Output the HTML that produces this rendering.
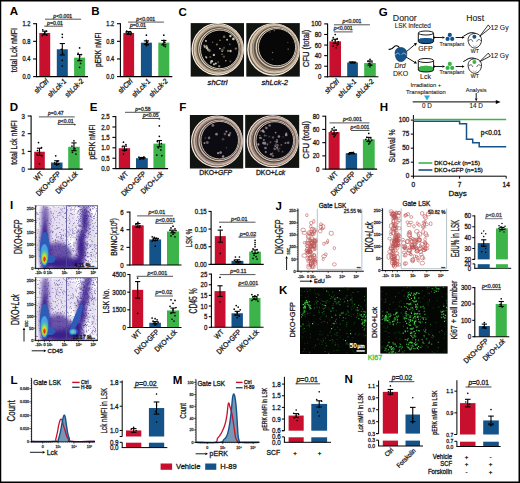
<!DOCTYPE html>
<html><head><meta charset="utf-8"><style>
html,body{margin:0;padding:0;background:#fff;}
svg{display:block;font-family:"Liberation Sans",sans-serif;}
</style></head><body>
<svg width="520" height="483" viewBox="0 0 520 483">
<rect x="0" y="0" width="520" height="483" fill="#fff"/>
<text font-size="10.5" font-weight="bold" fill="#000" transform="translate(9.70 15.30) scale(1.1 1)">A</text>
<rect x="39.30" y="32.96" width="10.90" height="43.64" fill="#c8102e"/>
<rect x="56.80" y="49.27" width="11.00" height="27.33" fill="#145389"/>
<rect x="74.10" y="57.64" width="11.00" height="18.96" fill="#3cb44a"/>
<circle cx="42.75" cy="29.87" r="0.85" fill="#000"/>
<circle cx="46.25" cy="31.19" r="0.85" fill="#000"/>
<circle cx="43.75" cy="34.28" r="0.85" fill="#000"/>
<circle cx="46.75" cy="35.16" r="0.85" fill="#000"/>
<circle cx="44.75" cy="32.52" r="0.85" fill="#000"/>
<circle cx="42.25" cy="35.60" r="0.85" fill="#000"/>
<line x1="44.75" y1="31.19" x2="44.75" y2="34.72" stroke="#000" stroke-width="1.1"/>
<line x1="42.15" y1="31.19" x2="47.35" y2="31.19" stroke="#000" stroke-width="1.1"/>
<line x1="42.15" y1="34.72" x2="47.35" y2="34.72" stroke="#000" stroke-width="1.1"/>
<circle cx="62.30" cy="34.28" r="0.85" fill="#000"/>
<circle cx="62.30" cy="37.37" r="0.85" fill="#000"/>
<circle cx="62.80" cy="53.24" r="0.85" fill="#000"/>
<circle cx="62.30" cy="60.29" r="0.85" fill="#000"/>
<circle cx="62.30" cy="66.02" r="0.85" fill="#000"/>
<circle cx="61.30" cy="49.27" r="0.85" fill="#000"/>
<line x1="62.30" y1="43.54" x2="62.30" y2="55.00" stroke="#000" stroke-width="1.1"/>
<line x1="59.70" y1="43.54" x2="64.90" y2="43.54" stroke="#000" stroke-width="1.1"/>
<line x1="59.70" y1="55.00" x2="64.90" y2="55.00" stroke="#000" stroke-width="1.1"/>
<circle cx="79.60" cy="47.95" r="0.85" fill="#000"/>
<circle cx="78.10" cy="53.24" r="0.85" fill="#000"/>
<circle cx="81.10" cy="54.56" r="0.85" fill="#000"/>
<circle cx="79.60" cy="56.32" r="0.85" fill="#000"/>
<circle cx="78.60" cy="60.29" r="0.85" fill="#000"/>
<circle cx="80.60" cy="63.38" r="0.85" fill="#000"/>
<circle cx="79.60" cy="67.34" r="0.85" fill="#000"/>
<line x1="79.60" y1="54.56" x2="79.60" y2="60.73" stroke="#000" stroke-width="1.1"/>
<line x1="77.00" y1="54.56" x2="82.20" y2="54.56" stroke="#000" stroke-width="1.1"/>
<line x1="77.00" y1="60.73" x2="82.20" y2="60.73" stroke="#000" stroke-width="1.1"/>
<line x1="36.50" y1="23.20" x2="36.50" y2="77.10" stroke="#000" stroke-width="1.1"/>
<line x1="36.00" y1="76.60" x2="88.00" y2="76.60" stroke="#000" stroke-width="1.1"/>
<line x1="33.10" y1="76.60" x2="36.50" y2="76.60" stroke="#000" stroke-width="1.1"/>
<text font-size="6.5" text-anchor="end" fill="#1a1a1a" stroke="#1a1a1a" stroke-width="0.3" transform="translate(30.30 78.94) scale(0.87 1)">0.0</text>
<line x1="33.10" y1="58.97" x2="36.50" y2="58.97" stroke="#000" stroke-width="1.1"/>
<text font-size="6.5" text-anchor="end" fill="#1a1a1a" stroke="#1a1a1a" stroke-width="0.3" transform="translate(30.30 61.31) scale(0.87 1)">0.4</text>
<line x1="33.10" y1="41.33" x2="36.50" y2="41.33" stroke="#000" stroke-width="1.1"/>
<text font-size="6.5" text-anchor="end" fill="#1a1a1a" stroke="#1a1a1a" stroke-width="0.3" transform="translate(30.30 43.67) scale(0.87 1)">0.8</text>
<line x1="33.10" y1="23.70" x2="36.50" y2="23.70" stroke="#000" stroke-width="1.1"/>
<text font-size="6.5" text-anchor="end" fill="#1a1a1a" stroke="#1a1a1a" stroke-width="0.3" transform="translate(30.30 26.04) scale(0.87 1)">1.2</text>
<line x1="45.00" y1="19.20" x2="81.10" y2="19.20" stroke="#555" stroke-width="1.0"/>
<text font-size="5.2" text-anchor="middle" fill="#333" stroke="#333" stroke-width="0.3" transform="translate(62.80 17.60)"><tspan font-style="italic">p</tspan>&lt;0.001</text>
<line x1="44.20" y1="26.20" x2="62.80" y2="26.20" stroke="#555" stroke-width="1.0"/>
<text font-size="5.2" text-anchor="middle" fill="#333" stroke="#333" stroke-width="0.3" transform="translate(55.00 24.60)"><tspan font-style="italic">p</tspan>=0.01</text>
<text font-size="9.29" text-anchor="middle" fill="#1a1a1a" stroke="#1a1a1a" stroke-width="0.3" transform="translate(16.80 50.10) rotate(-90) scale(0.761 1)">total Lck nMFI</text>
<text font-size="7.5" text-anchor="end" fill="#1a1a1a" stroke="#1a1a1a" stroke-width="0.3" transform="translate(49.10 81.70) rotate(-45) scale(0.87 1)"><tspan font-style="italic">shCtrl</tspan></text>
<text font-size="7.5" text-anchor="end" fill="#1a1a1a" stroke="#1a1a1a" stroke-width="0.3" transform="translate(66.70 81.70) rotate(-45) scale(0.87 1)"><tspan font-style="italic">shLck-1</tspan></text>
<text font-size="7.5" text-anchor="end" fill="#1a1a1a" stroke="#1a1a1a" stroke-width="0.3" transform="translate(84.00 81.70) rotate(-45) scale(0.87 1)"><tspan font-style="italic">shLck-2</tspan></text>
<text font-size="10.5" font-weight="bold" fill="#000" transform="translate(91.30 15.30) scale(1.1 1)">B</text>
<rect x="123.30" y="32.96" width="10.80" height="43.64" fill="#c8102e"/>
<rect x="140.90" y="42.66" width="11.00" height="33.94" fill="#145389"/>
<rect x="158.30" y="42.66" width="11.00" height="33.94" fill="#3cb44a"/>
<circle cx="126.70" cy="31.19" r="0.85" fill="#000"/>
<circle cx="130.20" cy="31.63" r="0.85" fill="#000"/>
<circle cx="127.70" cy="33.40" r="0.85" fill="#000"/>
<circle cx="130.70" cy="34.28" r="0.85" fill="#000"/>
<circle cx="128.70" cy="32.52" r="0.85" fill="#000"/>
<circle cx="126.20" cy="32.08" r="0.85" fill="#000"/>
<circle cx="131.20" cy="32.96" r="0.85" fill="#000"/>
<line x1="128.70" y1="31.63" x2="128.70" y2="34.28" stroke="#000" stroke-width="1.1"/>
<line x1="126.10" y1="31.63" x2="131.30" y2="31.63" stroke="#000" stroke-width="1.1"/>
<line x1="126.10" y1="34.28" x2="131.30" y2="34.28" stroke="#000" stroke-width="1.1"/>
<circle cx="146.40" cy="35.16" r="0.85" fill="#000"/>
<circle cx="146.40" cy="40.45" r="0.85" fill="#000"/>
<circle cx="147.40" cy="42.21" r="0.85" fill="#000"/>
<circle cx="145.40" cy="43.98" r="0.85" fill="#000"/>
<circle cx="146.40" cy="45.74" r="0.85" fill="#000"/>
<circle cx="147.90" cy="44.86" r="0.85" fill="#000"/>
<line x1="146.40" y1="40.89" x2="146.40" y2="44.42" stroke="#000" stroke-width="1.1"/>
<line x1="143.80" y1="40.89" x2="149.00" y2="40.89" stroke="#000" stroke-width="1.1"/>
<line x1="143.80" y1="44.42" x2="149.00" y2="44.42" stroke="#000" stroke-width="1.1"/>
<circle cx="163.80" cy="35.16" r="0.85" fill="#000"/>
<circle cx="163.80" cy="40.45" r="0.85" fill="#000"/>
<circle cx="164.80" cy="42.21" r="0.85" fill="#000"/>
<circle cx="162.80" cy="43.98" r="0.85" fill="#000"/>
<circle cx="163.80" cy="45.74" r="0.85" fill="#000"/>
<circle cx="165.30" cy="46.62" r="0.85" fill="#000"/>
<line x1="163.80" y1="40.45" x2="163.80" y2="44.86" stroke="#000" stroke-width="1.1"/>
<line x1="161.20" y1="40.45" x2="166.40" y2="40.45" stroke="#000" stroke-width="1.1"/>
<line x1="161.20" y1="44.86" x2="166.40" y2="44.86" stroke="#000" stroke-width="1.1"/>
<line x1="120.40" y1="23.20" x2="120.40" y2="77.10" stroke="#000" stroke-width="1.1"/>
<line x1="119.90" y1="76.60" x2="172.30" y2="76.60" stroke="#000" stroke-width="1.1"/>
<line x1="117.00" y1="76.60" x2="120.40" y2="76.60" stroke="#000" stroke-width="1.1"/>
<text font-size="6.5" text-anchor="end" fill="#1a1a1a" stroke="#1a1a1a" stroke-width="0.3" transform="translate(114.20 78.94) scale(0.87 1)">0.0</text>
<line x1="117.00" y1="58.97" x2="120.40" y2="58.97" stroke="#000" stroke-width="1.1"/>
<text font-size="6.5" text-anchor="end" fill="#1a1a1a" stroke="#1a1a1a" stroke-width="0.3" transform="translate(114.20 61.31) scale(0.87 1)">0.4</text>
<line x1="117.00" y1="41.33" x2="120.40" y2="41.33" stroke="#000" stroke-width="1.1"/>
<text font-size="6.5" text-anchor="end" fill="#1a1a1a" stroke="#1a1a1a" stroke-width="0.3" transform="translate(114.20 43.67) scale(0.87 1)">0.8</text>
<line x1="117.00" y1="23.70" x2="120.40" y2="23.70" stroke="#000" stroke-width="1.1"/>
<text font-size="6.5" text-anchor="end" fill="#1a1a1a" stroke="#1a1a1a" stroke-width="0.3" transform="translate(114.20 26.04) scale(0.87 1)">1.2</text>
<line x1="128.10" y1="22.10" x2="163.90" y2="22.10" stroke="#555" stroke-width="1.0"/>
<text font-size="5.2" text-anchor="middle" fill="#333" stroke="#333" stroke-width="0.3" transform="translate(145.70 20.50)"><tspan font-style="italic">p</tspan>&lt;0.001</text>
<line x1="129.20" y1="28.50" x2="146.30" y2="28.50" stroke="#555" stroke-width="1.0"/>
<text font-size="5.2" text-anchor="middle" fill="#333" stroke="#333" stroke-width="0.3" transform="translate(137.90 26.90)"><tspan font-style="italic">p</tspan>=0.01</text>
<text font-size="9.29" text-anchor="middle" fill="#1a1a1a" stroke="#1a1a1a" stroke-width="0.3" transform="translate(100.80 49.90) rotate(-90) scale(0.717 1)">pERK nMFI</text>
<text font-size="7.5" text-anchor="end" fill="#1a1a1a" stroke="#1a1a1a" stroke-width="0.3" transform="translate(133.10 81.70) rotate(-45) scale(0.87 1)"><tspan font-style="italic">shCtrl</tspan></text>
<text font-size="7.5" text-anchor="end" fill="#1a1a1a" stroke="#1a1a1a" stroke-width="0.3" transform="translate(150.80 81.70) rotate(-45) scale(0.87 1)"><tspan font-style="italic">shLck-1</tspan></text>
<text font-size="7.5" text-anchor="end" fill="#1a1a1a" stroke="#1a1a1a" stroke-width="0.3" transform="translate(168.20 81.70) rotate(-45) scale(0.87 1)"><tspan font-style="italic">shLck-2</tspan></text>
<filter id="bl03" x="-50%" y="-50%" width="200%" height="200%"><feGaussianBlur stdDeviation="0.35"/></filter>
<text font-size="10.5" font-weight="bold" fill="#000" transform="translate(178.50 15.80) scale(1.1 1)">C</text>
<rect x="190.70" y="23.10" width="53.30" height="53.50" fill="#121412"/>
<g filter="url(#bl03)">
<circle cx="217.70" cy="49.20" r="25.70" fill="#74685a"/>
<circle cx="217.76" cy="49.21" r="25.51" fill="none" stroke="#f4ece0" stroke-width="1.4" opacity="1"/>
<circle cx="218.01" cy="49.23" r="24.74" fill="none" stroke="#6a5e50" stroke-width="0.8" opacity="1"/>
<circle cx="218.33" cy="49.26" r="23.78" fill="none" stroke="#dcc8ae" stroke-width="2.2" opacity="0.95"/>
<circle cx="218.75" cy="49.30" r="22.50" fill="none" stroke="#a89680" stroke-width="1.4" opacity="1"/>
<circle cx="219.06" cy="49.33" r="21.54" fill="none" stroke="#54493e" stroke-width="0.9" opacity="1"/>
<circle cx="219.38" cy="49.36" r="20.58" fill="none" stroke="#e6d8c2" stroke-width="1.1" opacity="0.95"/>
<circle cx="219.65" cy="49.39" r="19.75" fill="none" stroke="#3e362e" stroke-width="0.8" opacity="1"/>
</g>
<circle cx="219.8" cy="49.4" r="19.3" fill="#070707" stroke="#d8d0c2" stroke-width="0.9"/>
<g filter="url(#bl03)">
<circle cx="230.4" cy="61.4" r="0.87" fill="rgb(96,90,74)"/>
<circle cx="208.2" cy="49.7" r="1.21" fill="rgb(177,171,155)"/>
<circle cx="222.2" cy="51.0" r="0.98" fill="rgb(179,173,157)"/>
<circle cx="219.9" cy="48.6" r="0.87" fill="rgb(194,188,172)"/>
<circle cx="224.1" cy="36.7" r="1.29" fill="rgb(106,100,84)"/>
<circle cx="222.5" cy="49.9" r="1.31" fill="rgb(82,76,60)"/>
<circle cx="213.9" cy="54.9" r="1.17" fill="rgb(188,182,166)"/>
<circle cx="204.8" cy="46.8" r="1.06" fill="rgb(206,200,184)"/>
<circle cx="211.7" cy="61.2" r="1.32" fill="rgb(197,191,175)"/>
<circle cx="229.8" cy="44.4" r="0.82" fill="rgb(105,99,83)"/>
<circle cx="235.9" cy="48.6" r="1.18" fill="rgb(110,104,88)"/>
<circle cx="233.4" cy="38.9" r="1.31" fill="rgb(208,202,186)"/>
<circle cx="205.8" cy="56.8" r="0.90" fill="rgb(128,122,106)"/>
<circle cx="205.9" cy="40.9" r="0.96" fill="rgb(209,203,187)"/>
<circle cx="227.1" cy="39.8" r="0.97" fill="rgb(183,177,161)"/>
<circle cx="225.8" cy="60.8" r="0.76" fill="rgb(175,169,153)"/>
<circle cx="216.9" cy="44.5" r="1.04" fill="rgb(121,115,99)"/>
<circle cx="210.3" cy="57.0" r="1.01" fill="rgb(87,81,65)"/>
<circle cx="214.0" cy="64.3" r="1.12" fill="rgb(180,174,158)"/>
<circle cx="223.9" cy="56.6" r="1.20" fill="rgb(83,77,61)"/>
<circle cx="204.2" cy="45.4" r="0.96" fill="rgb(139,133,117)"/>
<circle cx="210.9" cy="62.7" r="1.00" fill="rgb(170,164,148)"/>
<circle cx="218.2" cy="62.2" r="0.95" fill="rgb(81,75,59)"/>
<circle cx="230.4" cy="36.1" r="1.23" fill="rgb(211,205,189)"/>
<circle cx="206.9" cy="47.9" r="1.32" fill="rgb(189,183,167)"/>
<circle cx="209.4" cy="50.6" r="1.31" fill="rgb(131,125,109)"/>
<circle cx="206.4" cy="57.5" r="0.92" fill="rgb(186,180,164)"/>
<circle cx="206.5" cy="46.1" r="1.00" fill="rgb(164,158,142)"/>
<circle cx="228.0" cy="50.9" r="1.06" fill="rgb(125,119,103)"/>
<circle cx="222.0" cy="54.2" r="0.72" fill="rgb(145,139,123)"/>
<circle cx="224.1" cy="47.8" r="0.99" fill="rgb(84,78,62)"/>
<circle cx="220.0" cy="40.2" r="0.77" fill="rgb(148,142,126)"/>
<circle cx="212.6" cy="42.2" r="0.81" fill="rgb(97,91,75)"/>
<circle cx="219.2" cy="66.3" r="1.12" fill="rgb(149,143,127)"/>
<circle cx="215.8" cy="63.4" r="1.01" fill="rgb(207,201,185)"/>
<circle cx="230.5" cy="51.0" r="1.22" fill="rgb(187,181,165)"/>
</g>
<rect x="246.30" y="23.10" width="53.50" height="53.50" fill="#121412"/>
<g filter="url(#bl03)">
<circle cx="273.40" cy="49.50" r="25.80" fill="#74685a"/>
<circle cx="273.51" cy="49.43" r="25.58" fill="none" stroke="#f4ece0" stroke-width="1.4" opacity="1"/>
<circle cx="273.94" cy="49.16" r="24.72" fill="none" stroke="#6a5e50" stroke-width="0.8" opacity="1"/>
<circle cx="274.48" cy="48.81" r="23.64" fill="none" stroke="#dcc8ae" stroke-width="2.2" opacity="0.95"/>
<circle cx="275.20" cy="48.35" r="22.20" fill="none" stroke="#a89680" stroke-width="1.4" opacity="1"/>
<circle cx="275.74" cy="48.01" r="21.12" fill="none" stroke="#54493e" stroke-width="0.9" opacity="1"/>
<circle cx="276.28" cy="47.66" r="20.04" fill="none" stroke="#e6d8c2" stroke-width="1.1" opacity="0.95"/>
<circle cx="276.75" cy="47.36" r="19.10" fill="none" stroke="#3e362e" stroke-width="0.8" opacity="1"/>
</g>
<circle cx="277.0" cy="47.2" r="18.6" fill="#070707" stroke="#d8d0c2" stroke-width="0.9"/>
<g filter="url(#bl03)">
<circle cx="292.7" cy="42.8" r="0.54" fill="rgb(63,57,41)"/>
<circle cx="272.6" cy="52.5" r="0.77" fill="rgb(111,105,89)"/>
<circle cx="272.3" cy="59.4" r="0.51" fill="rgb(98,92,76)"/>
<circle cx="270.0" cy="32.0" r="0.66" fill="rgb(100,94,78)"/>
<circle cx="274.2" cy="30.7" r="0.65" fill="rgb(120,114,98)"/>
<circle cx="287.9" cy="42.5" r="0.51" fill="rgb(117,111,95)"/>
<circle cx="288.2" cy="49.2" r="0.86" fill="rgb(80,74,58)"/>
</g>
<text font-size="7.6" text-anchor="middle" font-style="italic" fill="#1a1a1a" stroke="#1a1a1a" stroke-width="0.3" transform="translate(217.50 84.80)">shCtrl</text>
<text font-size="7.6" text-anchor="middle" font-style="italic" fill="#1a1a1a" stroke="#1a1a1a" stroke-width="0.3" transform="translate(274.80 84.80)">shLck-2</text>
<rect x="329.40" y="41.36" width="11.60" height="35.44" fill="#c8102e"/>
<rect x="347.20" y="62.52" width="10.70" height="14.28" fill="#145389"/>
<rect x="364.20" y="63.05" width="11.60" height="13.75" fill="#3cb44a"/>
<circle cx="335.20" cy="34.48" r="0.85" fill="#000"/>
<circle cx="333.20" cy="37.65" r="0.85" fill="#000"/>
<circle cx="337.20" cy="38.71" r="0.85" fill="#000"/>
<circle cx="332.20" cy="40.30" r="0.85" fill="#000"/>
<circle cx="338.20" cy="41.89" r="0.85" fill="#000"/>
<circle cx="334.20" cy="43.47" r="0.85" fill="#000"/>
<circle cx="337.20" cy="45.06" r="0.85" fill="#000"/>
<circle cx="333.20" cy="46.12" r="0.85" fill="#000"/>
<circle cx="336.20" cy="47.70" r="0.85" fill="#000"/>
<circle cx="335.20" cy="39.77" r="0.85" fill="#000"/>
<circle cx="338.20" cy="44.00" r="0.85" fill="#000"/>
<line x1="335.20" y1="39.24" x2="335.20" y2="43.47" stroke="#000" stroke-width="1.1"/>
<line x1="332.60" y1="39.24" x2="337.80" y2="39.24" stroke="#000" stroke-width="1.1"/>
<line x1="332.60" y1="43.47" x2="337.80" y2="43.47" stroke="#000" stroke-width="1.1"/>
<circle cx="349.55" cy="61.99" r="0.85" fill="#000"/>
<circle cx="351.05" cy="62.25" r="0.85" fill="#000"/>
<circle cx="352.55" cy="61.99" r="0.85" fill="#000"/>
<circle cx="354.05" cy="62.52" r="0.85" fill="#000"/>
<circle cx="355.55" cy="62.25" r="0.85" fill="#000"/>
<line x1="352.55" y1="61.99" x2="352.55" y2="63.05" stroke="#000" stroke-width="1.1"/>
<line x1="349.95" y1="61.99" x2="355.15" y2="61.99" stroke="#000" stroke-width="1.1"/>
<line x1="349.95" y1="63.05" x2="355.15" y2="63.05" stroke="#000" stroke-width="1.1"/>
<circle cx="370.00" cy="59.34" r="0.85" fill="#000"/>
<circle cx="368.00" cy="61.46" r="0.85" fill="#000"/>
<circle cx="372.00" cy="61.99" r="0.85" fill="#000"/>
<circle cx="369.00" cy="63.57" r="0.85" fill="#000"/>
<circle cx="371.00" cy="65.16" r="0.85" fill="#000"/>
<circle cx="370.00" cy="66.75" r="0.85" fill="#000"/>
<line x1="370.00" y1="60.93" x2="370.00" y2="65.16" stroke="#000" stroke-width="1.1"/>
<line x1="367.40" y1="60.93" x2="372.60" y2="60.93" stroke="#000" stroke-width="1.1"/>
<line x1="367.40" y1="65.16" x2="372.60" y2="65.16" stroke="#000" stroke-width="1.1"/>
<line x1="327.60" y1="23.40" x2="327.60" y2="77.30" stroke="#000" stroke-width="1.1"/>
<line x1="327.10" y1="76.80" x2="378.40" y2="76.80" stroke="#000" stroke-width="1.1"/>
<line x1="324.20" y1="76.80" x2="327.60" y2="76.80" stroke="#000" stroke-width="1.1"/>
<text font-size="7.0" text-anchor="end" fill="#1a1a1a" stroke="#1a1a1a" stroke-width="0.3" transform="translate(321.40 79.32) scale(0.87 1)">0</text>
<line x1="324.20" y1="66.22" x2="327.60" y2="66.22" stroke="#000" stroke-width="1.1"/>
<text font-size="7.0" text-anchor="end" fill="#1a1a1a" stroke="#1a1a1a" stroke-width="0.3" transform="translate(321.40 68.74) scale(0.87 1)">20</text>
<line x1="324.20" y1="55.64" x2="327.60" y2="55.64" stroke="#000" stroke-width="1.1"/>
<text font-size="7.0" text-anchor="end" fill="#1a1a1a" stroke="#1a1a1a" stroke-width="0.3" transform="translate(321.40 58.16) scale(0.87 1)">40</text>
<line x1="324.20" y1="45.06" x2="327.60" y2="45.06" stroke="#000" stroke-width="1.1"/>
<text font-size="7.0" text-anchor="end" fill="#1a1a1a" stroke="#1a1a1a" stroke-width="0.3" transform="translate(321.40 47.58) scale(0.87 1)">60</text>
<line x1="324.20" y1="34.48" x2="327.60" y2="34.48" stroke="#000" stroke-width="1.1"/>
<text font-size="7.0" text-anchor="end" fill="#1a1a1a" stroke="#1a1a1a" stroke-width="0.3" transform="translate(321.40 37.00) scale(0.87 1)">80</text>
<line x1="324.20" y1="23.90" x2="327.60" y2="23.90" stroke="#000" stroke-width="1.1"/>
<text font-size="7.0" text-anchor="end" fill="#1a1a1a" stroke="#1a1a1a" stroke-width="0.3" transform="translate(321.40 26.42) scale(0.87 1)">100</text>
<line x1="333.90" y1="24.80" x2="369.90" y2="24.80" stroke="#555" stroke-width="1.0"/>
<text font-size="5.2" text-anchor="middle" fill="#333" stroke="#333" stroke-width="0.3" transform="translate(352.00 23.20)"><tspan font-style="italic">p</tspan>&lt;0.001</text>
<line x1="333.90" y1="31.90" x2="352.60" y2="31.90" stroke="#555" stroke-width="1.0"/>
<text font-size="5.2" text-anchor="middle" fill="#333" stroke="#333" stroke-width="0.3" transform="translate(343.20 30.30)"><tspan font-style="italic">p</tspan>&lt;0.001</text>
<text font-size="9.29" text-anchor="middle" fill="#1a1a1a" stroke="#1a1a1a" stroke-width="0.3" transform="translate(309.30 48.55) rotate(-90) scale(0.83 1)">CFU (total)</text>
<text font-size="7.5" text-anchor="end" fill="#1a1a1a" stroke="#1a1a1a" stroke-width="0.3" transform="translate(339.60 82.00) rotate(-45) scale(0.87 1)"><tspan font-style="italic">shCtrl</tspan></text>
<text font-size="7.5" text-anchor="end" fill="#1a1a1a" stroke="#1a1a1a" stroke-width="0.3" transform="translate(356.90 82.00) rotate(-45) scale(0.87 1)"><tspan font-style="italic">shLck-1</tspan></text>
<text font-size="7.5" text-anchor="end" fill="#1a1a1a" stroke="#1a1a1a" stroke-width="0.3" transform="translate(374.40 82.00) rotate(-45) scale(0.87 1)"><tspan font-style="italic">shLck-2</tspan></text>
<text font-size="10.5" font-weight="bold" fill="#000" transform="translate(378.80 16.00) scale(1.1 1)">G</text>
<text font-size="8.8" text-anchor="middle" fill="#1a1a1a" stroke="#1a1a1a" stroke-width="0.1" transform="translate(404.80 21.00)">Donor</text>
<text font-size="6.4" text-anchor="middle" fill="#1a1a1a" stroke="#1a1a1a" stroke-width="0.1" transform="translate(412.80 28.40)">LSK infected</text>
<text font-size="8.6" text-anchor="middle" fill="#1a1a1a" stroke="#1a1a1a" stroke-width="0.1" transform="translate(475.20 21.20)">Host</text>
<path d="M418.3,40.0 L418.3,41.6 A7.650000000000006,2.0 0 0 0 433.6,41.6 L433.6,40.0 A7.650000000000006,2.0 0 0 0 418.3,40.0Z" fill="#145389"/>
<ellipse cx="425.95000000000005" cy="40.0" rx="7.650000000000006" ry="2.0" fill="#145389" opacity="0.85"/>
<path d="M418.3,33.0 L418.3,41.6 A7.650000000000006,2.0 0 0 0 433.6,41.6 L433.6,33.0" fill="none" stroke="#000" stroke-width="0.9"/>
<ellipse cx="425.95000000000005" cy="33.0" rx="7.650000000000006" ry="2.0" fill="#fff" stroke="#000" stroke-width="0.9"/>
<path d="M418.3,67.8 L418.3,70.0 A7.650000000000006,2.0 0 0 0 433.6,70.0 L433.6,67.8 A7.650000000000006,2.0 0 0 0 418.3,67.8Z" fill="#3cb44a"/>
<ellipse cx="425.95000000000005" cy="67.8" rx="7.650000000000006" ry="2.0" fill="#3cb44a" opacity="0.85"/>
<path d="M418.3,60.5 L418.3,70.0 A7.650000000000006,2.0 0 0 0 433.6,70.0 L433.6,60.5" fill="none" stroke="#000" stroke-width="0.9"/>
<ellipse cx="425.95000000000005" cy="60.5" rx="7.650000000000006" ry="2.0" fill="#fff" stroke="#000" stroke-width="0.9"/>
<text font-size="7.0" text-anchor="middle" fill="#1a1a1a" stroke="#1a1a1a" stroke-width="0.1" transform="translate(425.50 51.00)">GFP</text>
<text font-size="7.0" text-anchor="middle" fill="#1a1a1a" stroke="#1a1a1a" stroke-width="0.1" transform="translate(425.50 79.00)">Lck</text>
<path d="M388.6,49.2 C391,49.8 392.5,48.6 394,46.8 C395.5,45.2 397.5,45.4 399.5,47.6" fill="none" stroke="#000" stroke-width="1.1"/>
<path d="M395.2,54 C394.6,49.5 397.5,47.6 400.8,47.6 C404.4,47.6 407.2,50 406.8,54.5 C406.6,58 404.6,61.4 400.8,61.6 C397,61.4 395.4,58 395.2,54Z" fill="#145389" stroke="#0d2f52" stroke-width="0.6"/>
<path d="M395.6,55 C396.6,52.6 398.8,52.6 399.8,54.6" fill="none" stroke="#b8c4d0" stroke-width="0.9"/>
<path d="M401.8,54.6 C402.8,52.6 405.2,52.6 406.2,55" fill="none" stroke="#b8c4d0" stroke-width="0.9"/>
<line x1="406.50" y1="51.50" x2="414.69" y2="44.71" stroke="#000" stroke-width="0.9"/>
<path d="M417.00,42.80 L415.69,45.92 L413.69,43.51Z" fill="#000"/>
<line x1="406.00" y1="57.00" x2="414.43" y2="62.06" stroke="#000" stroke-width="0.9"/>
<path d="M417.00,63.60 L413.62,63.39 L415.23,60.72Z" fill="#000"/>
<text font-size="7.0" text-anchor="middle" font-style="italic" fill="#1a1a1a" stroke="#1a1a1a" stroke-width="0.1" transform="translate(400.10 68.20)">Drd</text>
<text font-size="7.0" text-anchor="middle" fill="#1a1a1a" stroke="#1a1a1a" stroke-width="0.1" transform="translate(400.50 76.30)">DKO</text>
<text font-size="5.8" text-anchor="middle" fill="#1a1a1a" stroke="#1a1a1a" stroke-width="0.1" transform="translate(425.80 86.60)">Irradiation +</text>
<text font-size="5.8" text-anchor="middle" fill="#1a1a1a" stroke="#1a1a1a" stroke-width="0.1" transform="translate(425.80 93.60)">Transplantation</text>
<circle cx="434.4" cy="37.5" r="0.9" fill="#000"/>
<line x1="434.40" y1="37.50" x2="442.40" y2="37.50" stroke="#000" stroke-width="0.9"/>
<path d="M445.00,37.50 L442.40,38.85 L442.40,36.15Z" fill="#000"/>
<circle cx="449.80" cy="34.90" r="2.1" fill="#145389"/>
<circle cx="447.60" cy="38.90" r="2.1" fill="#145389"/>
<circle cx="452.20" cy="38.90" r="2.1" fill="#145389"/>
<line x1="455.60" y1="37.50" x2="462.00" y2="37.50" stroke="#000" stroke-width="0.9"/>
<path d="M464.60,37.50 L462.00,38.85 L462.00,36.15Z" fill="#000"/>
<text font-size="5.3" text-anchor="middle" fill="#1a1a1a" stroke="#1a1a1a" stroke-width="0.1" transform="translate(451.80 45.80)">Transplant</text>
<path d="M463.3,36.3 C465.8,35.3 467.8,32.8 471.3,32.699999999999996 C473.8,32.699999999999996 475.8,33.3 476.3,33.9" fill="none" stroke="#000" stroke-width="1"/>
<path d="M474.8,33.5 C479.8,33.5 482.0,37.3 481.40000000000003,41.3 C480.8,45.3 477.8,47.9 474.8,48.099999999999994 C471.8,47.9 468.8,45.3 468.2,41.3 C467.6,37.3 469.8,33.5 474.8,33.5Z" fill="#fff" stroke="#000" stroke-width="0.8"/>
<path d="M468.6,40.9 C470.0,38.699999999999996 472.40000000000003,39.3 472.8,41.699999999999996" fill="none" stroke="#000" stroke-width="0.6"/>
<path d="M476.8,41.699999999999996 C477.2,39.3 479.6,38.699999999999996 481.0,40.9" fill="none" stroke="#000" stroke-width="0.6"/>
<path d="M472.8,45.3 L474.8,46.9 L476.8,45.3" fill="none" stroke="#777" stroke-width="0.5"/>
<circle cx="474.40000000000003" cy="36.699999999999996" r="2.0" fill="#145389"/>
<path d="M479.8,36.3 L488.3,24.9 L490.40000000000003,27.9Z" fill="#fff" stroke="#000" stroke-width="0.8" stroke-linejoin="round"/>
<text font-size="6.8" fill="#1a1a1a" stroke="#1a1a1a" stroke-width="0.1" transform="translate(490.40 29.60)">12 Gy</text>
<text font-size="5.2" text-anchor="middle" fill="#1a1a1a" stroke="#1a1a1a" stroke-width="0.1" transform="translate(474.80 52.80)">WT</text>
<circle cx="434.4" cy="66.5" r="0.9" fill="#000"/>
<line x1="434.40" y1="66.50" x2="442.40" y2="66.50" stroke="#000" stroke-width="0.9"/>
<path d="M445.00,66.50 L442.40,67.85 L442.40,65.15Z" fill="#000"/>
<circle cx="449.80" cy="63.90" r="2.1" fill="#3cb44a"/>
<circle cx="447.60" cy="67.90" r="2.1" fill="#3cb44a"/>
<circle cx="452.20" cy="67.90" r="2.1" fill="#3cb44a"/>
<line x1="455.60" y1="66.50" x2="462.00" y2="66.50" stroke="#000" stroke-width="0.9"/>
<path d="M464.60,66.50 L462.00,67.85 L462.00,65.15Z" fill="#000"/>
<text font-size="5.3" text-anchor="middle" fill="#1a1a1a" stroke="#1a1a1a" stroke-width="0.1" transform="translate(451.80 74.40)">Transplant</text>
<path d="M463.3,61.599999999999994 C465.8,60.599999999999994 467.8,58.099999999999994 471.3,57.99999999999999 C473.8,57.99999999999999 475.8,58.599999999999994 476.3,59.199999999999996" fill="none" stroke="#000" stroke-width="1"/>
<path d="M474.8,58.8 C479.8,58.8 482.0,62.599999999999994 481.40000000000003,66.6 C480.8,70.6 477.8,73.19999999999999 474.8,73.39999999999999 C471.8,73.19999999999999 468.8,70.6 468.2,66.6 C467.6,62.599999999999994 469.8,58.8 474.8,58.8Z" fill="#fff" stroke="#000" stroke-width="0.8"/>
<path d="M468.6,66.19999999999999 C470.0,63.99999999999999 472.40000000000003,64.6 472.8,67.0" fill="none" stroke="#000" stroke-width="0.6"/>
<path d="M476.8,67.0 C477.2,64.6 479.6,63.99999999999999 481.0,66.19999999999999" fill="none" stroke="#000" stroke-width="0.6"/>
<path d="M472.8,70.6 L474.8,72.19999999999999 L476.8,70.6" fill="none" stroke="#777" stroke-width="0.5"/>
<circle cx="474.40000000000003" cy="61.99999999999999" r="2.0" fill="#3cb44a"/>
<path d="M479.8,61.599999999999994 L488.3,53.1 L490.40000000000003,56.1Z" fill="#fff" stroke="#000" stroke-width="0.8" stroke-linejoin="round"/>
<text font-size="6.8" fill="#1a1a1a" stroke="#1a1a1a" stroke-width="0.1" transform="translate(490.40 57.80)">12 Gy</text>
<text font-size="5.2" text-anchor="middle" fill="#1a1a1a" stroke="#1a1a1a" stroke-width="0.1" transform="translate(474.80 78.00)">WT</text>
<text font-size="5.6" text-anchor="middle" fill="#1a1a1a" stroke="#1a1a1a" stroke-width="0.1" transform="translate(476.20 91.80)">Analysis</text>
<line x1="476.20" y1="93.00" x2="476.20" y2="98.60" stroke="#000" stroke-width="0.9"/>
<path d="M476.20,101.20 L474.85,98.60 L477.55,98.60Z" fill="#000"/>
<path d="M424,95.6 L430,95.6 L427,100.4Z" fill="#2aa8e0"/>
<line x1="412.70" y1="101.90" x2="497.50" y2="101.90" stroke="#000" stroke-width="1"/>
<path d="M500.6,101.9 L495.8,99.9 L495.8,103.9Z" fill="#000"/>
<text font-size="6.3" text-anchor="middle" fill="#1a1a1a" stroke="#1a1a1a" stroke-width="0.1" transform="translate(427.00 108.40)">0 D</text>
<text font-size="6.3" text-anchor="middle" fill="#1a1a1a" stroke="#1a1a1a" stroke-width="0.1" transform="translate(476.20 108.40)">14 D</text>
<text font-size="10.5" font-weight="bold" fill="#000" transform="translate(379.80 110.60) scale(1.1 1)">H</text>
<line x1="413.40" y1="115.00" x2="413.40" y2="176.70" stroke="#000" stroke-width="1"/>
<line x1="412.90" y1="176.20" x2="506.20" y2="176.20" stroke="#000" stroke-width="1"/>
<line x1="410.80" y1="176.20" x2="413.40" y2="176.20" stroke="#000" stroke-width="1"/>
<text font-size="6.3" text-anchor="end" fill="#1a1a1a" stroke="#1a1a1a" stroke-width="0.3" transform="translate(409.20 178.45)">0</text>
<line x1="410.80" y1="162.17" x2="413.40" y2="162.17" stroke="#000" stroke-width="1"/>
<text font-size="6.3" text-anchor="end" fill="#1a1a1a" stroke="#1a1a1a" stroke-width="0.3" transform="translate(409.20 164.42)">25</text>
<line x1="410.80" y1="148.15" x2="413.40" y2="148.15" stroke="#000" stroke-width="1"/>
<text font-size="6.3" text-anchor="end" fill="#1a1a1a" stroke="#1a1a1a" stroke-width="0.3" transform="translate(409.20 150.40)">50</text>
<line x1="410.80" y1="134.12" x2="413.40" y2="134.12" stroke="#000" stroke-width="1"/>
<text font-size="6.3" text-anchor="end" fill="#1a1a1a" stroke="#1a1a1a" stroke-width="0.3" transform="translate(409.20 136.38)">75</text>
<line x1="410.80" y1="120.10" x2="413.40" y2="120.10" stroke="#000" stroke-width="1"/>
<text font-size="6.3" text-anchor="end" fill="#1a1a1a" stroke="#1a1a1a" stroke-width="0.3" transform="translate(409.20 122.35)">100</text>
<line x1="413.40" y1="176.20" x2="413.40" y2="178.60" stroke="#000" stroke-width="1"/>
<text font-size="6.6" text-anchor="middle" fill="#1a1a1a" stroke="#1a1a1a" stroke-width="0.3" transform="translate(413.40 187.40)">0</text>
<line x1="459.60" y1="176.20" x2="459.60" y2="178.60" stroke="#000" stroke-width="1"/>
<text font-size="6.6" text-anchor="middle" fill="#1a1a1a" stroke="#1a1a1a" stroke-width="0.3" transform="translate(459.60 187.40)">7</text>
<line x1="506.20" y1="176.20" x2="506.20" y2="178.60" stroke="#000" stroke-width="1"/>
<text font-size="6.6" text-anchor="middle" fill="#1a1a1a" stroke="#1a1a1a" stroke-width="0.3" transform="translate(506.20 187.40)">14</text>
<text font-size="8" text-anchor="middle" fill="#1a1a1a" stroke="#1a1a1a" stroke-width="0.3" transform="translate(457.70 196.00)">Days</text>
<text font-size="9.5" text-anchor="middle" fill="#1a1a1a" stroke="#1a1a1a" stroke-width="0.3" transform="translate(395.20 145.85) rotate(-90) scale(0.742 1)">Survival %</text>
<polyline points="413.4,121.2 459.6,121.2 459.6,123.8 466.5,123.8 466.5,139.3 472.7,139.3 472.7,142.7 479.2,142.7 479.2,146.7 506.2,146.7" fill="none" stroke="#145389" stroke-width="1.5"/>
<line x1="413.40" y1="119.60" x2="506.20" y2="119.60" stroke="#3cb44a" stroke-width="1.5"/>
<text font-size="6.6" fill="#1a1a1a" stroke="#1a1a1a" stroke-width="0.3" transform="translate(480.80 134.60)">p&lt;0.01</text>
<line x1="418.50" y1="163.00" x2="432.30" y2="163.00" stroke="#3cb44a" stroke-width="1.6"/>
<line x1="418.50" y1="170.00" x2="432.30" y2="170.00" stroke="#145389" stroke-width="1.6"/>
<text font-size="6.1" fill="#1a1a1a" stroke="#1a1a1a" stroke-width="0.3" transform="translate(434.20 165.20)">DKO+<tspan font-style="italic">Lck</tspan> (n=15)</text>
<text font-size="6.1" fill="#1a1a1a" stroke="#1a1a1a" stroke-width="0.3" transform="translate(434.20 172.20)">DKO+GFP (n=15)</text>
<text font-size="10.5" font-weight="bold" fill="#000" transform="translate(9.70 110.60) scale(1.1 1)">D</text>
<rect x="34.20" y="151.75" width="10.60" height="17.35" fill="#c8102e"/>
<rect x="51.00" y="162.55" width="11.50" height="6.55" fill="#145389"/>
<rect x="68.20" y="146.80" width="11.50" height="22.30" fill="#3cb44a"/>
<circle cx="38.50" cy="142.55" r="0.85" fill="#000"/>
<circle cx="41.50" cy="147.51" r="0.85" fill="#000"/>
<circle cx="37.50" cy="150.51" r="0.85" fill="#000"/>
<circle cx="39.50" cy="152.28" r="0.85" fill="#000"/>
<circle cx="42.00" cy="155.82" r="0.85" fill="#000"/>
<circle cx="37.00" cy="154.06" r="0.85" fill="#000"/>
<circle cx="39.50" cy="163.79" r="0.85" fill="#000"/>
<line x1="39.50" y1="148.21" x2="39.50" y2="155.29" stroke="#000" stroke-width="1.1"/>
<line x1="36.90" y1="148.21" x2="42.10" y2="148.21" stroke="#000" stroke-width="1.1"/>
<line x1="36.90" y1="155.29" x2="42.10" y2="155.29" stroke="#000" stroke-width="1.1"/>
<circle cx="55.75" cy="155.82" r="0.85" fill="#000"/>
<circle cx="57.75" cy="161.13" r="0.85" fill="#000"/>
<circle cx="54.75" cy="162.91" r="0.85" fill="#000"/>
<circle cx="58.75" cy="163.79" r="0.85" fill="#000"/>
<circle cx="56.75" cy="165.21" r="0.85" fill="#000"/>
<line x1="56.75" y1="160.78" x2="56.75" y2="164.32" stroke="#000" stroke-width="1.1"/>
<line x1="54.15" y1="160.78" x2="59.35" y2="160.78" stroke="#000" stroke-width="1.1"/>
<line x1="54.15" y1="164.32" x2="59.35" y2="164.32" stroke="#000" stroke-width="1.1"/>
<circle cx="74.75" cy="124.50" r="0.85" fill="#000"/>
<circle cx="71.95" cy="146.09" r="0.85" fill="#000"/>
<circle cx="74.95" cy="148.75" r="0.85" fill="#000"/>
<circle cx="72.45" cy="152.28" r="0.85" fill="#000"/>
<circle cx="75.95" cy="154.06" r="0.85" fill="#000"/>
<circle cx="73.95" cy="140.78" r="0.85" fill="#000"/>
<line x1="73.95" y1="142.90" x2="73.95" y2="150.69" stroke="#000" stroke-width="1.1"/>
<line x1="71.35" y1="142.90" x2="76.55" y2="142.90" stroke="#000" stroke-width="1.1"/>
<line x1="71.35" y1="150.69" x2="76.55" y2="150.69" stroke="#000" stroke-width="1.1"/>
<line x1="31.10" y1="115.50" x2="31.10" y2="169.60" stroke="#000" stroke-width="1.1"/>
<line x1="30.60" y1="169.10" x2="82.70" y2="169.10" stroke="#000" stroke-width="1.1"/>
<line x1="27.70" y1="169.10" x2="31.10" y2="169.10" stroke="#000" stroke-width="1.1"/>
<text font-size="7.0" text-anchor="end" fill="#1a1a1a" stroke="#1a1a1a" stroke-width="0.3" transform="translate(24.90 171.62) scale(0.87 1)">0</text>
<line x1="27.70" y1="151.40" x2="31.10" y2="151.40" stroke="#000" stroke-width="1.1"/>
<text font-size="7.0" text-anchor="end" fill="#1a1a1a" stroke="#1a1a1a" stroke-width="0.3" transform="translate(24.90 153.92) scale(0.87 1)">1</text>
<line x1="27.70" y1="133.70" x2="31.10" y2="133.70" stroke="#000" stroke-width="1.1"/>
<text font-size="7.0" text-anchor="end" fill="#1a1a1a" stroke="#1a1a1a" stroke-width="0.3" transform="translate(24.90 136.22) scale(0.87 1)">2</text>
<line x1="27.70" y1="116.00" x2="31.10" y2="116.00" stroke="#000" stroke-width="1.1"/>
<text font-size="7.0" text-anchor="end" fill="#1a1a1a" stroke="#1a1a1a" stroke-width="0.3" transform="translate(24.90 118.52) scale(0.87 1)">3</text>
<line x1="38.90" y1="116.90" x2="74.70" y2="116.90" stroke="#555" stroke-width="1.0"/>
<text font-size="5.0" text-anchor="middle" fill="#333" stroke="#333" stroke-width="0.3" transform="translate(55.80 115.30)"><tspan font-style="italic">p</tspan>=0.47</text>
<line x1="57.80" y1="124.40" x2="74.70" y2="124.40" stroke="#555" stroke-width="1.0"/>
<text font-size="5.0" text-anchor="middle" fill="#333" stroke="#333" stroke-width="0.3" transform="translate(65.80 122.80)"><tspan font-style="italic">p</tspan>&lt;0.01</text>
<text font-size="9.72" text-anchor="middle" fill="#1a1a1a" stroke="#1a1a1a" stroke-width="0.3" transform="translate(17.00 142.60) rotate(-90) scale(0.731 1)">total Lck nMFI</text>
<text font-size="7.5" text-anchor="end" fill="#1a1a1a" stroke="#1a1a1a" stroke-width="0.3" transform="translate(43.90 174.40) rotate(-45) scale(0.87 1)">WT</text>
<text font-size="7.5" text-anchor="end" fill="#1a1a1a" stroke="#1a1a1a" stroke-width="0.3" transform="translate(61.10 174.40) rotate(-45) scale(0.87 1)">DKO+<tspan font-style="italic">GFP</tspan></text>
<text font-size="7.5" text-anchor="end" fill="#1a1a1a" stroke="#1a1a1a" stroke-width="0.3" transform="translate(78.30 174.40) rotate(-45) scale(0.87 1)">DKO+<tspan font-style="italic">Lck</tspan></text>
<text font-size="10.5" font-weight="bold" fill="#000" transform="translate(89.80 110.60) scale(1.1 1)">E</text>
<rect x="118.80" y="148.22" width="11.30" height="20.38" fill="#c8102e"/>
<rect x="136.00" y="158.20" width="11.80" height="10.40" fill="#145389"/>
<rect x="153.40" y="143.64" width="11.90" height="24.96" fill="#3cb44a"/>
<circle cx="123.45" cy="142.18" r="0.85" fill="#000"/>
<circle cx="125.95" cy="144.68" r="0.85" fill="#000"/>
<circle cx="122.45" cy="146.76" r="0.85" fill="#000"/>
<circle cx="126.45" cy="149.46" r="0.85" fill="#000"/>
<circle cx="124.45" cy="150.92" r="0.85" fill="#000"/>
<circle cx="123.45" cy="154.04" r="0.85" fill="#000"/>
<line x1="124.45" y1="146.14" x2="124.45" y2="150.30" stroke="#000" stroke-width="1.1"/>
<line x1="121.85" y1="146.14" x2="127.05" y2="146.14" stroke="#000" stroke-width="1.1"/>
<line x1="121.85" y1="150.30" x2="127.05" y2="150.30" stroke="#000" stroke-width="1.1"/>
<circle cx="138.90" cy="157.16" r="0.85" fill="#000"/>
<circle cx="140.40" cy="158.20" r="0.85" fill="#000"/>
<circle cx="141.90" cy="157.58" r="0.85" fill="#000"/>
<circle cx="143.40" cy="158.62" r="0.85" fill="#000"/>
<circle cx="144.90" cy="157.78" r="0.85" fill="#000"/>
<circle cx="139.90" cy="159.24" r="0.85" fill="#000"/>
<circle cx="143.90" cy="156.95" r="0.85" fill="#000"/>
<line x1="141.90" y1="157.58" x2="141.90" y2="158.82" stroke="#000" stroke-width="1.1"/>
<line x1="139.30" y1="157.58" x2="144.50" y2="157.58" stroke="#000" stroke-width="1.1"/>
<line x1="139.30" y1="158.82" x2="144.50" y2="158.82" stroke="#000" stroke-width="1.1"/>
<circle cx="159.35" cy="118.68" r="0.85" fill="#000"/>
<circle cx="159.35" cy="125.96" r="0.85" fill="#000"/>
<circle cx="159.35" cy="136.36" r="0.85" fill="#000"/>
<circle cx="157.35" cy="141.56" r="0.85" fill="#000"/>
<circle cx="161.35" cy="143.64" r="0.85" fill="#000"/>
<circle cx="158.35" cy="147.80" r="0.85" fill="#000"/>
<circle cx="160.85" cy="149.88" r="0.85" fill="#000"/>
<circle cx="156.85" cy="155.08" r="0.85" fill="#000"/>
<circle cx="161.85" cy="155.70" r="0.85" fill="#000"/>
<line x1="159.35" y1="140.52" x2="159.35" y2="146.76" stroke="#000" stroke-width="1.1"/>
<line x1="156.75" y1="140.52" x2="161.95" y2="140.52" stroke="#000" stroke-width="1.1"/>
<line x1="156.75" y1="146.76" x2="161.95" y2="146.76" stroke="#000" stroke-width="1.1"/>
<line x1="115.80" y1="116.10" x2="115.80" y2="169.10" stroke="#000" stroke-width="1.1"/>
<line x1="115.30" y1="168.60" x2="168.10" y2="168.60" stroke="#000" stroke-width="1.1"/>
<line x1="112.40" y1="168.60" x2="115.80" y2="168.60" stroke="#000" stroke-width="1.1"/>
<text font-size="7.0" text-anchor="end" fill="#1a1a1a" stroke="#1a1a1a" stroke-width="0.3" transform="translate(109.60 171.12) scale(0.87 1)">0.0</text>
<line x1="112.40" y1="158.20" x2="115.80" y2="158.20" stroke="#000" stroke-width="1.1"/>
<text font-size="7.0" text-anchor="end" fill="#1a1a1a" stroke="#1a1a1a" stroke-width="0.3" transform="translate(109.60 160.72) scale(0.87 1)">0.5</text>
<line x1="112.40" y1="147.80" x2="115.80" y2="147.80" stroke="#000" stroke-width="1.1"/>
<text font-size="7.0" text-anchor="end" fill="#1a1a1a" stroke="#1a1a1a" stroke-width="0.3" transform="translate(109.60 150.32) scale(0.87 1)">1.0</text>
<line x1="112.40" y1="137.40" x2="115.80" y2="137.40" stroke="#000" stroke-width="1.1"/>
<text font-size="7.0" text-anchor="end" fill="#1a1a1a" stroke="#1a1a1a" stroke-width="0.3" transform="translate(109.60 139.92) scale(0.87 1)">1.5</text>
<line x1="112.40" y1="127.00" x2="115.80" y2="127.00" stroke="#000" stroke-width="1.1"/>
<text font-size="7.0" text-anchor="end" fill="#1a1a1a" stroke="#1a1a1a" stroke-width="0.3" transform="translate(109.60 129.52) scale(0.87 1)">2.0</text>
<line x1="112.40" y1="116.60" x2="115.80" y2="116.60" stroke="#000" stroke-width="1.1"/>
<text font-size="7.0" text-anchor="end" fill="#1a1a1a" stroke="#1a1a1a" stroke-width="0.3" transform="translate(109.60 119.12) scale(0.87 1)">2.5</text>
<line x1="125.00" y1="112.30" x2="159.80" y2="112.30" stroke="#555" stroke-width="1.0"/>
<text font-size="5.0" text-anchor="middle" fill="#333" stroke="#333" stroke-width="0.3" transform="translate(142.90 110.70)"><tspan font-style="italic">p</tspan>=0.58</text>
<line x1="141.90" y1="118.50" x2="159.80" y2="118.50" stroke="#555" stroke-width="1.0"/>
<text font-size="5.0" text-anchor="middle" fill="#333" stroke="#333" stroke-width="0.3" transform="translate(150.80 116.90)"><tspan font-style="italic">p</tspan>&lt;0.05</text>
<text font-size="8.86" text-anchor="middle" fill="#1a1a1a" stroke="#1a1a1a" stroke-width="0.3" transform="translate(95.30 142.00) rotate(-90) scale(0.764 1)">pERK nMFI</text>
<text font-size="7.5" text-anchor="end" fill="#1a1a1a" stroke="#1a1a1a" stroke-width="0.3" transform="translate(128.80 174.40) rotate(-45) scale(0.87 1)">WT</text>
<text font-size="7.5" text-anchor="end" fill="#1a1a1a" stroke="#1a1a1a" stroke-width="0.3" transform="translate(146.30 174.40) rotate(-45) scale(0.87 1)">DKO+<tspan font-style="italic">GFP</tspan></text>
<text font-size="7.5" text-anchor="end" fill="#1a1a1a" stroke="#1a1a1a" stroke-width="0.3" transform="translate(163.70 174.40) rotate(-45) scale(0.87 1)">DKO+<tspan font-style="italic">Lck</tspan></text>
<text font-size="10.5" font-weight="bold" fill="#000" transform="translate(179.20 110.60) scale(1.1 1)">F</text>
<rect x="189.90" y="115.00" width="53.30" height="53.50" fill="#121412"/>
<g filter="url(#bl03)">
<circle cx="216.90" cy="141.50" r="25.50" fill="#6a5a54"/>
<circle cx="216.98" cy="141.46" r="25.30" fill="none" stroke="#eee2da" stroke-width="1.4" opacity="1"/>
<circle cx="217.32" cy="141.31" r="24.50" fill="none" stroke="#4e423e" stroke-width="0.8" opacity="1"/>
<circle cx="217.74" cy="141.11" r="23.49" fill="none" stroke="#d4bcac" stroke-width="2.0" opacity="0.95"/>
<circle cx="218.30" cy="140.85" r="22.15" fill="none" stroke="#9a867c" stroke-width="1.4" opacity="1"/>
<circle cx="218.72" cy="140.66" r="21.14" fill="none" stroke="#463a36" stroke-width="0.9" opacity="1"/>
<circle cx="219.14" cy="140.46" r="20.14" fill="none" stroke="#dccabe" stroke-width="1.1" opacity="0.95"/>
<circle cx="219.50" cy="140.29" r="19.27" fill="none" stroke="#3e3430" stroke-width="0.8" opacity="1"/>
</g>
<circle cx="219.7" cy="140.2" r="18.8" fill="#0d0b12" stroke="#d0c4b8" stroke-width="0.9"/>
<g filter="url(#bl03)">
<circle cx="220.6" cy="152.6" r="1.30" fill="rgb(139,128,135)"/>
<circle cx="207.0" cy="142.3" r="1.29" fill="rgb(66,61,64)"/>
<circle cx="207.4" cy="142.6" r="1.35" fill="rgb(103,95,100)"/>
<circle cx="204.5" cy="143.1" r="0.96" fill="rgb(160,148,156)"/>
<circle cx="224.9" cy="134.0" r="1.26" fill="rgb(94,87,92)"/>
<circle cx="205.3" cy="138.1" r="0.80" fill="rgb(76,71,74)"/>
<circle cx="223.1" cy="139.3" r="1.24" fill="rgb(69,64,67)"/>
<circle cx="218.1" cy="153.2" r="1.16" fill="rgb(143,132,139)"/>
<circle cx="229.1" cy="135.1" r="1.33" fill="rgb(154,142,150)"/>
<circle cx="226.5" cy="147.8" r="0.79" fill="rgb(71,65,69)"/>
<circle cx="223.1" cy="156.5" r="1.21" fill="rgb(152,141,148)"/>
<circle cx="226.4" cy="131.5" r="1.07" fill="rgb(142,131,138)"/>
<circle cx="209.1" cy="137.9" r="1.29" fill="rgb(111,102,108)"/>
<circle cx="212.9" cy="125.4" r="1.34" fill="rgb(120,111,117)"/>
<circle cx="216.5" cy="134.2" r="1.33" fill="rgb(130,120,127)"/>
<circle cx="230.2" cy="133.0" r="1.11" fill="rgb(107,99,104)"/>
</g>
<rect x="245.20" y="114.90" width="54.00" height="53.00" fill="#121412"/>
<g filter="url(#bl03)">
<circle cx="272.60" cy="141.20" r="25.50" fill="#6a5a54"/>
<circle cx="272.67" cy="141.18" r="25.30" fill="none" stroke="#eee2da" stroke-width="1.4" opacity="1"/>
<circle cx="272.93" cy="141.09" r="24.50" fill="none" stroke="#4e423e" stroke-width="0.8" opacity="1"/>
<circle cx="273.26" cy="140.99" r="23.49" fill="none" stroke="#d4bcac" stroke-width="2.0" opacity="0.95"/>
<circle cx="273.70" cy="140.85" r="22.15" fill="none" stroke="#9a867c" stroke-width="1.4" opacity="1"/>
<circle cx="274.03" cy="140.75" r="21.14" fill="none" stroke="#463a36" stroke-width="0.9" opacity="1"/>
<circle cx="274.36" cy="140.64" r="20.14" fill="none" stroke="#dccabe" stroke-width="1.1" opacity="0.95"/>
<circle cx="274.65" cy="140.55" r="19.27" fill="none" stroke="#3e3430" stroke-width="0.8" opacity="1"/>
</g>
<circle cx="274.8" cy="140.5" r="18.8" fill="#0d0b12" stroke="#d0c4b8" stroke-width="0.9"/>
<g filter="url(#bl03)">
<circle cx="275.3" cy="145.9" r="1.01" fill="rgb(144,133,141)"/>
<circle cx="276.8" cy="141.8" r="1.22" fill="rgb(123,113,120)"/>
<circle cx="275.6" cy="132.6" r="0.88" fill="rgb(137,127,134)"/>
<circle cx="277.4" cy="145.4" r="1.31" fill="rgb(107,99,104)"/>
<circle cx="288.2" cy="142.7" r="1.22" fill="rgb(116,108,113)"/>
<circle cx="278.1" cy="149.3" r="0.76" fill="rgb(140,129,136)"/>
<circle cx="263.9" cy="131.9" r="0.86" fill="rgb(167,154,163)"/>
<circle cx="275.0" cy="149.5" r="0.70" fill="rgb(124,115,121)"/>
<circle cx="271.1" cy="154.2" r="1.25" fill="rgb(127,117,124)"/>
<circle cx="263.9" cy="139.9" r="0.98" fill="rgb(122,113,119)"/>
<circle cx="279.7" cy="148.4" r="0.75" fill="rgb(72,67,70)"/>
<circle cx="258.4" cy="144.4" r="1.05" fill="rgb(169,156,165)"/>
<circle cx="265.1" cy="142.3" r="0.74" fill="rgb(104,96,101)"/>
<circle cx="286.3" cy="133.5" r="0.88" fill="rgb(153,142,149)"/>
<circle cx="265.8" cy="152.0" r="1.11" fill="rgb(129,119,126)"/>
<circle cx="277.8" cy="149.6" r="1.16" fill="rgb(76,70,74)"/>
<circle cx="272.6" cy="153.2" r="0.78" fill="rgb(112,103,109)"/>
<circle cx="283.2" cy="136.9" r="0.73" fill="rgb(68,63,67)"/>
<circle cx="269.6" cy="125.4" r="1.18" fill="rgb(122,113,119)"/>
<circle cx="277.0" cy="139.9" r="0.91" fill="rgb(122,113,119)"/>
<circle cx="282.6" cy="151.7" r="0.89" fill="rgb(79,73,77)"/>
<circle cx="278.9" cy="151.0" r="0.86" fill="rgb(91,84,88)"/>
<circle cx="269.3" cy="136.6" r="0.94" fill="rgb(65,60,63)"/>
<circle cx="265.0" cy="143.4" r="1.35" fill="rgb(137,127,134)"/>
<circle cx="264.7" cy="135.6" r="0.98" fill="rgb(106,98,103)"/>
<circle cx="275.9" cy="144.5" r="1.18" fill="rgb(75,69,73)"/>
<circle cx="261.0" cy="131.1" r="1.06" fill="rgb(72,66,70)"/>
<circle cx="266.5" cy="135.7" r="0.78" fill="rgb(71,65,69)"/>
<circle cx="260.2" cy="137.8" r="1.12" fill="rgb(147,136,143)"/>
<circle cx="277.1" cy="147.7" r="0.97" fill="rgb(153,142,149)"/>
<circle cx="285.5" cy="143.0" r="1.12" fill="rgb(114,105,111)"/>
<circle cx="267.7" cy="143.9" r="0.72" fill="rgb(102,94,99)"/>
<circle cx="274.6" cy="148.8" r="1.20" fill="rgb(106,98,103)"/>
<circle cx="267.3" cy="144.8" r="0.73" fill="rgb(130,120,127)"/>
<circle cx="286.2" cy="134.9" r="1.33" fill="rgb(146,135,142)"/>
<circle cx="265.8" cy="127.6" r="1.02" fill="rgb(72,66,70)"/>
<circle cx="281.3" cy="144.8" r="0.92" fill="rgb(97,90,95)"/>
<circle cx="266.4" cy="127.9" r="1.23" fill="rgb(128,118,124)"/>
<circle cx="261.3" cy="138.1" r="0.92" fill="rgb(118,109,115)"/>
<circle cx="265.5" cy="148.0" r="1.33" fill="rgb(120,111,117)"/>
<circle cx="273.0" cy="137.4" r="1.20" fill="rgb(89,82,87)"/>
<circle cx="272.9" cy="156.0" r="1.15" fill="rgb(97,90,95)"/>
<circle cx="263.5" cy="143.1" r="1.30" fill="rgb(146,135,142)"/>
<circle cx="275.0" cy="141.4" r="0.71" fill="rgb(96,88,93)"/>
<circle cx="278.9" cy="136.5" r="1.27" fill="rgb(141,130,138)"/>
<circle cx="259.7" cy="135.5" r="0.81" fill="rgb(104,96,102)"/>
<circle cx="262.9" cy="130.9" r="1.29" fill="rgb(160,148,156)"/>
<circle cx="270.4" cy="142.3" r="1.02" fill="rgb(86,79,84)"/>
</g>
<text font-size="6.8" text-anchor="middle" fill="#1a1a1a" stroke="#1a1a1a" stroke-width="0.3" transform="translate(215.60 174.80)">DKO+<tspan font-style="italic">GFP</tspan></text>
<text font-size="6.8" text-anchor="middle" fill="#1a1a1a" stroke="#1a1a1a" stroke-width="0.3" transform="translate(270.60 174.80)">DKO+<tspan font-style="italic">Lck</tspan></text>
<rect x="328.60" y="132.07" width="11.00" height="37.03" fill="#c8102e"/>
<rect x="345.70" y="153.23" width="11.40" height="15.87" fill="#145389"/>
<rect x="362.90" y="139.34" width="11.80" height="29.76" fill="#3cb44a"/>
<circle cx="334.10" cy="127.44" r="0.85" fill="#000"/>
<circle cx="332.10" cy="128.76" r="0.85" fill="#000"/>
<circle cx="336.10" cy="130.09" r="0.85" fill="#000"/>
<circle cx="331.10" cy="131.41" r="0.85" fill="#000"/>
<circle cx="337.10" cy="132.73" r="0.85" fill="#000"/>
<circle cx="333.10" cy="134.05" r="0.85" fill="#000"/>
<circle cx="335.10" cy="135.38" r="0.85" fill="#000"/>
<circle cx="334.10" cy="136.70" r="0.85" fill="#000"/>
<line x1="334.10" y1="130.09" x2="334.10" y2="134.05" stroke="#000" stroke-width="1.1"/>
<line x1="331.50" y1="130.09" x2="336.70" y2="130.09" stroke="#000" stroke-width="1.1"/>
<line x1="331.50" y1="134.05" x2="336.70" y2="134.05" stroke="#000" stroke-width="1.1"/>
<circle cx="348.40" cy="153.89" r="0.85" fill="#000"/>
<circle cx="349.90" cy="153.23" r="0.85" fill="#000"/>
<circle cx="351.40" cy="152.57" r="0.85" fill="#000"/>
<circle cx="352.90" cy="152.90" r="0.85" fill="#000"/>
<circle cx="354.40" cy="153.56" r="0.85" fill="#000"/>
<circle cx="349.40" cy="154.22" r="0.85" fill="#000"/>
<circle cx="353.40" cy="152.24" r="0.85" fill="#000"/>
<line x1="351.40" y1="152.57" x2="351.40" y2="153.89" stroke="#000" stroke-width="1.1"/>
<line x1="348.80" y1="152.57" x2="354.00" y2="152.57" stroke="#000" stroke-width="1.1"/>
<line x1="348.80" y1="153.89" x2="354.00" y2="153.89" stroke="#000" stroke-width="1.1"/>
<circle cx="368.80" cy="133.39" r="0.85" fill="#000"/>
<circle cx="366.80" cy="137.36" r="0.85" fill="#000"/>
<circle cx="370.80" cy="138.02" r="0.85" fill="#000"/>
<circle cx="365.80" cy="139.34" r="0.85" fill="#000"/>
<circle cx="371.80" cy="140.00" r="0.85" fill="#000"/>
<circle cx="367.80" cy="141.33" r="0.85" fill="#000"/>
<circle cx="369.80" cy="142.65" r="0.85" fill="#000"/>
<circle cx="368.80" cy="143.97" r="0.85" fill="#000"/>
<line x1="368.80" y1="137.36" x2="368.80" y2="141.33" stroke="#000" stroke-width="1.1"/>
<line x1="366.20" y1="137.36" x2="371.40" y2="137.36" stroke="#000" stroke-width="1.1"/>
<line x1="366.20" y1="141.33" x2="371.40" y2="141.33" stroke="#000" stroke-width="1.1"/>
<line x1="325.70" y1="115.70" x2="325.70" y2="169.60" stroke="#000" stroke-width="1.1"/>
<line x1="325.20" y1="169.10" x2="377.10" y2="169.10" stroke="#000" stroke-width="1.1"/>
<line x1="322.30" y1="169.10" x2="325.70" y2="169.10" stroke="#000" stroke-width="1.1"/>
<text font-size="7.0" text-anchor="end" fill="#1a1a1a" stroke="#1a1a1a" stroke-width="0.3" transform="translate(319.50 171.62) scale(0.87 1)">0</text>
<line x1="322.30" y1="155.88" x2="325.70" y2="155.88" stroke="#000" stroke-width="1.1"/>
<text font-size="7.0" text-anchor="end" fill="#1a1a1a" stroke="#1a1a1a" stroke-width="0.3" transform="translate(319.50 158.40) scale(0.87 1)">20</text>
<line x1="322.30" y1="142.65" x2="325.70" y2="142.65" stroke="#000" stroke-width="1.1"/>
<text font-size="7.0" text-anchor="end" fill="#1a1a1a" stroke="#1a1a1a" stroke-width="0.3" transform="translate(319.50 145.17) scale(0.87 1)">40</text>
<line x1="322.30" y1="129.43" x2="325.70" y2="129.43" stroke="#000" stroke-width="1.1"/>
<text font-size="7.0" text-anchor="end" fill="#1a1a1a" stroke="#1a1a1a" stroke-width="0.3" transform="translate(319.50 131.95) scale(0.87 1)">60</text>
<line x1="322.30" y1="116.20" x2="325.70" y2="116.20" stroke="#000" stroke-width="1.1"/>
<text font-size="7.0" text-anchor="end" fill="#1a1a1a" stroke="#1a1a1a" stroke-width="0.3" transform="translate(319.50 118.72) scale(0.87 1)">80</text>
<line x1="329.50" y1="122.90" x2="369.50" y2="122.90" stroke="#555" stroke-width="1.0"/>
<text font-size="5.2" text-anchor="middle" fill="#333" stroke="#333" stroke-width="0.3" transform="translate(352.40 121.30)"><tspan font-style="italic">p</tspan>&lt;0.001</text>
<line x1="351.00" y1="130.50" x2="369.50" y2="130.50" stroke="#555" stroke-width="1.0"/>
<text font-size="5.2" text-anchor="middle" fill="#333" stroke="#333" stroke-width="0.3" transform="translate(360.00 128.90)"><tspan font-style="italic">p</tspan>&lt;0.001</text>
<text font-size="9.29" text-anchor="middle" fill="#1a1a1a" stroke="#1a1a1a" stroke-width="0.3" transform="translate(308.50 139.85) rotate(-90) scale(0.83 1)">CFU (total)</text>
<text font-size="7.5" text-anchor="end" fill="#1a1a1a" stroke="#1a1a1a" stroke-width="0.3" transform="translate(338.50 174.40) rotate(-45) scale(0.87 1)">WT</text>
<text font-size="7.5" text-anchor="end" fill="#1a1a1a" stroke="#1a1a1a" stroke-width="0.3" transform="translate(355.80 174.40) rotate(-45) scale(0.87 1)">DKO+GFP</text>
<text font-size="7.5" text-anchor="end" fill="#1a1a1a" stroke="#1a1a1a" stroke-width="0.3" transform="translate(373.20 174.40) rotate(-45) scale(0.87 1)">DKO+Lck</text>
<text font-size="10.5" font-weight="bold" fill="#000" transform="translate(10.00 208.80) scale(1.1 1)">I</text>
<filter id="bl1" x="-50%" y="-50%" width="200%" height="200%"><feGaussianBlur stdDeviation="1.0"/></filter>
<filter id="bl2" x="-50%" y="-50%" width="200%" height="200%"><feGaussianBlur stdDeviation="2.2"/></filter>
<filter id="bl05" x="-50%" y="-50%" width="200%" height="200%"><feGaussianBlur stdDeviation="0.6"/></filter>
<clipPath id="fc11"><rect x="35.7" y="205.5" width="62.3" height="62.89999999999998"/></clipPath>
<g clip-path="url(#fc11)">
<g filter="url(#bl2)">
<ellipse cx="44.7" cy="247.6" rx="5.0" ry="26.4" fill="#3a1e8a" opacity="1.0"/>
<ellipse cx="45.0" cy="218.1" rx="4.0" ry="13.8" fill="#3a1e8a" opacity="0.7"/>
<ellipse cx="63.7" cy="264.0" rx="19.9" ry="6.3" fill="#3a1e8a" opacity="0.95"/>
<ellipse cx="58.1" cy="254.6" rx="13.7" ry="12.6" fill="#3a1e8a" opacity="0.75"/>
<ellipse cx="60.6" cy="223.1" rx="17.4" ry="18.9" fill="#3a1e8a" opacity="0.12"/>
<ellipse cx="81.2" cy="247.6" rx="4.4" ry="16.4" fill="#3a1e8a" opacity="1.0"/>
<ellipse cx="84.9" cy="220.6" rx="3.7" ry="15.1" fill="#3a1e8a" opacity="0.95"/>
<ellipse cx="76.8" cy="262.1" rx="6.2" ry="5.0" fill="#3a1e8a" opacity="0.9"/>
<ellipse cx="93.0" cy="240.1" rx="3.1" ry="25.2" fill="#3a1e8a" opacity="0.2"/>
</g>
<path d="M70.6 210.3h0.65v0.65h-0.65zM67.3 231.5h0.65v0.65h-0.65zM71.5 235.5h0.65v0.65h-0.65zM80.4 262.5h0.65v0.65h-0.65zM85.8 224.8h0.65v0.65h-0.65zM95.8 208.6h0.65v0.65h-0.65zM84.0 229.7h0.65v0.65h-0.65zM39.4 256.4h0.65v0.65h-0.65zM46.6 246.9h0.65v0.65h-0.65zM88.2 235.7h0.65v0.65h-0.65zM83.7 237.0h0.65v0.65h-0.65zM80.2 239.6h0.65v0.65h-0.65zM82.6 248.6h0.65v0.65h-0.65zM84.7 250.9h0.65v0.65h-0.65zM86.1 244.1h0.65v0.65h-0.65zM87.8 215.1h0.65v0.65h-0.65zM82.9 238.8h0.65v0.65h-0.65zM88.0 243.4h0.65v0.65h-0.65zM84.6 251.4h0.65v0.65h-0.65zM62.2 208.6h0.65v0.65h-0.65zM81.2 261.0h0.65v0.65h-0.65zM86.3 262.8h0.65v0.65h-0.65zM63.6 256.4h0.65v0.65h-0.65zM83.2 260.2h0.65v0.65h-0.65zM78.5 261.1h0.65v0.65h-0.65zM95.3 222.1h0.65v0.65h-0.65zM90.8 255.1h0.65v0.65h-0.65zM88.9 228.0h0.65v0.65h-0.65zM96.2 261.2h0.65v0.65h-0.65zM85.0 255.1h0.65v0.65h-0.65zM48.8 266.2h0.65v0.65h-0.65zM50.8 230.6h0.65v0.65h-0.65zM63.9 208.1h0.65v0.65h-0.65zM71.5 213.9h0.65v0.65h-0.65zM53.0 213.4h0.65v0.65h-0.65zM83.2 252.7h0.65v0.65h-0.65zM83.3 210.7h0.65v0.65h-0.65zM94.2 215.6h0.65v0.65h-0.65zM83.6 241.9h0.65v0.65h-0.65zM82.5 253.4h0.65v0.65h-0.65zM84.5 252.2h0.65v0.65h-0.65zM54.1 228.7h0.65v0.65h-0.65zM56.9 240.5h0.65v0.65h-0.65zM78.4 229.8h0.65v0.65h-0.65zM92.5 261.6h0.65v0.65h-0.65zM59.0 248.1h0.65v0.65h-0.65zM54.2 252.8h0.65v0.65h-0.65zM43.9 245.6h0.65v0.65h-0.65zM81.8 206.7h0.65v0.65h-0.65zM44.4 266.2h0.65v0.65h-0.65zM92.1 230.2h0.65v0.65h-0.65zM75.1 267.1h0.65v0.65h-0.65zM82.5 238.1h0.65v0.65h-0.65zM77.1 263.7h0.65v0.65h-0.65zM81.6 211.8h0.65v0.65h-0.65zM86.7 224.1h0.65v0.65h-0.65zM78.4 211.7h0.65v0.65h-0.65zM73.3 242.2h0.65v0.65h-0.65zM79.4 214.1h0.65v0.65h-0.65zM72.0 230.1h0.65v0.65h-0.65zM78.1 206.1h0.65v0.65h-0.65zM81.5 222.6h0.65v0.65h-0.65zM81.5 231.9h0.65v0.65h-0.65zM87.9 263.1h0.65v0.65h-0.65zM76.7 266.5h0.65v0.65h-0.65zM81.2 244.7h0.65v0.65h-0.65zM82.2 210.5h0.65v0.65h-0.65zM45.6 256.7h0.65v0.65h-0.65zM86.2 255.7h0.65v0.65h-0.65zM91.1 240.6h0.65v0.65h-0.65zM80.7 247.8h0.65v0.65h-0.65zM85.9 210.9h0.65v0.65h-0.65zM80.0 244.2h0.65v0.65h-0.65zM55.4 259.8h0.65v0.65h-0.65zM87.9 215.0h0.65v0.65h-0.65zM84.8 208.6h0.65v0.65h-0.65zM52.8 254.9h0.65v0.65h-0.65zM74.7 237.3h0.65v0.65h-0.65zM88.0 206.6h0.65v0.65h-0.65zM40.4 266.4h0.65v0.65h-0.65zM83.4 265.8h0.65v0.65h-0.65zM80.6 232.5h0.65v0.65h-0.65zM52.1 247.5h0.65v0.65h-0.65zM87.9 260.0h0.65v0.65h-0.65zM47.5 235.5h0.65v0.65h-0.65zM74.9 227.2h0.65v0.65h-0.65zM92.5 208.1h0.65v0.65h-0.65zM78.8 255.9h0.65v0.65h-0.65zM69.5 229.1h0.65v0.65h-0.65zM59.1 254.2h0.65v0.65h-0.65zM83.6 235.7h0.65v0.65h-0.65zM78.3 220.8h0.65v0.65h-0.65zM85.8 262.9h0.65v0.65h-0.65zM87.4 223.0h0.65v0.65h-0.65zM88.6 211.2h0.65v0.65h-0.65zM71.1 213.1h0.65v0.65h-0.65zM79.1 209.0h0.65v0.65h-0.65zM82.4 220.9h0.65v0.65h-0.65zM85.6 223.3h0.65v0.65h-0.65zM91.6 207.2h0.65v0.65h-0.65zM84.2 234.6h0.65v0.65h-0.65zM81.1 214.6h0.65v0.65h-0.65zM40.9 240.7h0.65v0.65h-0.65zM83.6 237.7h0.65v0.65h-0.65zM86.9 267.1h0.65v0.65h-0.65zM77.5 257.5h0.65v0.65h-0.65zM52.7 243.5h0.65v0.65h-0.65zM91.4 215.6h0.65v0.65h-0.65zM74.6 208.9h0.65v0.65h-0.65zM56.5 242.8h0.65v0.65h-0.65zM82.7 234.8h0.65v0.65h-0.65zM88.3 233.2h0.65v0.65h-0.65zM59.4 215.2h0.65v0.65h-0.65zM82.1 255.3h0.65v0.65h-0.65zM79.8 207.5h0.65v0.65h-0.65zM72.8 244.4h0.65v0.65h-0.65zM79.8 266.7h0.65v0.65h-0.65zM76.8 235.9h0.65v0.65h-0.65zM66.3 224.9h0.65v0.65h-0.65zM72.9 250.1h0.65v0.65h-0.65zM89.7 210.3h0.65v0.65h-0.65zM69.5 264.9h0.65v0.65h-0.65zM86.5 211.8h0.65v0.65h-0.65zM55.5 256.4h0.65v0.65h-0.65zM90.4 210.2h0.65v0.65h-0.65zM55.1 260.5h0.65v0.65h-0.65zM87.7 248.1h0.65v0.65h-0.65zM74.3 261.8h0.65v0.65h-0.65zM77.9 260.7h0.65v0.65h-0.65zM72.5 248.7h0.65v0.65h-0.65zM61.5 235.1h0.65v0.65h-0.65zM55.6 235.4h0.65v0.65h-0.65zM83.0 235.1h0.65v0.65h-0.65zM85.6 229.9h0.65v0.65h-0.65zM82.1 217.4h0.65v0.65h-0.65zM78.2 248.5h0.65v0.65h-0.65zM96.7 215.2h0.65v0.65h-0.65zM57.4 228.2h0.65v0.65h-0.65zM50.1 219.8h0.65v0.65h-0.65zM84.9 260.5h0.65v0.65h-0.65zM78.4 267.3h0.65v0.65h-0.65zM80.3 213.2h0.65v0.65h-0.65zM90.2 261.1h0.65v0.65h-0.65zM82.9 236.8h0.65v0.65h-0.65zM83.4 256.5h0.65v0.65h-0.65zM73.6 243.6h0.65v0.65h-0.65zM44.8 256.8h0.65v0.65h-0.65zM88.5 206.4h0.65v0.65h-0.65zM81.9 262.4h0.65v0.65h-0.65zM94.2 247.1h0.65v0.65h-0.65zM77.0 247.8h0.65v0.65h-0.65zM73.1 267.6h0.65v0.65h-0.65zM85.8 215.3h0.65v0.65h-0.65zM68.5 227.2h0.65v0.65h-0.65zM47.9 258.0h0.65v0.65h-0.65zM36.7 212.2h0.65v0.65h-0.65zM88.0 224.1h0.65v0.65h-0.65zM73.1 236.7h0.65v0.65h-0.65zM79.9 217.8h0.65v0.65h-0.65zM92.2 226.8h0.65v0.65h-0.65zM76.9 217.2h0.65v0.65h-0.65zM89.2 224.7h0.65v0.65h-0.65zM78.6 220.3h0.65v0.65h-0.65zM62.7 246.6h0.65v0.65h-0.65zM63.4 234.8h0.65v0.65h-0.65zM85.6 253.8h0.65v0.65h-0.65zM80.5 226.5h0.65v0.65h-0.65zM68.9 243.9h0.65v0.65h-0.65zM89.2 228.0h0.65v0.65h-0.65zM85.3 220.5h0.65v0.65h-0.65zM84.1 221.9h0.65v0.65h-0.65zM65.8 267.4h0.65v0.65h-0.65zM64.5 266.0h0.65v0.65h-0.65zM91.9 241.2h0.65v0.65h-0.65zM96.0 232.7h0.65v0.65h-0.65zM84.4 228.3h0.65v0.65h-0.65zM83.0 265.6h0.65v0.65h-0.65zM79.7 258.3h0.65v0.65h-0.65zM46.2 237.2h0.65v0.65h-0.65zM85.1 264.7h0.65v0.65h-0.65zM72.9 245.4h0.65v0.65h-0.65zM78.9 240.4h0.65v0.65h-0.65zM82.1 257.0h0.65v0.65h-0.65zM57.7 267.6h0.65v0.65h-0.65zM84.1 251.6h0.65v0.65h-0.65zM82.7 221.3h0.65v0.65h-0.65zM96.2 210.3h0.65v0.65h-0.65zM91.9 249.1h0.65v0.65h-0.65zM96.3 253.1h0.65v0.65h-0.65zM94.1 222.9h0.65v0.65h-0.65zM96.7 217.0h0.65v0.65h-0.65zM77.7 261.2h0.65v0.65h-0.65zM47.7 242.7h0.65v0.65h-0.65zM67.9 232.7h0.65v0.65h-0.65zM52.0 231.8h0.65v0.65h-0.65zM84.2 235.0h0.65v0.65h-0.65zM81.9 208.5h0.65v0.65h-0.65zM88.7 253.4h0.65v0.65h-0.65zM89.7 229.1h0.65v0.65h-0.65zM52.6 225.3h0.65v0.65h-0.65zM72.6 228.6h0.65v0.65h-0.65zM81.6 256.5h0.65v0.65h-0.65zM97.1 213.1h0.65v0.65h-0.65zM48.2 258.3h0.65v0.65h-0.65zM74.5 262.0h0.65v0.65h-0.65zM40.2 263.0h0.65v0.65h-0.65zM80.4 233.8h0.65v0.65h-0.65zM48.8 246.8h0.65v0.65h-0.65zM81.6 215.7h0.65v0.65h-0.65zM51.2 221.6h0.65v0.65h-0.65zM85.4 220.0h0.65v0.65h-0.65zM86.9 252.8h0.65v0.65h-0.65zM89.9 206.2h0.65v0.65h-0.65zM69.9 221.5h0.65v0.65h-0.65zM81.3 241.5h0.65v0.65h-0.65zM82.4 263.5h0.65v0.65h-0.65zM74.2 245.6h0.65v0.65h-0.65zM82.3 249.6h0.65v0.65h-0.65zM79.3 266.5h0.65v0.65h-0.65zM80.9 224.7h0.65v0.65h-0.65zM52.4 253.5h0.65v0.65h-0.65zM80.7 245.4h0.65v0.65h-0.65zM81.7 239.8h0.65v0.65h-0.65zM89.2 209.3h0.65v0.65h-0.65zM79.7 249.2h0.65v0.65h-0.65zM60.6 209.6h0.65v0.65h-0.65zM79.1 252.8h0.65v0.65h-0.65zM60.3 244.0h0.65v0.65h-0.65zM74.2 222.6h0.65v0.65h-0.65zM87.8 233.0h0.65v0.65h-0.65zM84.3 215.7h0.65v0.65h-0.65zM46.2 243.5h0.65v0.65h-0.65zM71.1 207.6h0.65v0.65h-0.65zM87.7 217.8h0.65v0.65h-0.65zM73.3 223.3h0.65v0.65h-0.65zM49.3 227.4h0.65v0.65h-0.65zM79.4 263.1h0.65v0.65h-0.65zM82.0 227.6h0.65v0.65h-0.65zM56.4 225.1h0.65v0.65h-0.65zM83.3 243.6h0.65v0.65h-0.65zM96.0 226.1h0.65v0.65h-0.65zM69.2 223.1h0.65v0.65h-0.65zM78.2 210.8h0.65v0.65h-0.65zM89.2 214.7h0.65v0.65h-0.65zM93.1 216.0h0.65v0.65h-0.65zM76.1 235.4h0.65v0.65h-0.65zM80.5 217.9h0.65v0.65h-0.65zM83.4 206.3h0.65v0.65h-0.65zM46.1 255.5h0.65v0.65h-0.65zM53.9 207.4h0.65v0.65h-0.65zM61.0 265.4h0.65v0.65h-0.65zM86.6 219.6h0.65v0.65h-0.65zM48.3 247.3h0.65v0.65h-0.65zM92.3 266.1h0.65v0.65h-0.65zM54.6 261.0h0.65v0.65h-0.65zM82.1 238.0h0.65v0.65h-0.65zM54.6 257.8h0.65v0.65h-0.65zM84.2 256.1h0.65v0.65h-0.65zM86.6 238.2h0.65v0.65h-0.65zM90.9 212.9h0.65v0.65h-0.65zM69.8 208.2h0.65v0.65h-0.65zM49.5 265.3h0.65v0.65h-0.65zM80.5 218.0h0.65v0.65h-0.65zM52.8 206.1h0.65v0.65h-0.65zM85.3 253.5h0.65v0.65h-0.65zM69.5 252.7h0.65v0.65h-0.65zM82.1 223.5h0.65v0.65h-0.65zM61.7 258.9h0.65v0.65h-0.65zM81.6 235.9h0.65v0.65h-0.65zM84.9 205.9h0.65v0.65h-0.65zM84.9 268.4h0.65v0.65h-0.65zM90.1 215.2h0.65v0.65h-0.65zM80.1 263.2h0.65v0.65h-0.65zM69.9 246.6h0.65v0.65h-0.65zM90.4 231.5h0.65v0.65h-0.65zM83.2 249.3h0.65v0.65h-0.65zM76.6 262.7h0.65v0.65h-0.65zM76.5 255.3h0.65v0.65h-0.65zM88.1 256.1h0.65v0.65h-0.65zM40.4 249.2h0.65v0.65h-0.65zM80.3 245.8h0.65v0.65h-0.65zM79.6 261.7h0.65v0.65h-0.65zM64.5 207.6h0.65v0.65h-0.65zM88.0 227.3h0.65v0.65h-0.65zM82.1 253.5h0.65v0.65h-0.65zM64.2 267.7h0.65v0.65h-0.65zM86.2 218.1h0.65v0.65h-0.65zM64.5 241.9h0.65v0.65h-0.65zM62.5 251.4h0.65v0.65h-0.65zM87.6 252.3h0.65v0.65h-0.65zM82.9 255.1h0.65v0.65h-0.65zM82.7 233.0h0.65v0.65h-0.65zM77.2 262.6h0.65v0.65h-0.65zM49.9 231.9h0.65v0.65h-0.65zM74.7 257.1h0.65v0.65h-0.65zM41.3 254.1h0.65v0.65h-0.65zM51.5 250.5h0.65v0.65h-0.65zM92.6 249.3h0.65v0.65h-0.65zM76.0 220.2h0.65v0.65h-0.65zM87.3 244.1h0.65v0.65h-0.65zM61.4 267.4h0.65v0.65h-0.65zM79.3 206.6h0.65v0.65h-0.65zM83.2 226.9h0.65v0.65h-0.65zM57.0 227.5h0.65v0.65h-0.65zM64.6 243.9h0.65v0.65h-0.65zM84.1 216.5h0.65v0.65h-0.65zM82.3 258.4h0.65v0.65h-0.65zM57.7 236.9h0.65v0.65h-0.65zM81.9 206.7h0.65v0.65h-0.65zM80.3 215.8h0.65v0.65h-0.65zM93.9 235.7h0.65v0.65h-0.65zM49.3 259.6h0.65v0.65h-0.65zM79.1 247.7h0.65v0.65h-0.65zM73.0 245.7h0.65v0.65h-0.65zM43.4 207.2h0.65v0.65h-0.65zM91.8 241.6h0.65v0.65h-0.65zM70.6 251.8h0.65v0.65h-0.65zM87.9 206.0h0.65v0.65h-0.65zM87.7 257.4h0.65v0.65h-0.65zM76.4 253.2h0.65v0.65h-0.65zM87.5 256.7h0.65v0.65h-0.65zM40.5 266.4h0.65v0.65h-0.65zM96.1 210.8h0.65v0.65h-0.65zM78.7 249.0h0.65v0.65h-0.65zM72.6 217.8h0.65v0.65h-0.65zM55.4 246.7h0.65v0.65h-0.65zM65.0 239.8h0.65v0.65h-0.65zM71.9 258.7h0.65v0.65h-0.65zM56.4 228.0h0.65v0.65h-0.65zM79.7 264.2h0.65v0.65h-0.65zM77.3 230.7h0.65v0.65h-0.65zM61.3 229.2h0.65v0.65h-0.65zM84.4 220.7h0.65v0.65h-0.65zM79.7 215.7h0.65v0.65h-0.65zM77.4 242.7h0.65v0.65h-0.65zM85.4 235.3h0.65v0.65h-0.65zM62.6 211.5h0.65v0.65h-0.65zM39.1 222.8h0.65v0.65h-0.65zM78.2 222.4h0.65v0.65h-0.65zM72.7 264.0h0.65v0.65h-0.65zM68.2 244.4h0.65v0.65h-0.65zM38.9 224.7h0.65v0.65h-0.65zM50.6 249.1h0.65v0.65h-0.65zM50.4 264.1h0.65v0.65h-0.65zM81.2 207.6h0.65v0.65h-0.65zM77.9 213.9h0.65v0.65h-0.65zM83.7 240.0h0.65v0.65h-0.65zM84.8 262.2h0.65v0.65h-0.65zM70.8 260.6h0.65v0.65h-0.65zM57.7 256.8h0.65v0.65h-0.65zM39.6 212.1h0.65v0.65h-0.65zM80.0 243.4h0.65v0.65h-0.65zM72.2 265.5h0.65v0.65h-0.65zM91.5 256.3h0.65v0.65h-0.65zM93.9 206.9h0.65v0.65h-0.65zM48.6 249.8h0.65v0.65h-0.65zM87.8 212.0h0.65v0.65h-0.65zM65.1 257.6h0.65v0.65h-0.65zM93.4 205.8h0.65v0.65h-0.65zM77.7 262.2h0.65v0.65h-0.65zM86.3 265.3h0.65v0.65h-0.65zM91.8 213.7h0.65v0.65h-0.65zM85.6 259.9h0.65v0.65h-0.65zM83.6 209.4h0.65v0.65h-0.65zM60.9 229.4h0.65v0.65h-0.65zM54.4 260.1h0.65v0.65h-0.65zM85.1 218.7h0.65v0.65h-0.65zM76.9 212.8h0.65v0.65h-0.65zM50.0 249.5h0.65v0.65h-0.65zM82.8 226.4h0.65v0.65h-0.65zM95.9 248.4h0.65v0.65h-0.65zM68.8 265.5h0.65v0.65h-0.65zM53.4 252.6h0.65v0.65h-0.65zM87.1 262.9h0.65v0.65h-0.65zM84.1 259.6h0.65v0.65h-0.65zM73.4 262.4h0.65v0.65h-0.65zM90.2 206.3h0.65v0.65h-0.65zM83.5 244.2h0.65v0.65h-0.65zM85.4 237.0h0.65v0.65h-0.65zM87.4 245.8h0.65v0.65h-0.65zM79.3 219.1h0.65v0.65h-0.65zM83.4 225.4h0.65v0.65h-0.65zM95.0 257.5h0.65v0.65h-0.65zM78.9 258.0h0.65v0.65h-0.65zM83.9 218.9h0.65v0.65h-0.65zM79.7 253.6h0.65v0.65h-0.65zM49.5 231.9h0.65v0.65h-0.65zM37.9 230.9h0.65v0.65h-0.65zM85.3 232.4h0.65v0.65h-0.65zM46.0 244.8h0.65v0.65h-0.65zM63.2 251.9h0.65v0.65h-0.65zM78.9 263.8h0.65v0.65h-0.65zM76.0 232.6h0.65v0.65h-0.65zM52.6 256.1h0.65v0.65h-0.65zM61.3 236.1h0.65v0.65h-0.65zM52.2 231.4h0.65v0.65h-0.65zM87.5 263.1h0.65v0.65h-0.65zM53.3 230.9h0.65v0.65h-0.65zM82.4 218.9h0.65v0.65h-0.65zM66.3 253.1h0.65v0.65h-0.65zM95.2 267.7h0.65v0.65h-0.65zM83.1 206.4h0.65v0.65h-0.65zM68.6 226.7h0.65v0.65h-0.65zM57.5 215.0h0.65v0.65h-0.65zM65.4 256.8h0.65v0.65h-0.65zM40.5 266.2h0.65v0.65h-0.65zM84.0 220.4h0.65v0.65h-0.65zM73.6 259.8h0.65v0.65h-0.65zM93.8 245.5h0.65v0.65h-0.65zM96.8 230.0h0.65v0.65h-0.65zM65.9 234.0h0.65v0.65h-0.65zM62.8 230.6h0.65v0.65h-0.65zM80.4 231.2h0.65v0.65h-0.65zM76.3 239.3h0.65v0.65h-0.65zM84.4 254.9h0.65v0.65h-0.65zM47.1 233.8h0.65v0.65h-0.65zM55.6 261.1h0.65v0.65h-0.65zM54.9 240.3h0.65v0.65h-0.65zM89.2 225.7h0.65v0.65h-0.65zM80.3 255.5h0.65v0.65h-0.65zM83.5 245.6h0.65v0.65h-0.65zM46.0 262.6h0.65v0.65h-0.65zM65.4 212.1h0.65v0.65h-0.65zM80.3 251.5h0.65v0.65h-0.65zM84.3 245.8h0.65v0.65h-0.65zM84.9 222.9h0.65v0.65h-0.65zM59.6 263.2h0.65v0.65h-0.65zM81.7 247.9h0.65v0.65h-0.65zM87.3 235.7h0.65v0.65h-0.65zM47.2 263.9h0.65v0.65h-0.65zM37.7 248.8h0.65v0.65h-0.65zM69.6 259.8h0.65v0.65h-0.65zM83.3 252.0h0.65v0.65h-0.65zM85.7 226.5h0.65v0.65h-0.65zM81.9 250.6h0.65v0.65h-0.65zM89.7 254.2h0.65v0.65h-0.65zM62.9 261.1h0.65v0.65h-0.65zM46.3 235.4h0.65v0.65h-0.65zM86.1 207.0h0.65v0.65h-0.65zM79.7 212.5h0.65v0.65h-0.65zM80.7 232.8h0.65v0.65h-0.65zM87.2 213.8h0.65v0.65h-0.65zM77.8 266.2h0.65v0.65h-0.65zM60.1 264.6h0.65v0.65h-0.65zM56.1 237.1h0.65v0.65h-0.65zM53.2 250.8h0.65v0.65h-0.65zM46.1 226.6h0.65v0.65h-0.65zM49.9 254.4h0.65v0.65h-0.65zM45.1 231.8h0.65v0.65h-0.65zM83.0 233.6h0.65v0.65h-0.65zM58.4 264.4h0.65v0.65h-0.65zM39.1 237.2h0.65v0.65h-0.65zM64.9 247.9h0.65v0.65h-0.65zM46.3 254.1h0.65v0.65h-0.65zM82.5 232.8h0.65v0.65h-0.65zM79.6 262.4h0.65v0.65h-0.65zM74.0 208.4h0.65v0.65h-0.65zM71.6 209.1h0.65v0.65h-0.65zM80.4 228.9h0.65v0.65h-0.65zM52.9 216.2h0.65v0.65h-0.65zM79.4 244.4h0.65v0.65h-0.65zM84.2 266.0h0.65v0.65h-0.65zM58.2 206.9h0.65v0.65h-0.65zM55.0 260.4h0.65v0.65h-0.65zM85.6 253.6h0.65v0.65h-0.65zM73.2 251.3h0.65v0.65h-0.65zM70.6 234.0h0.65v0.65h-0.65zM74.6 233.1h0.65v0.65h-0.65zM83.4 207.5h0.65v0.65h-0.65zM85.6 248.7h0.65v0.65h-0.65zM79.7 224.7h0.65v0.65h-0.65zM71.0 258.4h0.65v0.65h-0.65zM79.1 237.5h0.65v0.65h-0.65zM83.8 242.3h0.65v0.65h-0.65zM57.9 255.4h0.65v0.65h-0.65zM71.6 264.9h0.65v0.65h-0.65zM48.6 265.8h0.65v0.65h-0.65zM79.5 261.3h0.65v0.65h-0.65zM83.8 238.2h0.65v0.65h-0.65zM89.8 216.7h0.65v0.65h-0.65zM58.2 244.1h0.65v0.65h-0.65zM81.8 243.7h0.65v0.65h-0.65zM78.9 247.8h0.65v0.65h-0.65zM83.0 215.4h0.65v0.65h-0.65zM77.4 232.7h0.65v0.65h-0.65zM88.0 216.1h0.65v0.65h-0.65zM76.5 260.5h0.65v0.65h-0.65zM54.6 268.2h0.65v0.65h-0.65zM94.3 207.4h0.65v0.65h-0.65zM80.6 249.8h0.65v0.65h-0.65zM87.1 243.4h0.65v0.65h-0.65zM92.1 206.2h0.65v0.65h-0.65zM47.2 257.5h0.65v0.65h-0.65zM87.6 205.9h0.65v0.65h-0.65zM62.1 268.0h0.65v0.65h-0.65zM65.8 244.9h0.65v0.65h-0.65zM85.6 215.6h0.65v0.65h-0.65zM65.3 236.4h0.65v0.65h-0.65zM80.3 206.7h0.65v0.65h-0.65zM85.6 259.2h0.65v0.65h-0.65zM50.6 211.3h0.65v0.65h-0.65zM70.3 265.2h0.65v0.65h-0.65zM36.9 232.8h0.65v0.65h-0.65zM77.4 258.1h0.65v0.65h-0.65zM70.0 253.0h0.65v0.65h-0.65zM47.7 267.0h0.65v0.65h-0.65zM86.4 248.9h0.65v0.65h-0.65zM54.5 245.7h0.65v0.65h-0.65zM84.9 255.7h0.65v0.65h-0.65zM86.0 243.5h0.65v0.65h-0.65zM73.5 233.5h0.65v0.65h-0.65zM78.2 251.0h0.65v0.65h-0.65zM89.6 214.0h0.65v0.65h-0.65zM84.0 222.8h0.65v0.65h-0.65zM46.4 263.2h0.65v0.65h-0.65zM48.9 253.4h0.65v0.65h-0.65zM81.5 248.9h0.65v0.65h-0.65zM94.6 268.3h0.65v0.65h-0.65zM86.2 218.6h0.65v0.65h-0.65zM82.5 243.3h0.65v0.65h-0.65zM86.1 216.3h0.65v0.65h-0.65zM94.2 250.8h0.65v0.65h-0.65zM69.1 252.6h0.65v0.65h-0.65zM77.9 266.9h0.65v0.65h-0.65zM58.7 227.1h0.65v0.65h-0.65zM80.9 245.5h0.65v0.65h-0.65zM80.6 246.1h0.65v0.65h-0.65zM41.6 247.3h0.65v0.65h-0.65zM90.9 255.1h0.65v0.65h-0.65zM82.1 234.0h0.65v0.65h-0.65zM52.4 253.9h0.65v0.65h-0.65zM36.3 236.8h0.65v0.65h-0.65zM55.7 234.6h0.65v0.65h-0.65zM79.1 255.5h0.65v0.65h-0.65zM82.2 248.2h0.65v0.65h-0.65zM80.6 241.3h0.65v0.65h-0.65zM75.9 254.6h0.65v0.65h-0.65zM59.2 232.0h0.65v0.65h-0.65zM85.9 248.1h0.65v0.65h-0.65zM63.5 206.4h0.65v0.65h-0.65zM77.9 252.3h0.65v0.65h-0.65zM74.8 255.0h0.65v0.65h-0.65zM77.6 228.9h0.65v0.65h-0.65zM71.1 261.2h0.65v0.65h-0.65zM77.8 225.0h0.65v0.65h-0.65zM59.7 253.9h0.65v0.65h-0.65zM85.3 232.4h0.65v0.65h-0.65zM37.7 228.9h0.65v0.65h-0.65zM72.7 231.0h0.65v0.65h-0.65zM67.9 258.8h0.65v0.65h-0.65zM84.8 248.7h0.65v0.65h-0.65zM78.3 206.2h0.65v0.65h-0.65zM96.2 245.2h0.65v0.65h-0.65zM88.5 234.0h0.65v0.65h-0.65zM89.7 216.2h0.65v0.65h-0.65zM84.7 236.2h0.65v0.65h-0.65zM84.0 223.6h0.65v0.65h-0.65zM86.8 247.6h0.65v0.65h-0.65zM89.6 256.1h0.65v0.65h-0.65zM78.3 266.8h0.65v0.65h-0.65zM84.7 237.5h0.65v0.65h-0.65zM86.4 217.9h0.65v0.65h-0.65zM89.8 233.9h0.65v0.65h-0.65zM64.0 265.9h0.65v0.65h-0.65zM62.9 217.1h0.65v0.65h-0.65zM76.8 261.0h0.65v0.65h-0.65zM65.1 218.4h0.65v0.65h-0.65zM96.7 211.7h0.65v0.65h-0.65zM77.6 216.1h0.65v0.65h-0.65zM87.2 256.0h0.65v0.65h-0.65zM86.7 241.3h0.65v0.65h-0.65zM74.9 250.9h0.65v0.65h-0.65zM84.4 224.7h0.65v0.65h-0.65zM51.7 230.7h0.65v0.65h-0.65zM43.7 261.1h0.65v0.65h-0.65zM81.8 230.0h0.65v0.65h-0.65zM86.3 224.9h0.65v0.65h-0.65zM80.7 245.7h0.65v0.65h-0.65zM77.7 249.4h0.65v0.65h-0.65zM86.7 242.7h0.65v0.65h-0.65zM67.3 209.2h0.65v0.65h-0.65zM79.5 253.6h0.65v0.65h-0.65zM53.4 213.5h0.65v0.65h-0.65zM89.2 232.0h0.65v0.65h-0.65zM93.9 244.0h0.65v0.65h-0.65zM82.0 230.6h0.65v0.65h-0.65zM53.2 240.7h0.65v0.65h-0.65zM82.5 250.0h0.65v0.65h-0.65zM84.1 226.1h0.65v0.65h-0.65zM91.3 259.3h0.65v0.65h-0.65zM57.0 216.8h0.65v0.65h-0.65zM88.0 231.2h0.65v0.65h-0.65zM41.9 212.0h0.65v0.65h-0.65zM63.8 252.5h0.65v0.65h-0.65zM78.7 226.3h0.65v0.65h-0.65zM88.4 266.9h0.65v0.65h-0.65zM79.7 238.9h0.65v0.65h-0.65zM77.5 230.3h0.65v0.65h-0.65zM89.1 207.0h0.65v0.65h-0.65zM85.5 243.5h0.65v0.65h-0.65zM80.0 205.6h0.65v0.65h-0.65zM68.9 250.9h0.65v0.65h-0.65zM84.6 254.7h0.65v0.65h-0.65zM44.6 243.6h0.65v0.65h-0.65zM80.8 263.1h0.65v0.65h-0.65zM78.6 236.0h0.65v0.65h-0.65zM84.5 252.5h0.65v0.65h-0.65zM74.6 260.9h0.65v0.65h-0.65zM36.7 214.3h0.65v0.65h-0.65zM89.0 212.1h0.65v0.65h-0.65zM68.9 261.4h0.65v0.65h-0.65zM82.7 249.4h0.65v0.65h-0.65zM43.5 232.7h0.65v0.65h-0.65zM49.6 243.7h0.65v0.65h-0.65zM85.2 259.5h0.65v0.65h-0.65zM39.1 254.7h0.65v0.65h-0.65zM70.5 239.5h0.65v0.65h-0.65zM82.6 261.8h0.65v0.65h-0.65zM81.1 235.4h0.65v0.65h-0.65zM73.8 214.1h0.65v0.65h-0.65zM85.1 242.4h0.65v0.65h-0.65zM84.4 222.2h0.65v0.65h-0.65zM80.3 258.6h0.65v0.65h-0.65zM60.6 208.5h0.65v0.65h-0.65zM84.6 215.1h0.65v0.65h-0.65zM66.6 266.6h0.65v0.65h-0.65zM50.8 212.5h0.65v0.65h-0.65zM66.2 227.3h0.65v0.65h-0.65zM80.6 208.9h0.65v0.65h-0.65zM80.4 243.6h0.65v0.65h-0.65zM83.3 258.9h0.65v0.65h-0.65zM62.4 238.4h0.65v0.65h-0.65zM62.5 240.0h0.65v0.65h-0.65zM88.3 267.1h0.65v0.65h-0.65zM69.8 243.3h0.65v0.65h-0.65zM50.2 252.6h0.65v0.65h-0.65zM65.9 253.9h0.65v0.65h-0.65zM87.4 237.7h0.65v0.65h-0.65zM80.8 268.0h0.65v0.65h-0.65zM95.6 245.4h0.65v0.65h-0.65zM58.7 249.5h0.65v0.65h-0.65zM81.5 231.3h0.65v0.65h-0.65zM82.7 265.1h0.65v0.65h-0.65zM58.1 258.3h0.65v0.65h-0.65zM87.4 241.6h0.65v0.65h-0.65zM81.1 243.1h0.65v0.65h-0.65zM95.9 219.8h0.65v0.65h-0.65zM55.5 216.9h0.65v0.65h-0.65zM90.2 228.0h0.65v0.65h-0.65zM84.5 267.5h0.65v0.65h-0.65zM88.9 233.7h0.65v0.65h-0.65zM93.4 226.1h0.65v0.65h-0.65zM36.0 222.0h0.65v0.65h-0.65zM78.0 206.5h0.65v0.65h-0.65zM78.2 263.7h0.65v0.65h-0.65zM82.8 240.7h0.65v0.65h-0.65zM62.9 261.0h0.65v0.65h-0.65zM81.5 263.9h0.65v0.65h-0.65zM88.2 232.8h0.65v0.65h-0.65zM42.8 261.0h0.65v0.65h-0.65zM95.1 233.2h0.65v0.65h-0.65zM77.4 255.1h0.65v0.65h-0.65zM69.1 215.6h0.65v0.65h-0.65zM90.2 246.4h0.65v0.65h-0.65zM67.4 252.3h0.65v0.65h-0.65zM78.5 210.0h0.65v0.65h-0.65zM84.2 261.8h0.65v0.65h-0.65zM81.7 257.9h0.65v0.65h-0.65zM48.3 246.6h0.65v0.65h-0.65zM63.1 238.2h0.65v0.65h-0.65zM59.9 232.3h0.65v0.65h-0.65zM78.0 245.9h0.65v0.65h-0.65zM79.7 247.8h0.65v0.65h-0.65zM81.2 253.7h0.65v0.65h-0.65zM51.7 264.4h0.65v0.65h-0.65zM89.5 244.7h0.65v0.65h-0.65zM78.6 241.2h0.65v0.65h-0.65zM81.3 211.2h0.65v0.65h-0.65zM66.0 253.8h0.65v0.65h-0.65zM78.1 262.0h0.65v0.65h-0.65zM81.2 239.9h0.65v0.65h-0.65zM56.4 258.9h0.65v0.65h-0.65zM92.3 220.3h0.65v0.65h-0.65zM81.7 262.3h0.65v0.65h-0.65zM72.7 236.9h0.65v0.65h-0.65zM84.6 238.9h0.65v0.65h-0.65zM82.2 210.3h0.65v0.65h-0.65zM89.0 245.5h0.65v0.65h-0.65zM89.4 228.2h0.65v0.65h-0.65zM57.9 268.1h0.65v0.65h-0.65zM51.5 250.0h0.65v0.65h-0.65zM51.8 245.6h0.65v0.65h-0.65zM59.8 257.9h0.65v0.65h-0.65zM90.1 258.3h0.65v0.65h-0.65zM82.7 214.6h0.65v0.65h-0.65zM82.7 234.2h0.65v0.65h-0.65zM79.8 210.6h0.65v0.65h-0.65zM91.5 252.1h0.65v0.65h-0.65zM84.7 253.7h0.65v0.65h-0.65zM58.8 222.5h0.65v0.65h-0.65zM86.5 236.6h0.65v0.65h-0.65zM57.4 253.8h0.65v0.65h-0.65zM87.0 261.5h0.65v0.65h-0.65zM91.7 265.8h0.65v0.65h-0.65zM43.2 206.2h0.65v0.65h-0.65zM90.0 264.5h0.65v0.65h-0.65zM78.6 264.1h0.65v0.65h-0.65zM74.6 207.0h0.65v0.65h-0.65zM86.0 214.6h0.65v0.65h-0.65zM72.3 262.5h0.65v0.65h-0.65zM57.8 237.0h0.65v0.65h-0.65zM81.5 249.9h0.65v0.65h-0.65zM40.6 237.8h0.65v0.65h-0.65zM96.3 233.1h0.65v0.65h-0.65zM60.6 254.8h0.65v0.65h-0.65zM80.1 209.3h0.65v0.65h-0.65zM93.0 208.6h0.65v0.65h-0.65zM76.8 267.1h0.65v0.65h-0.65zM72.5 225.3h0.65v0.65h-0.65zM85.3 229.8h0.65v0.65h-0.65zM95.5 266.4h0.65v0.65h-0.65zM90.0 209.2h0.65v0.65h-0.65zM46.7 220.0h0.65v0.65h-0.65zM82.4 235.7h0.65v0.65h-0.65zM82.9 217.6h0.65v0.65h-0.65zM48.6 222.8h0.65v0.65h-0.65zM81.4 216.0h0.65v0.65h-0.65zM36.6 220.0h0.65v0.65h-0.65zM75.3 242.8h0.65v0.65h-0.65zM77.7 239.8h0.65v0.65h-0.65zM90.6 262.9h0.65v0.65h-0.65zM58.1 246.0h0.65v0.65h-0.65zM84.4 247.5h0.65v0.65h-0.65zM78.9 258.8h0.65v0.65h-0.65zM51.6 213.2h0.65v0.65h-0.65zM57.1 256.7h0.65v0.65h-0.65zM81.0 226.0h0.65v0.65h-0.65zM89.8 234.4h0.65v0.65h-0.65zM56.3 250.1h0.65v0.65h-0.65zM85.9 245.1h0.65v0.65h-0.65zM92.5 206.1h0.65v0.65h-0.65zM44.1 218.7h0.65v0.65h-0.65zM83.3 247.1h0.65v0.65h-0.65zM75.7 227.0h0.65v0.65h-0.65zM86.7 267.5h0.65v0.65h-0.65zM59.4 264.3h0.65v0.65h-0.65zM77.1 259.4h0.65v0.65h-0.65zM90.5 209.0h0.65v0.65h-0.65zM84.4 246.9h0.65v0.65h-0.65zM84.3 208.9h0.65v0.65h-0.65zM52.1 231.9h0.65v0.65h-0.65zM88.7 222.7h0.65v0.65h-0.65zM43.2 251.2h0.65v0.65h-0.65zM79.4 263.9h0.65v0.65h-0.65zM63.0 267.5h0.65v0.65h-0.65zM47.1 260.7h0.65v0.65h-0.65zM69.4 232.7h0.65v0.65h-0.65zM84.9 235.3h0.65v0.65h-0.65zM49.0 256.2h0.65v0.65h-0.65zM84.6 210.3h0.65v0.65h-0.65zM45.7 247.6h0.65v0.65h-0.65zM54.0 218.5h0.65v0.65h-0.65zM76.1 239.5h0.65v0.65h-0.65zM47.6 209.0h0.65v0.65h-0.65zM75.6 266.9h0.65v0.65h-0.65zM85.0 243.2h0.65v0.65h-0.65zM83.1 261.2h0.65v0.65h-0.65zM56.4 222.4h0.65v0.65h-0.65zM76.4 239.1h0.65v0.65h-0.65zM45.8 256.5h0.65v0.65h-0.65zM58.5 236.3h0.65v0.65h-0.65zM65.2 229.2h0.65v0.65h-0.65zM57.9 212.8h0.65v0.65h-0.65zM61.7 234.4h0.65v0.65h-0.65zM56.4 210.9h0.65v0.65h-0.65zM93.4 218.1h0.65v0.65h-0.65zM82.2 258.2h0.65v0.65h-0.65zM97.0 250.2h0.65v0.65h-0.65zM82.5 260.1h0.65v0.65h-0.65zM45.5 208.8h0.65v0.65h-0.65zM50.1 231.2h0.65v0.65h-0.65zM70.5 237.1h0.65v0.65h-0.65zM82.9 236.1h0.65v0.65h-0.65zM52.5 232.3h0.65v0.65h-0.65zM83.0 239.3h0.65v0.65h-0.65zM70.8 245.8h0.65v0.65h-0.65zM84.5 207.4h0.65v0.65h-0.65zM86.4 260.1h0.65v0.65h-0.65zM89.2 218.2h0.65v0.65h-0.65zM91.7 244.3h0.65v0.65h-0.65zM70.3 208.9h0.65v0.65h-0.65zM65.7 250.1h0.65v0.65h-0.65zM81.5 236.8h0.65v0.65h-0.65zM88.2 222.1h0.65v0.65h-0.65zM87.5 210.7h0.65v0.65h-0.65zM82.6 218.2h0.65v0.65h-0.65zM73.7 257.3h0.65v0.65h-0.65zM82.4 249.3h0.65v0.65h-0.65zM71.5 254.3h0.65v0.65h-0.65zM93.4 230.0h0.65v0.65h-0.65zM84.2 209.7h0.65v0.65h-0.65zM79.8 261.5h0.65v0.65h-0.65zM83.9 213.6h0.65v0.65h-0.65zM86.9 220.7h0.65v0.65h-0.65zM88.6 229.2h0.65v0.65h-0.65zM89.9 224.9h0.65v0.65h-0.65zM89.9 213.5h0.65v0.65h-0.65zM94.5 228.2h0.65v0.65h-0.65zM59.7 246.2h0.65v0.65h-0.65zM53.4 222.7h0.65v0.65h-0.65zM78.8 224.4h0.65v0.65h-0.65zM81.7 236.0h0.65v0.65h-0.65zM78.5 231.3h0.65v0.65h-0.65zM85.4 247.6h0.65v0.65h-0.65zM82.4 211.1h0.65v0.65h-0.65zM95.8 207.9h0.65v0.65h-0.65zM81.2 247.4h0.65v0.65h-0.65zM37.9 214.1h0.65v0.65h-0.65zM65.2 221.6h0.65v0.65h-0.65zM55.3 239.0h0.65v0.65h-0.65zM62.0 266.9h0.65v0.65h-0.65zM63.4 242.8h0.65v0.65h-0.65zM89.0 228.2h0.65v0.65h-0.65zM61.0 253.6h0.65v0.65h-0.65zM95.4 260.7h0.65v0.65h-0.65zM78.4 220.4h0.65v0.65h-0.65zM75.6 209.4h0.65v0.65h-0.65zM67.3 252.6h0.65v0.65h-0.65zM47.5 220.2h0.65v0.65h-0.65zM52.8 241.1h0.65v0.65h-0.65zM82.3 228.2h0.65v0.65h-0.65zM83.5 227.7h0.65v0.65h-0.65zM79.0 239.7h0.65v0.65h-0.65zM42.3 238.5h0.65v0.65h-0.65zM86.6 212.5h0.65v0.65h-0.65zM81.0 248.6h0.65v0.65h-0.65zM67.1 239.5h0.65v0.65h-0.65zM83.1 243.0h0.65v0.65h-0.65zM82.9 225.5h0.65v0.65h-0.65zM80.3 260.3h0.65v0.65h-0.65zM69.5 268.2h0.65v0.65h-0.65zM65.3 246.6h0.65v0.65h-0.65zM94.4 218.1h0.65v0.65h-0.65zM72.3 248.5h0.65v0.65h-0.65zM80.1 260.9h0.65v0.65h-0.65zM86.0 236.4h0.65v0.65h-0.65zM60.5 212.6h0.65v0.65h-0.65zM86.0 229.6h0.65v0.65h-0.65zM58.5 240.9h0.65v0.65h-0.65zM55.4 229.2h0.65v0.65h-0.65zM54.6 219.8h0.65v0.65h-0.65zM65.2 213.1h0.65v0.65h-0.65zM59.1 211.9h0.65v0.65h-0.65zM79.2 219.0h0.65v0.65h-0.65zM85.8 249.8h0.65v0.65h-0.65zM81.7 208.7h0.65v0.65h-0.65zM76.4 254.2h0.65v0.65h-0.65zM77.9 234.5h0.65v0.65h-0.65zM82.1 246.9h0.65v0.65h-0.65zM83.4 252.1h0.65v0.65h-0.65zM80.9 254.5h0.65v0.65h-0.65zM97.6 256.0h0.65v0.65h-0.65zM73.8 264.6h0.65v0.65h-0.65zM78.5 243.8h0.65v0.65h-0.65zM80.1 220.5h0.65v0.65h-0.65zM83.4 232.0h0.65v0.65h-0.65zM69.6 206.3h0.65v0.65h-0.65zM85.4 255.4h0.65v0.65h-0.65zM92.1 208.6h0.65v0.65h-0.65zM74.4 242.7h0.65v0.65h-0.65zM46.1 229.1h0.65v0.65h-0.65zM81.9 226.7h0.65v0.65h-0.65zM44.7 230.3h0.65v0.65h-0.65zM68.7 206.1h0.65v0.65h-0.65zM95.1 246.2h0.65v0.65h-0.65zM88.6 263.7h0.65v0.65h-0.65zM78.8 225.0h0.65v0.65h-0.65zM81.8 244.5h0.65v0.65h-0.65zM37.2 244.8h0.65v0.65h-0.65zM85.4 259.1h0.65v0.65h-0.65zM90.1 209.7h0.65v0.65h-0.65zM54.2 265.3h0.65v0.65h-0.65zM86.1 227.2h0.65v0.65h-0.65zM70.3 230.6h0.65v0.65h-0.65zM87.4 217.5h0.65v0.65h-0.65zM81.4 230.3h0.65v0.65h-0.65zM90.4 254.7h0.65v0.65h-0.65zM55.2 240.6h0.65v0.65h-0.65zM73.5 232.5h0.65v0.65h-0.65zM56.6 236.2h0.65v0.65h-0.65zM94.9 254.4h0.65v0.65h-0.65zM62.6 216.3h0.65v0.65h-0.65zM75.8 225.8h0.65v0.65h-0.65zM63.4 229.7h0.65v0.65h-0.65zM90.7 216.5h0.65v0.65h-0.65zM63.9 260.4h0.65v0.65h-0.65zM80.3 265.4h0.65v0.65h-0.65zM81.8 234.2h0.65v0.65h-0.65zM41.6 265.6h0.65v0.65h-0.65zM97.0 230.7h0.65v0.65h-0.65zM81.6 264.5h0.65v0.65h-0.65zM82.0 257.3h0.65v0.65h-0.65zM79.5 230.6h0.65v0.65h-0.65zM64.8 250.2h0.65v0.65h-0.65zM57.9 245.8h0.65v0.65h-0.65zM60.2 258.8h0.65v0.65h-0.65zM61.1 238.2h0.65v0.65h-0.65zM50.9 218.6h0.65v0.65h-0.65zM67.6 248.8h0.65v0.65h-0.65zM79.7 221.0h0.65v0.65h-0.65zM78.6 236.9h0.65v0.65h-0.65zM60.0 236.7h0.65v0.65h-0.65zM68.7 234.9h0.65v0.65h-0.65zM85.2 212.3h0.65v0.65h-0.65zM37.7 218.3h0.65v0.65h-0.65zM82.9 250.4h0.65v0.65h-0.65zM90.0 219.4h0.65v0.65h-0.65zM83.8 224.9h0.65v0.65h-0.65zM70.1 213.0h0.65v0.65h-0.65zM80.3 210.7h0.65v0.65h-0.65zM81.2 263.7h0.65v0.65h-0.65zM67.8 248.9h0.65v0.65h-0.65zM94.7 235.9h0.65v0.65h-0.65zM81.6 263.6h0.65v0.65h-0.65zM65.2 234.8h0.65v0.65h-0.65zM74.1 210.8h0.65v0.65h-0.65zM83.2 231.2h0.65v0.65h-0.65zM46.5 239.2h0.65v0.65h-0.65zM83.9 226.0h0.65v0.65h-0.65zM68.2 241.6h0.65v0.65h-0.65zM71.7 228.7h0.65v0.65h-0.65zM56.4 233.5h0.65v0.65h-0.65zM48.8 225.4h0.65v0.65h-0.65zM95.4 233.3h0.65v0.65h-0.65zM78.0 258.7h0.65v0.65h-0.65zM84.2 222.9h0.65v0.65h-0.65zM86.3 264.4h0.65v0.65h-0.65zM46.6 263.4h0.65v0.65h-0.65zM95.4 248.2h0.65v0.65h-0.65zM87.9 262.5h0.65v0.65h-0.65zM82.1 229.7h0.65v0.65h-0.65zM76.8 265.6h0.65v0.65h-0.65zM80.2 252.5h0.65v0.65h-0.65zM70.0 256.7h0.65v0.65h-0.65zM59.5 212.6h0.65v0.65h-0.65zM81.2 264.3h0.65v0.65h-0.65zM57.3 257.3h0.65v0.65h-0.65zM90.5 224.3h0.65v0.65h-0.65zM81.6 244.3h0.65v0.65h-0.65zM87.7 237.4h0.65v0.65h-0.65zM68.8 265.3h0.65v0.65h-0.65zM95.9 252.7h0.65v0.65h-0.65zM44.9 231.1h0.65v0.65h-0.65zM83.3 257.1h0.65v0.65h-0.65zM66.8 220.2h0.65v0.65h-0.65zM50.6 256.5h0.65v0.65h-0.65zM81.7 263.5h0.65v0.65h-0.65zM69.2 218.8h0.65v0.65h-0.65zM83.4 221.5h0.65v0.65h-0.65zM91.9 223.0h0.65v0.65h-0.65zM53.4 267.8h0.65v0.65h-0.65zM90.4 252.1h0.65v0.65h-0.65zM47.5 218.6h0.65v0.65h-0.65zM87.7 210.8h0.65v0.65h-0.65zM50.9 257.5h0.65v0.65h-0.65zM50.8 261.8h0.65v0.65h-0.65zM84.0 257.8h0.65v0.65h-0.65zM45.0 232.7h0.65v0.65h-0.65zM59.9 238.6h0.65v0.65h-0.65zM76.8 262.1h0.65v0.65h-0.65zM36.3 212.6h0.65v0.65h-0.65zM60.1 234.3h0.65v0.65h-0.65zM85.9 260.1h0.65v0.65h-0.65zM79.8 245.0h0.65v0.65h-0.65zM88.5 211.3h0.65v0.65h-0.65zM83.8 223.6h0.65v0.65h-0.65zM86.1 210.2h0.65v0.65h-0.65zM65.4 218.1h0.65v0.65h-0.65zM88.2 261.3h0.65v0.65h-0.65zM81.5 245.6h0.65v0.65h-0.65zM89.9 208.1h0.65v0.65h-0.65zM82.1 205.6h0.65v0.65h-0.65zM86.2 227.1h0.65v0.65h-0.65zM70.8 260.1h0.65v0.65h-0.65zM80.3 264.5h0.65v0.65h-0.65zM79.3 250.8h0.65v0.65h-0.65zM68.2 217.7h0.65v0.65h-0.65zM87.2 251.9h0.65v0.65h-0.65zM78.9 256.5h0.65v0.65h-0.65zM77.8 255.9h0.65v0.65h-0.65zM45.1 268.4h0.65v0.65h-0.65zM52.8 206.0h0.65v0.65h-0.65zM79.5 264.3h0.65v0.65h-0.65zM74.8 253.8h0.65v0.65h-0.65zM86.0 209.6h0.65v0.65h-0.65zM55.5 243.4h0.65v0.65h-0.65zM81.9 239.3h0.65v0.65h-0.65zM83.6 258.8h0.65v0.65h-0.65zM76.9 263.5h0.65v0.65h-0.65zM66.5 262.6h0.65v0.65h-0.65zM72.3 232.4h0.65v0.65h-0.65zM87.2 207.5h0.65v0.65h-0.65zM68.8 220.4h0.65v0.65h-0.65zM84.0 233.9h0.65v0.65h-0.65zM87.1 245.0h0.65v0.65h-0.65zM56.9 267.9h0.65v0.65h-0.65zM48.3 242.4h0.65v0.65h-0.65zM76.2 220.4h0.65v0.65h-0.65zM43.2 226.2h0.65v0.65h-0.65zM89.0 212.8h0.65v0.65h-0.65zM72.0 214.1h0.65v0.65h-0.65zM83.7 207.1h0.65v0.65h-0.65zM90.2 238.9h0.65v0.65h-0.65zM69.7 258.7h0.65v0.65h-0.65zM81.6 236.4h0.65v0.65h-0.65zM76.4 231.6h0.65v0.65h-0.65zM84.4 218.5h0.65v0.65h-0.65zM68.6 244.2h0.65v0.65h-0.65zM86.9 243.6h0.65v0.65h-0.65zM65.6 245.9h0.65v0.65h-0.65zM78.4 265.5h0.65v0.65h-0.65zM40.6 225.8h0.65v0.65h-0.65zM52.8 249.5h0.65v0.65h-0.65zM80.9 220.4h0.65v0.65h-0.65zM91.0 255.0h0.65v0.65h-0.65zM90.8 245.7h0.65v0.65h-0.65zM52.1 214.9h0.65v0.65h-0.65zM82.1 264.3h0.65v0.65h-0.65zM76.0 254.9h0.65v0.65h-0.65zM93.4 254.8h0.65v0.65h-0.65zM85.4 265.6h0.65v0.65h-0.65zM78.8 246.5h0.65v0.65h-0.65zM86.5 218.7h0.65v0.65h-0.65zM47.4 237.4h0.65v0.65h-0.65zM54.5 210.7h0.65v0.65h-0.65zM78.3 266.8h0.65v0.65h-0.65zM82.5 208.7h0.65v0.65h-0.65zM82.5 211.6h0.65v0.65h-0.65zM78.4 265.8h0.65v0.65h-0.65zM94.9 214.0h0.65v0.65h-0.65zM73.6 255.8h0.65v0.65h-0.65zM83.5 225.6h0.65v0.65h-0.65zM61.9 224.6h0.65v0.65h-0.65zM82.8 239.2h0.65v0.65h-0.65zM50.0 263.2h0.65v0.65h-0.65zM80.5 237.2h0.65v0.65h-0.65zM46.7 207.1h0.65v0.65h-0.65zM77.9 260.3h0.65v0.65h-0.65zM77.9 230.8h0.65v0.65h-0.65zM80.0 213.3h0.65v0.65h-0.65zM80.1 242.8h0.65v0.65h-0.65zM58.5 227.7h0.65v0.65h-0.65zM57.6 215.1h0.65v0.65h-0.65zM80.5 225.9h0.65v0.65h-0.65zM80.4 244.1h0.65v0.65h-0.65zM42.0 218.2h0.65v0.65h-0.65zM79.5 249.4h0.65v0.65h-0.65zM43.0 259.5h0.65v0.65h-0.65zM87.9 212.3h0.65v0.65h-0.65zM83.4 254.2h0.65v0.65h-0.65zM79.4 246.2h0.65v0.65h-0.65zM67.0 257.9h0.65v0.65h-0.65zM81.2 266.5h0.65v0.65h-0.65zM83.2 217.9h0.65v0.65h-0.65zM49.0 223.0h0.65v0.65h-0.65zM83.2 267.4h0.65v0.65h-0.65zM73.0 248.3h0.65v0.65h-0.65zM66.8 253.7h0.65v0.65h-0.65zM90.1 245.8h0.65v0.65h-0.65zM43.5 217.6h0.65v0.65h-0.65zM73.9 266.0h0.65v0.65h-0.65zM66.3 263.7h0.65v0.65h-0.65zM79.3 232.0h0.65v0.65h-0.65zM85.6 208.2h0.65v0.65h-0.65zM84.2 226.3h0.65v0.65h-0.65zM72.5 250.1h0.65v0.65h-0.65zM80.1 225.1h0.65v0.65h-0.65zM84.8 216.5h0.65v0.65h-0.65zM52.5 267.5h0.65v0.65h-0.65zM94.6 256.2h0.65v0.65h-0.65zM64.7 232.9h0.65v0.65h-0.65zM85.3 255.0h0.65v0.65h-0.65zM78.3 217.9h0.65v0.65h-0.65zM73.4 266.1h0.65v0.65h-0.65zM80.1 264.0h0.65v0.65h-0.65zM77.3 242.4h0.65v0.65h-0.65zM48.4 239.3h0.65v0.65h-0.65zM80.0 265.7h0.65v0.65h-0.65zM55.3 242.3h0.65v0.65h-0.65zM35.9 206.3h0.65v0.65h-0.65zM89.9 244.5h0.65v0.65h-0.65zM87.8 207.5h0.65v0.65h-0.65zM84.1 220.9h0.65v0.65h-0.65zM83.5 255.3h0.65v0.65h-0.65zM91.6 213.3h0.65v0.65h-0.65zM43.6 246.2h0.65v0.65h-0.65zM78.6 228.7h0.65v0.65h-0.65zM84.5 240.9h0.65v0.65h-0.65zM64.8 245.1h0.65v0.65h-0.65zM78.4 223.7h0.65v0.65h-0.65zM71.0 259.3h0.65v0.65h-0.65zM65.1 253.4h0.65v0.65h-0.65zM49.2 249.4h0.65v0.65h-0.65zM88.5 215.7h0.65v0.65h-0.65zM55.1 259.8h0.65v0.65h-0.65zM88.0 244.4h0.65v0.65h-0.65zM50.5 268.2h0.65v0.65h-0.65zM82.4 253.9h0.65v0.65h-0.65zM86.9 218.7h0.65v0.65h-0.65zM83.6 222.1h0.65v0.65h-0.65zM63.9 246.1h0.65v0.65h-0.65zM85.1 251.9h0.65v0.65h-0.65zM86.6 210.5h0.65v0.65h-0.65zM87.8 208.1h0.65v0.65h-0.65zM80.5 255.8h0.65v0.65h-0.65zM79.6 260.8h0.65v0.65h-0.65zM88.4 225.6h0.65v0.65h-0.65zM91.5 217.0h0.65v0.65h-0.65zM38.9 250.4h0.65v0.65h-0.65zM66.7 210.5h0.65v0.65h-0.65zM86.8 263.9h0.65v0.65h-0.65zM82.9 254.5h0.65v0.65h-0.65zM48.3 267.4h0.65v0.65h-0.65zM69.7 243.2h0.65v0.65h-0.65zM53.8 267.3h0.65v0.65h-0.65zM78.0 247.3h0.65v0.65h-0.65zM47.7 256.9h0.65v0.65h-0.65zM51.0 267.9h0.65v0.65h-0.65zM36.9 213.1h0.65v0.65h-0.65zM63.3 235.3h0.65v0.65h-0.65zM50.3 223.6h0.65v0.65h-0.65zM66.4 246.8h0.65v0.65h-0.65zM83.3 236.8h0.65v0.65h-0.65zM90.2 215.8h0.65v0.65h-0.65zM78.5 239.4h0.65v0.65h-0.65zM71.8 235.4h0.65v0.65h-0.65zM91.7 214.4h0.65v0.65h-0.65zM85.9 230.8h0.65v0.65h-0.65zM76.6 265.3h0.65v0.65h-0.65zM82.0 258.0h0.65v0.65h-0.65zM44.7 221.0h0.65v0.65h-0.65zM81.5 249.1h0.65v0.65h-0.65zM81.7 268.0h0.65v0.65h-0.65zM91.4 219.5h0.65v0.65h-0.65zM49.2 229.5h0.65v0.65h-0.65zM85.8 264.6h0.65v0.65h-0.65zM69.8 254.6h0.65v0.65h-0.65zM90.8 211.2h0.65v0.65h-0.65zM68.1 258.2h0.65v0.65h-0.65zM79.0 261.5h0.65v0.65h-0.65zM61.3 238.7h0.65v0.65h-0.65zM72.8 209.3h0.65v0.65h-0.65zM86.6 211.3h0.65v0.65h-0.65zM68.8 234.5h0.65v0.65h-0.65zM79.5 246.4h0.65v0.65h-0.65zM84.0 248.8h0.65v0.65h-0.65zM82.8 219.1h0.65v0.65h-0.65zM57.3 259.8h0.65v0.65h-0.65zM85.3 211.9h0.65v0.65h-0.65zM50.3 208.4h0.65v0.65h-0.65zM77.0 223.3h0.65v0.65h-0.65zM84.3 236.4h0.65v0.65h-0.65zM72.2 233.1h0.65v0.65h-0.65zM75.5 259.2h0.65v0.65h-0.65zM83.3 255.1h0.65v0.65h-0.65zM96.1 210.2h0.65v0.65h-0.65zM87.2 215.0h0.65v0.65h-0.65zM82.9 219.5h0.65v0.65h-0.65zM75.7 265.7h0.65v0.65h-0.65zM82.8 245.4h0.65v0.65h-0.65zM79.3 206.1h0.65v0.65h-0.65zM86.2 224.8h0.65v0.65h-0.65zM75.5 264.1h0.65v0.65h-0.65zM85.7 222.9h0.65v0.65h-0.65zM68.4 231.7h0.65v0.65h-0.65zM42.5 268.2h0.65v0.65h-0.65zM51.0 254.1h0.65v0.65h-0.65zM66.5 230.6h0.65v0.65h-0.65zM79.3 225.8h0.65v0.65h-0.65zM89.9 237.0h0.65v0.65h-0.65zM81.2 229.8h0.65v0.65h-0.65zM79.4 267.3h0.65v0.65h-0.65zM88.2 211.1h0.65v0.65h-0.65zM87.5 230.3h0.65v0.65h-0.65zM75.2 206.1h0.65v0.65h-0.65zM36.6 229.8h0.65v0.65h-0.65zM81.7 214.1h0.65v0.65h-0.65zM88.0 235.8h0.65v0.65h-0.65zM80.8 231.1h0.65v0.65h-0.65zM89.3 219.8h0.65v0.65h-0.65zM82.3 243.4h0.65v0.65h-0.65zM61.9 253.9h0.65v0.65h-0.65zM81.5 243.6h0.65v0.65h-0.65zM60.8 251.3h0.65v0.65h-0.65zM76.0 249.5h0.65v0.65h-0.65zM88.8 247.0h0.65v0.65h-0.65zM78.5 256.1h0.65v0.65h-0.65zM60.6 214.5h0.65v0.65h-0.65zM70.3 242.9h0.65v0.65h-0.65zM72.7 267.0h0.65v0.65h-0.65zM53.4 217.1h0.65v0.65h-0.65zM83.4 224.3h0.65v0.65h-0.65zM89.7 221.8h0.65v0.65h-0.65zM51.8 226.5h0.65v0.65h-0.65zM85.9 206.2h0.65v0.65h-0.65zM74.6 230.4h0.65v0.65h-0.65zM95.1 243.9h0.65v0.65h-0.65zM95.8 251.9h0.65v0.65h-0.65zM79.6 258.9h0.65v0.65h-0.65zM60.7 237.1h0.65v0.65h-0.65zM77.1 211.5h0.65v0.65h-0.65zM82.5 212.5h0.65v0.65h-0.65zM82.7 252.5h0.65v0.65h-0.65zM40.4 262.2h0.65v0.65h-0.65zM79.5 260.4h0.65v0.65h-0.65zM90.9 235.2h0.65v0.65h-0.65zM90.9 220.9h0.65v0.65h-0.65zM63.5 266.6h0.65v0.65h-0.65zM80.8 265.9h0.65v0.65h-0.65zM93.4 225.7h0.65v0.65h-0.65zM82.3 230.1h0.65v0.65h-0.65zM83.8 232.0h0.65v0.65h-0.65zM68.5 251.1h0.65v0.65h-0.65zM91.0 254.0h0.65v0.65h-0.65zM82.5 245.3h0.65v0.65h-0.65zM84.5 221.1h0.65v0.65h-0.65zM85.9 231.4h0.65v0.65h-0.65zM76.7 236.0h0.65v0.65h-0.65zM83.0 249.8h0.65v0.65h-0.65zM56.5 264.1h0.65v0.65h-0.65zM70.6 249.7h0.65v0.65h-0.65zM95.0 248.7h0.65v0.65h-0.65zM84.1 234.9h0.65v0.65h-0.65zM85.6 213.4h0.65v0.65h-0.65zM81.3 260.2h0.65v0.65h-0.65zM84.2 216.0h0.65v0.65h-0.65zM95.1 212.8h0.65v0.65h-0.65zM80.0 234.4h0.65v0.65h-0.65zM64.1 213.3h0.65v0.65h-0.65zM60.3 267.6h0.65v0.65h-0.65zM85.9 246.2h0.65v0.65h-0.65zM67.5 236.5h0.65v0.65h-0.65zM83.1 262.3h0.65v0.65h-0.65zM39.2 240.6h0.65v0.65h-0.65zM83.3 251.9h0.65v0.65h-0.65zM85.1 268.2h0.65v0.65h-0.65zM69.1 223.4h0.65v0.65h-0.65zM81.1 224.7h0.65v0.65h-0.65zM55.3 245.8h0.65v0.65h-0.65zM73.7 266.3h0.65v0.65h-0.65zM84.7 242.2h0.65v0.65h-0.65zM85.5 215.0h0.65v0.65h-0.65zM85.1 243.9h0.65v0.65h-0.65zM85.0 209.2h0.65v0.65h-0.65zM45.3 264.9h0.65v0.65h-0.65zM86.6 237.2h0.65v0.65h-0.65zM42.8 228.0h0.65v0.65h-0.65zM52.0 238.1h0.65v0.65h-0.65zM85.6 218.0h0.65v0.65h-0.65zM44.7 237.5h0.65v0.65h-0.65zM89.9 231.6h0.65v0.65h-0.65zM80.9 237.7h0.65v0.65h-0.65zM88.5 215.9h0.65v0.65h-0.65zM62.9 267.3h0.65v0.65h-0.65zM76.0 238.6h0.65v0.65h-0.65zM74.1 250.2h0.65v0.65h-0.65zM88.0 220.8h0.65v0.65h-0.65zM84.3 210.3h0.65v0.65h-0.65zM80.0 209.6h0.65v0.65h-0.65zM44.8 232.6h0.65v0.65h-0.65zM68.9 266.6h0.65v0.65h-0.65zM86.7 221.9h0.65v0.65h-0.65zM88.8 239.6h0.65v0.65h-0.65zM39.1 218.8h0.65v0.65h-0.65zM61.1 259.3h0.65v0.65h-0.65zM39.6 260.9h0.65v0.65h-0.65zM67.0 264.5h0.65v0.65h-0.65zM87.3 230.0h0.65v0.65h-0.65zM59.3 219.2h0.65v0.65h-0.65zM76.0 228.6h0.65v0.65h-0.65zM55.4 249.0h0.65v0.65h-0.65zM81.1 209.1h0.65v0.65h-0.65zM51.9 265.5h0.65v0.65h-0.65zM61.2 209.9h0.65v0.65h-0.65zM55.6 268.2h0.65v0.65h-0.65zM86.8 216.5h0.65v0.65h-0.65zM45.8 239.3h0.65v0.65h-0.65zM76.8 213.1h0.65v0.65h-0.65zM79.1 250.8h0.65v0.65h-0.65zM79.6 252.2h0.65v0.65h-0.65zM87.1 225.7h0.65v0.65h-0.65zM80.9 231.8h0.65v0.65h-0.65zM78.5 256.2h0.65v0.65h-0.65zM47.1 236.9h0.65v0.65h-0.65zM50.2 224.2h0.65v0.65h-0.65zM84.1 258.2h0.65v0.65h-0.65zM93.8 216.3h0.65v0.65h-0.65zM77.3 206.7h0.65v0.65h-0.65zM77.3 231.8h0.65v0.65h-0.65z" fill="#3e2290" opacity="0.9"/>
<g filter="url(#bl05)">
<ellipse cx="44.7" cy="249.5" rx="4.9" ry="17.6" fill="#2d5cb8"/>
<ellipse cx="49.4" cy="259.0" rx="6.2" ry="4.1" fill="#2d5cb8"/>
<ellipse cx="44.4" cy="254.6" rx="3.9" ry="10.7" fill="#48a2e2"/>
<ellipse cx="44.4" cy="257.4" rx="3.0" ry="7.2" fill="#5cc8a0"/>
<ellipse cx="44.4" cy="258.3" rx="2.4" ry="5.3" fill="#a8d838"/>
<ellipse cx="44.4" cy="258.8" rx="1.9" ry="4.3" fill="#f0d020"/>
<ellipse cx="44.5" cy="259.3" rx="1.2" ry="2.8" fill="#e83020"/>
</g>
</g>
<line x1="35.70" y1="205.50" x2="98.00" y2="205.50" stroke="#b0a8d8" stroke-width="0.8"/>
<rect x="66.6" y="205.8" width="31.000000000000007" height="62.299999999999976" fill="none" stroke="#4e4e96" stroke-width="0.8"/>
<line x1="35.70" y1="205.50" x2="35.70" y2="268.90" stroke="#000" stroke-width="0.9"/>
<line x1="35.20" y1="268.40" x2="98.00" y2="268.40" stroke="#000" stroke-width="0.9"/>
<line x1="34.50" y1="268.40" x2="35.70" y2="268.40" stroke="#000" stroke-width="0.4"/>
<line x1="34.50" y1="266.30" x2="35.70" y2="266.30" stroke="#000" stroke-width="0.4"/>
<line x1="34.50" y1="264.21" x2="35.70" y2="264.21" stroke="#000" stroke-width="0.4"/>
<line x1="34.50" y1="262.11" x2="35.70" y2="262.11" stroke="#000" stroke-width="0.4"/>
<line x1="34.50" y1="260.01" x2="35.70" y2="260.01" stroke="#000" stroke-width="0.4"/>
<line x1="34.50" y1="257.92" x2="35.70" y2="257.92" stroke="#000" stroke-width="0.4"/>
<line x1="34.50" y1="255.82" x2="35.70" y2="255.82" stroke="#000" stroke-width="0.4"/>
<line x1="34.50" y1="253.72" x2="35.70" y2="253.72" stroke="#000" stroke-width="0.4"/>
<line x1="34.50" y1="251.63" x2="35.70" y2="251.63" stroke="#000" stroke-width="0.4"/>
<line x1="34.50" y1="249.53" x2="35.70" y2="249.53" stroke="#000" stroke-width="0.4"/>
<line x1="34.50" y1="247.43" x2="35.70" y2="247.43" stroke="#000" stroke-width="0.4"/>
<line x1="34.50" y1="245.34" x2="35.70" y2="245.34" stroke="#000" stroke-width="0.4"/>
<line x1="34.50" y1="243.24" x2="35.70" y2="243.24" stroke="#000" stroke-width="0.4"/>
<line x1="34.50" y1="241.14" x2="35.70" y2="241.14" stroke="#000" stroke-width="0.4"/>
<line x1="34.50" y1="239.05" x2="35.70" y2="239.05" stroke="#000" stroke-width="0.4"/>
<line x1="34.50" y1="236.95" x2="35.70" y2="236.95" stroke="#000" stroke-width="0.4"/>
<line x1="34.50" y1="234.85" x2="35.70" y2="234.85" stroke="#000" stroke-width="0.4"/>
<line x1="34.50" y1="232.76" x2="35.70" y2="232.76" stroke="#000" stroke-width="0.4"/>
<line x1="34.50" y1="230.66" x2="35.70" y2="230.66" stroke="#000" stroke-width="0.4"/>
<line x1="34.50" y1="228.56" x2="35.70" y2="228.56" stroke="#000" stroke-width="0.4"/>
<line x1="34.50" y1="226.47" x2="35.70" y2="226.47" stroke="#000" stroke-width="0.4"/>
<line x1="34.50" y1="224.37" x2="35.70" y2="224.37" stroke="#000" stroke-width="0.4"/>
<line x1="34.50" y1="222.27" x2="35.70" y2="222.27" stroke="#000" stroke-width="0.4"/>
<line x1="34.50" y1="220.18" x2="35.70" y2="220.18" stroke="#000" stroke-width="0.4"/>
<line x1="34.50" y1="218.08" x2="35.70" y2="218.08" stroke="#000" stroke-width="0.4"/>
<line x1="34.50" y1="215.98" x2="35.70" y2="215.98" stroke="#000" stroke-width="0.4"/>
<line x1="34.50" y1="213.89" x2="35.70" y2="213.89" stroke="#000" stroke-width="0.4"/>
<line x1="34.50" y1="211.79" x2="35.70" y2="211.79" stroke="#000" stroke-width="0.4"/>
<line x1="34.50" y1="209.69" x2="35.70" y2="209.69" stroke="#000" stroke-width="0.4"/>
<line x1="34.50" y1="207.60" x2="35.70" y2="207.60" stroke="#000" stroke-width="0.4"/>
<line x1="34.50" y1="205.50" x2="35.70" y2="205.50" stroke="#000" stroke-width="0.4"/>
<line x1="33.70" y1="268.10" x2="35.70" y2="268.10" stroke="#000" stroke-width="0.6"/>
<text font-size="4.0" text-anchor="end" fill="#333" stroke="#333" stroke-width="0.3" transform="translate(33.40 269.54)">0</text>
<line x1="33.70" y1="256.20" x2="35.70" y2="256.20" stroke="#000" stroke-width="0.6"/>
<text font-size="4.0" text-anchor="end" fill="#333" stroke="#333" stroke-width="0.3" transform="translate(33.40 257.64)">50</text>
<line x1="33.70" y1="244.30" x2="35.70" y2="244.30" stroke="#000" stroke-width="0.6"/>
<text font-size="4.0" text-anchor="end" fill="#333" stroke="#333" stroke-width="0.3" transform="translate(33.40 245.74)">100</text>
<line x1="33.70" y1="232.40" x2="35.70" y2="232.40" stroke="#000" stroke-width="0.6"/>
<text font-size="4.0" text-anchor="end" fill="#333" stroke="#333" stroke-width="0.3" transform="translate(33.40 233.84)">150</text>
<line x1="33.70" y1="220.50" x2="35.70" y2="220.50" stroke="#000" stroke-width="0.6"/>
<text font-size="4.0" text-anchor="end" fill="#333" stroke="#333" stroke-width="0.3" transform="translate(33.40 221.94)">200</text>
<line x1="33.70" y1="208.60" x2="35.70" y2="208.60" stroke="#000" stroke-width="0.6"/>
<text font-size="4.0" text-anchor="end" fill="#333" stroke="#333" stroke-width="0.3" transform="translate(33.40 210.04)">250</text>
<line x1="38.60" y1="268.40" x2="38.60" y2="270.20" stroke="#000" stroke-width="0.6"/>
<text font-size="3.8" text-anchor="middle" fill="#333" stroke="#333" stroke-width="0.3" transform="translate(38.60 273.90)">-10³</text>
<line x1="44.60" y1="268.40" x2="44.60" y2="270.20" stroke="#000" stroke-width="0.6"/>
<text font-size="3.8" text-anchor="middle" fill="#333" stroke="#333" stroke-width="0.3" transform="translate(44.60 273.90)">0</text>
<line x1="49.60" y1="268.40" x2="49.60" y2="270.20" stroke="#000" stroke-width="0.6"/>
<text font-size="3.8" text-anchor="middle" fill="#333" stroke="#333" stroke-width="0.3" transform="translate(49.60 273.90)">10³</text>
<line x1="64.50" y1="268.40" x2="64.50" y2="270.20" stroke="#000" stroke-width="0.6"/>
<text font-size="3.8" text-anchor="middle" fill="#333" stroke="#333" stroke-width="0.3" transform="translate(64.50 273.90)">10³</text>
<line x1="78.70" y1="268.40" x2="78.70" y2="270.20" stroke="#000" stroke-width="0.6"/>
<text font-size="3.8" text-anchor="middle" fill="#333" stroke="#333" stroke-width="0.3" transform="translate(78.70 273.90)">10⁴</text>
<line x1="93.30" y1="268.40" x2="93.30" y2="270.20" stroke="#000" stroke-width="0.6"/>
<text font-size="3.8" text-anchor="middle" fill="#333" stroke="#333" stroke-width="0.3" transform="translate(93.30 273.90)">10⁵</text>
<line x1="35.70" y1="268.40" x2="35.70" y2="269.40" stroke="#000" stroke-width="0.35"/>
<line x1="37.26" y1="268.40" x2="37.26" y2="269.40" stroke="#000" stroke-width="0.35"/>
<line x1="38.82" y1="268.40" x2="38.82" y2="269.40" stroke="#000" stroke-width="0.35"/>
<line x1="40.37" y1="268.40" x2="40.37" y2="269.40" stroke="#000" stroke-width="0.35"/>
<line x1="41.93" y1="268.40" x2="41.93" y2="269.40" stroke="#000" stroke-width="0.35"/>
<line x1="43.49" y1="268.40" x2="43.49" y2="269.40" stroke="#000" stroke-width="0.35"/>
<line x1="45.05" y1="268.40" x2="45.05" y2="269.40" stroke="#000" stroke-width="0.35"/>
<line x1="46.60" y1="268.40" x2="46.60" y2="269.40" stroke="#000" stroke-width="0.35"/>
<line x1="48.16" y1="268.40" x2="48.16" y2="269.40" stroke="#000" stroke-width="0.35"/>
<line x1="49.72" y1="268.40" x2="49.72" y2="269.40" stroke="#000" stroke-width="0.35"/>
<line x1="51.28" y1="268.40" x2="51.28" y2="269.40" stroke="#000" stroke-width="0.35"/>
<line x1="52.83" y1="268.40" x2="52.83" y2="269.40" stroke="#000" stroke-width="0.35"/>
<line x1="54.39" y1="268.40" x2="54.39" y2="269.40" stroke="#000" stroke-width="0.35"/>
<line x1="55.95" y1="268.40" x2="55.95" y2="269.40" stroke="#000" stroke-width="0.35"/>
<line x1="57.51" y1="268.40" x2="57.51" y2="269.40" stroke="#000" stroke-width="0.35"/>
<line x1="59.06" y1="268.40" x2="59.06" y2="269.40" stroke="#000" stroke-width="0.35"/>
<line x1="60.62" y1="268.40" x2="60.62" y2="269.40" stroke="#000" stroke-width="0.35"/>
<line x1="62.18" y1="268.40" x2="62.18" y2="269.40" stroke="#000" stroke-width="0.35"/>
<line x1="63.73" y1="268.40" x2="63.73" y2="269.40" stroke="#000" stroke-width="0.35"/>
<line x1="65.29" y1="268.40" x2="65.29" y2="269.40" stroke="#000" stroke-width="0.35"/>
<line x1="66.85" y1="268.40" x2="66.85" y2="269.40" stroke="#000" stroke-width="0.35"/>
<line x1="68.41" y1="268.40" x2="68.41" y2="269.40" stroke="#000" stroke-width="0.35"/>
<line x1="69.97" y1="268.40" x2="69.97" y2="269.40" stroke="#000" stroke-width="0.35"/>
<line x1="71.52" y1="268.40" x2="71.52" y2="269.40" stroke="#000" stroke-width="0.35"/>
<line x1="73.08" y1="268.40" x2="73.08" y2="269.40" stroke="#000" stroke-width="0.35"/>
<line x1="74.64" y1="268.40" x2="74.64" y2="269.40" stroke="#000" stroke-width="0.35"/>
<line x1="76.19" y1="268.40" x2="76.19" y2="269.40" stroke="#000" stroke-width="0.35"/>
<line x1="77.75" y1="268.40" x2="77.75" y2="269.40" stroke="#000" stroke-width="0.35"/>
<line x1="79.31" y1="268.40" x2="79.31" y2="269.40" stroke="#000" stroke-width="0.35"/>
<line x1="80.87" y1="268.40" x2="80.87" y2="269.40" stroke="#000" stroke-width="0.35"/>
<line x1="82.43" y1="268.40" x2="82.43" y2="269.40" stroke="#000" stroke-width="0.35"/>
<line x1="83.98" y1="268.40" x2="83.98" y2="269.40" stroke="#000" stroke-width="0.35"/>
<line x1="85.54" y1="268.40" x2="85.54" y2="269.40" stroke="#000" stroke-width="0.35"/>
<line x1="87.10" y1="268.40" x2="87.10" y2="269.40" stroke="#000" stroke-width="0.35"/>
<line x1="88.66" y1="268.40" x2="88.66" y2="269.40" stroke="#000" stroke-width="0.35"/>
<line x1="90.21" y1="268.40" x2="90.21" y2="269.40" stroke="#000" stroke-width="0.35"/>
<line x1="91.77" y1="268.40" x2="91.77" y2="269.40" stroke="#000" stroke-width="0.35"/>
<line x1="93.33" y1="268.40" x2="93.33" y2="269.40" stroke="#000" stroke-width="0.35"/>
<line x1="94.89" y1="268.40" x2="94.89" y2="269.40" stroke="#000" stroke-width="0.35"/>
<line x1="96.44" y1="268.40" x2="96.44" y2="269.40" stroke="#000" stroke-width="0.35"/>
<text font-size="5.2" fill="#111" stroke="#111" stroke-width="0.3" transform="translate(74.50 266.80)">4.11 %</text>
<text font-size="2.4" fill="#333" stroke="#333" stroke-width="0.3" transform="translate(88.20 266.80)">CD45</text>
<clipPath id="fc12"><rect x="35.7" y="277.5" width="62.3" height="62.89999999999998"/></clipPath>
<g clip-path="url(#fc12)">
<g filter="url(#bl2)">
<ellipse cx="44.7" cy="319.6" rx="5.0" ry="26.4" fill="#3a1e8a" opacity="1.0"/>
<ellipse cx="45.0" cy="290.1" rx="4.0" ry="13.8" fill="#3a1e8a" opacity="0.7"/>
<ellipse cx="63.7" cy="336.0" rx="19.9" ry="6.3" fill="#3a1e8a" opacity="0.95"/>
<ellipse cx="58.1" cy="326.6" rx="13.7" ry="12.6" fill="#3a1e8a" opacity="0.75"/>
<ellipse cx="60.6" cy="295.1" rx="17.4" ry="18.9" fill="#3a1e8a" opacity="0.12"/>
<ellipse cx="76.8" cy="329.1" rx="6.2" ry="8.2" fill="#3a1e8a" opacity="1.0"/>
<ellipse cx="81.8" cy="312.1" rx="4.4" ry="12.6" fill="#3a1e8a" opacity="0.95"/>
<ellipse cx="85.5" cy="293.9" rx="3.7" ry="12.6" fill="#3a1e8a" opacity="0.9"/>
<ellipse cx="88.0" cy="280.6" rx="3.4" ry="6.3" fill="#3a1e8a" opacity="0.8"/>
<ellipse cx="93.6" cy="312.1" rx="2.5" ry="25.2" fill="#3a1e8a" opacity="0.18"/>
</g>
<path d="M76.7 298.5h0.65v0.65h-0.65zM45.6 324.5h0.65v0.65h-0.65zM86.9 302.9h0.65v0.65h-0.65zM81.2 305.3h0.65v0.65h-0.65zM45.8 283.4h0.65v0.65h-0.65zM87.4 338.7h0.65v0.65h-0.65zM77.7 319.2h0.65v0.65h-0.65zM88.2 339.2h0.65v0.65h-0.65zM92.4 316.0h0.65v0.65h-0.65zM96.1 282.1h0.65v0.65h-0.65zM66.9 336.6h0.65v0.65h-0.65zM74.4 330.1h0.65v0.65h-0.65zM80.0 337.2h0.65v0.65h-0.65zM61.8 302.9h0.65v0.65h-0.65zM59.7 338.5h0.65v0.65h-0.65zM94.7 279.5h0.65v0.65h-0.65zM81.3 298.7h0.65v0.65h-0.65zM87.2 298.0h0.65v0.65h-0.65zM57.2 325.2h0.65v0.65h-0.65zM86.2 308.9h0.65v0.65h-0.65zM87.6 321.1h0.65v0.65h-0.65zM49.5 313.5h0.65v0.65h-0.65zM83.8 333.9h0.65v0.65h-0.65zM46.8 296.6h0.65v0.65h-0.65zM59.3 326.3h0.65v0.65h-0.65zM73.3 337.1h0.65v0.65h-0.65zM69.7 281.1h0.65v0.65h-0.65zM95.3 329.9h0.65v0.65h-0.65zM80.9 317.5h0.65v0.65h-0.65zM83.8 285.1h0.65v0.65h-0.65zM58.9 296.7h0.65v0.65h-0.65zM50.8 339.9h0.65v0.65h-0.65zM77.1 278.9h0.65v0.65h-0.65zM85.7 308.7h0.65v0.65h-0.65zM86.5 288.1h0.65v0.65h-0.65zM73.5 326.0h0.65v0.65h-0.65zM78.0 323.9h0.65v0.65h-0.65zM88.6 284.1h0.65v0.65h-0.65zM82.1 322.9h0.65v0.65h-0.65zM79.7 308.0h0.65v0.65h-0.65zM59.8 331.1h0.65v0.65h-0.65zM77.8 296.7h0.65v0.65h-0.65zM90.9 321.7h0.65v0.65h-0.65zM67.6 279.3h0.65v0.65h-0.65zM74.6 282.5h0.65v0.65h-0.65zM80.0 292.6h0.65v0.65h-0.65zM88.3 290.8h0.65v0.65h-0.65zM57.3 317.2h0.65v0.65h-0.65zM89.4 305.0h0.65v0.65h-0.65zM86.2 290.2h0.65v0.65h-0.65zM79.4 283.1h0.65v0.65h-0.65zM41.8 318.2h0.65v0.65h-0.65zM93.9 297.1h0.65v0.65h-0.65zM74.5 332.6h0.65v0.65h-0.65zM79.3 315.6h0.65v0.65h-0.65zM66.1 327.4h0.65v0.65h-0.65zM75.7 331.5h0.65v0.65h-0.65zM61.2 302.5h0.65v0.65h-0.65zM87.6 298.9h0.65v0.65h-0.65zM70.3 320.2h0.65v0.65h-0.65zM79.6 326.4h0.65v0.65h-0.65zM62.0 282.4h0.65v0.65h-0.65zM63.7 329.8h0.65v0.65h-0.65zM67.4 332.8h0.65v0.65h-0.65zM80.2 308.9h0.65v0.65h-0.65zM71.8 330.2h0.65v0.65h-0.65zM80.0 324.7h0.65v0.65h-0.65zM89.0 288.1h0.65v0.65h-0.65zM72.9 297.5h0.65v0.65h-0.65zM77.7 298.7h0.65v0.65h-0.65zM80.8 305.6h0.65v0.65h-0.65zM75.9 320.1h0.65v0.65h-0.65zM58.2 321.1h0.65v0.65h-0.65zM56.7 313.6h0.65v0.65h-0.65zM47.4 294.1h0.65v0.65h-0.65zM93.5 309.7h0.65v0.65h-0.65zM90.1 284.0h0.65v0.65h-0.65zM43.5 300.1h0.65v0.65h-0.65zM84.1 302.1h0.65v0.65h-0.65zM74.5 323.8h0.65v0.65h-0.65zM59.4 316.2h0.65v0.65h-0.65zM86.0 329.7h0.65v0.65h-0.65zM58.2 280.0h0.65v0.65h-0.65zM39.0 287.9h0.65v0.65h-0.65zM81.3 288.7h0.65v0.65h-0.65zM44.3 286.0h0.65v0.65h-0.65zM83.7 327.1h0.65v0.65h-0.65zM75.6 338.9h0.65v0.65h-0.65zM53.5 301.0h0.65v0.65h-0.65zM54.9 334.5h0.65v0.65h-0.65zM89.4 302.2h0.65v0.65h-0.65zM80.5 314.1h0.65v0.65h-0.65zM68.6 299.4h0.65v0.65h-0.65zM82.5 308.6h0.65v0.65h-0.65zM78.5 311.0h0.65v0.65h-0.65zM67.9 295.4h0.65v0.65h-0.65zM92.9 317.1h0.65v0.65h-0.65zM80.9 297.0h0.65v0.65h-0.65zM80.1 297.5h0.65v0.65h-0.65zM86.9 293.0h0.65v0.65h-0.65zM79.1 332.3h0.65v0.65h-0.65zM48.0 340.3h0.65v0.65h-0.65zM50.9 303.3h0.65v0.65h-0.65zM88.4 279.7h0.65v0.65h-0.65zM85.9 293.4h0.65v0.65h-0.65zM92.9 318.2h0.65v0.65h-0.65zM84.2 321.5h0.65v0.65h-0.65zM55.4 325.2h0.65v0.65h-0.65zM76.4 281.6h0.65v0.65h-0.65zM84.8 292.3h0.65v0.65h-0.65zM77.1 317.6h0.65v0.65h-0.65zM93.3 298.3h0.65v0.65h-0.65zM56.9 317.7h0.65v0.65h-0.65zM86.0 288.5h0.65v0.65h-0.65zM89.4 278.2h0.65v0.65h-0.65zM47.8 301.1h0.65v0.65h-0.65zM58.2 325.9h0.65v0.65h-0.65zM73.9 332.4h0.65v0.65h-0.65zM95.0 293.5h0.65v0.65h-0.65zM66.7 337.8h0.65v0.65h-0.65zM79.5 300.7h0.65v0.65h-0.65zM73.4 309.9h0.65v0.65h-0.65zM59.3 320.9h0.65v0.65h-0.65zM97.8 319.6h0.65v0.65h-0.65zM64.4 329.5h0.65v0.65h-0.65zM48.5 320.1h0.65v0.65h-0.65zM57.5 281.4h0.65v0.65h-0.65zM62.2 305.4h0.65v0.65h-0.65zM67.8 299.7h0.65v0.65h-0.65zM79.8 337.9h0.65v0.65h-0.65zM86.9 278.4h0.65v0.65h-0.65zM74.4 329.6h0.65v0.65h-0.65zM79.8 325.7h0.65v0.65h-0.65zM78.0 306.9h0.65v0.65h-0.65zM65.5 280.1h0.65v0.65h-0.65zM94.1 315.8h0.65v0.65h-0.65zM58.1 295.4h0.65v0.65h-0.65zM71.6 325.4h0.65v0.65h-0.65zM77.0 301.6h0.65v0.65h-0.65zM78.9 318.1h0.65v0.65h-0.65zM37.2 284.4h0.65v0.65h-0.65zM89.6 315.9h0.65v0.65h-0.65zM88.3 321.7h0.65v0.65h-0.65zM51.8 314.4h0.65v0.65h-0.65zM47.7 337.3h0.65v0.65h-0.65zM45.6 332.7h0.65v0.65h-0.65zM78.4 316.5h0.65v0.65h-0.65zM73.2 281.7h0.65v0.65h-0.65zM56.8 289.4h0.65v0.65h-0.65zM83.1 281.8h0.65v0.65h-0.65zM92.1 297.1h0.65v0.65h-0.65zM85.0 324.0h0.65v0.65h-0.65zM92.2 333.6h0.65v0.65h-0.65zM77.1 328.7h0.65v0.65h-0.65zM83.1 287.6h0.65v0.65h-0.65zM70.6 325.4h0.65v0.65h-0.65zM40.5 282.5h0.65v0.65h-0.65zM70.7 287.4h0.65v0.65h-0.65zM78.8 305.8h0.65v0.65h-0.65zM88.5 317.0h0.65v0.65h-0.65zM77.4 338.9h0.65v0.65h-0.65zM82.8 278.1h0.65v0.65h-0.65zM66.1 294.4h0.65v0.65h-0.65zM83.2 307.4h0.65v0.65h-0.65zM77.2 299.5h0.65v0.65h-0.65zM53.6 335.2h0.65v0.65h-0.65zM47.2 279.6h0.65v0.65h-0.65zM76.2 336.6h0.65v0.65h-0.65zM85.8 306.9h0.65v0.65h-0.65zM95.1 278.9h0.65v0.65h-0.65zM65.9 305.2h0.65v0.65h-0.65zM74.5 302.1h0.65v0.65h-0.65zM85.9 288.6h0.65v0.65h-0.65zM77.4 313.1h0.65v0.65h-0.65zM46.1 308.0h0.65v0.65h-0.65zM41.6 309.6h0.65v0.65h-0.65zM56.0 304.8h0.65v0.65h-0.65zM68.7 278.3h0.65v0.65h-0.65zM81.9 321.6h0.65v0.65h-0.65zM73.6 336.8h0.65v0.65h-0.65zM93.8 298.8h0.65v0.65h-0.65zM86.1 327.5h0.65v0.65h-0.65zM54.1 321.1h0.65v0.65h-0.65zM91.7 297.7h0.65v0.65h-0.65zM76.4 291.4h0.65v0.65h-0.65zM38.9 280.1h0.65v0.65h-0.65zM87.5 298.9h0.65v0.65h-0.65zM48.4 326.6h0.65v0.65h-0.65zM49.9 317.9h0.65v0.65h-0.65zM80.7 281.8h0.65v0.65h-0.65zM84.1 296.0h0.65v0.65h-0.65zM85.5 287.2h0.65v0.65h-0.65zM85.3 303.3h0.65v0.65h-0.65zM45.3 327.7h0.65v0.65h-0.65zM46.7 301.1h0.65v0.65h-0.65zM97.2 297.4h0.65v0.65h-0.65zM62.7 315.8h0.65v0.65h-0.65zM94.8 285.0h0.65v0.65h-0.65zM88.0 299.5h0.65v0.65h-0.65zM73.0 335.3h0.65v0.65h-0.65zM72.3 329.7h0.65v0.65h-0.65zM82.8 317.6h0.65v0.65h-0.65zM86.3 330.4h0.65v0.65h-0.65zM89.6 296.8h0.65v0.65h-0.65zM45.0 278.9h0.65v0.65h-0.65zM92.3 331.2h0.65v0.65h-0.65zM73.4 331.5h0.65v0.65h-0.65zM81.1 324.0h0.65v0.65h-0.65zM94.1 287.9h0.65v0.65h-0.65zM82.1 313.6h0.65v0.65h-0.65zM88.0 336.9h0.65v0.65h-0.65zM67.5 289.3h0.65v0.65h-0.65zM48.3 285.5h0.65v0.65h-0.65zM83.0 336.4h0.65v0.65h-0.65zM55.8 320.5h0.65v0.65h-0.65zM84.2 287.6h0.65v0.65h-0.65zM60.3 294.9h0.65v0.65h-0.65zM75.5 338.8h0.65v0.65h-0.65zM95.5 330.9h0.65v0.65h-0.65zM58.8 287.0h0.65v0.65h-0.65zM82.3 337.2h0.65v0.65h-0.65zM71.7 329.8h0.65v0.65h-0.65zM77.0 313.0h0.65v0.65h-0.65zM89.8 314.8h0.65v0.65h-0.65zM73.9 333.7h0.65v0.65h-0.65zM81.0 287.4h0.65v0.65h-0.65zM84.8 318.1h0.65v0.65h-0.65zM49.4 340.3h0.65v0.65h-0.65zM93.3 303.8h0.65v0.65h-0.65zM81.7 282.8h0.65v0.65h-0.65zM88.4 296.9h0.65v0.65h-0.65zM91.0 335.7h0.65v0.65h-0.65zM78.5 293.6h0.65v0.65h-0.65zM77.4 320.8h0.65v0.65h-0.65zM90.2 327.9h0.65v0.65h-0.65zM55.2 295.5h0.65v0.65h-0.65zM52.0 339.0h0.65v0.65h-0.65zM77.3 278.5h0.65v0.65h-0.65zM68.9 325.6h0.65v0.65h-0.65zM57.1 333.6h0.65v0.65h-0.65zM52.3 336.6h0.65v0.65h-0.65zM93.0 300.8h0.65v0.65h-0.65zM92.4 289.2h0.65v0.65h-0.65zM88.1 326.1h0.65v0.65h-0.65zM92.5 294.9h0.65v0.65h-0.65zM86.0 314.2h0.65v0.65h-0.65zM55.9 280.3h0.65v0.65h-0.65zM83.0 334.7h0.65v0.65h-0.65zM65.5 331.8h0.65v0.65h-0.65zM70.8 321.3h0.65v0.65h-0.65zM52.8 320.2h0.65v0.65h-0.65zM48.3 318.3h0.65v0.65h-0.65zM83.0 296.9h0.65v0.65h-0.65zM91.0 280.6h0.65v0.65h-0.65zM66.9 322.0h0.65v0.65h-0.65zM89.5 339.7h0.65v0.65h-0.65zM85.5 297.9h0.65v0.65h-0.65zM87.4 279.8h0.65v0.65h-0.65zM79.8 303.9h0.65v0.65h-0.65zM78.8 304.0h0.65v0.65h-0.65zM60.9 300.9h0.65v0.65h-0.65zM94.3 291.8h0.65v0.65h-0.65zM80.6 325.7h0.65v0.65h-0.65zM68.5 294.7h0.65v0.65h-0.65zM52.6 334.6h0.65v0.65h-0.65zM69.3 329.7h0.65v0.65h-0.65zM49.6 302.8h0.65v0.65h-0.65zM62.9 329.2h0.65v0.65h-0.65zM76.6 318.7h0.65v0.65h-0.65zM77.7 309.2h0.65v0.65h-0.65zM66.8 339.1h0.65v0.65h-0.65zM84.2 333.9h0.65v0.65h-0.65zM82.0 312.3h0.65v0.65h-0.65zM74.8 311.7h0.65v0.65h-0.65zM81.8 296.7h0.65v0.65h-0.65zM78.1 301.8h0.65v0.65h-0.65zM79.9 306.7h0.65v0.65h-0.65zM91.4 339.1h0.65v0.65h-0.65zM76.5 332.6h0.65v0.65h-0.65zM74.5 338.5h0.65v0.65h-0.65zM85.4 316.2h0.65v0.65h-0.65zM48.1 282.0h0.65v0.65h-0.65zM79.7 306.9h0.65v0.65h-0.65zM73.9 303.3h0.65v0.65h-0.65zM57.7 284.1h0.65v0.65h-0.65zM70.3 319.5h0.65v0.65h-0.65zM86.8 286.5h0.65v0.65h-0.65zM41.4 304.3h0.65v0.65h-0.65zM82.8 316.7h0.65v0.65h-0.65zM64.9 291.8h0.65v0.65h-0.65zM77.3 336.8h0.65v0.65h-0.65zM58.8 317.6h0.65v0.65h-0.65zM93.9 327.0h0.65v0.65h-0.65zM57.4 316.5h0.65v0.65h-0.65zM79.6 289.2h0.65v0.65h-0.65zM95.2 289.8h0.65v0.65h-0.65zM76.0 321.1h0.65v0.65h-0.65zM45.6 280.9h0.65v0.65h-0.65zM77.2 312.3h0.65v0.65h-0.65zM73.8 334.1h0.65v0.65h-0.65zM72.6 329.4h0.65v0.65h-0.65zM79.9 301.7h0.65v0.65h-0.65zM87.2 324.5h0.65v0.65h-0.65zM85.6 278.9h0.65v0.65h-0.65zM68.6 328.0h0.65v0.65h-0.65zM87.1 315.4h0.65v0.65h-0.65zM83.3 297.7h0.65v0.65h-0.65zM60.4 336.6h0.65v0.65h-0.65zM76.4 315.5h0.65v0.65h-0.65zM80.4 278.4h0.65v0.65h-0.65zM80.8 332.4h0.65v0.65h-0.65zM85.5 293.5h0.65v0.65h-0.65zM89.1 337.5h0.65v0.65h-0.65zM95.5 323.5h0.65v0.65h-0.65zM77.8 299.8h0.65v0.65h-0.65zM61.6 284.0h0.65v0.65h-0.65zM72.0 329.5h0.65v0.65h-0.65zM78.8 286.8h0.65v0.65h-0.65zM60.0 289.0h0.65v0.65h-0.65zM51.6 336.1h0.65v0.65h-0.65zM80.3 288.6h0.65v0.65h-0.65zM83.4 333.9h0.65v0.65h-0.65zM69.3 339.7h0.65v0.65h-0.65zM74.8 333.0h0.65v0.65h-0.65zM84.5 316.9h0.65v0.65h-0.65zM79.7 302.7h0.65v0.65h-0.65zM82.0 293.9h0.65v0.65h-0.65zM88.5 313.5h0.65v0.65h-0.65zM77.3 314.3h0.65v0.65h-0.65zM54.9 284.1h0.65v0.65h-0.65zM81.4 301.8h0.65v0.65h-0.65zM64.6 329.4h0.65v0.65h-0.65zM78.2 312.3h0.65v0.65h-0.65zM78.6 295.8h0.65v0.65h-0.65zM45.8 279.5h0.65v0.65h-0.65zM83.9 320.4h0.65v0.65h-0.65zM74.7 332.9h0.65v0.65h-0.65zM83.8 295.3h0.65v0.65h-0.65zM56.7 312.6h0.65v0.65h-0.65zM85.3 313.6h0.65v0.65h-0.65zM85.4 324.3h0.65v0.65h-0.65zM53.2 312.5h0.65v0.65h-0.65zM83.4 326.6h0.65v0.65h-0.65zM75.9 305.4h0.65v0.65h-0.65zM45.7 286.3h0.65v0.65h-0.65zM69.5 284.7h0.65v0.65h-0.65zM70.7 321.5h0.65v0.65h-0.65zM78.6 326.2h0.65v0.65h-0.65zM54.4 282.1h0.65v0.65h-0.65zM87.8 294.7h0.65v0.65h-0.65zM87.1 304.3h0.65v0.65h-0.65zM92.8 280.3h0.65v0.65h-0.65zM85.7 314.9h0.65v0.65h-0.65zM37.7 284.0h0.65v0.65h-0.65zM45.5 338.3h0.65v0.65h-0.65zM78.2 283.4h0.65v0.65h-0.65zM84.8 334.0h0.65v0.65h-0.65zM83.0 283.8h0.65v0.65h-0.65zM84.2 297.4h0.65v0.65h-0.65zM74.7 340.1h0.65v0.65h-0.65zM71.2 308.3h0.65v0.65h-0.65zM67.4 320.5h0.65v0.65h-0.65zM72.4 338.5h0.65v0.65h-0.65zM36.9 311.5h0.65v0.65h-0.65zM87.3 307.5h0.65v0.65h-0.65zM85.6 316.3h0.65v0.65h-0.65zM82.7 301.0h0.65v0.65h-0.65zM92.2 315.7h0.65v0.65h-0.65zM81.2 283.3h0.65v0.65h-0.65zM56.8 284.3h0.65v0.65h-0.65zM82.3 303.2h0.65v0.65h-0.65zM39.3 307.3h0.65v0.65h-0.65zM76.5 335.7h0.65v0.65h-0.65zM83.7 304.0h0.65v0.65h-0.65zM96.0 340.1h0.65v0.65h-0.65zM80.2 303.8h0.65v0.65h-0.65zM86.6 283.6h0.65v0.65h-0.65zM71.3 331.3h0.65v0.65h-0.65zM64.6 300.8h0.65v0.65h-0.65zM76.9 308.8h0.65v0.65h-0.65zM92.2 323.6h0.65v0.65h-0.65zM88.1 288.0h0.65v0.65h-0.65zM87.0 295.8h0.65v0.65h-0.65zM62.5 291.5h0.65v0.65h-0.65zM69.7 339.7h0.65v0.65h-0.65zM87.4 293.8h0.65v0.65h-0.65zM76.7 322.0h0.65v0.65h-0.65zM80.6 305.1h0.65v0.65h-0.65zM88.3 330.0h0.65v0.65h-0.65zM51.6 305.4h0.65v0.65h-0.65zM89.7 335.4h0.65v0.65h-0.65zM87.7 290.5h0.65v0.65h-0.65zM68.1 278.1h0.65v0.65h-0.65zM82.6 320.4h0.65v0.65h-0.65zM88.2 319.6h0.65v0.65h-0.65zM96.4 319.7h0.65v0.65h-0.65zM85.2 310.4h0.65v0.65h-0.65zM85.3 293.5h0.65v0.65h-0.65zM76.4 337.5h0.65v0.65h-0.65zM64.8 339.4h0.65v0.65h-0.65zM75.0 326.1h0.65v0.65h-0.65zM79.7 324.0h0.65v0.65h-0.65zM60.9 287.0h0.65v0.65h-0.65zM87.0 338.1h0.65v0.65h-0.65zM82.5 305.5h0.65v0.65h-0.65zM78.9 297.2h0.65v0.65h-0.65zM55.1 285.4h0.65v0.65h-0.65zM57.6 339.4h0.65v0.65h-0.65zM93.8 290.8h0.65v0.65h-0.65zM70.7 315.6h0.65v0.65h-0.65zM61.8 317.1h0.65v0.65h-0.65zM80.8 324.4h0.65v0.65h-0.65zM95.5 330.6h0.65v0.65h-0.65zM93.2 283.9h0.65v0.65h-0.65zM72.4 288.4h0.65v0.65h-0.65zM56.9 340.1h0.65v0.65h-0.65zM76.4 316.8h0.65v0.65h-0.65zM80.5 312.4h0.65v0.65h-0.65zM69.9 302.8h0.65v0.65h-0.65zM75.2 277.7h0.65v0.65h-0.65zM83.9 320.4h0.65v0.65h-0.65zM83.1 333.5h0.65v0.65h-0.65zM88.4 301.1h0.65v0.65h-0.65zM57.5 287.7h0.65v0.65h-0.65zM87.1 294.2h0.65v0.65h-0.65zM86.5 318.4h0.65v0.65h-0.65zM91.9 287.4h0.65v0.65h-0.65zM53.4 291.9h0.65v0.65h-0.65zM44.8 304.0h0.65v0.65h-0.65zM81.8 329.1h0.65v0.65h-0.65zM95.3 329.6h0.65v0.65h-0.65zM60.2 332.2h0.65v0.65h-0.65zM61.3 313.2h0.65v0.65h-0.65zM77.9 324.5h0.65v0.65h-0.65zM88.7 293.7h0.65v0.65h-0.65zM51.9 308.3h0.65v0.65h-0.65zM83.3 292.6h0.65v0.65h-0.65zM83.5 340.3h0.65v0.65h-0.65zM67.7 333.2h0.65v0.65h-0.65zM52.6 335.8h0.65v0.65h-0.65zM67.6 312.3h0.65v0.65h-0.65zM50.1 332.1h0.65v0.65h-0.65zM90.9 279.7h0.65v0.65h-0.65zM91.5 292.9h0.65v0.65h-0.65zM80.4 296.3h0.65v0.65h-0.65zM81.9 307.3h0.65v0.65h-0.65zM85.5 326.2h0.65v0.65h-0.65zM83.2 290.0h0.65v0.65h-0.65zM86.8 331.7h0.65v0.65h-0.65zM47.6 319.1h0.65v0.65h-0.65zM47.3 295.6h0.65v0.65h-0.65zM93.1 277.6h0.65v0.65h-0.65zM37.1 336.0h0.65v0.65h-0.65zM57.8 291.4h0.65v0.65h-0.65zM51.7 330.3h0.65v0.65h-0.65zM83.8 292.3h0.65v0.65h-0.65zM82.8 299.7h0.65v0.65h-0.65zM63.2 293.5h0.65v0.65h-0.65zM78.5 301.8h0.65v0.65h-0.65zM70.1 282.3h0.65v0.65h-0.65zM82.5 294.9h0.65v0.65h-0.65zM73.6 336.2h0.65v0.65h-0.65zM86.8 316.8h0.65v0.65h-0.65zM69.1 328.3h0.65v0.65h-0.65zM60.1 308.7h0.65v0.65h-0.65zM91.8 293.4h0.65v0.65h-0.65zM59.2 291.9h0.65v0.65h-0.65zM81.7 311.4h0.65v0.65h-0.65zM37.8 287.5h0.65v0.65h-0.65zM85.8 295.4h0.65v0.65h-0.65zM85.1 322.7h0.65v0.65h-0.65zM91.1 323.9h0.65v0.65h-0.65zM77.4 337.4h0.65v0.65h-0.65zM93.6 304.1h0.65v0.65h-0.65zM44.9 305.3h0.65v0.65h-0.65zM48.5 326.9h0.65v0.65h-0.65zM85.5 312.2h0.65v0.65h-0.65zM79.2 322.9h0.65v0.65h-0.65zM42.8 322.3h0.65v0.65h-0.65zM80.7 298.3h0.65v0.65h-0.65zM90.9 289.4h0.65v0.65h-0.65zM45.4 337.1h0.65v0.65h-0.65zM87.5 295.9h0.65v0.65h-0.65zM88.2 294.9h0.65v0.65h-0.65zM46.7 308.2h0.65v0.65h-0.65zM66.4 325.8h0.65v0.65h-0.65zM84.4 318.3h0.65v0.65h-0.65zM80.2 335.8h0.65v0.65h-0.65zM93.1 282.4h0.65v0.65h-0.65zM55.4 301.1h0.65v0.65h-0.65zM79.6 327.2h0.65v0.65h-0.65zM89.0 322.4h0.65v0.65h-0.65zM77.0 331.4h0.65v0.65h-0.65zM76.2 337.8h0.65v0.65h-0.65zM72.4 293.4h0.65v0.65h-0.65zM88.6 282.9h0.65v0.65h-0.65zM93.5 321.4h0.65v0.65h-0.65zM84.1 295.0h0.65v0.65h-0.65zM57.0 294.6h0.65v0.65h-0.65zM87.3 298.8h0.65v0.65h-0.65zM86.3 296.9h0.65v0.65h-0.65zM81.9 328.6h0.65v0.65h-0.65zM48.3 324.6h0.65v0.65h-0.65zM70.8 324.3h0.65v0.65h-0.65zM62.2 326.6h0.65v0.65h-0.65zM77.8 320.3h0.65v0.65h-0.65zM57.5 321.7h0.65v0.65h-0.65zM77.8 336.1h0.65v0.65h-0.65zM74.8 338.6h0.65v0.65h-0.65zM56.6 298.0h0.65v0.65h-0.65zM55.8 292.5h0.65v0.65h-0.65zM79.5 336.9h0.65v0.65h-0.65zM78.0 281.1h0.65v0.65h-0.65zM82.0 319.5h0.65v0.65h-0.65zM48.3 338.9h0.65v0.65h-0.65zM84.2 286.0h0.65v0.65h-0.65zM80.7 325.9h0.65v0.65h-0.65zM91.0 338.9h0.65v0.65h-0.65zM48.1 312.2h0.65v0.65h-0.65zM87.7 280.1h0.65v0.65h-0.65zM81.7 294.5h0.65v0.65h-0.65zM71.7 317.5h0.65v0.65h-0.65zM68.8 328.5h0.65v0.65h-0.65zM79.7 292.8h0.65v0.65h-0.65zM64.3 312.4h0.65v0.65h-0.65zM71.6 325.4h0.65v0.65h-0.65zM77.0 324.3h0.65v0.65h-0.65zM63.7 334.1h0.65v0.65h-0.65zM68.5 337.4h0.65v0.65h-0.65zM88.2 282.9h0.65v0.65h-0.65zM79.2 338.4h0.65v0.65h-0.65zM64.0 290.8h0.65v0.65h-0.65zM72.4 297.8h0.65v0.65h-0.65zM77.1 312.6h0.65v0.65h-0.65zM52.5 300.7h0.65v0.65h-0.65zM71.2 334.3h0.65v0.65h-0.65zM82.8 314.0h0.65v0.65h-0.65zM87.6 312.5h0.65v0.65h-0.65zM89.7 288.3h0.65v0.65h-0.65zM37.8 303.4h0.65v0.65h-0.65zM76.4 337.9h0.65v0.65h-0.65zM89.5 286.8h0.65v0.65h-0.65zM87.4 338.1h0.65v0.65h-0.65zM74.2 331.9h0.65v0.65h-0.65zM58.7 292.6h0.65v0.65h-0.65zM86.8 284.7h0.65v0.65h-0.65zM84.0 315.1h0.65v0.65h-0.65zM71.1 331.9h0.65v0.65h-0.65zM84.5 315.0h0.65v0.65h-0.65zM83.7 330.8h0.65v0.65h-0.65zM70.9 335.4h0.65v0.65h-0.65zM83.6 313.0h0.65v0.65h-0.65zM58.0 309.0h0.65v0.65h-0.65zM81.8 315.5h0.65v0.65h-0.65zM95.3 309.3h0.65v0.65h-0.65zM90.0 297.8h0.65v0.65h-0.65zM86.5 324.8h0.65v0.65h-0.65zM57.1 326.9h0.65v0.65h-0.65zM80.6 324.4h0.65v0.65h-0.65zM82.8 308.8h0.65v0.65h-0.65zM81.5 319.4h0.65v0.65h-0.65zM84.0 308.7h0.65v0.65h-0.65zM85.5 280.7h0.65v0.65h-0.65zM86.7 284.9h0.65v0.65h-0.65zM68.8 291.2h0.65v0.65h-0.65zM37.0 280.2h0.65v0.65h-0.65zM56.8 284.9h0.65v0.65h-0.65zM80.2 312.7h0.65v0.65h-0.65zM67.3 281.3h0.65v0.65h-0.65zM81.4 333.6h0.65v0.65h-0.65zM84.4 335.6h0.65v0.65h-0.65zM67.7 295.2h0.65v0.65h-0.65zM82.5 287.2h0.65v0.65h-0.65zM92.2 296.1h0.65v0.65h-0.65zM53.7 279.7h0.65v0.65h-0.65zM46.4 325.9h0.65v0.65h-0.65zM83.2 289.4h0.65v0.65h-0.65zM80.2 309.7h0.65v0.65h-0.65zM78.0 330.2h0.65v0.65h-0.65zM76.2 285.9h0.65v0.65h-0.65zM84.2 286.7h0.65v0.65h-0.65zM94.2 298.3h0.65v0.65h-0.65zM72.1 331.1h0.65v0.65h-0.65zM68.3 313.4h0.65v0.65h-0.65zM91.2 300.0h0.65v0.65h-0.65zM91.4 278.2h0.65v0.65h-0.65zM77.8 334.0h0.65v0.65h-0.65zM46.5 298.5h0.65v0.65h-0.65zM89.8 279.6h0.65v0.65h-0.65zM70.5 320.9h0.65v0.65h-0.65zM62.9 278.1h0.65v0.65h-0.65zM36.4 305.2h0.65v0.65h-0.65zM47.0 288.0h0.65v0.65h-0.65zM69.9 315.1h0.65v0.65h-0.65zM79.7 326.6h0.65v0.65h-0.65zM51.7 298.7h0.65v0.65h-0.65zM82.0 310.4h0.65v0.65h-0.65zM76.5 333.2h0.65v0.65h-0.65zM79.4 306.2h0.65v0.65h-0.65zM60.0 325.9h0.65v0.65h-0.65zM83.8 309.8h0.65v0.65h-0.65zM53.1 330.3h0.65v0.65h-0.65zM80.2 340.2h0.65v0.65h-0.65zM80.8 327.9h0.65v0.65h-0.65zM86.1 322.0h0.65v0.65h-0.65zM76.6 334.8h0.65v0.65h-0.65zM80.9 284.0h0.65v0.65h-0.65zM78.5 326.7h0.65v0.65h-0.65zM83.2 300.6h0.65v0.65h-0.65zM88.7 281.9h0.65v0.65h-0.65zM42.3 290.3h0.65v0.65h-0.65zM47.6 278.3h0.65v0.65h-0.65zM57.4 305.5h0.65v0.65h-0.65zM88.3 299.7h0.65v0.65h-0.65zM48.5 290.8h0.65v0.65h-0.65zM67.0 330.7h0.65v0.65h-0.65zM83.0 332.5h0.65v0.65h-0.65zM89.9 308.8h0.65v0.65h-0.65zM77.3 312.0h0.65v0.65h-0.65zM55.4 337.2h0.65v0.65h-0.65zM58.8 335.1h0.65v0.65h-0.65zM80.2 337.5h0.65v0.65h-0.65zM48.4 310.3h0.65v0.65h-0.65zM76.6 305.8h0.65v0.65h-0.65zM80.2 294.8h0.65v0.65h-0.65zM48.7 328.7h0.65v0.65h-0.65zM83.4 290.8h0.65v0.65h-0.65zM74.9 314.0h0.65v0.65h-0.65zM50.6 277.9h0.65v0.65h-0.65zM90.1 292.0h0.65v0.65h-0.65zM92.9 282.2h0.65v0.65h-0.65zM71.0 338.6h0.65v0.65h-0.65zM56.4 291.5h0.65v0.65h-0.65zM82.7 321.6h0.65v0.65h-0.65zM64.5 330.2h0.65v0.65h-0.65zM79.1 324.1h0.65v0.65h-0.65zM83.8 331.8h0.65v0.65h-0.65zM46.6 324.8h0.65v0.65h-0.65zM89.9 308.7h0.65v0.65h-0.65zM87.7 319.2h0.65v0.65h-0.65zM88.3 329.2h0.65v0.65h-0.65zM80.2 277.7h0.65v0.65h-0.65zM67.7 325.8h0.65v0.65h-0.65zM63.5 333.2h0.65v0.65h-0.65zM43.9 324.3h0.65v0.65h-0.65zM46.4 294.6h0.65v0.65h-0.65zM79.8 294.5h0.65v0.65h-0.65zM84.0 307.6h0.65v0.65h-0.65zM52.3 288.0h0.65v0.65h-0.65zM91.8 286.9h0.65v0.65h-0.65zM86.3 302.1h0.65v0.65h-0.65zM72.8 328.1h0.65v0.65h-0.65zM49.9 323.3h0.65v0.65h-0.65zM81.3 304.6h0.65v0.65h-0.65zM73.3 294.5h0.65v0.65h-0.65zM89.0 303.5h0.65v0.65h-0.65zM46.8 334.8h0.65v0.65h-0.65zM63.4 290.6h0.65v0.65h-0.65zM77.5 328.1h0.65v0.65h-0.65zM91.8 303.5h0.65v0.65h-0.65zM92.8 322.2h0.65v0.65h-0.65zM50.9 329.2h0.65v0.65h-0.65zM72.2 336.4h0.65v0.65h-0.65zM45.5 308.4h0.65v0.65h-0.65zM79.0 318.3h0.65v0.65h-0.65zM82.0 325.4h0.65v0.65h-0.65zM94.9 299.8h0.65v0.65h-0.65zM87.7 302.4h0.65v0.65h-0.65zM75.7 324.6h0.65v0.65h-0.65zM80.8 312.3h0.65v0.65h-0.65zM82.7 302.8h0.65v0.65h-0.65zM83.1 291.9h0.65v0.65h-0.65zM80.4 302.9h0.65v0.65h-0.65zM53.7 335.2h0.65v0.65h-0.65zM62.9 330.1h0.65v0.65h-0.65zM90.5 333.6h0.65v0.65h-0.65zM42.6 314.4h0.65v0.65h-0.65zM55.1 289.7h0.65v0.65h-0.65zM74.7 307.2h0.65v0.65h-0.65zM83.0 330.4h0.65v0.65h-0.65zM45.9 289.8h0.65v0.65h-0.65zM86.5 292.7h0.65v0.65h-0.65zM55.0 296.8h0.65v0.65h-0.65zM60.1 282.0h0.65v0.65h-0.65zM86.3 291.0h0.65v0.65h-0.65zM58.1 285.2h0.65v0.65h-0.65zM75.1 333.5h0.65v0.65h-0.65zM39.1 310.8h0.65v0.65h-0.65zM80.9 312.2h0.65v0.65h-0.65zM84.8 307.9h0.65v0.65h-0.65zM56.0 338.3h0.65v0.65h-0.65zM44.8 315.2h0.65v0.65h-0.65zM96.7 299.1h0.65v0.65h-0.65zM81.7 337.7h0.65v0.65h-0.65zM82.9 304.5h0.65v0.65h-0.65zM75.5 316.7h0.65v0.65h-0.65zM83.2 323.4h0.65v0.65h-0.65zM88.3 301.8h0.65v0.65h-0.65zM55.9 333.2h0.65v0.65h-0.65zM59.6 320.8h0.65v0.65h-0.65zM63.6 327.5h0.65v0.65h-0.65zM77.7 336.1h0.65v0.65h-0.65zM74.0 333.4h0.65v0.65h-0.65zM79.9 330.7h0.65v0.65h-0.65zM80.7 320.2h0.65v0.65h-0.65zM87.7 304.3h0.65v0.65h-0.65zM93.5 333.9h0.65v0.65h-0.65zM95.2 293.2h0.65v0.65h-0.65zM80.5 298.1h0.65v0.65h-0.65zM83.2 284.5h0.65v0.65h-0.65zM74.1 317.1h0.65v0.65h-0.65zM88.2 313.1h0.65v0.65h-0.65zM76.7 332.1h0.65v0.65h-0.65zM88.7 295.8h0.65v0.65h-0.65zM94.6 338.2h0.65v0.65h-0.65zM46.8 289.7h0.65v0.65h-0.65zM40.5 319.2h0.65v0.65h-0.65zM83.6 320.3h0.65v0.65h-0.65zM85.7 292.0h0.65v0.65h-0.65zM84.0 281.6h0.65v0.65h-0.65zM91.0 300.7h0.65v0.65h-0.65zM85.0 316.1h0.65v0.65h-0.65zM71.6 330.5h0.65v0.65h-0.65zM84.3 292.4h0.65v0.65h-0.65zM79.7 325.9h0.65v0.65h-0.65zM46.3 327.5h0.65v0.65h-0.65zM87.4 304.2h0.65v0.65h-0.65zM83.8 294.3h0.65v0.65h-0.65zM83.1 325.4h0.65v0.65h-0.65zM55.2 302.4h0.65v0.65h-0.65zM88.8 285.2h0.65v0.65h-0.65zM77.4 318.4h0.65v0.65h-0.65zM56.0 283.0h0.65v0.65h-0.65zM85.9 325.0h0.65v0.65h-0.65zM80.6 282.0h0.65v0.65h-0.65zM79.6 325.7h0.65v0.65h-0.65zM80.9 321.5h0.65v0.65h-0.65zM42.6 313.6h0.65v0.65h-0.65zM81.0 316.6h0.65v0.65h-0.65zM78.9 327.5h0.65v0.65h-0.65zM68.3 340.3h0.65v0.65h-0.65zM71.4 327.7h0.65v0.65h-0.65zM72.7 337.4h0.65v0.65h-0.65zM86.5 313.4h0.65v0.65h-0.65zM83.4 286.5h0.65v0.65h-0.65zM94.6 293.3h0.65v0.65h-0.65zM43.8 332.8h0.65v0.65h-0.65zM79.5 314.7h0.65v0.65h-0.65zM45.6 315.3h0.65v0.65h-0.65zM48.1 317.5h0.65v0.65h-0.65zM62.3 320.8h0.65v0.65h-0.65zM49.1 293.4h0.65v0.65h-0.65zM82.1 302.0h0.65v0.65h-0.65zM93.5 284.2h0.65v0.65h-0.65zM80.2 323.3h0.65v0.65h-0.65zM87.8 304.8h0.65v0.65h-0.65zM80.5 311.6h0.65v0.65h-0.65zM72.0 323.6h0.65v0.65h-0.65zM60.8 334.2h0.65v0.65h-0.65zM77.5 284.3h0.65v0.65h-0.65zM76.6 297.5h0.65v0.65h-0.65zM82.0 296.5h0.65v0.65h-0.65zM72.5 294.5h0.65v0.65h-0.65zM83.8 324.8h0.65v0.65h-0.65zM85.7 280.6h0.65v0.65h-0.65zM75.7 330.0h0.65v0.65h-0.65zM50.4 331.6h0.65v0.65h-0.65zM82.4 280.9h0.65v0.65h-0.65zM86.8 286.9h0.65v0.65h-0.65zM80.7 309.4h0.65v0.65h-0.65zM77.6 331.9h0.65v0.65h-0.65zM72.8 323.9h0.65v0.65h-0.65zM62.9 277.7h0.65v0.65h-0.65zM78.8 330.3h0.65v0.65h-0.65zM84.2 293.9h0.65v0.65h-0.65zM59.8 313.2h0.65v0.65h-0.65zM78.7 334.8h0.65v0.65h-0.65zM88.3 290.1h0.65v0.65h-0.65zM76.2 329.4h0.65v0.65h-0.65zM89.8 286.8h0.65v0.65h-0.65zM50.0 296.3h0.65v0.65h-0.65zM90.3 279.7h0.65v0.65h-0.65zM82.5 296.2h0.65v0.65h-0.65zM86.0 331.1h0.65v0.65h-0.65zM80.3 297.6h0.65v0.65h-0.65zM57.0 289.3h0.65v0.65h-0.65zM77.5 296.3h0.65v0.65h-0.65zM83.7 295.9h0.65v0.65h-0.65zM76.6 314.2h0.65v0.65h-0.65zM73.1 326.7h0.65v0.65h-0.65zM83.3 298.6h0.65v0.65h-0.65zM46.1 309.7h0.65v0.65h-0.65zM56.5 316.4h0.65v0.65h-0.65zM85.7 297.5h0.65v0.65h-0.65zM82.5 311.9h0.65v0.65h-0.65zM82.4 329.6h0.65v0.65h-0.65zM82.0 281.8h0.65v0.65h-0.65zM75.3 278.5h0.65v0.65h-0.65zM58.0 299.2h0.65v0.65h-0.65zM83.5 340.4h0.65v0.65h-0.65zM76.9 328.8h0.65v0.65h-0.65zM82.6 298.7h0.65v0.65h-0.65zM42.4 313.0h0.65v0.65h-0.65zM48.7 323.0h0.65v0.65h-0.65zM78.2 324.7h0.65v0.65h-0.65zM74.1 333.6h0.65v0.65h-0.65zM46.1 297.0h0.65v0.65h-0.65zM65.8 327.0h0.65v0.65h-0.65zM48.8 329.3h0.65v0.65h-0.65zM79.9 300.8h0.65v0.65h-0.65zM82.0 294.4h0.65v0.65h-0.65zM35.8 301.6h0.65v0.65h-0.65zM86.5 337.6h0.65v0.65h-0.65zM82.4 316.6h0.65v0.65h-0.65zM90.4 288.9h0.65v0.65h-0.65zM86.3 311.8h0.65v0.65h-0.65zM74.7 305.1h0.65v0.65h-0.65zM75.0 295.9h0.65v0.65h-0.65zM87.3 304.7h0.65v0.65h-0.65zM72.8 278.8h0.65v0.65h-0.65zM36.5 336.0h0.65v0.65h-0.65zM85.3 279.8h0.65v0.65h-0.65zM70.4 298.0h0.65v0.65h-0.65zM86.7 287.7h0.65v0.65h-0.65zM78.5 320.3h0.65v0.65h-0.65zM88.4 282.1h0.65v0.65h-0.65zM94.3 290.4h0.65v0.65h-0.65zM82.9 293.6h0.65v0.65h-0.65zM66.5 327.3h0.65v0.65h-0.65zM73.5 324.8h0.65v0.65h-0.65zM84.0 316.9h0.65v0.65h-0.65zM86.6 300.5h0.65v0.65h-0.65zM40.0 336.8h0.65v0.65h-0.65zM89.9 310.0h0.65v0.65h-0.65zM73.0 338.8h0.65v0.65h-0.65zM82.2 315.5h0.65v0.65h-0.65zM96.2 339.7h0.65v0.65h-0.65zM80.2 286.7h0.65v0.65h-0.65zM54.8 329.6h0.65v0.65h-0.65zM76.1 313.0h0.65v0.65h-0.65zM61.1 306.8h0.65v0.65h-0.65zM80.7 280.8h0.65v0.65h-0.65zM97.1 338.9h0.65v0.65h-0.65zM48.6 293.9h0.65v0.65h-0.65zM53.8 326.9h0.65v0.65h-0.65zM75.1 339.9h0.65v0.65h-0.65zM81.5 301.5h0.65v0.65h-0.65zM38.2 339.6h0.65v0.65h-0.65zM81.2 298.1h0.65v0.65h-0.65zM51.9 292.4h0.65v0.65h-0.65zM91.6 291.1h0.65v0.65h-0.65zM80.8 294.7h0.65v0.65h-0.65zM74.5 310.4h0.65v0.65h-0.65zM40.7 297.3h0.65v0.65h-0.65zM80.9 285.8h0.65v0.65h-0.65zM87.0 289.0h0.65v0.65h-0.65zM76.2 305.1h0.65v0.65h-0.65zM83.3 339.6h0.65v0.65h-0.65zM96.6 290.9h0.65v0.65h-0.65zM91.1 298.8h0.65v0.65h-0.65zM82.0 283.9h0.65v0.65h-0.65zM83.0 301.4h0.65v0.65h-0.65zM89.1 287.1h0.65v0.65h-0.65zM88.3 278.9h0.65v0.65h-0.65zM39.1 291.5h0.65v0.65h-0.65zM97.2 287.7h0.65v0.65h-0.65zM72.8 316.1h0.65v0.65h-0.65zM92.2 321.6h0.65v0.65h-0.65zM60.2 292.2h0.65v0.65h-0.65zM81.2 327.8h0.65v0.65h-0.65zM38.3 325.4h0.65v0.65h-0.65zM81.3 288.0h0.65v0.65h-0.65zM80.7 326.5h0.65v0.65h-0.65zM89.5 292.0h0.65v0.65h-0.65zM82.3 289.8h0.65v0.65h-0.65zM81.7 295.9h0.65v0.65h-0.65zM83.7 301.4h0.65v0.65h-0.65zM87.7 321.4h0.65v0.65h-0.65zM58.1 302.9h0.65v0.65h-0.65zM54.8 306.8h0.65v0.65h-0.65zM93.7 282.8h0.65v0.65h-0.65zM49.4 292.6h0.65v0.65h-0.65zM86.4 338.8h0.65v0.65h-0.65zM83.7 301.2h0.65v0.65h-0.65zM83.1 337.5h0.65v0.65h-0.65zM83.5 325.5h0.65v0.65h-0.65zM79.7 287.8h0.65v0.65h-0.65zM50.6 279.8h0.65v0.65h-0.65zM39.2 328.4h0.65v0.65h-0.65zM81.3 338.4h0.65v0.65h-0.65zM59.1 279.2h0.65v0.65h-0.65zM52.1 309.5h0.65v0.65h-0.65zM89.6 278.9h0.65v0.65h-0.65zM39.7 287.9h0.65v0.65h-0.65zM67.5 327.0h0.65v0.65h-0.65zM80.3 315.0h0.65v0.65h-0.65zM96.4 339.8h0.65v0.65h-0.65zM77.6 312.4h0.65v0.65h-0.65zM53.0 309.1h0.65v0.65h-0.65zM62.5 333.6h0.65v0.65h-0.65zM85.6 290.1h0.65v0.65h-0.65zM77.0 312.9h0.65v0.65h-0.65zM94.9 332.4h0.65v0.65h-0.65zM87.1 298.0h0.65v0.65h-0.65zM89.8 305.7h0.65v0.65h-0.65zM58.6 318.4h0.65v0.65h-0.65zM89.4 289.6h0.65v0.65h-0.65zM76.6 311.0h0.65v0.65h-0.65zM94.7 285.3h0.65v0.65h-0.65zM60.0 339.9h0.65v0.65h-0.65zM47.7 285.2h0.65v0.65h-0.65zM47.0 319.6h0.65v0.65h-0.65zM76.5 323.4h0.65v0.65h-0.65zM52.9 315.6h0.65v0.65h-0.65zM63.9 320.7h0.65v0.65h-0.65zM79.9 326.3h0.65v0.65h-0.65zM88.7 298.2h0.65v0.65h-0.65zM87.5 340.4h0.65v0.65h-0.65zM78.7 327.9h0.65v0.65h-0.65zM82.6 315.3h0.65v0.65h-0.65zM82.8 282.4h0.65v0.65h-0.65zM72.1 282.2h0.65v0.65h-0.65zM91.4 293.1h0.65v0.65h-0.65zM77.0 338.7h0.65v0.65h-0.65zM79.5 298.1h0.65v0.65h-0.65zM85.9 279.3h0.65v0.65h-0.65zM39.1 292.9h0.65v0.65h-0.65zM96.8 306.2h0.65v0.65h-0.65zM81.4 327.1h0.65v0.65h-0.65zM76.1 323.3h0.65v0.65h-0.65zM78.3 321.7h0.65v0.65h-0.65zM47.9 281.9h0.65v0.65h-0.65zM82.9 315.4h0.65v0.65h-0.65zM39.5 329.9h0.65v0.65h-0.65zM75.2 336.2h0.65v0.65h-0.65zM91.8 312.9h0.65v0.65h-0.65zM83.5 293.4h0.65v0.65h-0.65zM89.2 281.2h0.65v0.65h-0.65zM76.4 322.3h0.65v0.65h-0.65zM86.5 331.8h0.65v0.65h-0.65zM70.6 312.4h0.65v0.65h-0.65zM63.1 332.9h0.65v0.65h-0.65zM81.6 300.5h0.65v0.65h-0.65zM85.8 291.3h0.65v0.65h-0.65zM60.0 332.0h0.65v0.65h-0.65zM46.9 311.1h0.65v0.65h-0.65zM88.6 289.6h0.65v0.65h-0.65zM93.8 318.5h0.65v0.65h-0.65zM90.2 290.4h0.65v0.65h-0.65zM82.9 290.0h0.65v0.65h-0.65zM83.4 297.8h0.65v0.65h-0.65zM62.2 311.1h0.65v0.65h-0.65zM69.6 278.6h0.65v0.65h-0.65zM75.6 290.2h0.65v0.65h-0.65zM54.7 287.8h0.65v0.65h-0.65zM71.0 337.5h0.65v0.65h-0.65zM80.4 296.6h0.65v0.65h-0.65zM95.0 340.1h0.65v0.65h-0.65zM76.5 339.2h0.65v0.65h-0.65zM36.8 297.3h0.65v0.65h-0.65zM80.8 310.6h0.65v0.65h-0.65zM77.2 329.0h0.65v0.65h-0.65zM61.4 300.8h0.65v0.65h-0.65zM83.2 308.0h0.65v0.65h-0.65zM67.8 285.1h0.65v0.65h-0.65zM87.0 297.8h0.65v0.65h-0.65zM88.8 278.2h0.65v0.65h-0.65zM88.3 288.7h0.65v0.65h-0.65zM74.3 317.9h0.65v0.65h-0.65zM75.6 327.2h0.65v0.65h-0.65zM89.4 310.1h0.65v0.65h-0.65zM93.1 301.9h0.65v0.65h-0.65zM63.7 338.3h0.65v0.65h-0.65zM78.3 300.7h0.65v0.65h-0.65zM77.3 340.2h0.65v0.65h-0.65zM81.2 292.5h0.65v0.65h-0.65zM71.5 327.3h0.65v0.65h-0.65zM91.6 298.4h0.65v0.65h-0.65zM78.5 329.2h0.65v0.65h-0.65zM85.4 279.9h0.65v0.65h-0.65zM90.2 278.5h0.65v0.65h-0.65zM54.7 307.6h0.65v0.65h-0.65zM82.2 309.2h0.65v0.65h-0.65zM86.6 310.3h0.65v0.65h-0.65zM80.8 319.4h0.65v0.65h-0.65zM85.7 290.4h0.65v0.65h-0.65zM50.0 306.6h0.65v0.65h-0.65zM56.5 290.2h0.65v0.65h-0.65zM59.2 338.7h0.65v0.65h-0.65zM47.3 298.0h0.65v0.65h-0.65zM89.9 283.1h0.65v0.65h-0.65zM96.9 316.3h0.65v0.65h-0.65zM94.3 331.3h0.65v0.65h-0.65zM73.4 340.2h0.65v0.65h-0.65zM60.4 338.6h0.65v0.65h-0.65zM86.0 299.2h0.65v0.65h-0.65zM68.6 315.8h0.65v0.65h-0.65zM47.4 292.6h0.65v0.65h-0.65zM86.3 313.5h0.65v0.65h-0.65zM86.9 317.8h0.65v0.65h-0.65zM89.1 340.2h0.65v0.65h-0.65zM65.0 319.4h0.65v0.65h-0.65zM61.8 337.2h0.65v0.65h-0.65zM83.3 340.3h0.65v0.65h-0.65zM74.8 324.6h0.65v0.65h-0.65zM78.0 308.2h0.65v0.65h-0.65zM85.8 297.8h0.65v0.65h-0.65zM77.0 300.4h0.65v0.65h-0.65zM87.2 292.8h0.65v0.65h-0.65zM40.5 328.3h0.65v0.65h-0.65zM64.1 332.8h0.65v0.65h-0.65zM83.1 289.8h0.65v0.65h-0.65zM48.2 283.6h0.65v0.65h-0.65zM81.9 289.8h0.65v0.65h-0.65zM78.1 325.8h0.65v0.65h-0.65zM54.3 314.0h0.65v0.65h-0.65zM73.5 324.6h0.65v0.65h-0.65zM88.7 297.7h0.65v0.65h-0.65zM60.0 312.0h0.65v0.65h-0.65zM77.5 309.2h0.65v0.65h-0.65zM87.3 283.6h0.65v0.65h-0.65zM93.5 326.1h0.65v0.65h-0.65zM90.6 339.8h0.65v0.65h-0.65zM86.9 293.5h0.65v0.65h-0.65zM45.7 296.8h0.65v0.65h-0.65zM81.9 309.9h0.65v0.65h-0.65zM41.9 332.9h0.65v0.65h-0.65zM89.5 325.7h0.65v0.65h-0.65zM71.3 338.6h0.65v0.65h-0.65zM83.9 294.2h0.65v0.65h-0.65zM54.1 283.4h0.65v0.65h-0.65zM96.2 280.9h0.65v0.65h-0.65zM77.3 332.5h0.65v0.65h-0.65zM74.2 331.2h0.65v0.65h-0.65zM70.4 337.4h0.65v0.65h-0.65zM86.1 294.2h0.65v0.65h-0.65zM49.5 336.7h0.65v0.65h-0.65zM46.2 288.4h0.65v0.65h-0.65zM92.5 323.2h0.65v0.65h-0.65zM91.3 332.0h0.65v0.65h-0.65zM75.2 303.6h0.65v0.65h-0.65zM82.5 306.0h0.65v0.65h-0.65zM37.9 283.7h0.65v0.65h-0.65zM77.5 301.7h0.65v0.65h-0.65zM81.9 296.3h0.65v0.65h-0.65zM70.1 326.5h0.65v0.65h-0.65zM82.8 304.0h0.65v0.65h-0.65zM76.3 296.9h0.65v0.65h-0.65zM36.1 335.7h0.65v0.65h-0.65zM40.9 293.6h0.65v0.65h-0.65zM78.7 302.8h0.65v0.65h-0.65zM83.5 303.2h0.65v0.65h-0.65zM77.4 299.8h0.65v0.65h-0.65zM68.8 316.2h0.65v0.65h-0.65zM84.1 314.5h0.65v0.65h-0.65zM81.9 328.5h0.65v0.65h-0.65zM81.4 301.3h0.65v0.65h-0.65zM60.1 332.5h0.65v0.65h-0.65zM78.7 315.3h0.65v0.65h-0.65zM76.3 339.5h0.65v0.65h-0.65zM91.8 284.5h0.65v0.65h-0.65zM72.3 328.2h0.65v0.65h-0.65zM59.3 284.1h0.65v0.65h-0.65zM81.9 332.2h0.65v0.65h-0.65zM79.8 279.8h0.65v0.65h-0.65zM75.7 338.6h0.65v0.65h-0.65zM62.3 292.0h0.65v0.65h-0.65zM81.9 299.6h0.65v0.65h-0.65zM92.2 299.3h0.65v0.65h-0.65zM91.8 307.8h0.65v0.65h-0.65zM76.1 335.8h0.65v0.65h-0.65zM79.4 287.8h0.65v0.65h-0.65zM51.7 318.0h0.65v0.65h-0.65zM64.8 305.4h0.65v0.65h-0.65zM51.5 308.1h0.65v0.65h-0.65zM70.7 295.4h0.65v0.65h-0.65zM81.9 333.1h0.65v0.65h-0.65zM77.9 304.2h0.65v0.65h-0.65zM81.8 298.3h0.65v0.65h-0.65zM83.5 293.9h0.65v0.65h-0.65zM82.8 325.0h0.65v0.65h-0.65zM66.0 323.7h0.65v0.65h-0.65zM85.4 291.2h0.65v0.65h-0.65zM81.7 308.0h0.65v0.65h-0.65zM70.4 340.0h0.65v0.65h-0.65zM91.0 288.5h0.65v0.65h-0.65zM75.0 317.3h0.65v0.65h-0.65zM88.0 287.5h0.65v0.65h-0.65zM75.7 318.5h0.65v0.65h-0.65zM89.6 308.4h0.65v0.65h-0.65zM58.7 316.0h0.65v0.65h-0.65zM66.4 281.6h0.65v0.65h-0.65zM37.8 314.4h0.65v0.65h-0.65zM77.4 334.2h0.65v0.65h-0.65zM74.7 335.2h0.65v0.65h-0.65zM85.1 312.8h0.65v0.65h-0.65zM84.6 278.1h0.65v0.65h-0.65zM79.7 279.7h0.65v0.65h-0.65zM75.4 313.9h0.65v0.65h-0.65zM39.1 306.8h0.65v0.65h-0.65zM71.1 278.8h0.65v0.65h-0.65zM80.4 313.0h0.65v0.65h-0.65zM84.1 287.3h0.65v0.65h-0.65zM91.6 294.5h0.65v0.65h-0.65zM66.1 308.9h0.65v0.65h-0.65zM71.9 330.9h0.65v0.65h-0.65zM37.1 305.4h0.65v0.65h-0.65zM89.6 281.0h0.65v0.65h-0.65zM66.0 292.2h0.65v0.65h-0.65zM92.3 298.7h0.65v0.65h-0.65zM53.0 338.0h0.65v0.65h-0.65zM89.6 317.1h0.65v0.65h-0.65zM54.8 336.2h0.65v0.65h-0.65zM73.1 310.1h0.65v0.65h-0.65zM54.8 338.7h0.65v0.65h-0.65zM55.0 311.5h0.65v0.65h-0.65zM38.7 320.5h0.65v0.65h-0.65zM86.3 315.1h0.65v0.65h-0.65zM75.6 288.8h0.65v0.65h-0.65zM75.9 337.3h0.65v0.65h-0.65zM96.6 287.7h0.65v0.65h-0.65zM66.7 306.8h0.65v0.65h-0.65zM73.2 295.8h0.65v0.65h-0.65zM80.0 279.9h0.65v0.65h-0.65zM63.4 340.4h0.65v0.65h-0.65zM86.1 309.4h0.65v0.65h-0.65zM60.6 336.2h0.65v0.65h-0.65zM88.2 278.2h0.65v0.65h-0.65zM54.0 328.3h0.65v0.65h-0.65zM80.6 289.3h0.65v0.65h-0.65zM85.2 309.6h0.65v0.65h-0.65zM91.1 279.7h0.65v0.65h-0.65zM81.5 300.4h0.65v0.65h-0.65zM56.2 294.1h0.65v0.65h-0.65zM80.1 332.2h0.65v0.65h-0.65zM86.6 290.3h0.65v0.65h-0.65zM89.4 334.3h0.65v0.65h-0.65zM80.1 292.1h0.65v0.65h-0.65zM41.3 328.4h0.65v0.65h-0.65zM85.9 306.0h0.65v0.65h-0.65zM83.1 290.4h0.65v0.65h-0.65zM63.0 337.9h0.65v0.65h-0.65zM70.5 336.4h0.65v0.65h-0.65zM93.0 330.1h0.65v0.65h-0.65zM76.3 291.7h0.65v0.65h-0.65zM75.9 290.0h0.65v0.65h-0.65zM83.7 299.7h0.65v0.65h-0.65zM60.5 299.5h0.65v0.65h-0.65zM78.1 335.2h0.65v0.65h-0.65zM86.2 308.3h0.65v0.65h-0.65zM57.3 337.6h0.65v0.65h-0.65zM84.7 278.7h0.65v0.65h-0.65zM89.4 288.7h0.65v0.65h-0.65zM79.9 281.7h0.65v0.65h-0.65zM76.2 285.8h0.65v0.65h-0.65zM69.6 307.5h0.65v0.65h-0.65zM66.8 338.3h0.65v0.65h-0.65zM80.6 302.9h0.65v0.65h-0.65zM85.3 300.9h0.65v0.65h-0.65zM43.2 301.9h0.65v0.65h-0.65zM84.5 304.0h0.65v0.65h-0.65zM65.9 326.4h0.65v0.65h-0.65zM67.7 283.5h0.65v0.65h-0.65zM94.3 284.8h0.65v0.65h-0.65zM48.7 340.3h0.65v0.65h-0.65zM72.1 322.0h0.65v0.65h-0.65zM76.7 301.6h0.65v0.65h-0.65zM40.5 322.8h0.65v0.65h-0.65zM57.7 312.1h0.65v0.65h-0.65zM38.6 296.9h0.65v0.65h-0.65zM68.4 283.4h0.65v0.65h-0.65zM76.4 328.7h0.65v0.65h-0.65zM84.5 308.0h0.65v0.65h-0.65zM56.9 300.4h0.65v0.65h-0.65zM88.8 303.4h0.65v0.65h-0.65zM65.6 318.8h0.65v0.65h-0.65zM70.4 306.1h0.65v0.65h-0.65zM83.3 315.0h0.65v0.65h-0.65zM80.2 319.5h0.65v0.65h-0.65zM97.5 291.4h0.65v0.65h-0.65zM92.2 294.9h0.65v0.65h-0.65zM57.7 285.4h0.65v0.65h-0.65zM90.7 310.1h0.65v0.65h-0.65zM59.4 339.7h0.65v0.65h-0.65zM62.4 297.2h0.65v0.65h-0.65zM64.4 312.5h0.65v0.65h-0.65zM62.7 293.7h0.65v0.65h-0.65zM80.0 307.2h0.65v0.65h-0.65zM65.8 319.0h0.65v0.65h-0.65zM45.1 310.1h0.65v0.65h-0.65zM88.3 310.2h0.65v0.65h-0.65zM73.9 336.3h0.65v0.65h-0.65zM86.5 284.0h0.65v0.65h-0.65zM81.0 306.5h0.65v0.65h-0.65zM80.6 328.6h0.65v0.65h-0.65zM89.7 281.8h0.65v0.65h-0.65zM74.6 324.9h0.65v0.65h-0.65zM79.5 285.4h0.65v0.65h-0.65zM78.4 328.2h0.65v0.65h-0.65zM71.7 323.2h0.65v0.65h-0.65zM43.5 337.7h0.65v0.65h-0.65zM89.7 325.9h0.65v0.65h-0.65zM40.4 320.2h0.65v0.65h-0.65zM63.6 306.6h0.65v0.65h-0.65zM81.8 289.7h0.65v0.65h-0.65zM92.4 284.3h0.65v0.65h-0.65zM94.0 291.9h0.65v0.65h-0.65zM72.4 335.8h0.65v0.65h-0.65zM87.8 296.7h0.65v0.65h-0.65zM36.4 279.4h0.65v0.65h-0.65zM52.3 338.5h0.65v0.65h-0.65zM87.3 288.7h0.65v0.65h-0.65zM94.8 297.7h0.65v0.65h-0.65zM84.9 324.5h0.65v0.65h-0.65zM78.8 292.2h0.65v0.65h-0.65zM76.0 334.8h0.65v0.65h-0.65zM86.9 307.4h0.65v0.65h-0.65zM82.7 316.2h0.65v0.65h-0.65zM78.4 293.2h0.65v0.65h-0.65zM65.8 294.7h0.65v0.65h-0.65zM81.2 317.8h0.65v0.65h-0.65zM71.0 301.9h0.65v0.65h-0.65zM87.2 302.1h0.65v0.65h-0.65zM70.9 297.3h0.65v0.65h-0.65zM47.4 333.4h0.65v0.65h-0.65zM92.5 337.4h0.65v0.65h-0.65zM85.5 310.1h0.65v0.65h-0.65zM67.4 311.7h0.65v0.65h-0.65zM87.7 282.4h0.65v0.65h-0.65zM93.1 282.1h0.65v0.65h-0.65zM76.0 330.5h0.65v0.65h-0.65zM36.0 316.6h0.65v0.65h-0.65zM48.0 340.0h0.65v0.65h-0.65zM50.8 328.8h0.65v0.65h-0.65zM70.4 325.7h0.65v0.65h-0.65zM64.9 328.1h0.65v0.65h-0.65zM58.9 328.7h0.65v0.65h-0.65zM77.0 335.3h0.65v0.65h-0.65zM78.9 304.0h0.65v0.65h-0.65zM62.9 330.2h0.65v0.65h-0.65zM49.2 305.4h0.65v0.65h-0.65zM75.0 331.0h0.65v0.65h-0.65zM84.8 303.9h0.65v0.65h-0.65zM74.4 321.9h0.65v0.65h-0.65zM65.6 310.5h0.65v0.65h-0.65zM77.8 287.4h0.65v0.65h-0.65zM73.7 339.7h0.65v0.65h-0.65zM84.1 282.0h0.65v0.65h-0.65zM84.0 289.7h0.65v0.65h-0.65zM76.5 310.5h0.65v0.65h-0.65zM96.1 334.5h0.65v0.65h-0.65zM82.3 340.3h0.65v0.65h-0.65zM78.5 329.2h0.65v0.65h-0.65zM92.4 298.8h0.65v0.65h-0.65zM45.8 333.3h0.65v0.65h-0.65zM79.9 311.7h0.65v0.65h-0.65zM87.8 315.9h0.65v0.65h-0.65zM66.5 324.9h0.65v0.65h-0.65zM61.4 289.6h0.65v0.65h-0.65zM88.3 297.1h0.65v0.65h-0.65zM70.9 311.7h0.65v0.65h-0.65zM64.4 335.1h0.65v0.65h-0.65zM77.5 300.0h0.65v0.65h-0.65zM80.3 312.3h0.65v0.65h-0.65zM59.0 280.2h0.65v0.65h-0.65zM86.0 306.0h0.65v0.65h-0.65zM79.7 320.1h0.65v0.65h-0.65zM48.9 296.0h0.65v0.65h-0.65zM84.5 320.6h0.65v0.65h-0.65zM81.9 311.6h0.65v0.65h-0.65zM92.4 330.6h0.65v0.65h-0.65zM77.2 288.2h0.65v0.65h-0.65zM84.2 305.9h0.65v0.65h-0.65zM95.3 328.0h0.65v0.65h-0.65zM84.3 325.3h0.65v0.65h-0.65zM85.6 302.3h0.65v0.65h-0.65zM85.4 294.1h0.65v0.65h-0.65zM79.5 314.2h0.65v0.65h-0.65zM92.2 332.2h0.65v0.65h-0.65zM83.8 286.6h0.65v0.65h-0.65zM85.2 281.6h0.65v0.65h-0.65zM80.2 313.1h0.65v0.65h-0.65zM83.8 324.3h0.65v0.65h-0.65zM47.9 338.5h0.65v0.65h-0.65zM42.5 340.1h0.65v0.65h-0.65zM46.7 282.9h0.65v0.65h-0.65zM68.9 321.5h0.65v0.65h-0.65zM48.0 316.8h0.65v0.65h-0.65zM97.7 294.5h0.65v0.65h-0.65zM69.9 323.3h0.65v0.65h-0.65zM82.9 306.0h0.65v0.65h-0.65zM58.8 321.2h0.65v0.65h-0.65zM76.2 332.0h0.65v0.65h-0.65zM63.8 279.3h0.65v0.65h-0.65zM56.1 293.5h0.65v0.65h-0.65zM78.9 308.2h0.65v0.65h-0.65zM88.7 296.3h0.65v0.65h-0.65zM75.0 337.2h0.65v0.65h-0.65zM77.4 333.2h0.65v0.65h-0.65z" fill="#3e2290" opacity="0.9"/>
<g filter="url(#bl05)">
<ellipse cx="44.7" cy="321.5" rx="4.9" ry="17.6" fill="#2d5cb8"/>
<ellipse cx="49.4" cy="331.0" rx="6.2" ry="4.1" fill="#2d5cb8"/>
<ellipse cx="44.4" cy="326.6" rx="3.9" ry="10.7" fill="#48a2e2"/>
<ellipse cx="44.4" cy="329.4" rx="3.0" ry="7.2" fill="#5cc8a0"/>
<ellipse cx="44.4" cy="330.3" rx="2.4" ry="5.3" fill="#a8d838"/>
<ellipse cx="44.4" cy="330.8" rx="1.9" ry="4.3" fill="#f0d020"/>
<ellipse cx="44.5" cy="331.3" rx="1.2" ry="2.8" fill="#e83020"/>
<ellipse cx="76.2" cy="319.5" rx="2.9" ry="16.5" transform="rotate(22 76.2 319.5)" fill="#2d5cb8"/>
<ellipse cx="73.2" cy="331.6" rx="4.6" ry="3.8" fill="#2d5cb8"/>
<ellipse cx="73" cy="331.7" rx="3.2" ry="2.6" fill="#48a2e2"/>
<ellipse cx="72.9" cy="331.8" rx="1.9" ry="1.5" fill="#6cd0a8"/>
</g>
</g>
<line x1="35.70" y1="277.50" x2="98.00" y2="277.50" stroke="#b0a8d8" stroke-width="0.8"/>
<rect x="66.6" y="277.8" width="31.000000000000007" height="62.299999999999976" fill="none" stroke="#4e4e96" stroke-width="0.8"/>
<line x1="35.70" y1="277.50" x2="35.70" y2="340.90" stroke="#000" stroke-width="0.9"/>
<line x1="35.20" y1="340.40" x2="98.00" y2="340.40" stroke="#000" stroke-width="0.9"/>
<line x1="34.50" y1="340.40" x2="35.70" y2="340.40" stroke="#000" stroke-width="0.4"/>
<line x1="34.50" y1="338.30" x2="35.70" y2="338.30" stroke="#000" stroke-width="0.4"/>
<line x1="34.50" y1="336.21" x2="35.70" y2="336.21" stroke="#000" stroke-width="0.4"/>
<line x1="34.50" y1="334.11" x2="35.70" y2="334.11" stroke="#000" stroke-width="0.4"/>
<line x1="34.50" y1="332.01" x2="35.70" y2="332.01" stroke="#000" stroke-width="0.4"/>
<line x1="34.50" y1="329.92" x2="35.70" y2="329.92" stroke="#000" stroke-width="0.4"/>
<line x1="34.50" y1="327.82" x2="35.70" y2="327.82" stroke="#000" stroke-width="0.4"/>
<line x1="34.50" y1="325.72" x2="35.70" y2="325.72" stroke="#000" stroke-width="0.4"/>
<line x1="34.50" y1="323.63" x2="35.70" y2="323.63" stroke="#000" stroke-width="0.4"/>
<line x1="34.50" y1="321.53" x2="35.70" y2="321.53" stroke="#000" stroke-width="0.4"/>
<line x1="34.50" y1="319.43" x2="35.70" y2="319.43" stroke="#000" stroke-width="0.4"/>
<line x1="34.50" y1="317.34" x2="35.70" y2="317.34" stroke="#000" stroke-width="0.4"/>
<line x1="34.50" y1="315.24" x2="35.70" y2="315.24" stroke="#000" stroke-width="0.4"/>
<line x1="34.50" y1="313.14" x2="35.70" y2="313.14" stroke="#000" stroke-width="0.4"/>
<line x1="34.50" y1="311.05" x2="35.70" y2="311.05" stroke="#000" stroke-width="0.4"/>
<line x1="34.50" y1="308.95" x2="35.70" y2="308.95" stroke="#000" stroke-width="0.4"/>
<line x1="34.50" y1="306.85" x2="35.70" y2="306.85" stroke="#000" stroke-width="0.4"/>
<line x1="34.50" y1="304.76" x2="35.70" y2="304.76" stroke="#000" stroke-width="0.4"/>
<line x1="34.50" y1="302.66" x2="35.70" y2="302.66" stroke="#000" stroke-width="0.4"/>
<line x1="34.50" y1="300.56" x2="35.70" y2="300.56" stroke="#000" stroke-width="0.4"/>
<line x1="34.50" y1="298.47" x2="35.70" y2="298.47" stroke="#000" stroke-width="0.4"/>
<line x1="34.50" y1="296.37" x2="35.70" y2="296.37" stroke="#000" stroke-width="0.4"/>
<line x1="34.50" y1="294.27" x2="35.70" y2="294.27" stroke="#000" stroke-width="0.4"/>
<line x1="34.50" y1="292.18" x2="35.70" y2="292.18" stroke="#000" stroke-width="0.4"/>
<line x1="34.50" y1="290.08" x2="35.70" y2="290.08" stroke="#000" stroke-width="0.4"/>
<line x1="34.50" y1="287.98" x2="35.70" y2="287.98" stroke="#000" stroke-width="0.4"/>
<line x1="34.50" y1="285.89" x2="35.70" y2="285.89" stroke="#000" stroke-width="0.4"/>
<line x1="34.50" y1="283.79" x2="35.70" y2="283.79" stroke="#000" stroke-width="0.4"/>
<line x1="34.50" y1="281.69" x2="35.70" y2="281.69" stroke="#000" stroke-width="0.4"/>
<line x1="34.50" y1="279.60" x2="35.70" y2="279.60" stroke="#000" stroke-width="0.4"/>
<line x1="34.50" y1="277.50" x2="35.70" y2="277.50" stroke="#000" stroke-width="0.4"/>
<line x1="33.70" y1="340.10" x2="35.70" y2="340.10" stroke="#000" stroke-width="0.6"/>
<text font-size="4.0" text-anchor="end" fill="#333" stroke="#333" stroke-width="0.3" transform="translate(33.40 341.54)">0</text>
<line x1="33.70" y1="328.20" x2="35.70" y2="328.20" stroke="#000" stroke-width="0.6"/>
<text font-size="4.0" text-anchor="end" fill="#333" stroke="#333" stroke-width="0.3" transform="translate(33.40 329.64)">50</text>
<line x1="33.70" y1="316.30" x2="35.70" y2="316.30" stroke="#000" stroke-width="0.6"/>
<text font-size="4.0" text-anchor="end" fill="#333" stroke="#333" stroke-width="0.3" transform="translate(33.40 317.74)">100</text>
<line x1="33.70" y1="304.40" x2="35.70" y2="304.40" stroke="#000" stroke-width="0.6"/>
<text font-size="4.0" text-anchor="end" fill="#333" stroke="#333" stroke-width="0.3" transform="translate(33.40 305.84)">150</text>
<line x1="33.70" y1="292.50" x2="35.70" y2="292.50" stroke="#000" stroke-width="0.6"/>
<text font-size="4.0" text-anchor="end" fill="#333" stroke="#333" stroke-width="0.3" transform="translate(33.40 293.94)">200</text>
<line x1="33.70" y1="280.60" x2="35.70" y2="280.60" stroke="#000" stroke-width="0.6"/>
<text font-size="4.0" text-anchor="end" fill="#333" stroke="#333" stroke-width="0.3" transform="translate(33.40 282.04)">250</text>
<line x1="38.60" y1="340.40" x2="38.60" y2="342.20" stroke="#000" stroke-width="0.6"/>
<text font-size="3.8" text-anchor="middle" fill="#333" stroke="#333" stroke-width="0.3" transform="translate(38.60 345.90)">-10³</text>
<line x1="44.60" y1="340.40" x2="44.60" y2="342.20" stroke="#000" stroke-width="0.6"/>
<text font-size="3.8" text-anchor="middle" fill="#333" stroke="#333" stroke-width="0.3" transform="translate(44.60 345.90)">0</text>
<line x1="49.60" y1="340.40" x2="49.60" y2="342.20" stroke="#000" stroke-width="0.6"/>
<text font-size="3.8" text-anchor="middle" fill="#333" stroke="#333" stroke-width="0.3" transform="translate(49.60 345.90)">10³</text>
<line x1="64.50" y1="340.40" x2="64.50" y2="342.20" stroke="#000" stroke-width="0.6"/>
<text font-size="3.8" text-anchor="middle" fill="#333" stroke="#333" stroke-width="0.3" transform="translate(64.50 345.90)">10³</text>
<line x1="78.70" y1="340.40" x2="78.70" y2="342.20" stroke="#000" stroke-width="0.6"/>
<text font-size="3.8" text-anchor="middle" fill="#333" stroke="#333" stroke-width="0.3" transform="translate(78.70 345.90)">10⁴</text>
<line x1="93.30" y1="340.40" x2="93.30" y2="342.20" stroke="#000" stroke-width="0.6"/>
<text font-size="3.8" text-anchor="middle" fill="#333" stroke="#333" stroke-width="0.3" transform="translate(93.30 345.90)">10⁵</text>
<line x1="35.70" y1="340.40" x2="35.70" y2="341.40" stroke="#000" stroke-width="0.35"/>
<line x1="37.26" y1="340.40" x2="37.26" y2="341.40" stroke="#000" stroke-width="0.35"/>
<line x1="38.82" y1="340.40" x2="38.82" y2="341.40" stroke="#000" stroke-width="0.35"/>
<line x1="40.37" y1="340.40" x2="40.37" y2="341.40" stroke="#000" stroke-width="0.35"/>
<line x1="41.93" y1="340.40" x2="41.93" y2="341.40" stroke="#000" stroke-width="0.35"/>
<line x1="43.49" y1="340.40" x2="43.49" y2="341.40" stroke="#000" stroke-width="0.35"/>
<line x1="45.05" y1="340.40" x2="45.05" y2="341.40" stroke="#000" stroke-width="0.35"/>
<line x1="46.60" y1="340.40" x2="46.60" y2="341.40" stroke="#000" stroke-width="0.35"/>
<line x1="48.16" y1="340.40" x2="48.16" y2="341.40" stroke="#000" stroke-width="0.35"/>
<line x1="49.72" y1="340.40" x2="49.72" y2="341.40" stroke="#000" stroke-width="0.35"/>
<line x1="51.28" y1="340.40" x2="51.28" y2="341.40" stroke="#000" stroke-width="0.35"/>
<line x1="52.83" y1="340.40" x2="52.83" y2="341.40" stroke="#000" stroke-width="0.35"/>
<line x1="54.39" y1="340.40" x2="54.39" y2="341.40" stroke="#000" stroke-width="0.35"/>
<line x1="55.95" y1="340.40" x2="55.95" y2="341.40" stroke="#000" stroke-width="0.35"/>
<line x1="57.51" y1="340.40" x2="57.51" y2="341.40" stroke="#000" stroke-width="0.35"/>
<line x1="59.06" y1="340.40" x2="59.06" y2="341.40" stroke="#000" stroke-width="0.35"/>
<line x1="60.62" y1="340.40" x2="60.62" y2="341.40" stroke="#000" stroke-width="0.35"/>
<line x1="62.18" y1="340.40" x2="62.18" y2="341.40" stroke="#000" stroke-width="0.35"/>
<line x1="63.73" y1="340.40" x2="63.73" y2="341.40" stroke="#000" stroke-width="0.35"/>
<line x1="65.29" y1="340.40" x2="65.29" y2="341.40" stroke="#000" stroke-width="0.35"/>
<line x1="66.85" y1="340.40" x2="66.85" y2="341.40" stroke="#000" stroke-width="0.35"/>
<line x1="68.41" y1="340.40" x2="68.41" y2="341.40" stroke="#000" stroke-width="0.35"/>
<line x1="69.97" y1="340.40" x2="69.97" y2="341.40" stroke="#000" stroke-width="0.35"/>
<line x1="71.52" y1="340.40" x2="71.52" y2="341.40" stroke="#000" stroke-width="0.35"/>
<line x1="73.08" y1="340.40" x2="73.08" y2="341.40" stroke="#000" stroke-width="0.35"/>
<line x1="74.64" y1="340.40" x2="74.64" y2="341.40" stroke="#000" stroke-width="0.35"/>
<line x1="76.19" y1="340.40" x2="76.19" y2="341.40" stroke="#000" stroke-width="0.35"/>
<line x1="77.75" y1="340.40" x2="77.75" y2="341.40" stroke="#000" stroke-width="0.35"/>
<line x1="79.31" y1="340.40" x2="79.31" y2="341.40" stroke="#000" stroke-width="0.35"/>
<line x1="80.87" y1="340.40" x2="80.87" y2="341.40" stroke="#000" stroke-width="0.35"/>
<line x1="82.43" y1="340.40" x2="82.43" y2="341.40" stroke="#000" stroke-width="0.35"/>
<line x1="83.98" y1="340.40" x2="83.98" y2="341.40" stroke="#000" stroke-width="0.35"/>
<line x1="85.54" y1="340.40" x2="85.54" y2="341.40" stroke="#000" stroke-width="0.35"/>
<line x1="87.10" y1="340.40" x2="87.10" y2="341.40" stroke="#000" stroke-width="0.35"/>
<line x1="88.66" y1="340.40" x2="88.66" y2="341.40" stroke="#000" stroke-width="0.35"/>
<line x1="90.21" y1="340.40" x2="90.21" y2="341.40" stroke="#000" stroke-width="0.35"/>
<line x1="91.77" y1="340.40" x2="91.77" y2="341.40" stroke="#000" stroke-width="0.35"/>
<line x1="93.33" y1="340.40" x2="93.33" y2="341.40" stroke="#000" stroke-width="0.35"/>
<line x1="94.89" y1="340.40" x2="94.89" y2="341.40" stroke="#000" stroke-width="0.35"/>
<line x1="96.44" y1="340.40" x2="96.44" y2="341.40" stroke="#000" stroke-width="0.35"/>
<text font-size="5.2" fill="#111" stroke="#111" stroke-width="0.3" transform="translate(72.60 338.60)">15.17 %</text>
<text font-size="2.4" fill="#333" stroke="#333" stroke-width="0.3" transform="translate(88.60 338.60)">CD45</text>
<text font-size="10.8" text-anchor="middle" fill="#1a1a1a" stroke="#1a1a1a" stroke-width="0.3" transform="translate(22.30 236.90) rotate(-90) scale(0.659 1)">DKO+<tspan font-style="italic">GFP</tspan></text>
<text font-size="10.37" text-anchor="middle" fill="#1a1a1a" stroke="#1a1a1a" stroke-width="0.3" transform="translate(19.20 309.50) rotate(-90) scale(0.69 1)">DKO+<tspan font-style="italic">Lck</tspan></text>
<line x1="24.00" y1="341.50" x2="24.00" y2="329.90" stroke="#000" stroke-width="0.9"/>
<path d="M24.00,327.50 L25.25,329.90 L22.75,329.90Z" fill="#000"/>
<text font-size="3.2" fill="#333" stroke="#333" stroke-width="0.3" transform="translate(27.60 327.00) rotate(-90)">SSC</text>
<line x1="31.70" y1="350.80" x2="43.80" y2="350.80" stroke="#000" stroke-width="0.9"/>
<path d="M46.40,350.80 L43.80,352.15 L43.80,349.45Z" fill="#000"/>
<text font-size="6.0" fill="#1a1a1a" stroke="#1a1a1a" stroke-width="0.3" transform="translate(47.60 353.00)">CD45</text>
<rect x="132.10" y="225.32" width="11.60" height="39.68" fill="#c8102e"/>
<rect x="149.30" y="239.43" width="11.80" height="25.57" fill="#145389"/>
<rect x="167.00" y="231.50" width="12.00" height="33.50" fill="#3cb44a"/>
<circle cx="137.90" cy="222.24" r="0.85" fill="#000"/>
<circle cx="135.90" cy="224.44" r="0.85" fill="#000"/>
<circle cx="139.90" cy="225.77" r="0.85" fill="#000"/>
<circle cx="136.90" cy="227.09" r="0.85" fill="#000"/>
<circle cx="139.40" cy="227.53" r="0.85" fill="#000"/>
<line x1="137.90" y1="223.56" x2="137.90" y2="227.09" stroke="#000" stroke-width="1.1"/>
<line x1="135.30" y1="223.56" x2="140.50" y2="223.56" stroke="#000" stroke-width="1.1"/>
<line x1="135.30" y1="227.09" x2="140.50" y2="227.09" stroke="#000" stroke-width="1.1"/>
<circle cx="152.20" cy="236.79" r="0.85" fill="#000"/>
<circle cx="154.20" cy="237.23" r="0.85" fill="#000"/>
<circle cx="156.20" cy="238.11" r="0.85" fill="#000"/>
<circle cx="158.20" cy="238.55" r="0.85" fill="#000"/>
<circle cx="153.20" cy="239.43" r="0.85" fill="#000"/>
<circle cx="157.20" cy="239.87" r="0.85" fill="#000"/>
<circle cx="155.20" cy="240.75" r="0.85" fill="#000"/>
<circle cx="152.20" cy="241.19" r="0.85" fill="#000"/>
<circle cx="155.20" cy="246.04" r="0.85" fill="#000"/>
<line x1="155.20" y1="238.37" x2="155.20" y2="240.49" stroke="#000" stroke-width="1.1"/>
<line x1="152.60" y1="238.37" x2="157.80" y2="238.37" stroke="#000" stroke-width="1.1"/>
<line x1="152.60" y1="240.49" x2="157.80" y2="240.49" stroke="#000" stroke-width="1.1"/>
<circle cx="173.00" cy="226.21" r="0.85" fill="#000"/>
<circle cx="171.00" cy="227.97" r="0.85" fill="#000"/>
<circle cx="175.00" cy="228.85" r="0.85" fill="#000"/>
<circle cx="170.00" cy="230.17" r="0.85" fill="#000"/>
<circle cx="176.00" cy="230.62" r="0.85" fill="#000"/>
<circle cx="172.00" cy="231.50" r="0.85" fill="#000"/>
<circle cx="174.00" cy="232.38" r="0.85" fill="#000"/>
<circle cx="173.00" cy="234.14" r="0.85" fill="#000"/>
<circle cx="171.00" cy="235.91" r="0.85" fill="#000"/>
<circle cx="175.00" cy="236.79" r="0.85" fill="#000"/>
<line x1="173.00" y1="230.17" x2="173.00" y2="232.82" stroke="#000" stroke-width="1.1"/>
<line x1="170.40" y1="230.17" x2="175.60" y2="230.17" stroke="#000" stroke-width="1.1"/>
<line x1="170.40" y1="232.82" x2="175.60" y2="232.82" stroke="#000" stroke-width="1.1"/>
<line x1="129.90" y1="211.60" x2="129.90" y2="265.50" stroke="#000" stroke-width="1.1"/>
<line x1="129.40" y1="265.00" x2="181.50" y2="265.00" stroke="#000" stroke-width="1.1"/>
<line x1="126.50" y1="265.00" x2="129.90" y2="265.00" stroke="#000" stroke-width="1.1"/>
<text font-size="7.0" text-anchor="end" fill="#1a1a1a" stroke="#1a1a1a" stroke-width="0.3" transform="translate(123.70 267.52) scale(0.87 1)">0</text>
<line x1="126.50" y1="247.37" x2="129.90" y2="247.37" stroke="#000" stroke-width="1.1"/>
<text font-size="7.0" text-anchor="end" fill="#1a1a1a" stroke="#1a1a1a" stroke-width="0.3" transform="translate(123.70 249.89) scale(0.87 1)">2</text>
<line x1="126.50" y1="229.73" x2="129.90" y2="229.73" stroke="#000" stroke-width="1.1"/>
<text font-size="7.0" text-anchor="end" fill="#1a1a1a" stroke="#1a1a1a" stroke-width="0.3" transform="translate(123.70 232.25) scale(0.87 1)">4</text>
<line x1="126.50" y1="212.10" x2="129.90" y2="212.10" stroke="#000" stroke-width="1.1"/>
<text font-size="7.0" text-anchor="end" fill="#1a1a1a" stroke="#1a1a1a" stroke-width="0.3" transform="translate(123.70 214.62) scale(0.87 1)">6</text>
<line x1="137.10" y1="215.90" x2="173.00" y2="215.90" stroke="#555" stroke-width="1.0"/>
<text font-size="5.4" text-anchor="middle" fill="#333" stroke="#333" stroke-width="0.3" transform="translate(156.90 214.30)"><tspan font-style="italic">p</tspan>&lt;0.01</text>
<line x1="155.30" y1="223.30" x2="173.00" y2="223.30" stroke="#555" stroke-width="1.0"/>
<text font-size="5.4" text-anchor="middle" fill="#333" stroke="#333" stroke-width="0.3" transform="translate(165.50 221.70)"><tspan font-style="italic">p</tspan>&lt;0.001</text>
<text font-size="9.72" text-anchor="middle" fill="#1a1a1a" stroke="#1a1a1a" stroke-width="0.3" transform="translate(117.40 237.00) rotate(-90) scale(0.705 1)">BMNC(x10<tspan font-size="5" dy="-3">6</tspan><tspan dy="3">)</tspan></text>
<rect x="214.80" y="236.13" width="11.00" height="28.27" fill="#c8102e"/>
<rect x="231.50" y="260.87" width="11.90" height="3.53" fill="#145389"/>
<rect x="249.20" y="251.68" width="11.70" height="12.72" fill="#3cb44a"/>
<circle cx="220.30" cy="226.95" r="0.85" fill="#000"/>
<circle cx="220.30" cy="253.45" r="0.85" fill="#000"/>
<line x1="220.30" y1="230.13" x2="220.30" y2="242.14" stroke="#000" stroke-width="1.1"/>
<line x1="217.70" y1="230.13" x2="222.90" y2="230.13" stroke="#000" stroke-width="1.1"/>
<line x1="217.70" y1="242.14" x2="222.90" y2="242.14" stroke="#000" stroke-width="1.1"/>
<circle cx="235.45" cy="256.98" r="0.85" fill="#000"/>
<circle cx="239.45" cy="256.98" r="0.85" fill="#000"/>
<circle cx="234.45" cy="260.16" r="0.85" fill="#000"/>
<circle cx="237.45" cy="260.87" r="0.85" fill="#000"/>
<circle cx="240.45" cy="261.57" r="0.85" fill="#000"/>
<circle cx="236.45" cy="262.28" r="0.85" fill="#000"/>
<circle cx="238.45" cy="262.63" r="0.85" fill="#000"/>
<line x1="237.45" y1="259.81" x2="237.45" y2="261.93" stroke="#000" stroke-width="1.1"/>
<line x1="234.85" y1="259.81" x2="240.05" y2="259.81" stroke="#000" stroke-width="1.1"/>
<line x1="234.85" y1="261.93" x2="240.05" y2="261.93" stroke="#000" stroke-width="1.1"/>
<circle cx="255.05" cy="240.37" r="0.85" fill="#000"/>
<circle cx="255.05" cy="242.49" r="0.85" fill="#000"/>
<circle cx="255.05" cy="244.61" r="0.85" fill="#000"/>
<circle cx="255.05" cy="246.73" r="0.85" fill="#000"/>
<circle cx="253.05" cy="248.85" r="0.85" fill="#000"/>
<circle cx="257.05" cy="249.56" r="0.85" fill="#000"/>
<circle cx="252.05" cy="251.33" r="0.85" fill="#000"/>
<circle cx="258.05" cy="252.39" r="0.85" fill="#000"/>
<circle cx="254.05" cy="255.21" r="0.85" fill="#000"/>
<circle cx="256.05" cy="256.63" r="0.85" fill="#000"/>
<circle cx="253.05" cy="258.39" r="0.85" fill="#000"/>
<circle cx="257.05" cy="259.10" r="0.85" fill="#000"/>
<line x1="255.05" y1="249.91" x2="255.05" y2="253.45" stroke="#000" stroke-width="1.1"/>
<line x1="252.45" y1="249.91" x2="257.65" y2="249.91" stroke="#000" stroke-width="1.1"/>
<line x1="252.45" y1="253.45" x2="257.65" y2="253.45" stroke="#000" stroke-width="1.1"/>
<line x1="211.10" y1="210.90" x2="211.10" y2="264.90" stroke="#000" stroke-width="1.1"/>
<line x1="210.60" y1="264.40" x2="263.70" y2="264.40" stroke="#000" stroke-width="1.1"/>
<line x1="208.50" y1="264.40" x2="211.10" y2="264.40" stroke="#000" stroke-width="1.1"/>
<text font-size="7.0" text-anchor="end" fill="#1a1a1a" stroke="#1a1a1a" stroke-width="0.3" transform="translate(206.70 266.92) scale(0.87 1)">0.00</text>
<line x1="208.50" y1="246.73" x2="211.10" y2="246.73" stroke="#000" stroke-width="1.1"/>
<text font-size="7.0" text-anchor="end" fill="#1a1a1a" stroke="#1a1a1a" stroke-width="0.3" transform="translate(206.70 249.25) scale(0.87 1)">0.05</text>
<line x1="208.50" y1="229.07" x2="211.10" y2="229.07" stroke="#000" stroke-width="1.1"/>
<text font-size="7.0" text-anchor="end" fill="#1a1a1a" stroke="#1a1a1a" stroke-width="0.3" transform="translate(206.70 231.59) scale(0.87 1)">0.10</text>
<line x1="208.50" y1="211.40" x2="211.10" y2="211.40" stroke="#000" stroke-width="1.1"/>
<text font-size="7.0" text-anchor="end" fill="#1a1a1a" stroke="#1a1a1a" stroke-width="0.3" transform="translate(206.70 213.92) scale(0.87 1)">0.15</text>
<line x1="219.00" y1="222.20" x2="255.50" y2="222.20" stroke="#555" stroke-width="1.0"/>
<text font-size="5.4" text-anchor="middle" fill="#333" stroke="#333" stroke-width="0.3" transform="translate(239.20 220.60)"><tspan font-style="italic">p</tspan>&lt;0.01</text>
<line x1="238.40" y1="237.10" x2="255.50" y2="237.10" stroke="#555" stroke-width="1.0"/>
<text font-size="5.4" text-anchor="middle" fill="#333" stroke="#333" stroke-width="0.3" transform="translate(248.00 235.50)"><tspan font-style="italic">p</tspan>=0.02</text>
<text font-size="9.72" text-anchor="middle" fill="#1a1a1a" stroke="#1a1a1a" stroke-width="0.3" transform="translate(192.20 238.20) rotate(-90) scale(0.619 1)">LSK %</text>
<rect x="132.10" y="289.81" width="11.10" height="37.69" fill="#c8102e"/>
<rect x="149.30" y="322.79" width="11.60" height="4.71" fill="#145389"/>
<rect x="167.00" y="310.42" width="12.00" height="17.08" fill="#3cb44a"/>
<circle cx="137.65" cy="278.03" r="0.85" fill="#000"/>
<circle cx="137.65" cy="313.37" r="0.85" fill="#000"/>
<line x1="137.65" y1="281.57" x2="137.65" y2="298.06" stroke="#000" stroke-width="1.1"/>
<line x1="135.05" y1="281.57" x2="140.25" y2="281.57" stroke="#000" stroke-width="1.1"/>
<line x1="135.05" y1="298.06" x2="140.25" y2="298.06" stroke="#000" stroke-width="1.1"/>
<circle cx="152.10" cy="318.08" r="0.85" fill="#000"/>
<circle cx="155.10" cy="318.67" r="0.85" fill="#000"/>
<circle cx="157.10" cy="319.84" r="0.85" fill="#000"/>
<circle cx="153.10" cy="321.02" r="0.85" fill="#000"/>
<circle cx="158.10" cy="322.20" r="0.85" fill="#000"/>
<circle cx="154.10" cy="323.02" r="0.85" fill="#000"/>
<circle cx="156.10" cy="323.97" r="0.85" fill="#000"/>
<circle cx="155.10" cy="325.14" r="0.85" fill="#000"/>
<line x1="155.10" y1="321.61" x2="155.10" y2="323.97" stroke="#000" stroke-width="1.1"/>
<line x1="152.50" y1="321.61" x2="157.70" y2="321.61" stroke="#000" stroke-width="1.1"/>
<line x1="152.50" y1="323.97" x2="157.70" y2="323.97" stroke="#000" stroke-width="1.1"/>
<circle cx="171.00" cy="299.82" r="0.85" fill="#000"/>
<circle cx="175.00" cy="300.41" r="0.85" fill="#000"/>
<circle cx="173.00" cy="303.36" r="0.85" fill="#000"/>
<circle cx="170.00" cy="306.30" r="0.85" fill="#000"/>
<circle cx="176.00" cy="307.48" r="0.85" fill="#000"/>
<circle cx="173.00" cy="309.83" r="0.85" fill="#000"/>
<circle cx="171.00" cy="313.37" r="0.85" fill="#000"/>
<circle cx="175.00" cy="315.72" r="0.85" fill="#000"/>
<circle cx="172.00" cy="319.26" r="0.85" fill="#000"/>
<circle cx="174.00" cy="321.02" r="0.85" fill="#000"/>
<line x1="173.00" y1="308.07" x2="173.00" y2="312.78" stroke="#000" stroke-width="1.1"/>
<line x1="170.40" y1="308.07" x2="175.60" y2="308.07" stroke="#000" stroke-width="1.1"/>
<line x1="170.40" y1="312.78" x2="175.60" y2="312.78" stroke="#000" stroke-width="1.1"/>
<line x1="129.90" y1="274.00" x2="129.90" y2="328.00" stroke="#000" stroke-width="1.1"/>
<line x1="129.40" y1="327.50" x2="181.50" y2="327.50" stroke="#000" stroke-width="1.1"/>
<line x1="127.30" y1="327.50" x2="129.90" y2="327.50" stroke="#000" stroke-width="1.1"/>
<text font-size="7.0" text-anchor="end" fill="#1a1a1a" stroke="#1a1a1a" stroke-width="0.3" transform="translate(125.80 330.02) scale(0.87 1)">0</text>
<line x1="127.30" y1="309.83" x2="129.90" y2="309.83" stroke="#000" stroke-width="1.1"/>
<text font-size="7.0" text-anchor="end" fill="#1a1a1a" stroke="#1a1a1a" stroke-width="0.3" transform="translate(125.80 312.35) scale(0.87 1)">1500</text>
<line x1="127.30" y1="292.17" x2="129.90" y2="292.17" stroke="#000" stroke-width="1.1"/>
<text font-size="7.0" text-anchor="end" fill="#1a1a1a" stroke="#1a1a1a" stroke-width="0.3" transform="translate(125.80 294.69) scale(0.87 1)">3000</text>
<line x1="127.30" y1="274.50" x2="129.90" y2="274.50" stroke="#000" stroke-width="1.1"/>
<text font-size="7.0" text-anchor="end" fill="#1a1a1a" stroke="#1a1a1a" stroke-width="0.3" transform="translate(125.80 277.02) scale(0.87 1)">4500</text>
<line x1="136.60" y1="276.30" x2="173.00" y2="276.30" stroke="#555" stroke-width="1.0"/>
<text font-size="5.4" text-anchor="middle" fill="#333" stroke="#333" stroke-width="0.3" transform="translate(157.30 274.70)"><tspan font-style="italic">p</tspan>&lt;0.001</text>
<line x1="154.80" y1="296.00" x2="173.00" y2="296.00" stroke="#555" stroke-width="1.0"/>
<text font-size="5.4" text-anchor="middle" fill="#333" stroke="#333" stroke-width="0.3" transform="translate(163.90 294.40)"><tspan font-style="italic">p</tspan>=0.02</text>
<text font-size="9.72" text-anchor="middle" fill="#1a1a1a" stroke="#1a1a1a" stroke-width="0.3" transform="translate(108.50 301.10) rotate(-90) scale(0.685 1)">LSK No.</text>
<text font-size="7.5" text-anchor="end" fill="#1a1a1a" stroke="#1a1a1a" stroke-width="0.3" transform="translate(142.00 332.50) rotate(-45) scale(0.87 1)">WT</text>
<text font-size="7.5" text-anchor="end" fill="#1a1a1a" stroke="#1a1a1a" stroke-width="0.3" transform="translate(159.50 332.50) rotate(-45) scale(0.87 1)">DKO+GFP</text>
<text font-size="7.5" text-anchor="end" fill="#1a1a1a" stroke="#1a1a1a" stroke-width="0.3" transform="translate(177.40 332.50) rotate(-45) scale(0.87 1)">DKO+Lck</text>
<rect x="214.50" y="291.12" width="11.00" height="36.18" fill="#c8102e"/>
<rect x="231.50" y="313.26" width="11.40" height="14.04" fill="#145389"/>
<rect x="249.30" y="297.93" width="11.20" height="29.37" fill="#3cb44a"/>
<circle cx="220.00" cy="277.29" r="0.85" fill="#000"/>
<circle cx="220.00" cy="301.76" r="0.85" fill="#000"/>
<line x1="220.00" y1="285.80" x2="220.00" y2="296.44" stroke="#000" stroke-width="1.1"/>
<line x1="217.40" y1="285.80" x2="222.60" y2="285.80" stroke="#000" stroke-width="1.1"/>
<line x1="217.40" y1="296.44" x2="222.60" y2="296.44" stroke="#000" stroke-width="1.1"/>
<circle cx="236.20" cy="305.59" r="0.85" fill="#000"/>
<circle cx="238.20" cy="307.08" r="0.85" fill="#000"/>
<circle cx="234.20" cy="309.21" r="0.85" fill="#000"/>
<circle cx="240.20" cy="309.85" r="0.85" fill="#000"/>
<circle cx="237.20" cy="312.40" r="0.85" fill="#000"/>
<circle cx="235.20" cy="314.96" r="0.85" fill="#000"/>
<circle cx="239.20" cy="316.23" r="0.85" fill="#000"/>
<circle cx="237.20" cy="317.72" r="0.85" fill="#000"/>
<line x1="237.20" y1="311.34" x2="237.20" y2="315.17" stroke="#000" stroke-width="1.1"/>
<line x1="234.60" y1="311.34" x2="239.80" y2="311.34" stroke="#000" stroke-width="1.1"/>
<line x1="234.60" y1="315.17" x2="239.80" y2="315.17" stroke="#000" stroke-width="1.1"/>
<circle cx="251.90" cy="294.53" r="0.85" fill="#000"/>
<circle cx="257.90" cy="294.95" r="0.85" fill="#000"/>
<circle cx="254.90" cy="295.81" r="0.85" fill="#000"/>
<circle cx="252.90" cy="297.08" r="0.85" fill="#000"/>
<circle cx="256.90" cy="297.93" r="0.85" fill="#000"/>
<circle cx="253.90" cy="298.78" r="0.85" fill="#000"/>
<circle cx="255.90" cy="299.64" r="0.85" fill="#000"/>
<circle cx="251.90" cy="300.49" r="0.85" fill="#000"/>
<circle cx="257.90" cy="301.13" r="0.85" fill="#000"/>
<line x1="254.90" y1="296.44" x2="254.90" y2="299.42" stroke="#000" stroke-width="1.1"/>
<line x1="252.30" y1="296.44" x2="257.50" y2="296.44" stroke="#000" stroke-width="1.1"/>
<line x1="252.30" y1="299.42" x2="257.50" y2="299.42" stroke="#000" stroke-width="1.1"/>
<line x1="211.40" y1="273.60" x2="211.40" y2="327.80" stroke="#000" stroke-width="1.1"/>
<line x1="210.90" y1="327.30" x2="263.60" y2="327.30" stroke="#000" stroke-width="1.1"/>
<line x1="208.80" y1="327.30" x2="211.40" y2="327.30" stroke="#000" stroke-width="1.1"/>
<text font-size="7.0" text-anchor="end" fill="#1a1a1a" stroke="#1a1a1a" stroke-width="0.3" transform="translate(207.30 329.82) scale(0.87 1)">0</text>
<line x1="208.80" y1="316.66" x2="211.40" y2="316.66" stroke="#000" stroke-width="1.1"/>
<text font-size="7.0" text-anchor="end" fill="#1a1a1a" stroke="#1a1a1a" stroke-width="0.3" transform="translate(207.30 319.18) scale(0.87 1)">5</text>
<line x1="208.80" y1="306.02" x2="211.40" y2="306.02" stroke="#000" stroke-width="1.1"/>
<text font-size="7.0" text-anchor="end" fill="#1a1a1a" stroke="#1a1a1a" stroke-width="0.3" transform="translate(207.30 308.54) scale(0.87 1)">10</text>
<line x1="208.80" y1="295.38" x2="211.40" y2="295.38" stroke="#000" stroke-width="1.1"/>
<text font-size="7.0" text-anchor="end" fill="#1a1a1a" stroke="#1a1a1a" stroke-width="0.3" transform="translate(207.30 297.90) scale(0.87 1)">15</text>
<line x1="208.80" y1="284.74" x2="211.40" y2="284.74" stroke="#000" stroke-width="1.1"/>
<text font-size="7.0" text-anchor="end" fill="#1a1a1a" stroke="#1a1a1a" stroke-width="0.3" transform="translate(207.30 287.26) scale(0.87 1)">20</text>
<line x1="208.80" y1="274.10" x2="211.40" y2="274.10" stroke="#000" stroke-width="1.1"/>
<text font-size="7.0" text-anchor="end" fill="#1a1a1a" stroke="#1a1a1a" stroke-width="0.3" transform="translate(207.30 276.62) scale(0.87 1)">25</text>
<line x1="219.70" y1="274.60" x2="255.50" y2="274.60" stroke="#555" stroke-width="1.0"/>
<text font-size="5.4" text-anchor="middle" fill="#333" stroke="#333" stroke-width="0.3" transform="translate(238.30 273.00)"><tspan font-style="italic">p</tspan>=0.11</text>
<line x1="238.30" y1="286.10" x2="255.50" y2="286.10" stroke="#555" stroke-width="1.0"/>
<text font-size="5.4" text-anchor="middle" fill="#333" stroke="#333" stroke-width="0.3" transform="translate(248.30 284.50)"><tspan font-style="italic">p</tspan>&lt;0.001</text>
<text font-size="10.04" text-anchor="middle" fill="#1a1a1a" stroke="#1a1a1a" stroke-width="0.3" transform="translate(197.00 300.90) rotate(-90) scale(0.674 1)">CD45 %</text>
<text font-size="7.5" text-anchor="end" fill="#1a1a1a" stroke="#1a1a1a" stroke-width="0.3" transform="translate(224.40 332.50) rotate(-45) scale(0.87 1)">WT</text>
<text font-size="7.5" text-anchor="end" fill="#1a1a1a" stroke="#1a1a1a" stroke-width="0.3" transform="translate(241.60 332.50) rotate(-45) scale(0.87 1)">DKO+GFP</text>
<text font-size="7.5" text-anchor="end" fill="#1a1a1a" stroke="#1a1a1a" stroke-width="0.3" transform="translate(259.30 332.50) rotate(-45) scale(0.87 1)">DKO+Lck</text>
<text font-size="10.5" font-weight="bold" fill="#000" transform="translate(275.60 210.20) scale(1.1 1)">J</text>
<path d="M311.4 234.0a1.9 1.6 0 1 0 3.8 0a1.9 1.6 0 1 0 -3.8 0M310.0 229.0a2.1 1.6 0 1 0 4.3 0a2.1 1.6 0 1 0 -4.3 0M307.7 250.3a1.0 1.4 0 1 0 2.0 0a1.0 1.4 0 1 0 -2.0 0M307.8 252.4a2.1 1.3 0 1 0 4.2 0a2.1 1.3 0 1 0 -4.2 0M308.6 246.5a2.4 1.9 0 1 0 4.8 0a2.4 1.9 0 1 0 -4.8 0M312.9 261.9a1.0 1.4 0 1 0 2.1 0a1.0 1.4 0 1 0 -2.1 0M307.1 249.9a2.3 1.4 0 1 0 4.7 0a2.3 1.4 0 1 0 -4.7 0M313.0 231.5a1.2 2.1 0 1 0 2.3 0a1.2 2.1 0 1 0 -2.3 0M305.7 245.5a1.5 1.6 0 1 0 3.0 0a1.5 1.6 0 1 0 -3.0 0M309.0 246.9a2.2 1.3 0 1 0 4.4 0a2.2 1.3 0 1 0 -4.4 0M309.0 258.1a2.4 2.1 0 1 0 4.7 0a2.4 2.1 0 1 0 -4.7 0M311.3 240.4a2.2 1.2 0 1 0 4.3 0a2.2 1.2 0 1 0 -4.3 0M313.5 261.8a1.6 1.4 0 1 0 3.1 0a1.6 1.4 0 1 0 -3.1 0M305.6 246.4a2.4 1.5 0 1 0 4.8 0a2.4 1.5 0 1 0 -4.8 0M310.3 249.1a2.0 2.2 0 1 0 4.0 0a2.0 2.2 0 1 0 -4.0 0M305.6 249.7a1.8 1.9 0 1 0 3.5 0a1.8 1.9 0 1 0 -3.5 0M309.9 233.7a1.8 1.7 0 1 0 3.6 0a1.8 1.7 0 1 0 -3.6 0M310.2 243.3a1.5 2.1 0 1 0 3.0 0a1.5 2.1 0 1 0 -3.0 0M307.1 236.6a1.4 1.1 0 1 0 2.9 0a1.4 1.1 0 1 0 -2.9 0M313.0 241.1a2.1 1.4 0 1 0 4.2 0a2.1 1.4 0 1 0 -4.2 0M306.8 266.6a2.3 2.1 0 1 0 4.5 0a2.3 2.1 0 1 0 -4.5 0M300.8 229.9a2.3 1.7 0 1 0 4.7 0a2.3 1.7 0 1 0 -4.7 0M312.1 259.4a1.5 1.3 0 1 0 3.1 0a1.5 1.3 0 1 0 -3.1 0M311.1 255.1a1.1 2.0 0 1 0 2.2 0a1.1 2.0 0 1 0 -2.2 0M309.3 263.8a2.2 1.1 0 1 0 4.3 0a2.2 1.1 0 1 0 -4.3 0M309.2 240.0a1.6 1.2 0 1 0 3.2 0a1.6 1.2 0 1 0 -3.2 0M311.2 245.4a2.3 2.2 0 1 0 4.5 0a2.3 2.2 0 1 0 -4.5 0M309.5 263.8a1.4 2.2 0 1 0 2.7 0a1.4 2.2 0 1 0 -2.7 0M305.0 253.1a1.0 1.3 0 1 0 2.1 0a1.0 1.3 0 1 0 -2.1 0M305.1 242.8a2.2 1.4 0 1 0 4.4 0a2.2 1.4 0 1 0 -4.4 0M306.4 252.1a2.1 1.0 0 1 0 4.2 0a2.1 1.0 0 1 0 -4.2 0M306.9 261.2a1.0 1.7 0 1 0 2.1 0a1.0 1.7 0 1 0 -2.1 0M302.2 232.9a2.3 1.2 0 1 0 4.5 0a2.3 1.2 0 1 0 -4.5 0M311.0 247.0a1.0 1.5 0 1 0 2.1 0a1.0 1.5 0 1 0 -2.1 0M312.9 231.2a1.9 1.2 0 1 0 3.8 0a1.9 1.2 0 1 0 -3.8 0M306.6 252.6a1.7 1.3 0 1 0 3.4 0a1.7 1.3 0 1 0 -3.4 0M310.4 243.3a1.5 1.9 0 1 0 3.1 0a1.5 1.9 0 1 0 -3.1 0M308.0 251.2a2.0 2.0 0 1 0 4.0 0a2.0 2.0 0 1 0 -4.0 0M313.9 242.0a1.2 1.9 0 1 0 2.5 0a1.2 1.9 0 1 0 -2.5 0M309.4 231.3a1.4 1.1 0 1 0 2.9 0a1.4 1.1 0 1 0 -2.9 0M306.6 243.3a2.3 1.4 0 1 0 4.5 0a2.3 1.4 0 1 0 -4.5 0M304.7 250.3a2.3 1.1 0 1 0 4.7 0a2.3 1.1 0 1 0 -4.7 0M305.9 258.6a2.0 2.2 0 1 0 4.1 0a2.0 2.2 0 1 0 -4.1 0M307.4 232.5a1.7 1.7 0 1 0 3.5 0a1.7 1.7 0 1 0 -3.5 0M312.7 241.3a2.4 1.4 0 1 0 4.7 0a2.4 1.4 0 1 0 -4.7 0M305.7 215.2a1.2 1.1 0 1 0 2.3 0a1.2 1.1 0 1 0 -2.3 0M313.0 240.1a2.1 1.5 0 1 0 4.1 0a2.1 1.5 0 1 0 -4.1 0M308.6 251.7a1.9 1.5 0 1 0 3.8 0a1.9 1.5 0 1 0 -3.8 0M306.3 251.3a1.6 1.3 0 1 0 3.1 0a1.6 1.3 0 1 0 -3.1 0M312.7 246.1a1.3 1.8 0 1 0 2.7 0a1.3 1.8 0 1 0 -2.7 0M306.4 240.8a1.9 2.2 0 1 0 3.8 0a1.9 2.2 0 1 0 -3.8 0M312.3 242.9a1.7 1.9 0 1 0 3.4 0a1.7 1.9 0 1 0 -3.4 0M313.2 263.4a1.9 1.9 0 1 0 3.8 0a1.9 1.9 0 1 0 -3.8 0M309.6 223.0a1.5 1.7 0 1 0 3.1 0a1.5 1.7 0 1 0 -3.1 0M312.1 261.0a2.4 1.0 0 1 0 4.8 0a2.4 1.0 0 1 0 -4.8 0M308.4 240.3a1.5 1.2 0 1 0 3.1 0a1.5 1.2 0 1 0 -3.1 0M308.3 251.6a1.4 2.1 0 1 0 2.8 0a1.4 2.1 0 1 0 -2.8 0M309.6 263.5a1.2 2.1 0 1 0 2.3 0a1.2 2.1 0 1 0 -2.3 0M308.9 257.9a1.5 1.8 0 1 0 2.9 0a1.5 1.8 0 1 0 -2.9 0M307.6 258.6a2.3 1.4 0 1 0 4.7 0a2.3 1.4 0 1 0 -4.7 0M309.6 226.6a1.2 1.8 0 1 0 2.4 0a1.2 1.8 0 1 0 -2.4 0M310.8 234.5a1.4 1.5 0 1 0 2.8 0a1.4 1.5 0 1 0 -2.8 0M312.5 255.0a1.6 1.7 0 1 0 3.2 0a1.6 1.7 0 1 0 -3.2 0M309.0 242.6a1.5 1.3 0 1 0 3.1 0a1.5 1.3 0 1 0 -3.1 0M312.8 221.4a1.0 2.0 0 1 0 2.1 0a1.0 2.0 0 1 0 -2.1 0M314.1 257.6a1.0 1.6 0 1 0 2.1 0a1.0 1.6 0 1 0 -2.1 0M313.0 246.0a2.0 1.3 0 1 0 4.0 0a2.0 1.3 0 1 0 -4.0 0M313.7 249.3a1.1 1.4 0 1 0 2.3 0a1.1 1.4 0 1 0 -2.3 0M303.1 242.7a1.5 1.2 0 1 0 3.0 0a1.5 1.2 0 1 0 -3.0 0M310.7 267.0a1.7 1.1 0 1 0 3.5 0a1.7 1.1 0 1 0 -3.5 0M310.4 238.6a1.8 1.3 0 1 0 3.5 0a1.8 1.3 0 1 0 -3.5 0M310.6 266.7a2.3 2.1 0 1 0 4.6 0a2.3 2.1 0 1 0 -4.6 0M313.9 248.2a1.1 2.1 0 1 0 2.2 0a1.1 2.1 0 1 0 -2.2 0M310.7 265.2a1.9 1.6 0 1 0 3.7 0a1.9 1.6 0 1 0 -3.7 0M310.4 260.5a1.4 1.4 0 1 0 2.8 0a1.4 1.4 0 1 0 -2.8 0M307.4 233.8a2.2 1.1 0 1 0 4.5 0a2.2 1.1 0 1 0 -4.5 0M312.4 244.0a1.9 1.2 0 1 0 3.9 0a1.9 1.2 0 1 0 -3.9 0M309.7 245.8a1.1 1.6 0 1 0 2.1 0a1.1 1.6 0 1 0 -2.1 0M307.8 266.0a1.2 1.1 0 1 0 2.4 0a1.2 1.1 0 1 0 -2.4 0M312.8 256.4a1.6 1.8 0 1 0 3.1 0a1.6 1.8 0 1 0 -3.1 0M309.3 264.6a1.1 2.0 0 1 0 2.2 0a1.1 2.0 0 1 0 -2.2 0M309.6 246.6a1.5 1.6 0 1 0 3.0 0a1.5 1.6 0 1 0 -3.0 0M307.6 255.4a2.0 1.6 0 1 0 4.0 0a2.0 1.6 0 1 0 -4.0 0M312.0 229.9a2.1 2.1 0 1 0 4.3 0a2.1 2.1 0 1 0 -4.3 0M307.9 257.7a2.1 2.1 0 1 0 4.2 0a2.1 2.1 0 1 0 -4.2 0M302.0 255.5a2.4 1.5 0 1 0 4.7 0a2.4 1.5 0 1 0 -4.7 0M313.0 260.2a2.1 1.0 0 1 0 4.2 0a2.1 1.0 0 1 0 -4.2 0M306.5 236.6a1.9 1.9 0 1 0 3.7 0a1.9 1.9 0 1 0 -3.7 0M321.3 226.8a1.8 1.9 0 1 0 3.5 0a1.8 1.9 0 1 0 -3.5 0M321.7 256.2a2.4 1.6 0 1 0 4.8 0a2.4 1.6 0 1 0 -4.8 0M320.7 228.7a1.5 1.1 0 1 0 3.0 0a1.5 1.1 0 1 0 -3.0 0M333.1 248.1a1.2 1.5 0 1 0 2.5 0a1.2 1.5 0 1 0 -2.5 0M322.2 259.2a1.0 1.4 0 1 0 2.1 0a1.0 1.4 0 1 0 -2.1 0M326.6 241.0a1.0 1.7 0 1 0 2.1 0a1.0 1.7 0 1 0 -2.1 0M319.1 226.9a1.7 1.9 0 1 0 3.5 0a1.7 1.9 0 1 0 -3.5 0M322.8 243.7a1.2 1.2 0 1 0 2.3 0a1.2 1.2 0 1 0 -2.3 0M329.2 233.3a2.1 1.7 0 1 0 4.1 0a2.1 1.7 0 1 0 -4.1 0M324.1 254.3a1.6 1.4 0 1 0 3.2 0a1.6 1.4 0 1 0 -3.2 0M325.2 242.7a1.6 1.0 0 1 0 3.3 0a1.6 1.0 0 1 0 -3.3 0M318.4 231.1a1.8 1.8 0 1 0 3.6 0a1.8 1.8 0 1 0 -3.6 0M319.5 224.2a1.5 1.4 0 1 0 3.1 0a1.5 1.4 0 1 0 -3.1 0M332.4 264.4a1.9 1.6 0 1 0 3.9 0a1.9 1.6 0 1 0 -3.9 0" fill="none" stroke="#bc5050" stroke-width="0.55"/>
<path d="M317.3,208.8 L317.3,269.4 L361.9,269.4 L361.9,208.8" fill="none" stroke="#9fb4bc" stroke-width="0.8"/>
<line x1="298.00" y1="208.80" x2="298.00" y2="271.70" stroke="#000" stroke-width="0.9"/>
<line x1="297.50" y1="271.20" x2="363.90" y2="271.20" stroke="#000" stroke-width="0.9"/>
<line x1="296.80" y1="271.20" x2="298.00" y2="271.20" stroke="#000" stroke-width="0.4"/>
<line x1="296.80" y1="269.12" x2="298.00" y2="269.12" stroke="#000" stroke-width="0.4"/>
<line x1="296.80" y1="267.04" x2="298.00" y2="267.04" stroke="#000" stroke-width="0.4"/>
<line x1="296.80" y1="264.96" x2="298.00" y2="264.96" stroke="#000" stroke-width="0.4"/>
<line x1="296.80" y1="262.88" x2="298.00" y2="262.88" stroke="#000" stroke-width="0.4"/>
<line x1="296.80" y1="260.80" x2="298.00" y2="260.80" stroke="#000" stroke-width="0.4"/>
<line x1="296.80" y1="258.72" x2="298.00" y2="258.72" stroke="#000" stroke-width="0.4"/>
<line x1="296.80" y1="256.64" x2="298.00" y2="256.64" stroke="#000" stroke-width="0.4"/>
<line x1="296.80" y1="254.56" x2="298.00" y2="254.56" stroke="#000" stroke-width="0.4"/>
<line x1="296.80" y1="252.48" x2="298.00" y2="252.48" stroke="#000" stroke-width="0.4"/>
<line x1="296.80" y1="250.40" x2="298.00" y2="250.40" stroke="#000" stroke-width="0.4"/>
<line x1="296.80" y1="248.32" x2="298.00" y2="248.32" stroke="#000" stroke-width="0.4"/>
<line x1="296.80" y1="246.24" x2="298.00" y2="246.24" stroke="#000" stroke-width="0.4"/>
<line x1="296.80" y1="244.16" x2="298.00" y2="244.16" stroke="#000" stroke-width="0.4"/>
<line x1="296.80" y1="242.08" x2="298.00" y2="242.08" stroke="#000" stroke-width="0.4"/>
<line x1="296.80" y1="240.00" x2="298.00" y2="240.00" stroke="#000" stroke-width="0.4"/>
<line x1="296.80" y1="237.92" x2="298.00" y2="237.92" stroke="#000" stroke-width="0.4"/>
<line x1="296.80" y1="235.84" x2="298.00" y2="235.84" stroke="#000" stroke-width="0.4"/>
<line x1="296.80" y1="233.76" x2="298.00" y2="233.76" stroke="#000" stroke-width="0.4"/>
<line x1="296.80" y1="231.68" x2="298.00" y2="231.68" stroke="#000" stroke-width="0.4"/>
<line x1="296.80" y1="229.60" x2="298.00" y2="229.60" stroke="#000" stroke-width="0.4"/>
<line x1="296.80" y1="227.52" x2="298.00" y2="227.52" stroke="#000" stroke-width="0.4"/>
<line x1="296.80" y1="225.44" x2="298.00" y2="225.44" stroke="#000" stroke-width="0.4"/>
<line x1="296.80" y1="223.36" x2="298.00" y2="223.36" stroke="#000" stroke-width="0.4"/>
<line x1="296.80" y1="221.28" x2="298.00" y2="221.28" stroke="#000" stroke-width="0.4"/>
<line x1="296.80" y1="219.20" x2="298.00" y2="219.20" stroke="#000" stroke-width="0.4"/>
<line x1="296.80" y1="217.12" x2="298.00" y2="217.12" stroke="#000" stroke-width="0.4"/>
<line x1="296.80" y1="215.04" x2="298.00" y2="215.04" stroke="#000" stroke-width="0.4"/>
<line x1="296.80" y1="212.96" x2="298.00" y2="212.96" stroke="#000" stroke-width="0.4"/>
<line x1="296.80" y1="210.88" x2="298.00" y2="210.88" stroke="#000" stroke-width="0.4"/>
<line x1="296.80" y1="208.80" x2="298.00" y2="208.80" stroke="#000" stroke-width="0.4"/>
<line x1="296.00" y1="271.20" x2="298.00" y2="271.20" stroke="#000" stroke-width="0.6"/>
<text font-size="3.9" text-anchor="end" fill="#333" stroke="#333" stroke-width="0.3" transform="translate(295.70 272.60)">0</text>
<line x1="296.00" y1="259.12" x2="298.00" y2="259.12" stroke="#000" stroke-width="0.6"/>
<text font-size="3.9" text-anchor="end" fill="#333" stroke="#333" stroke-width="0.3" transform="translate(295.70 260.52)">50</text>
<line x1="296.00" y1="247.04" x2="298.00" y2="247.04" stroke="#000" stroke-width="0.6"/>
<text font-size="3.9" text-anchor="end" fill="#333" stroke="#333" stroke-width="0.3" transform="translate(295.70 248.44)">100</text>
<line x1="296.00" y1="234.96" x2="298.00" y2="234.96" stroke="#000" stroke-width="0.6"/>
<text font-size="3.9" text-anchor="end" fill="#333" stroke="#333" stroke-width="0.3" transform="translate(295.70 236.36)">150</text>
<line x1="296.00" y1="222.88" x2="298.00" y2="222.88" stroke="#000" stroke-width="0.6"/>
<text font-size="3.9" text-anchor="end" fill="#333" stroke="#333" stroke-width="0.3" transform="translate(295.70 224.28)">200</text>
<line x1="296.00" y1="210.80" x2="298.00" y2="210.80" stroke="#000" stroke-width="0.6"/>
<text font-size="3.9" text-anchor="end" fill="#333" stroke="#333" stroke-width="0.3" transform="translate(295.70 212.20)">250</text>
<line x1="301.00" y1="271.20" x2="301.00" y2="273.00" stroke="#000" stroke-width="0.6"/>
<text font-size="3.7049999999999996" text-anchor="middle" fill="#333" stroke="#333" stroke-width="0.3" transform="translate(301.00 277.60)">-10³</text>
<line x1="308.00" y1="271.20" x2="308.00" y2="273.00" stroke="#000" stroke-width="0.6"/>
<text font-size="3.7049999999999996" text-anchor="middle" fill="#333" stroke="#333" stroke-width="0.3" transform="translate(308.00 277.60)">0</text>
<line x1="312.70" y1="271.20" x2="312.70" y2="273.00" stroke="#000" stroke-width="0.6"/>
<text font-size="3.7049999999999996" text-anchor="middle" fill="#333" stroke="#333" stroke-width="0.3" transform="translate(312.70 277.60)">10³</text>
<line x1="328.20" y1="271.20" x2="328.20" y2="273.00" stroke="#000" stroke-width="0.6"/>
<text font-size="3.7049999999999996" text-anchor="middle" fill="#333" stroke="#333" stroke-width="0.3" transform="translate(328.20 277.60)">10³</text>
<line x1="342.20" y1="271.20" x2="342.20" y2="273.00" stroke="#000" stroke-width="0.6"/>
<text font-size="3.7049999999999996" text-anchor="middle" fill="#333" stroke="#333" stroke-width="0.3" transform="translate(342.20 277.60)">10⁴</text>
<line x1="356.30" y1="271.20" x2="356.30" y2="273.00" stroke="#000" stroke-width="0.6"/>
<text font-size="3.7049999999999996" text-anchor="middle" fill="#333" stroke="#333" stroke-width="0.3" transform="translate(356.30 277.60)">10⁵</text>
<line x1="298.00" y1="271.20" x2="298.00" y2="272.20" stroke="#000" stroke-width="0.35"/>
<line x1="299.65" y1="271.20" x2="299.65" y2="272.20" stroke="#000" stroke-width="0.35"/>
<line x1="301.30" y1="271.20" x2="301.30" y2="272.20" stroke="#000" stroke-width="0.35"/>
<line x1="302.94" y1="271.20" x2="302.94" y2="272.20" stroke="#000" stroke-width="0.35"/>
<line x1="304.59" y1="271.20" x2="304.59" y2="272.20" stroke="#000" stroke-width="0.35"/>
<line x1="306.24" y1="271.20" x2="306.24" y2="272.20" stroke="#000" stroke-width="0.35"/>
<line x1="307.88" y1="271.20" x2="307.88" y2="272.20" stroke="#000" stroke-width="0.35"/>
<line x1="309.53" y1="271.20" x2="309.53" y2="272.20" stroke="#000" stroke-width="0.35"/>
<line x1="311.18" y1="271.20" x2="311.18" y2="272.20" stroke="#000" stroke-width="0.35"/>
<line x1="312.83" y1="271.20" x2="312.83" y2="272.20" stroke="#000" stroke-width="0.35"/>
<line x1="314.48" y1="271.20" x2="314.48" y2="272.20" stroke="#000" stroke-width="0.35"/>
<line x1="316.12" y1="271.20" x2="316.12" y2="272.20" stroke="#000" stroke-width="0.35"/>
<line x1="317.77" y1="271.20" x2="317.77" y2="272.20" stroke="#000" stroke-width="0.35"/>
<line x1="319.42" y1="271.20" x2="319.42" y2="272.20" stroke="#000" stroke-width="0.35"/>
<line x1="321.06" y1="271.20" x2="321.06" y2="272.20" stroke="#000" stroke-width="0.35"/>
<line x1="322.71" y1="271.20" x2="322.71" y2="272.20" stroke="#000" stroke-width="0.35"/>
<line x1="324.36" y1="271.20" x2="324.36" y2="272.20" stroke="#000" stroke-width="0.35"/>
<line x1="326.01" y1="271.20" x2="326.01" y2="272.20" stroke="#000" stroke-width="0.35"/>
<line x1="327.65" y1="271.20" x2="327.65" y2="272.20" stroke="#000" stroke-width="0.35"/>
<line x1="329.30" y1="271.20" x2="329.30" y2="272.20" stroke="#000" stroke-width="0.35"/>
<line x1="330.95" y1="271.20" x2="330.95" y2="272.20" stroke="#000" stroke-width="0.35"/>
<line x1="332.60" y1="271.20" x2="332.60" y2="272.20" stroke="#000" stroke-width="0.35"/>
<line x1="334.25" y1="271.20" x2="334.25" y2="272.20" stroke="#000" stroke-width="0.35"/>
<line x1="335.89" y1="271.20" x2="335.89" y2="272.20" stroke="#000" stroke-width="0.35"/>
<line x1="337.54" y1="271.20" x2="337.54" y2="272.20" stroke="#000" stroke-width="0.35"/>
<line x1="339.19" y1="271.20" x2="339.19" y2="272.20" stroke="#000" stroke-width="0.35"/>
<line x1="340.83" y1="271.20" x2="340.83" y2="272.20" stroke="#000" stroke-width="0.35"/>
<line x1="342.48" y1="271.20" x2="342.48" y2="272.20" stroke="#000" stroke-width="0.35"/>
<line x1="344.13" y1="271.20" x2="344.13" y2="272.20" stroke="#000" stroke-width="0.35"/>
<line x1="345.78" y1="271.20" x2="345.78" y2="272.20" stroke="#000" stroke-width="0.35"/>
<line x1="347.42" y1="271.20" x2="347.42" y2="272.20" stroke="#000" stroke-width="0.35"/>
<line x1="349.07" y1="271.20" x2="349.07" y2="272.20" stroke="#000" stroke-width="0.35"/>
<line x1="350.72" y1="271.20" x2="350.72" y2="272.20" stroke="#000" stroke-width="0.35"/>
<line x1="352.37" y1="271.20" x2="352.37" y2="272.20" stroke="#000" stroke-width="0.35"/>
<line x1="354.01" y1="271.20" x2="354.01" y2="272.20" stroke="#000" stroke-width="0.35"/>
<line x1="355.66" y1="271.20" x2="355.66" y2="272.20" stroke="#000" stroke-width="0.35"/>
<line x1="357.31" y1="271.20" x2="357.31" y2="272.20" stroke="#000" stroke-width="0.35"/>
<line x1="358.96" y1="271.20" x2="358.96" y2="272.20" stroke="#000" stroke-width="0.35"/>
<line x1="360.60" y1="271.20" x2="360.60" y2="272.20" stroke="#000" stroke-width="0.35"/>
<line x1="362.25" y1="271.20" x2="362.25" y2="272.20" stroke="#000" stroke-width="0.35"/>
<path d="M394.2 265.1a2.4 1.2 0 1 0 4.8 0a2.4 1.2 0 1 0 -4.8 0M392.7 259.7a1.9 1.4 0 1 0 3.8 0a1.9 1.4 0 1 0 -3.8 0M395.3 213.1a1.4 1.7 0 1 0 2.9 0a1.4 1.7 0 1 0 -2.9 0M391.7 214.6a2.0 2.1 0 1 0 3.9 0a2.0 2.1 0 1 0 -3.9 0M393.0 217.4a1.8 1.4 0 1 0 3.7 0a1.8 1.4 0 1 0 -3.7 0M392.0 255.8a2.2 1.7 0 1 0 4.4 0a2.2 1.7 0 1 0 -4.4 0M397.2 213.0a1.8 1.8 0 1 0 3.6 0a1.8 1.8 0 1 0 -3.6 0M391.8 232.4a1.4 2.1 0 1 0 2.7 0a1.4 2.1 0 1 0 -2.7 0M391.2 213.3a1.9 1.2 0 1 0 3.8 0a1.9 1.2 0 1 0 -3.8 0M397.1 220.5a1.9 1.2 0 1 0 3.9 0a1.9 1.2 0 1 0 -3.9 0M396.3 264.6a2.3 1.6 0 1 0 4.6 0a2.3 1.6 0 1 0 -4.6 0M394.6 237.6a1.6 1.8 0 1 0 3.1 0a1.6 1.8 0 1 0 -3.1 0M395.5 245.6a1.8 1.4 0 1 0 3.6 0a1.8 1.4 0 1 0 -3.6 0M392.0 233.3a1.8 1.5 0 1 0 3.5 0a1.8 1.5 0 1 0 -3.5 0M391.0 261.5a2.4 1.4 0 1 0 4.8 0a2.4 1.4 0 1 0 -4.8 0M390.3 242.4a1.6 2.1 0 1 0 3.1 0a1.6 2.1 0 1 0 -3.1 0M397.3 244.1a1.1 2.1 0 1 0 2.3 0a1.1 2.1 0 1 0 -2.3 0M392.2 256.9a1.8 1.4 0 1 0 3.5 0a1.8 1.4 0 1 0 -3.5 0M392.7 255.8a1.1 1.6 0 1 0 2.1 0a1.1 1.6 0 1 0 -2.1 0M395.6 222.2a1.9 1.2 0 1 0 3.8 0a1.9 1.2 0 1 0 -3.8 0M392.6 243.6a2.2 2.1 0 1 0 4.3 0a2.2 2.1 0 1 0 -4.3 0M392.0 240.8a2.2 1.6 0 1 0 4.4 0a2.2 1.6 0 1 0 -4.4 0M389.1 211.3a2.0 1.6 0 1 0 4.1 0a2.0 1.6 0 1 0 -4.1 0M392.6 226.0a1.9 1.4 0 1 0 3.8 0a1.9 1.4 0 1 0 -3.8 0M393.9 232.6a2.3 1.0 0 1 0 4.6 0a2.3 1.0 0 1 0 -4.6 0M387.8 238.6a1.9 1.4 0 1 0 3.8 0a1.9 1.4 0 1 0 -3.8 0M395.9 242.2a1.4 1.1 0 1 0 2.8 0a1.4 1.1 0 1 0 -2.8 0M397.5 212.6a1.5 1.1 0 1 0 3.0 0a1.5 1.1 0 1 0 -3.0 0M394.3 218.3a1.3 1.3 0 1 0 2.5 0a1.3 1.3 0 1 0 -2.5 0M395.6 261.0a1.7 1.2 0 1 0 3.3 0a1.7 1.2 0 1 0 -3.3 0M390.2 215.0a2.2 1.0 0 1 0 4.3 0a2.2 1.0 0 1 0 -4.3 0M396.8 245.4a2.2 1.0 0 1 0 4.4 0a2.2 1.0 0 1 0 -4.4 0M394.0 245.1a2.1 1.9 0 1 0 4.1 0a2.1 1.9 0 1 0 -4.1 0M397.0 240.6a1.3 1.3 0 1 0 2.7 0a1.3 1.3 0 1 0 -2.7 0M393.7 229.4a1.2 2.1 0 1 0 2.4 0a1.2 2.1 0 1 0 -2.4 0M395.1 230.5a1.1 1.6 0 1 0 2.2 0a1.1 1.6 0 1 0 -2.2 0M393.3 239.3a1.0 1.9 0 1 0 2.1 0a1.0 1.9 0 1 0 -2.1 0M392.6 266.2a1.9 2.2 0 1 0 3.8 0a1.9 2.2 0 1 0 -3.8 0M395.1 236.7a1.2 1.4 0 1 0 2.4 0a1.2 1.4 0 1 0 -2.4 0M391.1 218.4a2.1 1.0 0 1 0 4.3 0a2.1 1.0 0 1 0 -4.3 0M389.8 256.6a2.1 2.1 0 1 0 4.2 0a2.1 2.1 0 1 0 -4.2 0M396.5 235.7a1.5 2.0 0 1 0 3.0 0a1.5 2.0 0 1 0 -3.0 0M391.9 250.9a1.2 2.0 0 1 0 2.4 0a1.2 2.0 0 1 0 -2.4 0M392.9 238.1a2.0 2.0 0 1 0 4.0 0a2.0 2.0 0 1 0 -4.0 0M394.7 243.8a2.2 1.9 0 1 0 4.4 0a2.2 1.9 0 1 0 -4.4 0M392.8 244.9a1.9 1.2 0 1 0 3.8 0a1.9 1.2 0 1 0 -3.8 0M394.2 245.3a1.3 1.6 0 1 0 2.7 0a1.3 1.6 0 1 0 -2.7 0M394.7 212.5a1.2 1.7 0 1 0 2.4 0a1.2 1.7 0 1 0 -2.4 0M395.6 237.1a2.1 1.0 0 1 0 4.1 0a2.1 1.0 0 1 0 -4.1 0M390.1 213.7a2.0 2.0 0 1 0 3.9 0a2.0 2.0 0 1 0 -3.9 0M394.4 262.7a1.2 1.6 0 1 0 2.5 0a1.2 1.6 0 1 0 -2.5 0M391.6 214.2a2.3 1.5 0 1 0 4.5 0a2.3 1.5 0 1 0 -4.5 0M389.2 247.9a2.4 2.1 0 1 0 4.7 0a2.4 2.1 0 1 0 -4.7 0M389.4 226.0a2.3 2.0 0 1 0 4.5 0a2.3 2.0 0 1 0 -4.5 0M392.2 250.7a1.3 1.1 0 1 0 2.7 0a1.3 1.1 0 1 0 -2.7 0M391.5 214.9a1.4 1.0 0 1 0 2.8 0a1.4 1.0 0 1 0 -2.8 0M393.0 241.6a1.5 1.2 0 1 0 2.9 0a1.5 1.2 0 1 0 -2.9 0M394.8 239.9a1.6 1.4 0 1 0 3.2 0a1.6 1.4 0 1 0 -3.2 0M393.8 236.3a2.2 2.2 0 1 0 4.5 0a2.2 2.2 0 1 0 -4.5 0M391.7 245.6a1.1 2.1 0 1 0 2.1 0a1.1 2.1 0 1 0 -2.1 0M391.7 259.3a1.3 1.4 0 1 0 2.7 0a1.3 1.4 0 1 0 -2.7 0M393.8 258.7a1.1 2.2 0 1 0 2.1 0a1.1 2.2 0 1 0 -2.1 0M393.6 239.7a2.1 1.6 0 1 0 4.2 0a2.1 1.6 0 1 0 -4.2 0M392.3 262.5a1.5 1.5 0 1 0 3.0 0a1.5 1.5 0 1 0 -3.0 0M396.6 240.9a1.9 1.1 0 1 0 3.8 0a1.9 1.1 0 1 0 -3.8 0M390.9 228.3a2.1 1.8 0 1 0 4.3 0a2.1 1.8 0 1 0 -4.3 0M392.4 265.8a1.1 1.2 0 1 0 2.2 0a1.1 1.2 0 1 0 -2.2 0M394.8 241.2a2.1 1.3 0 1 0 4.2 0a2.1 1.3 0 1 0 -4.2 0M389.9 231.4a1.0 2.1 0 1 0 2.1 0a1.0 2.1 0 1 0 -2.1 0M394.4 233.9a1.4 1.3 0 1 0 2.8 0a1.4 1.3 0 1 0 -2.8 0M390.9 247.6a1.6 1.7 0 1 0 3.1 0a1.6 1.7 0 1 0 -3.1 0M387.1 256.7a1.6 2.1 0 1 0 3.1 0a1.6 2.1 0 1 0 -3.1 0M387.7 251.8a2.2 1.9 0 1 0 4.4 0a2.2 1.9 0 1 0 -4.4 0M391.4 253.9a1.7 1.8 0 1 0 3.5 0a1.7 1.8 0 1 0 -3.5 0M389.7 253.0a1.8 1.4 0 1 0 3.6 0a1.8 1.4 0 1 0 -3.6 0M391.8 222.0a1.5 2.2 0 1 0 3.0 0a1.5 2.2 0 1 0 -3.0 0M392.0 243.3a1.2 1.9 0 1 0 2.4 0a1.2 1.9 0 1 0 -2.4 0M392.2 263.8a1.8 1.4 0 1 0 3.7 0a1.8 1.4 0 1 0 -3.7 0M393.3 228.6a2.0 1.3 0 1 0 4.0 0a2.0 1.3 0 1 0 -4.0 0M392.0 259.1a1.5 1.8 0 1 0 3.0 0a1.5 1.8 0 1 0 -3.0 0M392.9 241.9a2.1 1.2 0 1 0 4.3 0a2.1 1.2 0 1 0 -4.3 0M393.7 214.1a1.7 1.2 0 1 0 3.4 0a1.7 1.2 0 1 0 -3.4 0M396.1 239.9a1.2 1.1 0 1 0 2.5 0a1.2 1.1 0 1 0 -2.5 0M395.4 238.5a1.4 1.5 0 1 0 2.7 0a1.4 1.5 0 1 0 -2.7 0M389.4 234.3a1.3 1.2 0 1 0 2.6 0a1.3 1.2 0 1 0 -2.6 0M395.4 218.7a1.1 1.1 0 1 0 2.1 0a1.1 1.1 0 1 0 -2.1 0M396.7 236.3a2.3 1.8 0 1 0 4.6 0a2.3 1.8 0 1 0 -4.6 0M395.8 247.7a1.6 1.9 0 1 0 3.2 0a1.6 1.9 0 1 0 -3.2 0M394.6 243.7a1.1 1.4 0 1 0 2.1 0a1.1 1.4 0 1 0 -2.1 0M397.8 235.2a1.2 2.1 0 1 0 2.4 0a1.2 2.1 0 1 0 -2.4 0M396.3 216.1a2.0 1.6 0 1 0 3.9 0a2.0 1.6 0 1 0 -3.9 0M391.1 257.6a2.3 2.1 0 1 0 4.7 0a2.3 2.1 0 1 0 -4.7 0M390.4 262.3a1.9 2.0 0 1 0 3.7 0a1.9 2.0 0 1 0 -3.7 0M394.5 244.8a1.4 1.7 0 1 0 2.8 0a1.4 1.7 0 1 0 -2.8 0M393.7 250.7a1.9 1.0 0 1 0 3.8 0a1.9 1.0 0 1 0 -3.8 0M391.9 221.0a1.4 2.0 0 1 0 2.9 0a1.4 2.0 0 1 0 -2.9 0M392.2 265.3a1.2 1.3 0 1 0 2.3 0a1.2 1.3 0 1 0 -2.3 0M393.5 224.3a2.1 1.8 0 1 0 4.2 0a2.1 1.8 0 1 0 -4.2 0M392.0 225.7a1.5 1.1 0 1 0 3.0 0a1.5 1.1 0 1 0 -3.0 0M397.7 240.3a1.3 1.2 0 1 0 2.6 0a1.3 1.2 0 1 0 -2.6 0M392.8 216.5a1.4 2.1 0 1 0 2.8 0a1.4 2.1 0 1 0 -2.8 0M394.8 225.4a1.0 2.1 0 1 0 2.0 0a1.0 2.1 0 1 0 -2.0 0M394.7 217.2a1.7 1.0 0 1 0 3.3 0a1.7 1.0 0 1 0 -3.3 0M390.2 258.1a1.4 2.0 0 1 0 2.9 0a1.4 2.0 0 1 0 -2.9 0M394.6 246.9a1.2 1.3 0 1 0 2.3 0a1.2 1.3 0 1 0 -2.3 0M392.2 246.8a1.6 1.2 0 1 0 3.2 0a1.6 1.2 0 1 0 -3.2 0M392.2 216.9a1.7 1.5 0 1 0 3.3 0a1.7 1.5 0 1 0 -3.3 0M391.7 223.8a1.5 1.3 0 1 0 3.0 0a1.5 1.3 0 1 0 -3.0 0M394.8 253.3a2.0 1.4 0 1 0 4.1 0a2.0 1.4 0 1 0 -4.1 0M395.4 227.1a1.4 1.1 0 1 0 2.8 0a1.4 1.1 0 1 0 -2.8 0M392.8 215.8a1.3 1.3 0 1 0 2.6 0a1.3 1.3 0 1 0 -2.6 0M396.5 257.7a1.4 2.2 0 1 0 2.7 0a1.4 2.2 0 1 0 -2.7 0M395.3 263.6a1.7 1.7 0 1 0 3.4 0a1.7 1.7 0 1 0 -3.4 0M392.6 260.2a1.6 1.9 0 1 0 3.2 0a1.6 1.9 0 1 0 -3.2 0M396.9 228.3a2.1 1.6 0 1 0 4.2 0a2.1 1.6 0 1 0 -4.2 0M393.4 240.6a1.7 1.2 0 1 0 3.5 0a1.7 1.2 0 1 0 -3.5 0M391.8 248.5a1.1 1.2 0 1 0 2.1 0a1.1 1.2 0 1 0 -2.1 0M393.1 263.3a1.8 1.3 0 1 0 3.5 0a1.8 1.3 0 1 0 -3.5 0M390.6 253.4a1.2 1.7 0 1 0 2.4 0a1.2 1.7 0 1 0 -2.4 0M391.9 228.8a2.0 1.6 0 1 0 3.9 0a2.0 1.6 0 1 0 -3.9 0M418.6 248.1a2.1 1.4 0 1 0 4.2 0a2.1 1.4 0 1 0 -4.2 0M403.2 255.8a1.1 1.1 0 1 0 2.3 0a1.1 1.1 0 1 0 -2.3 0M418.4 239.7a1.3 1.8 0 1 0 2.7 0a1.3 1.8 0 1 0 -2.7 0M410.5 259.8a2.2 1.9 0 1 0 4.4 0a2.2 1.9 0 1 0 -4.4 0M413.4 256.3a1.2 1.3 0 1 0 2.3 0a1.2 1.3 0 1 0 -2.3 0M419.2 245.8a1.1 1.7 0 1 0 2.2 0a1.1 1.7 0 1 0 -2.2 0M423.6 217.6a2.0 1.8 0 1 0 4.1 0a2.0 1.8 0 1 0 -4.1 0M389.0 248.5a2.1 1.2 0 1 0 4.2 0a2.1 1.2 0 1 0 -4.2 0M418.4 251.9a2.1 1.5 0 1 0 4.3 0a2.1 1.5 0 1 0 -4.3 0M414.2 242.6a1.5 1.5 0 1 0 3.0 0a1.5 1.5 0 1 0 -3.0 0M407.0 225.2a2.1 1.5 0 1 0 4.2 0a2.1 1.5 0 1 0 -4.2 0M394.9 239.8a1.8 1.6 0 1 0 3.7 0a1.8 1.6 0 1 0 -3.7 0M404.0 255.1a1.5 1.9 0 1 0 3.0 0a1.5 1.9 0 1 0 -3.0 0M423.2 242.4a1.8 1.4 0 1 0 3.6 0a1.8 1.4 0 1 0 -3.6 0M407.5 232.6a2.0 1.8 0 1 0 4.0 0a2.0 1.8 0 1 0 -4.0 0M411.5 239.4a1.5 1.9 0 1 0 3.1 0a1.5 1.9 0 1 0 -3.1 0M411.9 247.5a1.3 1.2 0 1 0 2.5 0a1.3 1.2 0 1 0 -2.5 0M412.1 246.4a1.1 1.1 0 1 0 2.2 0a1.1 1.1 0 1 0 -2.2 0M424.1 243.7a1.7 1.1 0 1 0 3.4 0a1.7 1.1 0 1 0 -3.4 0M415.3 249.7a1.7 1.9 0 1 0 3.4 0a1.7 1.9 0 1 0 -3.4 0M416.7 240.0a2.4 1.7 0 1 0 4.7 0a2.4 1.7 0 1 0 -4.7 0M429.5 223.7a1.3 1.5 0 1 0 2.5 0a1.3 1.5 0 1 0 -2.5 0M412.6 239.7a1.8 1.3 0 1 0 3.6 0a1.8 1.3 0 1 0 -3.6 0M402.3 252.4a1.8 1.4 0 1 0 3.6 0a1.8 1.4 0 1 0 -3.6 0M409.7 254.6a1.4 1.3 0 1 0 2.8 0a1.4 1.3 0 1 0 -2.8 0M410.7 261.2a1.9 1.6 0 1 0 3.8 0a1.9 1.6 0 1 0 -3.8 0M420.6 213.4a1.6 1.5 0 1 0 3.1 0a1.6 1.5 0 1 0 -3.1 0M410.7 246.0a1.7 1.7 0 1 0 3.3 0a1.7 1.7 0 1 0 -3.3 0M409.9 249.1a1.0 1.5 0 1 0 2.1 0a1.0 1.5 0 1 0 -2.1 0M419.4 254.6a1.8 1.6 0 1 0 3.7 0a1.8 1.6 0 1 0 -3.7 0M414.9 247.9a1.4 1.9 0 1 0 2.9 0a1.4 1.9 0 1 0 -2.9 0M425.5 245.3a1.8 1.4 0 1 0 3.6 0a1.8 1.4 0 1 0 -3.6 0M417.1 239.2a1.2 1.9 0 1 0 2.4 0a1.2 1.9 0 1 0 -2.4 0M409.3 253.8a1.1 1.6 0 1 0 2.3 0a1.1 1.6 0 1 0 -2.3 0M403.1 246.9a2.0 1.3 0 1 0 4.1 0a2.0 1.3 0 1 0 -4.1 0M424.1 244.0a1.3 1.7 0 1 0 2.5 0a1.3 1.7 0 1 0 -2.5 0M414.5 231.4a2.3 2.0 0 1 0 4.6 0a2.3 2.0 0 1 0 -4.6 0M410.9 247.2a2.4 1.1 0 1 0 4.8 0a2.4 1.1 0 1 0 -4.8 0M408.8 239.7a1.2 1.5 0 1 0 2.5 0a1.2 1.5 0 1 0 -2.5 0M403.5 247.8a1.4 1.4 0 1 0 2.8 0a1.4 1.4 0 1 0 -2.8 0M401.5 243.2a2.2 2.0 0 1 0 4.5 0a2.2 2.0 0 1 0 -4.5 0M410.0 247.3a2.0 1.4 0 1 0 4.0 0a2.0 1.4 0 1 0 -4.0 0M416.2 223.4a1.0 1.6 0 1 0 2.1 0a1.0 1.6 0 1 0 -2.1 0M415.6 242.8a1.1 1.7 0 1 0 2.2 0a1.1 1.7 0 1 0 -2.2 0M406.8 250.8a2.4 1.6 0 1 0 4.8 0a2.4 1.6 0 1 0 -4.8 0M425.2 224.3a1.6 1.3 0 1 0 3.3 0a1.6 1.3 0 1 0 -3.3 0M424.1 234.0a1.7 1.9 0 1 0 3.3 0a1.7 1.9 0 1 0 -3.3 0M422.0 250.4a2.1 1.0 0 1 0 4.2 0a2.1 1.0 0 1 0 -4.2 0M408.7 237.4a1.7 1.1 0 1 0 3.5 0a1.7 1.1 0 1 0 -3.5 0M417.6 240.0a1.7 1.6 0 1 0 3.3 0a1.7 1.6 0 1 0 -3.3 0M406.4 252.9a2.2 1.8 0 1 0 4.4 0a2.2 1.8 0 1 0 -4.4 0M402.1 246.5a2.3 1.5 0 1 0 4.5 0a2.3 1.5 0 1 0 -4.5 0M407.1 235.0a2.3 2.0 0 1 0 4.5 0a2.3 2.0 0 1 0 -4.5 0M406.0 222.2a1.5 1.3 0 1 0 3.1 0a1.5 1.3 0 1 0 -3.1 0M425.1 235.5a1.7 1.5 0 1 0 3.5 0a1.7 1.5 0 1 0 -3.5 0M423.8 239.4a1.2 1.6 0 1 0 2.5 0a1.2 1.6 0 1 0 -2.5 0M409.8 217.0a1.5 1.4 0 1 0 3.0 0a1.5 1.4 0 1 0 -3.0 0M409.9 241.4a2.0 1.5 0 1 0 3.9 0a2.0 1.5 0 1 0 -3.9 0M423.1 224.3a1.2 1.8 0 1 0 2.4 0a1.2 1.8 0 1 0 -2.4 0M414.0 247.2a1.1 1.8 0 1 0 2.3 0a1.1 1.8 0 1 0 -2.3 0M404.5 215.0a1.6 1.1 0 1 0 3.1 0a1.6 1.1 0 1 0 -3.1 0M421.8 231.8a1.3 1.9 0 1 0 2.5 0a1.3 1.9 0 1 0 -2.5 0M420.0 263.1a2.3 1.9 0 1 0 4.6 0a2.3 1.9 0 1 0 -4.6 0M417.5 235.5a1.0 1.7 0 1 0 2.0 0a1.0 1.7 0 1 0 -2.0 0M415.0 251.1a2.2 1.9 0 1 0 4.5 0a2.2 1.9 0 1 0 -4.5 0M423.8 248.6a1.4 1.9 0 1 0 2.8 0a1.4 1.9 0 1 0 -2.8 0M412.6 243.8a2.1 1.2 0 1 0 4.2 0a2.1 1.2 0 1 0 -4.2 0M408.1 247.6a1.3 1.4 0 1 0 2.7 0a1.3 1.4 0 1 0 -2.7 0M414.9 251.2a2.2 1.3 0 1 0 4.4 0a2.2 1.3 0 1 0 -4.4 0M426.3 213.9a2.2 2.0 0 1 0 4.4 0a2.2 2.0 0 1 0 -4.4 0M403.8 248.4a1.7 1.3 0 1 0 3.4 0a1.7 1.3 0 1 0 -3.4 0M415.4 256.5a1.0 1.3 0 1 0 2.1 0a1.0 1.3 0 1 0 -2.1 0M406.4 214.2a1.6 1.3 0 1 0 3.1 0a1.6 1.3 0 1 0 -3.1 0M417.2 249.0a2.1 1.8 0 1 0 4.2 0a2.1 1.8 0 1 0 -4.2 0M421.6 226.4a1.4 1.7 0 1 0 2.7 0a1.4 1.7 0 1 0 -2.7 0M420.0 244.1a2.0 1.8 0 1 0 4.0 0a2.0 1.8 0 1 0 -4.0 0M422.9 216.3a1.9 1.8 0 1 0 3.8 0a1.9 1.8 0 1 0 -3.8 0M408.9 222.4a2.0 1.2 0 1 0 4.0 0a2.0 1.2 0 1 0 -4.0 0M405.6 241.7a1.5 1.6 0 1 0 2.9 0a1.5 1.6 0 1 0 -2.9 0M405.8 241.4a2.2 1.7 0 1 0 4.3 0a2.2 1.7 0 1 0 -4.3 0M410.3 245.0a1.7 1.7 0 1 0 3.5 0a1.7 1.7 0 1 0 -3.5 0M422.0 247.5a1.2 1.5 0 1 0 2.5 0a1.2 1.5 0 1 0 -2.5 0M402.8 248.1a1.4 1.5 0 1 0 2.8 0a1.4 1.5 0 1 0 -2.8 0M416.9 260.2a1.2 1.8 0 1 0 2.4 0a1.2 1.8 0 1 0 -2.4 0M422.8 258.3a1.0 1.3 0 1 0 2.1 0a1.0 1.3 0 1 0 -2.1 0M423.5 248.3a1.8 2.0 0 1 0 3.6 0a1.8 2.0 0 1 0 -3.6 0M422.2 222.2a1.7 1.1 0 1 0 3.4 0a1.7 1.1 0 1 0 -3.4 0M413.4 246.7a1.9 1.5 0 1 0 3.8 0a1.9 1.5 0 1 0 -3.8 0M403.6 263.9a1.2 1.4 0 1 0 2.3 0a1.2 1.4 0 1 0 -2.3 0M409.4 244.3a1.5 1.4 0 1 0 3.1 0a1.5 1.4 0 1 0 -3.1 0M403.8 215.7a1.2 1.7 0 1 0 2.4 0a1.2 1.7 0 1 0 -2.4 0M424.3 248.6a2.2 1.5 0 1 0 4.5 0a2.2 1.5 0 1 0 -4.5 0M417.8 224.7a1.3 1.7 0 1 0 2.6 0a1.3 1.7 0 1 0 -2.6 0M403.9 263.3a1.9 1.5 0 1 0 3.8 0a1.9 1.5 0 1 0 -3.8 0M411.8 247.5a1.8 1.9 0 1 0 3.6 0a1.8 1.9 0 1 0 -3.6 0M421.9 249.8a2.2 1.4 0 1 0 4.3 0a2.2 1.4 0 1 0 -4.3 0M408.0 235.3a1.3 1.8 0 1 0 2.7 0a1.3 1.8 0 1 0 -2.7 0M414.8 239.7a1.5 1.7 0 1 0 3.0 0a1.5 1.7 0 1 0 -3.0 0M422.1 227.2a2.0 1.0 0 1 0 4.0 0a2.0 1.0 0 1 0 -4.0 0M408.1 231.8a1.4 1.1 0 1 0 2.9 0a1.4 1.1 0 1 0 -2.9 0M416.6 258.1a1.3 1.9 0 1 0 2.6 0a1.3 1.9 0 1 0 -2.6 0M400.8 239.5a1.9 1.1 0 1 0 3.8 0a1.9 1.1 0 1 0 -3.8 0M417.1 234.2a2.3 1.8 0 1 0 4.5 0a2.3 1.8 0 1 0 -4.5 0M420.6 257.5a1.7 1.8 0 1 0 3.3 0a1.7 1.8 0 1 0 -3.3 0M412.4 241.3a2.1 1.9 0 1 0 4.1 0a2.1 1.9 0 1 0 -4.1 0M423.9 221.5a1.2 1.3 0 1 0 2.5 0a1.2 1.3 0 1 0 -2.5 0M411.4 259.6a1.5 1.7 0 1 0 3.0 0a1.5 1.7 0 1 0 -3.0 0M429.2 211.5a1.9 1.6 0 1 0 3.7 0a1.9 1.6 0 1 0 -3.7 0M412.6 226.3a1.3 1.6 0 1 0 2.7 0a1.3 1.6 0 1 0 -2.7 0M407.4 250.2a2.1 1.9 0 1 0 4.3 0a2.1 1.9 0 1 0 -4.3 0" fill="none" stroke="#bc5050" stroke-width="0.55"/>
<path d="M401.2,208.4 L401.2,268.7 L446.6,268.7 L446.6,208.4" fill="none" stroke="#9fb4bc" stroke-width="0.8"/>
<line x1="382.60" y1="208.40" x2="382.60" y2="271.00" stroke="#000" stroke-width="0.9"/>
<line x1="382.10" y1="270.50" x2="448.60" y2="270.50" stroke="#000" stroke-width="0.9"/>
<line x1="381.40" y1="270.50" x2="382.60" y2="270.50" stroke="#000" stroke-width="0.4"/>
<line x1="381.40" y1="268.43" x2="382.60" y2="268.43" stroke="#000" stroke-width="0.4"/>
<line x1="381.40" y1="266.36" x2="382.60" y2="266.36" stroke="#000" stroke-width="0.4"/>
<line x1="381.40" y1="264.29" x2="382.60" y2="264.29" stroke="#000" stroke-width="0.4"/>
<line x1="381.40" y1="262.22" x2="382.60" y2="262.22" stroke="#000" stroke-width="0.4"/>
<line x1="381.40" y1="260.15" x2="382.60" y2="260.15" stroke="#000" stroke-width="0.4"/>
<line x1="381.40" y1="258.08" x2="382.60" y2="258.08" stroke="#000" stroke-width="0.4"/>
<line x1="381.40" y1="256.01" x2="382.60" y2="256.01" stroke="#000" stroke-width="0.4"/>
<line x1="381.40" y1="253.94" x2="382.60" y2="253.94" stroke="#000" stroke-width="0.4"/>
<line x1="381.40" y1="251.87" x2="382.60" y2="251.87" stroke="#000" stroke-width="0.4"/>
<line x1="381.40" y1="249.80" x2="382.60" y2="249.80" stroke="#000" stroke-width="0.4"/>
<line x1="381.40" y1="247.73" x2="382.60" y2="247.73" stroke="#000" stroke-width="0.4"/>
<line x1="381.40" y1="245.66" x2="382.60" y2="245.66" stroke="#000" stroke-width="0.4"/>
<line x1="381.40" y1="243.59" x2="382.60" y2="243.59" stroke="#000" stroke-width="0.4"/>
<line x1="381.40" y1="241.52" x2="382.60" y2="241.52" stroke="#000" stroke-width="0.4"/>
<line x1="381.40" y1="239.45" x2="382.60" y2="239.45" stroke="#000" stroke-width="0.4"/>
<line x1="381.40" y1="237.38" x2="382.60" y2="237.38" stroke="#000" stroke-width="0.4"/>
<line x1="381.40" y1="235.31" x2="382.60" y2="235.31" stroke="#000" stroke-width="0.4"/>
<line x1="381.40" y1="233.24" x2="382.60" y2="233.24" stroke="#000" stroke-width="0.4"/>
<line x1="381.40" y1="231.17" x2="382.60" y2="231.17" stroke="#000" stroke-width="0.4"/>
<line x1="381.40" y1="229.10" x2="382.60" y2="229.10" stroke="#000" stroke-width="0.4"/>
<line x1="381.40" y1="227.03" x2="382.60" y2="227.03" stroke="#000" stroke-width="0.4"/>
<line x1="381.40" y1="224.96" x2="382.60" y2="224.96" stroke="#000" stroke-width="0.4"/>
<line x1="381.40" y1="222.89" x2="382.60" y2="222.89" stroke="#000" stroke-width="0.4"/>
<line x1="381.40" y1="220.82" x2="382.60" y2="220.82" stroke="#000" stroke-width="0.4"/>
<line x1="381.40" y1="218.75" x2="382.60" y2="218.75" stroke="#000" stroke-width="0.4"/>
<line x1="381.40" y1="216.68" x2="382.60" y2="216.68" stroke="#000" stroke-width="0.4"/>
<line x1="381.40" y1="214.61" x2="382.60" y2="214.61" stroke="#000" stroke-width="0.4"/>
<line x1="381.40" y1="212.54" x2="382.60" y2="212.54" stroke="#000" stroke-width="0.4"/>
<line x1="381.40" y1="210.47" x2="382.60" y2="210.47" stroke="#000" stroke-width="0.4"/>
<line x1="381.40" y1="208.40" x2="382.60" y2="208.40" stroke="#000" stroke-width="0.4"/>
<line x1="380.60" y1="270.50" x2="382.60" y2="270.50" stroke="#000" stroke-width="0.6"/>
<text font-size="3.9" text-anchor="end" fill="#333" stroke="#333" stroke-width="0.3" transform="translate(380.30 271.90)">0</text>
<line x1="380.60" y1="258.48" x2="382.60" y2="258.48" stroke="#000" stroke-width="0.6"/>
<text font-size="3.9" text-anchor="end" fill="#333" stroke="#333" stroke-width="0.3" transform="translate(380.30 259.88)">50</text>
<line x1="380.60" y1="246.46" x2="382.60" y2="246.46" stroke="#000" stroke-width="0.6"/>
<text font-size="3.9" text-anchor="end" fill="#333" stroke="#333" stroke-width="0.3" transform="translate(380.30 247.86)">100</text>
<line x1="380.60" y1="234.44" x2="382.60" y2="234.44" stroke="#000" stroke-width="0.6"/>
<text font-size="3.9" text-anchor="end" fill="#333" stroke="#333" stroke-width="0.3" transform="translate(380.30 235.84)">150</text>
<line x1="380.60" y1="222.42" x2="382.60" y2="222.42" stroke="#000" stroke-width="0.6"/>
<text font-size="3.9" text-anchor="end" fill="#333" stroke="#333" stroke-width="0.3" transform="translate(380.30 223.82)">200</text>
<line x1="380.60" y1="210.40" x2="382.60" y2="210.40" stroke="#000" stroke-width="0.6"/>
<text font-size="3.9" text-anchor="end" fill="#333" stroke="#333" stroke-width="0.3" transform="translate(380.30 211.80)">250</text>
<line x1="385.60" y1="270.50" x2="385.60" y2="272.30" stroke="#000" stroke-width="0.6"/>
<text font-size="3.7049999999999996" text-anchor="middle" fill="#333" stroke="#333" stroke-width="0.3" transform="translate(385.60 277.20)">-10³</text>
<line x1="392.60" y1="270.50" x2="392.60" y2="272.30" stroke="#000" stroke-width="0.6"/>
<text font-size="3.7049999999999996" text-anchor="middle" fill="#333" stroke="#333" stroke-width="0.3" transform="translate(392.60 277.20)">0</text>
<line x1="397.30" y1="270.50" x2="397.30" y2="272.30" stroke="#000" stroke-width="0.6"/>
<text font-size="3.7049999999999996" text-anchor="middle" fill="#333" stroke="#333" stroke-width="0.3" transform="translate(397.30 277.20)">10³</text>
<line x1="412.80" y1="270.50" x2="412.80" y2="272.30" stroke="#000" stroke-width="0.6"/>
<text font-size="3.7049999999999996" text-anchor="middle" fill="#333" stroke="#333" stroke-width="0.3" transform="translate(412.80 277.20)">10³</text>
<line x1="426.80" y1="270.50" x2="426.80" y2="272.30" stroke="#000" stroke-width="0.6"/>
<text font-size="3.7049999999999996" text-anchor="middle" fill="#333" stroke="#333" stroke-width="0.3" transform="translate(426.80 277.20)">10⁴</text>
<line x1="440.90" y1="270.50" x2="440.90" y2="272.30" stroke="#000" stroke-width="0.6"/>
<text font-size="3.7049999999999996" text-anchor="middle" fill="#333" stroke="#333" stroke-width="0.3" transform="translate(440.90 277.20)">10⁵</text>
<line x1="382.60" y1="270.50" x2="382.60" y2="271.50" stroke="#000" stroke-width="0.35"/>
<line x1="384.25" y1="270.50" x2="384.25" y2="271.50" stroke="#000" stroke-width="0.35"/>
<line x1="385.90" y1="270.50" x2="385.90" y2="271.50" stroke="#000" stroke-width="0.35"/>
<line x1="387.55" y1="270.50" x2="387.55" y2="271.50" stroke="#000" stroke-width="0.35"/>
<line x1="389.20" y1="270.50" x2="389.20" y2="271.50" stroke="#000" stroke-width="0.35"/>
<line x1="390.85" y1="270.50" x2="390.85" y2="271.50" stroke="#000" stroke-width="0.35"/>
<line x1="392.50" y1="270.50" x2="392.50" y2="271.50" stroke="#000" stroke-width="0.35"/>
<line x1="394.15" y1="270.50" x2="394.15" y2="271.50" stroke="#000" stroke-width="0.35"/>
<line x1="395.80" y1="270.50" x2="395.80" y2="271.50" stroke="#000" stroke-width="0.35"/>
<line x1="397.45" y1="270.50" x2="397.45" y2="271.50" stroke="#000" stroke-width="0.35"/>
<line x1="399.10" y1="270.50" x2="399.10" y2="271.50" stroke="#000" stroke-width="0.35"/>
<line x1="400.75" y1="270.50" x2="400.75" y2="271.50" stroke="#000" stroke-width="0.35"/>
<line x1="402.40" y1="270.50" x2="402.40" y2="271.50" stroke="#000" stroke-width="0.35"/>
<line x1="404.05" y1="270.50" x2="404.05" y2="271.50" stroke="#000" stroke-width="0.35"/>
<line x1="405.70" y1="270.50" x2="405.70" y2="271.50" stroke="#000" stroke-width="0.35"/>
<line x1="407.35" y1="270.50" x2="407.35" y2="271.50" stroke="#000" stroke-width="0.35"/>
<line x1="409.00" y1="270.50" x2="409.00" y2="271.50" stroke="#000" stroke-width="0.35"/>
<line x1="410.65" y1="270.50" x2="410.65" y2="271.50" stroke="#000" stroke-width="0.35"/>
<line x1="412.30" y1="270.50" x2="412.30" y2="271.50" stroke="#000" stroke-width="0.35"/>
<line x1="413.95" y1="270.50" x2="413.95" y2="271.50" stroke="#000" stroke-width="0.35"/>
<line x1="415.60" y1="270.50" x2="415.60" y2="271.50" stroke="#000" stroke-width="0.35"/>
<line x1="417.25" y1="270.50" x2="417.25" y2="271.50" stroke="#000" stroke-width="0.35"/>
<line x1="418.90" y1="270.50" x2="418.90" y2="271.50" stroke="#000" stroke-width="0.35"/>
<line x1="420.55" y1="270.50" x2="420.55" y2="271.50" stroke="#000" stroke-width="0.35"/>
<line x1="422.20" y1="270.50" x2="422.20" y2="271.50" stroke="#000" stroke-width="0.35"/>
<line x1="423.85" y1="270.50" x2="423.85" y2="271.50" stroke="#000" stroke-width="0.35"/>
<line x1="425.50" y1="270.50" x2="425.50" y2="271.50" stroke="#000" stroke-width="0.35"/>
<line x1="427.15" y1="270.50" x2="427.15" y2="271.50" stroke="#000" stroke-width="0.35"/>
<line x1="428.80" y1="270.50" x2="428.80" y2="271.50" stroke="#000" stroke-width="0.35"/>
<line x1="430.45" y1="270.50" x2="430.45" y2="271.50" stroke="#000" stroke-width="0.35"/>
<line x1="432.10" y1="270.50" x2="432.10" y2="271.50" stroke="#000" stroke-width="0.35"/>
<line x1="433.75" y1="270.50" x2="433.75" y2="271.50" stroke="#000" stroke-width="0.35"/>
<line x1="435.40" y1="270.50" x2="435.40" y2="271.50" stroke="#000" stroke-width="0.35"/>
<line x1="437.05" y1="270.50" x2="437.05" y2="271.50" stroke="#000" stroke-width="0.35"/>
<line x1="438.70" y1="270.50" x2="438.70" y2="271.50" stroke="#000" stroke-width="0.35"/>
<line x1="440.35" y1="270.50" x2="440.35" y2="271.50" stroke="#000" stroke-width="0.35"/>
<line x1="442.00" y1="270.50" x2="442.00" y2="271.50" stroke="#000" stroke-width="0.35"/>
<line x1="443.65" y1="270.50" x2="443.65" y2="271.50" stroke="#000" stroke-width="0.35"/>
<line x1="445.30" y1="270.50" x2="445.30" y2="271.50" stroke="#000" stroke-width="0.35"/>
<line x1="446.95" y1="270.50" x2="446.95" y2="271.50" stroke="#000" stroke-width="0.35"/>
<text font-size="6.4" text-anchor="middle" fill="#1a1a1a" stroke="#1a1a1a" stroke-width="0.3" transform="translate(332.50 207.60)">Gate LSK</text>
<text font-size="6.4" text-anchor="middle" fill="#1a1a1a" stroke="#1a1a1a" stroke-width="0.3" transform="translate(416.40 206.20)">Gate LSK</text>
<text font-size="4.8" text-anchor="end" fill="#333" stroke="#333" stroke-width="0.3" transform="translate(361.40 212.80)">25.55 %</text>
<text font-size="4.8" text-anchor="end" fill="#333" stroke="#333" stroke-width="0.3" transform="translate(445.60 213.60)">50.82 %</text>
<text font-size="2.4" text-anchor="end" fill="#333" stroke="#333" stroke-width="0.3" transform="translate(360.60 268.40)">MΩ</text>
<text font-size="2.4" text-anchor="end" fill="#333" stroke="#333" stroke-width="0.3" transform="translate(445.00 267.80)">MΩ</text>
<text font-size="10.8" text-anchor="middle" fill="#1a1a1a" stroke="#1a1a1a" stroke-width="0.3" transform="translate(283.00 236.90) rotate(-90) scale(0.659 1)">DKO+<tspan font-style="italic">GFP</tspan></text>
<text font-size="10.58" text-anchor="middle" fill="#1a1a1a" stroke="#1a1a1a" stroke-width="0.3" transform="translate(372.50 237.20) rotate(-90) scale(0.676 1)">DKO+<tspan font-style="italic">Lck</tspan></text>
<line x1="286.60" y1="270.00" x2="286.60" y2="258.40" stroke="#000" stroke-width="0.9"/>
<path d="M286.60,256.00 L287.85,258.40 L285.35,258.40Z" fill="#000"/>
<text font-size="3.2" fill="#333" stroke="#333" stroke-width="0.3" transform="translate(289.80 254.50) rotate(-90)">SSC</text>
<line x1="300.00" y1="281.20" x2="310.00" y2="281.20" stroke="#000" stroke-width="0.9"/>
<path d="M312.60,281.20 L310.00,282.55 L310.00,279.85Z" fill="#000"/>
<text font-size="5.6" fill="#1a1a1a" stroke="#1a1a1a" stroke-width="0.3" transform="translate(313.90 283.20)">EdU</text>
<line x1="474.80" y1="215.40" x2="474.80" y2="259.40" stroke="#000" stroke-width="1"/>
<line x1="474.80" y1="263.90" x2="474.80" y2="268.80" stroke="#000" stroke-width="1"/>
<line x1="472.60" y1="259.40" x2="474.80" y2="259.40" stroke="#000" stroke-width="1"/>
<line x1="472.60" y1="263.90" x2="474.80" y2="263.90" stroke="#000" stroke-width="1"/>
<line x1="474.30" y1="268.30" x2="511.20" y2="268.30" stroke="#000" stroke-width="1"/>
<line x1="472.30" y1="259.40" x2="474.80" y2="259.40" stroke="#000" stroke-width="1"/>
<text font-size="6.9" text-anchor="end" fill="#1a1a1a" stroke="#1a1a1a" stroke-width="0.3" transform="translate(471.20 261.80) scale(0.87 1)">20</text>
<line x1="472.30" y1="248.52" x2="474.80" y2="248.52" stroke="#000" stroke-width="1"/>
<text font-size="6.9" text-anchor="end" fill="#1a1a1a" stroke="#1a1a1a" stroke-width="0.3" transform="translate(471.20 250.92) scale(0.87 1)">30</text>
<line x1="472.30" y1="237.65" x2="474.80" y2="237.65" stroke="#000" stroke-width="1"/>
<text font-size="6.9" text-anchor="end" fill="#1a1a1a" stroke="#1a1a1a" stroke-width="0.3" transform="translate(471.20 240.05) scale(0.87 1)">40</text>
<line x1="472.30" y1="226.78" x2="474.80" y2="226.78" stroke="#000" stroke-width="1"/>
<text font-size="6.9" text-anchor="end" fill="#1a1a1a" stroke="#1a1a1a" stroke-width="0.3" transform="translate(471.20 229.18) scale(0.87 1)">50</text>
<line x1="472.30" y1="215.90" x2="474.80" y2="215.90" stroke="#000" stroke-width="1"/>
<text font-size="6.9" text-anchor="end" fill="#1a1a1a" stroke="#1a1a1a" stroke-width="0.3" transform="translate(471.20 218.30) scale(0.87 1)">60</text>
<text font-size="6.9" text-anchor="end" fill="#1a1a1a" stroke="#1a1a1a" stroke-width="0.3" transform="translate(471.20 266.30) scale(0.87 1)">20</text>
<text font-size="6.9" text-anchor="end" fill="#1a1a1a" stroke="#1a1a1a" stroke-width="0.3" transform="translate(471.20 270.70) scale(0.87 1)">0</text>
<rect x="477.70" y="243.09" width="12.00" height="16.31" fill="#145389"/>
<rect x="477.70" y="264.20" width="12.00" height="4.10" fill="#145389"/>
<rect x="496.00" y="228.41" width="11.90" height="30.99" fill="#3cb44a"/>
<rect x="496.00" y="264.20" width="11.90" height="4.10" fill="#3cb44a"/>
<circle cx="483.70" cy="231.12" r="0.75" fill="#000"/>
<circle cx="481.70" cy="233.30" r="0.75" fill="#000"/>
<circle cx="485.70" cy="233.84" r="0.75" fill="#000"/>
<circle cx="483.70" cy="236.56" r="0.75" fill="#000"/>
<circle cx="481.70" cy="245.26" r="0.75" fill="#000"/>
<circle cx="485.70" cy="248.52" r="0.75" fill="#000"/>
<circle cx="481.70" cy="251.79" r="0.75" fill="#000"/>
<circle cx="485.70" cy="252.33" r="0.75" fill="#000"/>
<circle cx="502.00" cy="223.51" r="0.75" fill="#000"/>
<circle cx="499.00" cy="225.69" r="0.75" fill="#000"/>
<circle cx="505.00" cy="226.23" r="0.75" fill="#000"/>
<circle cx="501.00" cy="226.78" r="0.75" fill="#000"/>
<circle cx="503.00" cy="227.64" r="0.75" fill="#000"/>
<circle cx="499.00" cy="228.30" r="0.75" fill="#000"/>
<circle cx="505.00" cy="228.95" r="0.75" fill="#000"/>
<circle cx="502.00" cy="230.04" r="0.75" fill="#000"/>
<circle cx="500.00" cy="231.12" r="0.75" fill="#000"/>
<circle cx="504.00" cy="232.00" r="0.75" fill="#000"/>
<line x1="483.70" y1="239.82" x2="483.70" y2="246.35" stroke="#000" stroke-width="1.1"/>
<line x1="481.10" y1="239.82" x2="486.30" y2="239.82" stroke="#000" stroke-width="1.1"/>
<line x1="481.10" y1="246.35" x2="486.30" y2="246.35" stroke="#000" stroke-width="1.1"/>
<line x1="502.00" y1="227.32" x2="502.00" y2="229.49" stroke="#000" stroke-width="1.1"/>
<line x1="499.40" y1="227.32" x2="504.60" y2="227.32" stroke="#000" stroke-width="1.1"/>
<line x1="499.40" y1="229.49" x2="504.60" y2="229.49" stroke="#000" stroke-width="1.1"/>
<line x1="485.00" y1="218.70" x2="502.60" y2="218.70" stroke="#6a6a6a" stroke-width="0.9"/>
<text font-size="5.2" text-anchor="middle" fill="#444" stroke="#444" stroke-width="0.3" transform="translate(493.80 217.10)"><tspan font-style="italic">p</tspan>&lt;0.01</text>
<text font-size="10.26" text-anchor="middle" fill="#1a1a1a" stroke="#1a1a1a" stroke-width="0.3" transform="translate(459.20 238.55) rotate(-90) scale(0.606 1)">EdU% in LSK</text>
<text font-size="10.5" font-weight="bold" fill="#000" transform="translate(279.00 293.60) scale(1.1 1)">K</text>
<rect x="300.00" y="287.40" width="66.90" height="66.60" fill="#040604"/>
<path d="M300.8 294.9h1.0v1.0h-1.0zM309.4 290.3h1.0v1.0h-1.0zM335.8 334.8h1.0v1.0h-1.0zM309.9 336.7h1.0v1.0h-1.0zM309.1 323.1h1.0v1.0h-1.0zM306.2 288.8h1.0v1.0h-1.0zM322.8 301.1h1.0v1.0h-1.0zM324.4 351.0h1.0v1.0h-1.0zM304.0 290.8h1.0v1.0h-1.0zM323.8 301.0h1.0v1.0h-1.0zM302.0 336.4h1.0v1.0h-1.0zM343.6 301.9h1.0v1.0h-1.0zM348.8 300.3h1.0v1.0h-1.0zM332.3 304.9h1.0v1.0h-1.0zM322.4 313.8h1.0v1.0h-1.0zM364.3 352.4h1.0v1.0h-1.0zM352.8 307.8h1.0v1.0h-1.0zM337.5 349.7h1.0v1.0h-1.0zM325.1 351.1h1.0v1.0h-1.0zM319.1 307.8h1.0v1.0h-1.0zM307.6 300.9h1.0v1.0h-1.0zM347.8 305.2h1.0v1.0h-1.0zM364.3 300.8h1.0v1.0h-1.0zM347.7 344.3h1.0v1.0h-1.0zM332.8 326.7h1.0v1.0h-1.0zM346.4 352.2h1.0v1.0h-1.0zM317.0 338.4h1.0v1.0h-1.0zM323.3 288.1h1.0v1.0h-1.0zM339.0 317.1h1.0v1.0h-1.0zM303.3 328.3h1.0v1.0h-1.0zM352.8 350.4h1.0v1.0h-1.0zM330.9 335.2h1.0v1.0h-1.0zM352.4 337.0h1.0v1.0h-1.0zM346.2 326.0h1.0v1.0h-1.0zM302.8 331.9h1.0v1.0h-1.0zM313.9 303.8h1.0v1.0h-1.0zM313.7 346.7h1.0v1.0h-1.0zM336.2 303.6h1.0v1.0h-1.0zM349.2 342.5h1.0v1.0h-1.0zM331.6 342.5h1.0v1.0h-1.0zM317.3 300.9h1.0v1.0h-1.0zM314.1 289.6h1.0v1.0h-1.0zM325.7 300.6h1.0v1.0h-1.0zM321.5 307.2h1.0v1.0h-1.0zM307.5 301.8h1.0v1.0h-1.0zM359.2 333.6h1.0v1.0h-1.0zM330.2 330.8h1.0v1.0h-1.0zM327.9 291.9h1.0v1.0h-1.0zM319.9 319.0h1.0v1.0h-1.0zM365.6 305.9h1.0v1.0h-1.0zM350.7 307.4h1.0v1.0h-1.0zM338.8 314.3h1.0v1.0h-1.0zM332.9 307.8h1.0v1.0h-1.0zM334.7 344.6h1.0v1.0h-1.0zM352.9 313.9h1.0v1.0h-1.0zM337.1 302.2h1.0v1.0h-1.0zM303.2 325.4h1.0v1.0h-1.0zM303.2 351.0h1.0v1.0h-1.0zM304.1 303.9h1.0v1.0h-1.0zM350.9 315.9h1.0v1.0h-1.0zM320.7 340.6h1.0v1.0h-1.0zM309.5 288.9h1.0v1.0h-1.0zM329.4 319.4h1.0v1.0h-1.0zM344.6 287.6h1.0v1.0h-1.0zM326.0 315.2h1.0v1.0h-1.0zM345.8 343.3h1.0v1.0h-1.0zM359.1 314.8h1.0v1.0h-1.0zM317.2 293.5h1.0v1.0h-1.0zM309.2 326.4h1.0v1.0h-1.0zM308.4 312.8h1.0v1.0h-1.0zM318.4 310.1h1.0v1.0h-1.0zM329.5 332.0h1.0v1.0h-1.0zM304.6 330.8h1.0v1.0h-1.0zM354.4 351.7h1.0v1.0h-1.0zM350.4 294.6h1.0v1.0h-1.0zM317.8 339.3h1.0v1.0h-1.0zM313.2 321.3h1.0v1.0h-1.0zM353.5 323.5h1.0v1.0h-1.0zM331.9 296.9h1.0v1.0h-1.0zM321.5 344.1h1.0v1.0h-1.0zM336.7 338.9h1.0v1.0h-1.0zM346.2 343.6h1.0v1.0h-1.0zM336.9 326.8h1.0v1.0h-1.0zM317.6 323.7h1.0v1.0h-1.0zM365.2 304.6h1.0v1.0h-1.0zM343.2 298.6h1.0v1.0h-1.0zM331.8 323.0h1.0v1.0h-1.0zM328.5 351.8h1.0v1.0h-1.0zM323.8 313.3h1.0v1.0h-1.0zM355.1 309.8h1.0v1.0h-1.0zM324.9 338.2h1.0v1.0h-1.0zM332.3 307.9h1.0v1.0h-1.0zM333.2 350.2h1.0v1.0h-1.0zM319.4 298.6h1.0v1.0h-1.0zM301.3 290.8h1.0v1.0h-1.0zM337.9 303.2h1.0v1.0h-1.0zM327.7 307.2h1.0v1.0h-1.0zM364.4 314.0h1.0v1.0h-1.0zM319.7 330.7h1.0v1.0h-1.0zM305.0 297.0h1.0v1.0h-1.0zM357.7 334.4h1.0v1.0h-1.0zM327.6 335.2h1.0v1.0h-1.0zM316.1 301.7h1.0v1.0h-1.0zM309.9 333.4h1.0v1.0h-1.0zM360.1 306.1h1.0v1.0h-1.0zM332.8 310.3h1.0v1.0h-1.0zM319.3 334.0h1.0v1.0h-1.0zM318.6 311.2h1.0v1.0h-1.0zM364.8 318.4h1.0v1.0h-1.0zM365.6 290.2h1.0v1.0h-1.0zM363.6 318.8h1.0v1.0h-1.0zM334.2 334.1h1.0v1.0h-1.0zM301.8 303.4h1.0v1.0h-1.0zM365.4 350.2h1.0v1.0h-1.0zM350.4 313.8h1.0v1.0h-1.0zM316.3 299.8h1.0v1.0h-1.0zM335.8 310.2h1.0v1.0h-1.0zM362.8 333.7h1.0v1.0h-1.0zM301.7 313.8h1.0v1.0h-1.0zM331.1 324.5h1.0v1.0h-1.0zM307.8 321.2h1.0v1.0h-1.0zM351.7 349.5h1.0v1.0h-1.0zM304.8 312.1h1.0v1.0h-1.0zM340.5 312.2h1.0v1.0h-1.0zM307.9 304.3h1.0v1.0h-1.0zM304.6 301.8h1.0v1.0h-1.0zM320.4 316.7h1.0v1.0h-1.0zM325.5 345.3h1.0v1.0h-1.0zM302.2 300.6h1.0v1.0h-1.0zM307.9 324.6h1.0v1.0h-1.0zM304.3 343.3h1.0v1.0h-1.0zM325.2 342.7h1.0v1.0h-1.0zM321.8 342.1h1.0v1.0h-1.0zM334.9 342.3h1.0v1.0h-1.0zM334.7 328.9h1.0v1.0h-1.0zM338.0 345.7h1.0v1.0h-1.0zM325.0 337.6h1.0v1.0h-1.0zM340.4 313.7h1.0v1.0h-1.0zM306.5 324.7h1.0v1.0h-1.0zM324.1 348.0h1.0v1.0h-1.0zM307.7 296.3h1.0v1.0h-1.0zM345.4 343.4h1.0v1.0h-1.0zM347.1 310.2h1.0v1.0h-1.0zM344.8 313.9h1.0v1.0h-1.0zM354.2 322.1h1.0v1.0h-1.0zM314.1 308.5h1.0v1.0h-1.0zM321.3 334.3h1.0v1.0h-1.0zM336.4 350.0h1.0v1.0h-1.0zM337.4 335.2h1.0v1.0h-1.0zM322.5 338.3h1.0v1.0h-1.0zM321.2 322.0h1.0v1.0h-1.0zM359.1 309.1h1.0v1.0h-1.0zM363.6 335.5h1.0v1.0h-1.0zM302.1 329.3h1.0v1.0h-1.0zM339.8 337.2h1.0v1.0h-1.0zM327.2 334.4h1.0v1.0h-1.0zM329.1 308.8h1.0v1.0h-1.0zM307.1 342.6h1.0v1.0h-1.0zM315.2 293.0h1.0v1.0h-1.0zM335.7 332.9h1.0v1.0h-1.0zM336.6 303.3h1.0v1.0h-1.0zM318.8 343.5h1.0v1.0h-1.0zM348.7 343.4h1.0v1.0h-1.0zM337.2 343.7h1.0v1.0h-1.0zM343.0 311.6h1.0v1.0h-1.0zM350.2 330.1h1.0v1.0h-1.0zM342.9 338.9h1.0v1.0h-1.0zM319.2 318.3h1.0v1.0h-1.0zM322.6 307.9h1.0v1.0h-1.0zM333.7 294.4h1.0v1.0h-1.0zM321.7 341.8h1.0v1.0h-1.0zM300.3 312.3h1.0v1.0h-1.0zM304.8 316.0h1.0v1.0h-1.0zM335.0 301.4h1.0v1.0h-1.0zM363.9 311.1h1.0v1.0h-1.0zM362.4 320.2h1.0v1.0h-1.0zM319.9 303.1h1.0v1.0h-1.0zM351.0 309.3h1.0v1.0h-1.0zM309.8 312.5h1.0v1.0h-1.0zM315.1 301.2h1.0v1.0h-1.0zM324.9 307.0h1.0v1.0h-1.0zM352.3 304.7h1.0v1.0h-1.0zM325.2 300.8h1.0v1.0h-1.0zM328.6 300.8h1.0v1.0h-1.0zM347.4 303.0h1.0v1.0h-1.0zM351.7 306.1h1.0v1.0h-1.0zM325.8 302.1h1.0v1.0h-1.0zM316.7 303.7h1.0v1.0h-1.0zM319.0 306.6h1.0v1.0h-1.0zM354.1 306.6h1.0v1.0h-1.0z" fill="#0f3d12"/>
<path d="M335.2 301.0h1.0v1.0h-1.0zM348.4 315.1h1.0v1.0h-1.0zM306.3 300.2h1.0v1.0h-1.0zM329.7 339.9h1.0v1.0h-1.0zM303.9 328.1h1.0v1.0h-1.0zM318.6 312.2h1.0v1.0h-1.0zM332.5 340.5h1.0v1.0h-1.0zM308.8 325.2h1.0v1.0h-1.0zM346.1 324.3h1.0v1.0h-1.0zM346.5 322.3h1.0v1.0h-1.0zM326.9 322.3h1.0v1.0h-1.0zM321.8 312.1h1.0v1.0h-1.0zM316.0 296.9h1.0v1.0h-1.0zM351.4 344.0h1.0v1.0h-1.0zM347.4 288.8h1.0v1.0h-1.0zM318.3 294.6h1.0v1.0h-1.0zM315.1 344.8h1.0v1.0h-1.0zM357.5 291.2h1.0v1.0h-1.0zM326.2 345.3h1.0v1.0h-1.0zM309.1 351.7h1.0v1.0h-1.0zM360.9 315.9h1.0v1.0h-1.0zM351.8 342.9h1.0v1.0h-1.0zM332.3 291.5h1.0v1.0h-1.0zM339.8 323.5h1.0v1.0h-1.0zM330.8 296.3h1.0v1.0h-1.0zM347.4 336.6h1.0v1.0h-1.0zM352.6 292.1h1.0v1.0h-1.0zM304.4 314.3h1.0v1.0h-1.0zM321.8 304.0h1.0v1.0h-1.0zM331.6 339.1h1.0v1.0h-1.0zM365.3 334.8h1.0v1.0h-1.0zM313.4 315.0h1.0v1.0h-1.0zM335.7 322.7h1.0v1.0h-1.0zM332.9 322.4h1.0v1.0h-1.0zM330.3 298.0h1.0v1.0h-1.0zM364.0 295.9h1.0v1.0h-1.0zM306.8 290.9h1.0v1.0h-1.0zM358.1 345.8h1.0v1.0h-1.0zM352.6 346.6h1.0v1.0h-1.0zM346.6 342.6h1.0v1.0h-1.0zM303.8 348.6h1.0v1.0h-1.0zM346.2 313.5h1.0v1.0h-1.0zM323.0 340.3h1.0v1.0h-1.0zM346.6 332.9h1.0v1.0h-1.0zM334.9 344.4h1.0v1.0h-1.0zM323.7 321.0h1.0v1.0h-1.0zM339.5 329.3h1.0v1.0h-1.0zM325.7 316.3h1.0v1.0h-1.0zM328.0 353.0h1.0v1.0h-1.0zM349.0 345.2h1.0v1.0h-1.0zM339.6 298.5h1.0v1.0h-1.0zM336.8 332.2h1.0v1.0h-1.0zM354.8 333.5h1.0v1.0h-1.0zM363.5 315.6h1.0v1.0h-1.0zM351.7 300.6h1.0v1.0h-1.0zM324.1 307.7h1.0v1.0h-1.0zM365.0 316.7h1.0v1.0h-1.0zM310.9 308.0h1.0v1.0h-1.0zM357.3 315.3h1.0v1.0h-1.0zM313.8 307.2h1.0v1.0h-1.0zM328.9 294.6h1.0v1.0h-1.0zM306.9 313.2h1.0v1.0h-1.0zM344.1 301.0h1.0v1.0h-1.0zM346.5 295.3h1.0v1.0h-1.0zM333.8 300.7h1.0v1.0h-1.0zM356.8 309.3h1.0v1.0h-1.0zM356.1 309.4h1.0v1.0h-1.0zM325.7 302.6h1.0v1.0h-1.0zM351.5 297.5h1.0v1.0h-1.0zM364.1 325.1h1.0v1.0h-1.0zM304.9 300.8h1.0v1.0h-1.0zM362.9 315.4h1.0v1.0h-1.0zM301.0 313.9h1.0v1.0h-1.0zM335.9 302.4h1.0v1.0h-1.0zM359.1 313.6h1.0v1.0h-1.0zM345.2 297.4h1.0v1.0h-1.0zM305.5 310.8h1.0v1.0h-1.0zM360.8 311.1h1.0v1.0h-1.0zM364.4 328.0h1.0v1.0h-1.0zM340.1 298.8h1.0v1.0h-1.0zM321.7 300.6h1.0v1.0h-1.0zM363.5 314.1h1.0v1.0h-1.0zM301.1 316.9h1.0v1.0h-1.0zM309.1 306.1h1.0v1.0h-1.0zM355.8 316.8h1.0v1.0h-1.0zM326.7 300.2h1.0v1.0h-1.0zM335.5 297.5h1.0v1.0h-1.0zM301.1 315.9h1.0v1.0h-1.0zM351.6 302.4h1.0v1.0h-1.0zM317.4 300.9h1.0v1.0h-1.0zM357.0 313.3h1.0v1.0h-1.0zM332.7 296.6h1.0v1.0h-1.0zM315.8 302.5h1.0v1.0h-1.0zM303.2 308.2h1.0v1.0h-1.0zM308.6 306.8h1.0v1.0h-1.0zM362.2 308.8h1.0v1.0h-1.0zM362.2 311.4h1.0v1.0h-1.0zM316.6 306.7h1.0v1.0h-1.0zM335.2 299.0h1.0v1.0h-1.0zM362.2 327.1h1.0v1.0h-1.0zM365.7 315.7h1.0v1.0h-1.0zM363.4 313.2h1.0v1.0h-1.0zM363.5 318.6h1.0v1.0h-1.0zM364.3 323.7h1.0v1.0h-1.0zM362.2 319.3h1.0v1.0h-1.0zM364.1 314.4h1.0v1.0h-1.0zM323.1 308.6h1.0v1.0h-1.0zM335.8 318.7h1.0v1.0h-1.0zM364.3 299.6h1.0v1.0h-1.0zM347.2 306.0h1.0v1.0h-1.0zM342.5 320.0h1.0v1.0h-1.0zM345.2 317.7h1.0v1.0h-1.0zM332.9 303.2h1.0v1.0h-1.0zM323.3 310.9h1.0v1.0h-1.0z" fill="#1b6e1e"/>
<path d="M309.4 308.4h1.15v1.15h-1.15zM365.3 320.7h1.15v1.15h-1.15zM363.7 329.3h1.15v1.15h-1.15zM302.4 323.6h1.15v1.15h-1.15zM304.4 310.4h1.15v1.15h-1.15zM303.6 309.7h1.15v1.15h-1.15zM337.0 297.1h1.15v1.15h-1.15zM358.1 304.7h1.15v1.15h-1.15zM338.3 301.3h1.15v1.15h-1.15zM303.7 311.4h1.15v1.15h-1.15zM353.9 303.7h1.15v1.15h-1.15zM364.9 316.3h1.15v1.15h-1.15zM326.1 290.6h1.15v1.15h-1.15zM339.3 304.2h1.15v1.15h-1.15zM365.0 320.1h1.15v1.15h-1.15zM347.0 300.3h1.15v1.15h-1.15zM334.1 298.6h1.15v1.15h-1.15zM356.7 307.0h1.15v1.15h-1.15zM364.6 311.5h1.15v1.15h-1.15zM357.4 310.1h1.15v1.15h-1.15zM300.3 325.5h1.15v1.15h-1.15zM350.3 299.0h1.15v1.15h-1.15zM302.1 314.6h1.15v1.15h-1.15zM307.2 303.9h1.15v1.15h-1.15zM305.2 303.7h1.15v1.15h-1.15zM308.4 304.2h1.15v1.15h-1.15zM307.1 303.9h1.15v1.15h-1.15zM304.7 302.2h1.15v1.15h-1.15zM306.0 301.9h1.15v1.15h-1.15zM304.3 305.1h1.15v1.15h-1.15zM302.5 312.7h1.15v1.15h-1.15zM309.2 306.8h1.15v1.15h-1.15zM304.8 307.4h1.15v1.15h-1.15zM363.5 325.1h1.15v1.15h-1.15zM361.0 319.1h1.15v1.15h-1.15zM364.0 321.3h1.15v1.15h-1.15zM363.4 310.9h1.15v1.15h-1.15zM362.1 322.4h1.15v1.15h-1.15zM361.8 323.7h1.15v1.15h-1.15zM362.5 322.5h1.15v1.15h-1.15zM364.5 319.1h1.15v1.15h-1.15zM364.0 322.2h1.15v1.15h-1.15zM339.5 314.8h1.15v1.15h-1.15zM342.8 317.2h1.15v1.15h-1.15zM323.7 304.7h1.15v1.15h-1.15zM341.2 312.5h1.15v1.15h-1.15zM332.1 307.5h1.15v1.15h-1.15zM335.1 314.6h1.15v1.15h-1.15zM331.2 316.8h1.15v1.15h-1.15zM334.9 320.7h1.15v1.15h-1.15zM358.3 318.1h1.15v1.15h-1.15zM342.5 312.4h1.15v1.15h-1.15zM330.4 310.5h1.15v1.15h-1.15zM347.6 311.4h1.15v1.15h-1.15z" fill="#2ea232"/>
<path d="M307.1 302.4h1.15v1.15h-1.15zM302.7 304.1h1.15v1.15h-1.15zM302.9 304.1h1.15v1.15h-1.15zM309.6 305.2h1.15v1.15h-1.15zM309.9 307.5h1.15v1.15h-1.15zM304.0 302.7h1.15v1.15h-1.15zM305.9 300.1h1.15v1.15h-1.15zM308.8 301.2h1.15v1.15h-1.15zM308.2 305.2h1.15v1.15h-1.15zM305.3 302.2h1.15v1.15h-1.15zM306.6 301.4h1.15v1.15h-1.15zM303.1 307.1h1.15v1.15h-1.15zM304.5 307.4h1.15v1.15h-1.15zM304.0 306.0h1.15v1.15h-1.15zM303.5 311.4h1.15v1.15h-1.15zM304.9 306.3h1.15v1.15h-1.15zM362.3 321.4h1.15v1.15h-1.15zM363.8 313.9h1.15v1.15h-1.15zM360.5 314.7h1.15v1.15h-1.15zM362.3 316.3h1.15v1.15h-1.15zM364.0 319.9h1.15v1.15h-1.15zM360.6 313.9h1.15v1.15h-1.15zM361.4 323.2h1.15v1.15h-1.15zM333.5 323.0h1.15v1.15h-1.15zM331.0 328.0h1.15v1.15h-1.15zM350.0 333.0h1.15v1.15h-1.15zM345.0 340.0h1.15v1.15h-1.15zM339.0 290.0h1.15v1.15h-1.15zM325.0 305.0h1.15v1.15h-1.15zM312.0 323.0h1.15v1.15h-1.15z" fill="#46d046"/>
<rect x="380.30" y="286.30" width="67.30" height="67.30" fill="#040604"/>
<path d="M385.5 300.7h1.0v1.0h-1.0zM427.3 302.3h1.0v1.0h-1.0zM402.5 290.1h1.0v1.0h-1.0zM405.3 286.4h1.0v1.0h-1.0zM415.6 319.0h1.0v1.0h-1.0zM436.6 350.5h1.0v1.0h-1.0zM410.3 308.8h1.0v1.0h-1.0zM446.1 293.8h1.0v1.0h-1.0zM409.8 315.3h1.0v1.0h-1.0zM417.7 301.6h1.0v1.0h-1.0zM401.1 348.8h1.0v1.0h-1.0zM416.3 341.0h1.0v1.0h-1.0zM418.6 325.0h1.0v1.0h-1.0zM419.8 301.7h1.0v1.0h-1.0zM385.6 330.9h1.0v1.0h-1.0zM409.0 291.0h1.0v1.0h-1.0zM380.9 298.4h1.0v1.0h-1.0zM427.6 292.4h1.0v1.0h-1.0zM400.6 312.2h1.0v1.0h-1.0zM444.3 332.6h1.0v1.0h-1.0zM413.4 350.5h1.0v1.0h-1.0zM389.0 332.4h1.0v1.0h-1.0zM423.8 295.6h1.0v1.0h-1.0zM445.4 319.9h1.0v1.0h-1.0zM444.3 326.2h1.0v1.0h-1.0zM432.8 307.6h1.0v1.0h-1.0zM442.4 317.0h1.0v1.0h-1.0zM446.1 315.5h1.0v1.0h-1.0zM397.9 332.1h1.0v1.0h-1.0zM405.7 341.6h1.0v1.0h-1.0zM421.2 345.0h1.0v1.0h-1.0zM383.5 326.5h1.0v1.0h-1.0zM425.7 337.8h1.0v1.0h-1.0zM395.1 313.2h1.0v1.0h-1.0zM444.5 352.4h1.0v1.0h-1.0zM422.0 290.2h1.0v1.0h-1.0zM380.7 342.1h1.0v1.0h-1.0zM381.4 290.9h1.0v1.0h-1.0zM395.3 331.9h1.0v1.0h-1.0zM392.5 301.9h1.0v1.0h-1.0zM387.1 350.6h1.0v1.0h-1.0zM446.0 302.9h1.0v1.0h-1.0zM404.8 329.8h1.0v1.0h-1.0zM414.6 336.9h1.0v1.0h-1.0zM387.5 332.2h1.0v1.0h-1.0zM439.9 316.4h1.0v1.0h-1.0zM438.8 306.8h1.0v1.0h-1.0zM431.2 342.8h1.0v1.0h-1.0zM402.0 351.1h1.0v1.0h-1.0zM424.0 343.0h1.0v1.0h-1.0zM412.2 322.3h1.0v1.0h-1.0zM382.1 311.2h1.0v1.0h-1.0zM389.6 351.3h1.0v1.0h-1.0zM380.5 316.4h1.0v1.0h-1.0zM383.6 301.8h1.0v1.0h-1.0zM426.3 337.9h1.0v1.0h-1.0zM381.5 346.4h1.0v1.0h-1.0zM442.9 303.5h1.0v1.0h-1.0zM441.4 309.8h1.0v1.0h-1.0zM440.3 311.8h1.0v1.0h-1.0zM381.3 323.1h1.0v1.0h-1.0zM399.1 301.8h1.0v1.0h-1.0zM399.3 331.4h1.0v1.0h-1.0zM426.2 345.0h1.0v1.0h-1.0zM385.7 327.8h1.0v1.0h-1.0zM445.8 299.6h1.0v1.0h-1.0zM388.5 336.1h1.0v1.0h-1.0zM435.8 322.1h1.0v1.0h-1.0zM407.5 337.8h1.0v1.0h-1.0zM422.2 297.6h1.0v1.0h-1.0zM407.8 323.3h1.0v1.0h-1.0zM409.9 323.8h1.0v1.0h-1.0zM388.3 342.5h1.0v1.0h-1.0zM402.8 321.6h1.0v1.0h-1.0zM409.2 292.5h1.0v1.0h-1.0zM428.4 301.2h1.0v1.0h-1.0zM395.3 337.3h1.0v1.0h-1.0zM418.0 305.4h1.0v1.0h-1.0zM403.4 303.2h1.0v1.0h-1.0zM396.0 324.1h1.0v1.0h-1.0zM441.7 317.4h1.0v1.0h-1.0zM410.4 299.1h1.0v1.0h-1.0zM445.7 310.3h1.0v1.0h-1.0zM431.8 351.3h1.0v1.0h-1.0zM384.6 331.0h1.0v1.0h-1.0zM427.6 316.6h1.0v1.0h-1.0zM444.2 350.3h1.0v1.0h-1.0zM443.8 337.6h1.0v1.0h-1.0zM411.0 342.2h1.0v1.0h-1.0zM427.6 304.4h1.0v1.0h-1.0zM437.7 306.3h1.0v1.0h-1.0zM442.1 330.8h1.0v1.0h-1.0zM390.4 313.2h1.0v1.0h-1.0zM422.5 306.7h1.0v1.0h-1.0zM403.5 286.7h1.0v1.0h-1.0zM393.1 318.6h1.0v1.0h-1.0zM398.5 292.2h1.0v1.0h-1.0zM423.0 311.2h1.0v1.0h-1.0zM444.1 334.1h1.0v1.0h-1.0zM400.5 300.2h1.0v1.0h-1.0zM409.7 332.0h1.0v1.0h-1.0zM393.8 333.3h1.0v1.0h-1.0zM424.6 327.6h1.0v1.0h-1.0zM382.9 346.3h1.0v1.0h-1.0zM381.0 347.7h1.0v1.0h-1.0zM385.0 301.7h1.0v1.0h-1.0zM386.0 293.2h1.0v1.0h-1.0zM428.7 287.0h1.0v1.0h-1.0zM422.0 346.2h1.0v1.0h-1.0zM395.5 308.9h1.0v1.0h-1.0zM433.5 287.8h1.0v1.0h-1.0zM432.8 337.4h1.0v1.0h-1.0zM401.0 313.1h1.0v1.0h-1.0zM388.4 308.5h1.0v1.0h-1.0zM444.7 286.8h1.0v1.0h-1.0zM409.8 330.9h1.0v1.0h-1.0zM414.6 298.1h1.0v1.0h-1.0zM409.8 287.2h1.0v1.0h-1.0zM399.5 333.6h1.0v1.0h-1.0zM441.8 296.1h1.0v1.0h-1.0zM426.8 288.5h1.0v1.0h-1.0zM415.0 306.6h1.0v1.0h-1.0zM433.5 352.1h1.0v1.0h-1.0zM413.5 335.8h1.0v1.0h-1.0zM419.2 347.3h1.0v1.0h-1.0zM396.7 313.1h1.0v1.0h-1.0zM418.1 317.1h1.0v1.0h-1.0zM415.4 308.9h1.0v1.0h-1.0zM436.6 300.3h1.0v1.0h-1.0zM399.1 343.1h1.0v1.0h-1.0z" fill="#0f3d12"/>
<path d="M428.8 293.0h1.0v1.0h-1.0zM389.2 303.8h1.0v1.0h-1.0zM420.0 319.3h1.0v1.0h-1.0zM421.9 321.6h1.0v1.0h-1.0zM396.0 312.1h1.0v1.0h-1.0zM429.0 299.4h1.0v1.0h-1.0zM400.7 348.0h1.0v1.0h-1.0zM446.2 300.5h1.0v1.0h-1.0zM386.0 345.7h1.0v1.0h-1.0zM430.9 291.3h1.0v1.0h-1.0zM392.8 352.6h1.0v1.0h-1.0zM426.8 287.1h1.0v1.0h-1.0zM405.7 318.1h1.0v1.0h-1.0zM386.1 350.4h1.0v1.0h-1.0zM446.4 306.6h1.0v1.0h-1.0zM440.3 310.8h1.0v1.0h-1.0zM433.3 335.7h1.0v1.0h-1.0zM382.2 310.8h1.0v1.0h-1.0zM428.9 342.4h1.0v1.0h-1.0zM403.6 295.6h1.0v1.0h-1.0zM406.3 345.8h1.0v1.0h-1.0zM385.2 298.7h1.0v1.0h-1.0zM394.9 296.3h1.0v1.0h-1.0zM406.8 286.8h1.0v1.0h-1.0zM411.4 315.2h1.0v1.0h-1.0zM399.5 338.5h1.0v1.0h-1.0zM411.0 312.3h1.0v1.0h-1.0zM430.0 323.8h1.0v1.0h-1.0zM405.9 298.2h1.0v1.0h-1.0zM426.6 338.3h1.0v1.0h-1.0zM438.8 331.5h1.0v1.0h-1.0zM427.7 346.5h1.0v1.0h-1.0zM398.7 305.7h1.0v1.0h-1.0zM441.0 330.0h1.0v1.0h-1.0zM437.7 347.2h1.0v1.0h-1.0zM444.7 317.1h1.0v1.0h-1.0zM390.0 315.8h1.0v1.0h-1.0zM423.4 334.7h1.0v1.0h-1.0zM402.6 315.7h1.0v1.0h-1.0zM411.0 342.6h1.0v1.0h-1.0zM415.3 320.0h1.0v1.0h-1.0zM413.1 294.3h1.0v1.0h-1.0zM416.8 312.7h1.0v1.0h-1.0zM410.5 302.4h1.0v1.0h-1.0zM416.7 343.1h1.0v1.0h-1.0zM403.0 325.8h1.0v1.0h-1.0zM411.5 307.4h1.0v1.0h-1.0zM413.0 308.4h1.0v1.0h-1.0zM414.2 323.0h1.0v1.0h-1.0zM411.5 327.4h1.0v1.0h-1.0zM411.8 339.3h1.0v1.0h-1.0zM407.4 318.0h1.0v1.0h-1.0zM413.7 302.3h1.0v1.0h-1.0zM414.4 324.7h1.0v1.0h-1.0zM411.7 341.9h1.0v1.0h-1.0zM410.3 340.7h1.0v1.0h-1.0zM425.7 318.5h1.0v1.0h-1.0zM412.4 308.4h1.0v1.0h-1.0zM409.7 349.8h1.0v1.0h-1.0zM408.3 303.6h1.0v1.0h-1.0zM415.7 317.0h1.0v1.0h-1.0zM409.7 319.4h1.0v1.0h-1.0zM415.3 325.0h1.0v1.0h-1.0zM411.1 335.9h1.0v1.0h-1.0zM413.4 324.1h1.0v1.0h-1.0zM406.5 339.0h1.0v1.0h-1.0zM412.3 310.2h1.0v1.0h-1.0zM411.3 304.3h1.0v1.0h-1.0zM414.8 317.9h1.0v1.0h-1.0zM414.0 311.6h1.0v1.0h-1.0zM399.4 322.2h1.0v1.0h-1.0zM406.1 315.4h1.0v1.0h-1.0zM418.0 349.1h1.0v1.0h-1.0zM408.9 324.5h1.0v1.0h-1.0zM408.2 323.9h1.0v1.0h-1.0zM414.4 315.5h1.0v1.0h-1.0zM415.4 335.7h1.0v1.0h-1.0zM395.3 316.9h1.0v1.0h-1.0zM425.9 318.5h1.0v1.0h-1.0zM411.6 317.6h1.0v1.0h-1.0zM389.6 315.4h1.0v1.0h-1.0zM390.1 316.4h1.0v1.0h-1.0zM415.4 315.7h1.0v1.0h-1.0zM387.1 326.5h1.0v1.0h-1.0zM385.9 314.2h1.0v1.0h-1.0zM424.6 317.1h1.0v1.0h-1.0zM388.2 319.4h1.0v1.0h-1.0zM395.9 322.8h1.0v1.0h-1.0zM386.2 319.8h1.0v1.0h-1.0zM390.9 314.7h1.0v1.0h-1.0zM386.2 314.8h1.0v1.0h-1.0zM394.5 320.2h1.0v1.0h-1.0zM389.4 324.1h1.0v1.0h-1.0zM388.9 319.3h1.0v1.0h-1.0zM389.7 316.3h1.0v1.0h-1.0zM387.9 320.0h1.0v1.0h-1.0zM392.1 352.0h1.0v1.0h-1.0zM387.4 345.0h1.0v1.0h-1.0zM387.6 343.8h1.0v1.0h-1.0zM403.9 350.2h1.0v1.0h-1.0zM402.5 351.7h1.0v1.0h-1.0zM402.6 351.7h1.0v1.0h-1.0zM393.5 348.9h1.0v1.0h-1.0zM392.8 344.1h1.0v1.0h-1.0zM384.5 347.3h1.0v1.0h-1.0zM441.3 313.5h1.0v1.0h-1.0zM442.8 310.7h1.0v1.0h-1.0zM443.6 316.9h1.0v1.0h-1.0zM445.4 310.3h1.0v1.0h-1.0zM437.5 288.0h1.0v1.0h-1.0zM433.8 289.9h1.0v1.0h-1.0zM436.8 288.4h1.0v1.0h-1.0zM438.0 290.7h1.0v1.0h-1.0zM428.9 334.3h1.0v1.0h-1.0zM425.8 338.8h1.0v1.0h-1.0zM431.5 336.7h1.0v1.0h-1.0zM425.5 331.9h1.0v1.0h-1.0zM422.9 329.4h1.0v1.0h-1.0zM423.8 336.5h1.0v1.0h-1.0zM427.9 333.5h1.0v1.0h-1.0zM429.0 340.7h1.0v1.0h-1.0z" fill="#1b6e1e"/>
<path d="M415.4 306.2h1.15v1.15h-1.15zM408.0 297.1h1.15v1.15h-1.15zM411.0 328.5h1.15v1.15h-1.15zM414.5 316.0h1.15v1.15h-1.15zM414.0 323.4h1.15v1.15h-1.15zM408.0 344.1h1.15v1.15h-1.15zM416.6 292.2h1.15v1.15h-1.15zM400.8 306.4h1.15v1.15h-1.15zM404.0 305.9h1.15v1.15h-1.15zM410.1 333.0h1.15v1.15h-1.15zM408.7 321.8h1.15v1.15h-1.15zM409.8 294.3h1.15v1.15h-1.15zM412.9 327.5h1.15v1.15h-1.15zM418.3 297.5h1.15v1.15h-1.15zM415.6 300.6h1.15v1.15h-1.15zM414.5 316.1h1.15v1.15h-1.15zM405.5 315.4h1.15v1.15h-1.15zM413.5 334.4h1.15v1.15h-1.15zM415.2 320.7h1.15v1.15h-1.15zM413.8 313.0h1.15v1.15h-1.15zM412.0 307.1h1.15v1.15h-1.15zM418.8 330.3h1.15v1.15h-1.15zM413.5 292.8h1.15v1.15h-1.15zM404.6 330.2h1.15v1.15h-1.15zM424.0 310.7h1.15v1.15h-1.15zM412.5 345.8h1.15v1.15h-1.15zM422.5 305.8h1.15v1.15h-1.15zM407.1 330.5h1.15v1.15h-1.15zM409.2 309.1h1.15v1.15h-1.15zM415.2 344.6h1.15v1.15h-1.15zM423.6 307.6h1.15v1.15h-1.15zM412.0 344.7h1.15v1.15h-1.15zM405.6 314.5h1.15v1.15h-1.15zM410.8 311.7h1.15v1.15h-1.15zM414.7 301.1h1.15v1.15h-1.15zM408.5 342.6h1.15v1.15h-1.15zM410.2 341.8h1.15v1.15h-1.15zM407.8 338.2h1.15v1.15h-1.15zM418.4 321.0h1.15v1.15h-1.15zM415.1 348.2h1.15v1.15h-1.15zM414.9 341.8h1.15v1.15h-1.15zM421.6 339.0h1.15v1.15h-1.15zM413.6 343.0h1.15v1.15h-1.15zM405.9 313.2h1.15v1.15h-1.15zM414.3 343.3h1.15v1.15h-1.15zM407.6 292.1h1.15v1.15h-1.15zM417.0 326.3h1.15v1.15h-1.15zM423.6 335.2h1.15v1.15h-1.15zM409.9 320.8h1.15v1.15h-1.15zM416.6 346.9h1.15v1.15h-1.15zM415.9 292.1h1.15v1.15h-1.15zM407.5 314.0h1.15v1.15h-1.15zM414.1 334.6h1.15v1.15h-1.15zM420.1 322.4h1.15v1.15h-1.15zM410.6 345.3h1.15v1.15h-1.15zM411.3 342.7h1.15v1.15h-1.15zM409.5 315.3h1.15v1.15h-1.15zM421.4 317.2h1.15v1.15h-1.15zM404.4 317.0h1.15v1.15h-1.15zM416.8 306.6h1.15v1.15h-1.15zM414.3 336.0h1.15v1.15h-1.15zM414.8 294.1h1.15v1.15h-1.15zM412.8 294.8h1.15v1.15h-1.15zM415.6 305.3h1.15v1.15h-1.15zM408.3 319.1h1.15v1.15h-1.15zM418.0 339.5h1.15v1.15h-1.15zM410.2 334.9h1.15v1.15h-1.15zM413.9 298.1h1.15v1.15h-1.15zM404.8 338.9h1.15v1.15h-1.15zM417.9 330.0h1.15v1.15h-1.15zM420.3 346.8h1.15v1.15h-1.15zM407.1 296.0h1.15v1.15h-1.15zM410.5 307.3h1.15v1.15h-1.15zM425.3 318.7h1.15v1.15h-1.15zM386.0 318.7h1.15v1.15h-1.15zM389.6 313.5h1.15v1.15h-1.15zM414.9 313.2h1.15v1.15h-1.15zM386.3 320.2h1.15v1.15h-1.15zM393.9 317.2h1.15v1.15h-1.15zM419.6 315.7h1.15v1.15h-1.15zM397.9 315.5h1.15v1.15h-1.15zM403.9 318.4h1.15v1.15h-1.15zM397.1 321.8h1.15v1.15h-1.15zM417.5 315.5h1.15v1.15h-1.15zM386.0 316.0h1.15v1.15h-1.15zM392.7 323.3h1.15v1.15h-1.15zM412.2 319.5h1.15v1.15h-1.15zM409.5 316.0h1.15v1.15h-1.15zM413.8 313.9h1.15v1.15h-1.15zM396.6 317.3h1.15v1.15h-1.15zM395.3 313.1h1.15v1.15h-1.15zM424.3 313.8h1.15v1.15h-1.15zM404.7 312.5h1.15v1.15h-1.15zM417.9 318.8h1.15v1.15h-1.15zM425.1 322.0h1.15v1.15h-1.15zM397.0 319.1h1.15v1.15h-1.15zM388.0 313.6h1.15v1.15h-1.15zM403.5 317.6h1.15v1.15h-1.15zM409.6 319.6h1.15v1.15h-1.15zM396.7 319.7h1.15v1.15h-1.15zM409.6 316.7h1.15v1.15h-1.15zM384.1 320.2h1.15v1.15h-1.15zM394.8 314.1h1.15v1.15h-1.15zM385.5 320.2h1.15v1.15h-1.15zM393.1 314.2h1.15v1.15h-1.15zM388.2 321.4h1.15v1.15h-1.15zM381.8 318.9h1.15v1.15h-1.15zM392.1 320.9h1.15v1.15h-1.15zM395.0 318.5h1.15v1.15h-1.15zM388.4 316.2h1.15v1.15h-1.15zM382.1 315.3h1.15v1.15h-1.15zM386.1 315.7h1.15v1.15h-1.15zM385.0 315.5h1.15v1.15h-1.15zM384.5 317.3h1.15v1.15h-1.15zM388.8 316.0h1.15v1.15h-1.15zM387.4 317.5h1.15v1.15h-1.15zM384.4 316.3h1.15v1.15h-1.15zM389.9 315.2h1.15v1.15h-1.15zM383.5 318.1h1.15v1.15h-1.15zM399.0 349.6h1.15v1.15h-1.15zM392.7 351.0h1.15v1.15h-1.15zM399.8 346.2h1.15v1.15h-1.15zM398.4 350.8h1.15v1.15h-1.15zM393.4 348.0h1.15v1.15h-1.15zM392.4 349.6h1.15v1.15h-1.15zM398.7 346.6h1.15v1.15h-1.15zM391.0 347.6h1.15v1.15h-1.15zM393.9 343.4h1.15v1.15h-1.15zM395.0 352.3h1.15v1.15h-1.15zM389.7 347.3h1.15v1.15h-1.15zM391.5 352.3h1.15v1.15h-1.15zM384.4 349.8h1.15v1.15h-1.15zM392.7 346.9h1.15v1.15h-1.15zM390.6 351.3h1.15v1.15h-1.15zM399.8 343.8h1.15v1.15h-1.15zM388.6 352.1h1.15v1.15h-1.15zM394.9 343.6h1.15v1.15h-1.15zM389.6 346.9h1.15v1.15h-1.15zM441.0 316.8h1.15v1.15h-1.15zM443.2 310.5h1.15v1.15h-1.15zM441.4 314.1h1.15v1.15h-1.15zM443.0 316.0h1.15v1.15h-1.15zM441.3 311.8h1.15v1.15h-1.15zM435.1 290.4h1.15v1.15h-1.15zM431.7 288.2h1.15v1.15h-1.15zM436.1 288.2h1.15v1.15h-1.15zM433.7 291.9h1.15v1.15h-1.15zM436.1 290.8h1.15v1.15h-1.15zM442.8 286.7h1.15v1.15h-1.15zM416.2 343.8h1.15v1.15h-1.15zM425.2 329.3h1.15v1.15h-1.15zM422.6 342.6h1.15v1.15h-1.15zM432.1 334.7h1.15v1.15h-1.15zM414.1 335.0h1.15v1.15h-1.15zM424.6 331.2h1.15v1.15h-1.15zM424.2 330.7h1.15v1.15h-1.15zM437.8 341.7h1.15v1.15h-1.15zM428.7 342.4h1.15v1.15h-1.15zM422.4 341.5h1.15v1.15h-1.15zM431.1 343.7h1.15v1.15h-1.15zM428.1 342.4h1.15v1.15h-1.15z" fill="#2ea232"/>
<path d="M411.2 332.5h1.15v1.15h-1.15zM414.7 332.8h1.15v1.15h-1.15zM413.0 317.3h1.15v1.15h-1.15zM413.7 330.9h1.15v1.15h-1.15zM406.1 322.8h1.15v1.15h-1.15zM413.3 331.2h1.15v1.15h-1.15zM410.9 297.8h1.15v1.15h-1.15zM408.9 298.9h1.15v1.15h-1.15zM416.2 313.4h1.15v1.15h-1.15zM405.7 306.7h1.15v1.15h-1.15zM402.6 332.6h1.15v1.15h-1.15zM409.4 303.6h1.15v1.15h-1.15zM409.7 328.3h1.15v1.15h-1.15zM410.9 312.9h1.15v1.15h-1.15zM406.2 343.7h1.15v1.15h-1.15zM410.4 348.6h1.15v1.15h-1.15zM409.9 294.9h1.15v1.15h-1.15zM415.1 339.3h1.15v1.15h-1.15zM411.2 335.4h1.15v1.15h-1.15zM415.6 300.5h1.15v1.15h-1.15zM408.6 293.8h1.15v1.15h-1.15zM408.3 303.6h1.15v1.15h-1.15zM416.9 303.6h1.15v1.15h-1.15zM407.6 294.6h1.15v1.15h-1.15zM417.3 316.8h1.15v1.15h-1.15zM418.0 346.1h1.15v1.15h-1.15zM417.2 313.0h1.15v1.15h-1.15zM415.1 304.0h1.15v1.15h-1.15zM420.2 306.5h1.15v1.15h-1.15zM409.2 341.7h1.15v1.15h-1.15zM410.9 292.5h1.15v1.15h-1.15zM412.3 299.9h1.15v1.15h-1.15zM404.8 331.0h1.15v1.15h-1.15zM411.8 320.1h1.15v1.15h-1.15zM411.2 331.7h1.15v1.15h-1.15zM416.2 308.6h1.15v1.15h-1.15zM406.9 339.6h1.15v1.15h-1.15zM406.8 327.6h1.15v1.15h-1.15zM413.3 301.0h1.15v1.15h-1.15zM407.1 308.3h1.15v1.15h-1.15zM418.5 310.5h1.15v1.15h-1.15zM415.0 321.0h1.15v1.15h-1.15zM415.1 344.1h1.15v1.15h-1.15zM414.3 320.8h1.15v1.15h-1.15zM409.3 324.6h1.15v1.15h-1.15zM412.4 337.1h1.15v1.15h-1.15zM419.2 313.3h1.15v1.15h-1.15zM413.4 348.0h1.15v1.15h-1.15zM416.9 347.8h1.15v1.15h-1.15zM411.3 341.8h1.15v1.15h-1.15zM408.2 347.3h1.15v1.15h-1.15zM407.3 346.5h1.15v1.15h-1.15zM415.3 306.5h1.15v1.15h-1.15zM409.9 332.8h1.15v1.15h-1.15zM415.7 326.5h1.15v1.15h-1.15zM418.3 292.8h1.15v1.15h-1.15zM409.1 348.6h1.15v1.15h-1.15zM413.8 322.1h1.15v1.15h-1.15zM405.6 311.1h1.15v1.15h-1.15zM414.1 297.3h1.15v1.15h-1.15zM414.2 316.0h1.15v1.15h-1.15zM415.9 329.7h1.15v1.15h-1.15zM413.9 296.5h1.15v1.15h-1.15zM411.1 328.2h1.15v1.15h-1.15zM413.8 322.8h1.15v1.15h-1.15zM415.9 293.2h1.15v1.15h-1.15zM410.1 319.3h1.15v1.15h-1.15zM410.1 324.7h1.15v1.15h-1.15zM411.8 328.4h1.15v1.15h-1.15zM414.4 293.5h1.15v1.15h-1.15zM409.9 303.3h1.15v1.15h-1.15zM410.3 342.2h1.15v1.15h-1.15zM411.2 347.3h1.15v1.15h-1.15zM401.6 346.5h1.15v1.15h-1.15zM406.5 303.0h1.15v1.15h-1.15zM415.2 313.2h1.15v1.15h-1.15zM419.5 321.5h1.15v1.15h-1.15zM395.7 312.5h1.15v1.15h-1.15zM396.3 315.8h1.15v1.15h-1.15zM385.0 315.0h1.15v1.15h-1.15zM405.6 317.8h1.15v1.15h-1.15zM422.8 318.7h1.15v1.15h-1.15zM396.4 311.8h1.15v1.15h-1.15zM422.7 317.4h1.15v1.15h-1.15zM405.0 320.7h1.15v1.15h-1.15zM409.5 316.7h1.15v1.15h-1.15zM417.0 316.3h1.15v1.15h-1.15zM392.0 321.1h1.15v1.15h-1.15zM385.5 317.6h1.15v1.15h-1.15zM384.5 319.1h1.15v1.15h-1.15zM394.1 318.4h1.15v1.15h-1.15zM389.5 322.2h1.15v1.15h-1.15zM387.0 320.0h1.15v1.15h-1.15zM385.5 316.7h1.15v1.15h-1.15zM393.4 320.5h1.15v1.15h-1.15zM392.7 324.2h1.15v1.15h-1.15zM386.5 311.6h1.15v1.15h-1.15zM391.9 348.2h1.15v1.15h-1.15zM390.9 346.2h1.15v1.15h-1.15zM387.1 345.2h1.15v1.15h-1.15zM388.4 341.8h1.15v1.15h-1.15zM392.5 350.9h1.15v1.15h-1.15zM387.8 349.2h1.15v1.15h-1.15zM392.5 342.3h1.15v1.15h-1.15zM390.8 346.1h1.15v1.15h-1.15zM389.1 346.3h1.15v1.15h-1.15zM385.4 348.0h1.15v1.15h-1.15zM390.8 349.0h1.15v1.15h-1.15zM395.7 345.5h1.15v1.15h-1.15zM444.7 314.8h1.15v1.15h-1.15zM443.9 320.8h1.15v1.15h-1.15zM446.1 307.0h1.15v1.15h-1.15zM444.3 317.5h1.15v1.15h-1.15zM443.0 313.5h1.15v1.15h-1.15zM443.2 305.5h1.15v1.15h-1.15zM441.7 311.0h1.15v1.15h-1.15zM438.3 288.3h1.15v1.15h-1.15zM435.2 286.4h1.15v1.15h-1.15z" fill="#46d046"/>
<text font-size="6.6" font-weight="bold" fill="#fff" transform="translate(349.60 347.60)">50</text>
<text font-size="5.0" fill="#fff" stroke="#fff" stroke-width="0.3" transform="translate(357.60 347.60)">µm</text>
<rect x="356.50" y="350.20" width="8.30" height="1.50" fill="#fff"/>
<text font-size="8.1" text-anchor="middle" fill="#1a1a1a" stroke="#1a1a1a" stroke-width="0.3" transform="translate(295.40 319.85) rotate(-90) scale(0.912 1)">DKO+GFP</text>
<text font-size="8.1" text-anchor="middle" fill="#1a1a1a" stroke="#1a1a1a" stroke-width="0.3" transform="translate(377.40 322.45) rotate(-90) scale(0.897 1)">DKO+Lck</text>
<text font-size="7.2" text-anchor="middle" fill="#3cc43c" stroke="#3cc43c" stroke-width="0.3" transform="translate(375.00 360.20)">Ki67</text>
<rect x="478.80" y="326.06" width="11.10" height="10.64" fill="#145389"/>
<rect x="495.70" y="303.97" width="11.10" height="32.73" fill="#3cb44a"/>
<circle cx="484.35" cy="322.62" r="0.85" fill="#000"/>
<circle cx="483.35" cy="326.88" r="0.85" fill="#000"/>
<circle cx="485.35" cy="328.19" r="0.85" fill="#000"/>
<line x1="484.35" y1="324.10" x2="484.35" y2="328.03" stroke="#000" stroke-width="1.1"/>
<line x1="481.75" y1="324.10" x2="486.95" y2="324.10" stroke="#000" stroke-width="1.1"/>
<line x1="481.75" y1="328.03" x2="486.95" y2="328.03" stroke="#000" stroke-width="1.1"/>
<circle cx="501.25" cy="298.73" r="0.85" fill="#000"/>
<circle cx="500.25" cy="304.46" r="0.85" fill="#000"/>
<circle cx="502.25" cy="306.91" r="0.85" fill="#000"/>
<line x1="501.25" y1="301.51" x2="501.25" y2="306.42" stroke="#000" stroke-width="1.1"/>
<line x1="498.65" y1="301.51" x2="503.85" y2="301.51" stroke="#000" stroke-width="1.1"/>
<line x1="498.65" y1="306.42" x2="503.85" y2="306.42" stroke="#000" stroke-width="1.1"/>
<line x1="474.80" y1="287.10" x2="474.80" y2="337.20" stroke="#000" stroke-width="1.1"/>
<line x1="474.30" y1="336.70" x2="509.30" y2="336.70" stroke="#000" stroke-width="1.1"/>
<line x1="472.30" y1="336.70" x2="474.80" y2="336.70" stroke="#000" stroke-width="1.1"/>
<text font-size="7.0" text-anchor="end" fill="#1a1a1a" stroke="#1a1a1a" stroke-width="0.3" transform="translate(471.10 339.22) scale(0.87 1)">0</text>
<line x1="472.30" y1="320.33" x2="474.80" y2="320.33" stroke="#000" stroke-width="1.1"/>
<text font-size="7.0" text-anchor="end" fill="#1a1a1a" stroke="#1a1a1a" stroke-width="0.3" transform="translate(471.10 322.85) scale(0.87 1)">100</text>
<line x1="472.30" y1="303.97" x2="474.80" y2="303.97" stroke="#000" stroke-width="1.1"/>
<text font-size="7.0" text-anchor="end" fill="#1a1a1a" stroke="#1a1a1a" stroke-width="0.3" transform="translate(471.10 306.49) scale(0.87 1)">200</text>
<line x1="472.30" y1="287.60" x2="474.80" y2="287.60" stroke="#000" stroke-width="1.1"/>
<text font-size="7.0" text-anchor="end" fill="#1a1a1a" stroke="#1a1a1a" stroke-width="0.3" transform="translate(471.10 290.12) scale(0.87 1)">300</text>
<line x1="482.10" y1="289.60" x2="501.00" y2="289.60" stroke="#555" stroke-width="1.0"/>
<text font-size="5.2" text-anchor="middle" fill="#333" stroke="#333" stroke-width="0.3" transform="translate(491.40 288.00)"><tspan font-style="italic">p</tspan>&lt;0.001</text>
<text font-size="8.86" text-anchor="middle" fill="#1a1a1a" stroke="#1a1a1a" stroke-width="0.3" transform="translate(457.40 310.05) rotate(-90) scale(0.797 1)">Ki67 + cell number</text>
<text font-size="7.5" text-anchor="end" fill="#1a1a1a" stroke="#1a1a1a" stroke-width="0.3" transform="translate(488.70 341.70) rotate(-45) scale(0.87 1)">DKO+<tspan font-style="italic">GFP</tspan></text>
<text font-size="7.5" text-anchor="end" fill="#1a1a1a" stroke="#1a1a1a" stroke-width="0.3" transform="translate(505.60 341.70) rotate(-45) scale(0.87 1)">DKO+<tspan font-style="italic">Lck</tspan></text>
<text font-size="10.5" font-weight="bold" fill="#000" transform="translate(10.50 383.60) scale(1.1 1)">L</text>
<path d="M31.60,441.50 C35.63,441.48 51.37,441.70 55.80,441.40 C60.23,441.10 57.45,441.22 58.20,439.70 C58.95,438.18 59.67,435.05 60.30,432.30 C60.93,429.55 61.52,425.68 62.00,423.20 C62.48,420.72 62.83,418.78 63.20,417.40 C63.57,416.02 63.85,414.90 64.20,414.90 C64.55,414.90 64.92,415.60 65.30,417.40 C65.68,419.20 66.10,423.08 66.50,425.70 C66.90,428.32 67.22,430.90 67.70,433.10 C68.18,435.30 68.77,437.52 69.40,438.90 C70.03,440.28 67.23,440.97 71.50,441.40 C75.77,441.83 91.08,441.48 95.00,441.50 Z" fill="#5f86a8" opacity="0.85"/>
<path d="M31.60,441.50 C35.28,441.48 49.67,441.83 53.70,441.40 C57.73,440.97 55.18,440.42 55.80,438.90 C56.42,437.38 56.93,434.50 57.40,432.30 C57.87,430.10 58.18,427.63 58.60,425.70 C59.02,423.77 59.48,421.78 59.90,420.70 C60.32,419.62 60.72,419.27 61.10,419.20 C61.48,419.13 61.85,419.35 62.20,420.30 C62.55,421.25 62.75,423.32 63.20,424.90 C63.65,426.48 64.35,428.02 64.90,429.80 C65.45,431.58 65.88,433.95 66.50,435.60 C67.12,437.25 67.92,438.73 68.60,439.70 C69.28,440.67 66.20,441.10 70.60,441.40 C75.00,441.70 90.93,441.48 95.00,441.50" fill="none" stroke="#c8102e" stroke-width="1.3"/>
<path d="M31.60,441.50 C35.63,441.48 51.37,441.70 55.80,441.40 C60.23,441.10 57.45,441.22 58.20,439.70 C58.95,438.18 59.67,435.05 60.30,432.30 C60.93,429.55 61.52,425.68 62.00,423.20 C62.48,420.72 62.83,418.78 63.20,417.40 C63.57,416.02 63.85,414.90 64.20,414.90 C64.55,414.90 64.92,415.60 65.30,417.40 C65.68,419.20 66.10,423.08 66.50,425.70 C66.90,428.32 67.22,430.90 67.70,433.10 C68.18,435.30 68.77,437.52 69.40,438.90 C70.03,440.28 67.23,440.97 71.50,441.40 C75.77,441.83 91.08,441.48 95.00,441.50" fill="none" stroke="#145389" stroke-width="1.4"/>
<line x1="31.60" y1="378.20" x2="31.60" y2="442.20" stroke="#000" stroke-width="0.9"/>
<line x1="31.20" y1="441.80" x2="95.00" y2="441.80" stroke="#000" stroke-width="0.9"/>
<line x1="30.40" y1="441.80" x2="31.60" y2="441.80" stroke="#000" stroke-width="0.4"/>
<line x1="30.40" y1="439.26" x2="31.60" y2="439.26" stroke="#000" stroke-width="0.4"/>
<line x1="30.40" y1="436.71" x2="31.60" y2="436.71" stroke="#000" stroke-width="0.4"/>
<line x1="30.40" y1="434.17" x2="31.60" y2="434.17" stroke="#000" stroke-width="0.4"/>
<line x1="30.40" y1="431.62" x2="31.60" y2="431.62" stroke="#000" stroke-width="0.4"/>
<line x1="30.40" y1="429.08" x2="31.60" y2="429.08" stroke="#000" stroke-width="0.4"/>
<line x1="30.40" y1="426.54" x2="31.60" y2="426.54" stroke="#000" stroke-width="0.4"/>
<line x1="30.40" y1="423.99" x2="31.60" y2="423.99" stroke="#000" stroke-width="0.4"/>
<line x1="30.40" y1="421.45" x2="31.60" y2="421.45" stroke="#000" stroke-width="0.4"/>
<line x1="30.40" y1="418.90" x2="31.60" y2="418.90" stroke="#000" stroke-width="0.4"/>
<line x1="30.40" y1="416.36" x2="31.60" y2="416.36" stroke="#000" stroke-width="0.4"/>
<line x1="30.40" y1="413.82" x2="31.60" y2="413.82" stroke="#000" stroke-width="0.4"/>
<line x1="30.40" y1="411.27" x2="31.60" y2="411.27" stroke="#000" stroke-width="0.4"/>
<line x1="30.40" y1="408.73" x2="31.60" y2="408.73" stroke="#000" stroke-width="0.4"/>
<line x1="30.40" y1="406.18" x2="31.60" y2="406.18" stroke="#000" stroke-width="0.4"/>
<line x1="30.40" y1="403.64" x2="31.60" y2="403.64" stroke="#000" stroke-width="0.4"/>
<line x1="30.40" y1="401.10" x2="31.60" y2="401.10" stroke="#000" stroke-width="0.4"/>
<line x1="30.40" y1="398.55" x2="31.60" y2="398.55" stroke="#000" stroke-width="0.4"/>
<line x1="30.40" y1="396.01" x2="31.60" y2="396.01" stroke="#000" stroke-width="0.4"/>
<line x1="30.40" y1="393.46" x2="31.60" y2="393.46" stroke="#000" stroke-width="0.4"/>
<line x1="30.40" y1="390.92" x2="31.60" y2="390.92" stroke="#000" stroke-width="0.4"/>
<line x1="30.40" y1="388.38" x2="31.60" y2="388.38" stroke="#000" stroke-width="0.4"/>
<line x1="30.40" y1="385.83" x2="31.60" y2="385.83" stroke="#000" stroke-width="0.4"/>
<line x1="30.40" y1="383.29" x2="31.60" y2="383.29" stroke="#000" stroke-width="0.4"/>
<line x1="30.40" y1="380.74" x2="31.60" y2="380.74" stroke="#000" stroke-width="0.4"/>
<line x1="30.40" y1="378.20" x2="31.60" y2="378.20" stroke="#000" stroke-width="0.4"/>
<line x1="29.40" y1="441.80" x2="31.60" y2="441.80" stroke="#000" stroke-width="0.6"/>
<text font-size="3.6" text-anchor="end" fill="#444" stroke="#444" stroke-width="0.3" transform="translate(29.10 443.10)">0</text>
<line x1="29.40" y1="428.60" x2="31.60" y2="428.60" stroke="#000" stroke-width="0.6"/>
<text font-size="3.6" text-anchor="end" fill="#444" stroke="#444" stroke-width="0.3" transform="translate(29.10 429.90)">0.010</text>
<line x1="29.40" y1="415.40" x2="31.60" y2="415.40" stroke="#000" stroke-width="0.6"/>
<text font-size="3.6" text-anchor="end" fill="#444" stroke="#444" stroke-width="0.3" transform="translate(29.10 416.70)">0.020</text>
<line x1="29.40" y1="401.90" x2="31.60" y2="401.90" stroke="#000" stroke-width="0.6"/>
<text font-size="3.6" text-anchor="end" fill="#444" stroke="#444" stroke-width="0.3" transform="translate(29.10 403.20)">0.030</text>
<line x1="29.40" y1="388.70" x2="31.60" y2="388.70" stroke="#000" stroke-width="0.6"/>
<text font-size="3.6" text-anchor="end" fill="#444" stroke="#444" stroke-width="0.3" transform="translate(29.10 390.00)">0.040</text>
<line x1="42.70" y1="441.80" x2="42.70" y2="443.60" stroke="#000" stroke-width="0.6"/>
<text font-size="3.6" text-anchor="middle" fill="#444" stroke="#444" stroke-width="0.3" transform="translate(42.70 448.00)">0</text>
<line x1="58.10" y1="441.80" x2="58.10" y2="443.60" stroke="#000" stroke-width="0.6"/>
<text font-size="3.6" text-anchor="middle" fill="#444" stroke="#444" stroke-width="0.3" transform="translate(58.10 448.00)">10³</text>
<line x1="73.90" y1="441.80" x2="73.90" y2="443.60" stroke="#000" stroke-width="0.6"/>
<text font-size="3.6" text-anchor="middle" fill="#444" stroke="#444" stroke-width="0.3" transform="translate(73.90 448.00)">10⁴</text>
<line x1="89.40" y1="441.80" x2="89.40" y2="443.60" stroke="#000" stroke-width="0.6"/>
<text font-size="3.6" text-anchor="middle" fill="#444" stroke="#444" stroke-width="0.3" transform="translate(89.40 448.00)">10⁵</text>
<line x1="31.60" y1="441.80" x2="31.60" y2="442.80" stroke="#000" stroke-width="0.35"/>
<line x1="33.71" y1="441.80" x2="33.71" y2="442.80" stroke="#000" stroke-width="0.35"/>
<line x1="35.83" y1="441.80" x2="35.83" y2="442.80" stroke="#000" stroke-width="0.35"/>
<line x1="37.94" y1="441.80" x2="37.94" y2="442.80" stroke="#000" stroke-width="0.35"/>
<line x1="40.05" y1="441.80" x2="40.05" y2="442.80" stroke="#000" stroke-width="0.35"/>
<line x1="42.17" y1="441.80" x2="42.17" y2="442.80" stroke="#000" stroke-width="0.35"/>
<line x1="44.28" y1="441.80" x2="44.28" y2="442.80" stroke="#000" stroke-width="0.35"/>
<line x1="46.39" y1="441.80" x2="46.39" y2="442.80" stroke="#000" stroke-width="0.35"/>
<line x1="48.51" y1="441.80" x2="48.51" y2="442.80" stroke="#000" stroke-width="0.35"/>
<line x1="50.62" y1="441.80" x2="50.62" y2="442.80" stroke="#000" stroke-width="0.35"/>
<line x1="52.73" y1="441.80" x2="52.73" y2="442.80" stroke="#000" stroke-width="0.35"/>
<line x1="54.85" y1="441.80" x2="54.85" y2="442.80" stroke="#000" stroke-width="0.35"/>
<line x1="56.96" y1="441.80" x2="56.96" y2="442.80" stroke="#000" stroke-width="0.35"/>
<line x1="59.07" y1="441.80" x2="59.07" y2="442.80" stroke="#000" stroke-width="0.35"/>
<line x1="61.19" y1="441.80" x2="61.19" y2="442.80" stroke="#000" stroke-width="0.35"/>
<line x1="63.30" y1="441.80" x2="63.30" y2="442.80" stroke="#000" stroke-width="0.35"/>
<line x1="65.41" y1="441.80" x2="65.41" y2="442.80" stroke="#000" stroke-width="0.35"/>
<line x1="67.53" y1="441.80" x2="67.53" y2="442.80" stroke="#000" stroke-width="0.35"/>
<line x1="69.64" y1="441.80" x2="69.64" y2="442.80" stroke="#000" stroke-width="0.35"/>
<line x1="71.75" y1="441.80" x2="71.75" y2="442.80" stroke="#000" stroke-width="0.35"/>
<line x1="73.87" y1="441.80" x2="73.87" y2="442.80" stroke="#000" stroke-width="0.35"/>
<line x1="75.98" y1="441.80" x2="75.98" y2="442.80" stroke="#000" stroke-width="0.35"/>
<line x1="78.09" y1="441.80" x2="78.09" y2="442.80" stroke="#000" stroke-width="0.35"/>
<line x1="80.21" y1="441.80" x2="80.21" y2="442.80" stroke="#000" stroke-width="0.35"/>
<line x1="82.32" y1="441.80" x2="82.32" y2="442.80" stroke="#000" stroke-width="0.35"/>
<line x1="84.43" y1="441.80" x2="84.43" y2="442.80" stroke="#000" stroke-width="0.35"/>
<line x1="86.55" y1="441.80" x2="86.55" y2="442.80" stroke="#000" stroke-width="0.35"/>
<line x1="88.66" y1="441.80" x2="88.66" y2="442.80" stroke="#000" stroke-width="0.35"/>
<line x1="90.77" y1="441.80" x2="90.77" y2="442.80" stroke="#000" stroke-width="0.35"/>
<line x1="92.89" y1="441.80" x2="92.89" y2="442.80" stroke="#000" stroke-width="0.35"/>
<text font-size="6.4" fill="#1a1a1a" stroke="#1a1a1a" stroke-width="0.3" transform="translate(33.20 385.30)">Gate LSK</text>
<line x1="72.20" y1="382.40" x2="79.60" y2="382.40" stroke="#c8102e" stroke-width="1.4"/>
<text font-size="4.8" fill="#1a1a1a" stroke="#1a1a1a" stroke-width="0.3" transform="translate(81.00 384.10)">Ctrl</text>
<line x1="72.20" y1="387.30" x2="79.60" y2="387.30" stroke="#145389" stroke-width="1.4"/>
<text font-size="4.8" fill="#1a1a1a" stroke="#1a1a1a" stroke-width="0.3" transform="translate(81.00 389.00)">H-89</text>
<text font-size="10.8" text-anchor="middle" fill="#1a1a1a" stroke="#1a1a1a" stroke-width="0.3" transform="translate(15.40 410.85) rotate(-90) scale(0.732 1)">Count</text>
<line x1="29.90" y1="452.30" x2="42.60" y2="452.30" stroke="#000" stroke-width="0.9"/>
<path d="M45.20,452.30 L42.60,453.65 L42.60,450.95Z" fill="#000"/>
<text font-size="7.0" fill="#1a1a1a" stroke="#1a1a1a" stroke-width="0.3" transform="translate(46.70 454.80)">Lck</text>
<rect x="126.00" y="430.44" width="15.30" height="6.06" fill="#c8102e"/>
<rect x="126.00" y="442.70" width="15.30" height="4.90" fill="#c8102e"/>
<rect x="148.90" y="408.04" width="15.30" height="28.46" fill="#145389"/>
<rect x="148.90" y="442.70" width="15.30" height="4.90" fill="#145389"/>
<circle cx="133.65" cy="427.42" r="0.8" fill="#000"/>
<circle cx="131.15" cy="429.23" r="0.8" fill="#000"/>
<circle cx="136.15" cy="430.44" r="0.8" fill="#000"/>
<circle cx="133.65" cy="432.26" r="0.8" fill="#000"/>
<line x1="133.65" y1="428.63" x2="133.65" y2="432.26" stroke="#000" stroke-width="1.1"/>
<line x1="130.85" y1="428.63" x2="136.45" y2="428.63" stroke="#000" stroke-width="1.1"/>
<line x1="130.85" y1="432.26" x2="136.45" y2="432.26" stroke="#000" stroke-width="1.1"/>
<circle cx="156.55" cy="394.11" r="0.8" fill="#000"/>
<circle cx="156.55" cy="405.01" r="0.8" fill="#000"/>
<circle cx="155.55" cy="411.67" r="0.8" fill="#000"/>
<circle cx="156.55" cy="421.97" r="0.8" fill="#000"/>
<line x1="156.55" y1="401.98" x2="156.55" y2="414.09" stroke="#000" stroke-width="1.1"/>
<line x1="153.75" y1="401.98" x2="159.35" y2="401.98" stroke="#000" stroke-width="1.1"/>
<line x1="153.75" y1="414.09" x2="159.35" y2="414.09" stroke="#000" stroke-width="1.1"/>
<line x1="122.20" y1="380.50" x2="122.20" y2="436.50" stroke="#000" stroke-width="1"/>
<line x1="122.20" y1="442.30" x2="122.20" y2="447.60" stroke="#000" stroke-width="1"/>
<line x1="119.70" y1="436.50" x2="122.20" y2="436.50" stroke="#000" stroke-width="1"/>
<line x1="119.70" y1="442.30" x2="122.20" y2="442.30" stroke="#000" stroke-width="1"/>
<line x1="121.70" y1="447.60" x2="167.30" y2="447.60" stroke="#000" stroke-width="1"/>
<line x1="119.70" y1="430.44" x2="122.20" y2="430.44" stroke="#000" stroke-width="1"/>
<text font-size="7.2" text-anchor="end" fill="#1a1a1a" stroke="#1a1a1a" stroke-width="0.3" transform="translate(118.60 433.04) scale(0.87 1)">1.0</text>
<line x1="119.70" y1="406.22" x2="122.20" y2="406.22" stroke="#000" stroke-width="1"/>
<text font-size="7.2" text-anchor="end" fill="#1a1a1a" stroke="#1a1a1a" stroke-width="0.3" transform="translate(118.60 408.81) scale(0.87 1)">1.4</text>
<line x1="119.70" y1="382.00" x2="122.20" y2="382.00" stroke="#000" stroke-width="1"/>
<text font-size="7.2" text-anchor="end" fill="#1a1a1a" stroke="#1a1a1a" stroke-width="0.3" transform="translate(118.60 384.59) scale(0.87 1)">1.8</text>
<text font-size="7.2" text-anchor="end" fill="#1a1a1a" stroke="#1a1a1a" stroke-width="0.3" transform="translate(118.60 444.89) scale(0.87 1)">0.9</text>
<text font-size="7.2" text-anchor="end" fill="#1a1a1a" stroke="#1a1a1a" stroke-width="0.3" transform="translate(118.60 450.19) scale(0.87 1)">0.0</text>
<line x1="133.60" y1="387.70" x2="158.20" y2="387.70" stroke="#333" stroke-width="0.9"/>
<text font-size="7.0" text-anchor="middle" fill="#222" stroke="#222" stroke-width="0.3" transform="translate(145.90 385.90)"><tspan font-style="italic">p</tspan>=0.02</text>
<text font-size="9.72" text-anchor="middle" fill="#1a1a1a" stroke="#1a1a1a" stroke-width="0.3" transform="translate(106.60 410.60) rotate(-90) scale(0.64 1)">Lck nMFI in LSK</text>
<text font-size="10.5" font-weight="bold" fill="#000" transform="translate(172.80 384.00) scale(1.1 1)">M</text>
<path d="M196.00,442.40 C199.98,442.40 215.28,442.85 219.90,442.40 C224.52,441.95 222.67,440.57 223.70,439.70 C224.73,438.83 225.38,438.43 226.10,437.20 C226.82,435.97 227.37,434.78 228.00,432.30 C228.63,429.82 229.33,426.03 229.90,422.30 C230.47,418.57 230.95,414.05 231.40,409.90 C231.85,405.75 232.23,400.05 232.60,397.40 C232.97,394.75 233.22,394.10 233.60,394.00 C233.98,393.90 234.48,394.78 234.90,396.80 C235.32,398.82 235.73,402.27 236.10,406.10 C236.47,409.93 236.78,415.02 237.10,419.80 C237.42,424.58 237.65,431.27 238.00,434.80 C238.35,438.33 238.68,439.73 239.20,441.00 C239.72,442.27 237.75,442.17 241.10,442.40 C244.45,442.63 256.27,442.40 259.30,442.40 Z" fill="#5f86a8" opacity="0.85"/>
<path d="M196.00,442.40 C199.17,442.40 211.43,443.05 215.00,442.40 C218.57,441.75 216.58,439.67 217.40,438.50 C218.22,437.33 219.07,436.65 219.90,435.40 C220.73,434.15 221.57,432.77 222.40,431.00 C223.23,429.23 224.17,427.28 224.90,424.80 C225.63,422.32 226.28,419.32 226.80,416.10 C227.32,412.88 227.65,407.68 228.00,405.50 C228.35,403.32 228.58,402.78 228.90,403.00 C229.22,403.22 229.53,405.55 229.90,406.80 C230.27,408.05 230.68,408.95 231.10,410.50 C231.52,412.05 231.93,413.52 232.40,416.10 C232.87,418.68 233.38,422.48 233.90,426.00 C234.42,429.52 234.93,434.70 235.50,437.20 C236.07,439.70 236.58,440.13 237.30,441.00 C238.02,441.87 236.13,442.17 239.80,442.40 C243.47,442.63 256.05,442.40 259.30,442.40" fill="none" stroke="#c8102e" stroke-width="1.3"/>
<path d="M196.00,442.40 C199.98,442.40 215.28,442.85 219.90,442.40 C224.52,441.95 222.67,440.57 223.70,439.70 C224.73,438.83 225.38,438.43 226.10,437.20 C226.82,435.97 227.37,434.78 228.00,432.30 C228.63,429.82 229.33,426.03 229.90,422.30 C230.47,418.57 230.95,414.05 231.40,409.90 C231.85,405.75 232.23,400.05 232.60,397.40 C232.97,394.75 233.22,394.10 233.60,394.00 C233.98,393.90 234.48,394.78 234.90,396.80 C235.32,398.82 235.73,402.27 236.10,406.10 C236.47,409.93 236.78,415.02 237.10,419.80 C237.42,424.58 237.65,431.27 238.00,434.80 C238.35,438.33 238.68,439.73 239.20,441.00 C239.72,442.27 237.75,442.17 241.10,442.40 C244.45,442.63 256.27,442.40 259.30,442.40" fill="none" stroke="#145389" stroke-width="1.4"/>
<line x1="196.00" y1="379.40" x2="196.00" y2="442.70" stroke="#000" stroke-width="0.9"/>
<line x1="195.60" y1="442.30" x2="259.30" y2="442.30" stroke="#000" stroke-width="0.9"/>
<line x1="194.80" y1="442.30" x2="196.00" y2="442.30" stroke="#000" stroke-width="0.4"/>
<line x1="194.80" y1="439.78" x2="196.00" y2="439.78" stroke="#000" stroke-width="0.4"/>
<line x1="194.80" y1="437.27" x2="196.00" y2="437.27" stroke="#000" stroke-width="0.4"/>
<line x1="194.80" y1="434.75" x2="196.00" y2="434.75" stroke="#000" stroke-width="0.4"/>
<line x1="194.80" y1="432.24" x2="196.00" y2="432.24" stroke="#000" stroke-width="0.4"/>
<line x1="194.80" y1="429.72" x2="196.00" y2="429.72" stroke="#000" stroke-width="0.4"/>
<line x1="194.80" y1="427.20" x2="196.00" y2="427.20" stroke="#000" stroke-width="0.4"/>
<line x1="194.80" y1="424.69" x2="196.00" y2="424.69" stroke="#000" stroke-width="0.4"/>
<line x1="194.80" y1="422.17" x2="196.00" y2="422.17" stroke="#000" stroke-width="0.4"/>
<line x1="194.80" y1="419.66" x2="196.00" y2="419.66" stroke="#000" stroke-width="0.4"/>
<line x1="194.80" y1="417.14" x2="196.00" y2="417.14" stroke="#000" stroke-width="0.4"/>
<line x1="194.80" y1="414.62" x2="196.00" y2="414.62" stroke="#000" stroke-width="0.4"/>
<line x1="194.80" y1="412.11" x2="196.00" y2="412.11" stroke="#000" stroke-width="0.4"/>
<line x1="194.80" y1="409.59" x2="196.00" y2="409.59" stroke="#000" stroke-width="0.4"/>
<line x1="194.80" y1="407.08" x2="196.00" y2="407.08" stroke="#000" stroke-width="0.4"/>
<line x1="194.80" y1="404.56" x2="196.00" y2="404.56" stroke="#000" stroke-width="0.4"/>
<line x1="194.80" y1="402.04" x2="196.00" y2="402.04" stroke="#000" stroke-width="0.4"/>
<line x1="194.80" y1="399.53" x2="196.00" y2="399.53" stroke="#000" stroke-width="0.4"/>
<line x1="194.80" y1="397.01" x2="196.00" y2="397.01" stroke="#000" stroke-width="0.4"/>
<line x1="194.80" y1="394.50" x2="196.00" y2="394.50" stroke="#000" stroke-width="0.4"/>
<line x1="194.80" y1="391.98" x2="196.00" y2="391.98" stroke="#000" stroke-width="0.4"/>
<line x1="194.80" y1="389.46" x2="196.00" y2="389.46" stroke="#000" stroke-width="0.4"/>
<line x1="194.80" y1="386.95" x2="196.00" y2="386.95" stroke="#000" stroke-width="0.4"/>
<line x1="194.80" y1="384.43" x2="196.00" y2="384.43" stroke="#000" stroke-width="0.4"/>
<line x1="194.80" y1="381.92" x2="196.00" y2="381.92" stroke="#000" stroke-width="0.4"/>
<line x1="194.80" y1="379.40" x2="196.00" y2="379.40" stroke="#000" stroke-width="0.4"/>
<line x1="193.80" y1="442.30" x2="196.00" y2="442.30" stroke="#000" stroke-width="0.6"/>
<text font-size="3.6" text-anchor="end" fill="#444" stroke="#444" stroke-width="0.3" transform="translate(193.50 443.60)">0</text>
<line x1="193.80" y1="430.00" x2="196.00" y2="430.00" stroke="#000" stroke-width="0.6"/>
<text font-size="3.6" text-anchor="end" fill="#444" stroke="#444" stroke-width="0.3" transform="translate(193.50 431.30)">20</text>
<line x1="193.80" y1="418.40" x2="196.00" y2="418.40" stroke="#000" stroke-width="0.6"/>
<text font-size="3.6" text-anchor="end" fill="#444" stroke="#444" stroke-width="0.3" transform="translate(193.50 419.70)">40</text>
<line x1="193.80" y1="406.30" x2="196.00" y2="406.30" stroke="#000" stroke-width="0.6"/>
<text font-size="3.6" text-anchor="end" fill="#444" stroke="#444" stroke-width="0.3" transform="translate(193.50 407.60)">60</text>
<line x1="193.80" y1="394.70" x2="196.00" y2="394.70" stroke="#000" stroke-width="0.6"/>
<text font-size="3.6" text-anchor="end" fill="#444" stroke="#444" stroke-width="0.3" transform="translate(193.50 396.00)">80</text>
<line x1="193.80" y1="382.40" x2="196.00" y2="382.40" stroke="#000" stroke-width="0.6"/>
<text font-size="3.6" text-anchor="end" fill="#444" stroke="#444" stroke-width="0.3" transform="translate(193.50 383.70)">100</text>
<line x1="207.30" y1="442.30" x2="207.30" y2="444.10" stroke="#000" stroke-width="0.6"/>
<text font-size="3.6" text-anchor="middle" fill="#444" stroke="#444" stroke-width="0.3" transform="translate(207.30 448.50)">0</text>
<line x1="222.70" y1="442.30" x2="222.70" y2="444.10" stroke="#000" stroke-width="0.6"/>
<text font-size="3.6" text-anchor="middle" fill="#444" stroke="#444" stroke-width="0.3" transform="translate(222.70 448.50)">10³</text>
<line x1="238.90" y1="442.30" x2="238.90" y2="444.10" stroke="#000" stroke-width="0.6"/>
<text font-size="3.6" text-anchor="middle" fill="#444" stroke="#444" stroke-width="0.3" transform="translate(238.90 448.50)">10⁴</text>
<line x1="253.10" y1="442.30" x2="253.10" y2="444.10" stroke="#000" stroke-width="0.6"/>
<text font-size="3.6" text-anchor="middle" fill="#444" stroke="#444" stroke-width="0.3" transform="translate(253.10 448.50)">10⁵</text>
<line x1="196.00" y1="442.30" x2="196.00" y2="443.30" stroke="#000" stroke-width="0.35"/>
<line x1="198.11" y1="442.30" x2="198.11" y2="443.30" stroke="#000" stroke-width="0.35"/>
<line x1="200.22" y1="442.30" x2="200.22" y2="443.30" stroke="#000" stroke-width="0.35"/>
<line x1="202.33" y1="442.30" x2="202.33" y2="443.30" stroke="#000" stroke-width="0.35"/>
<line x1="204.44" y1="442.30" x2="204.44" y2="443.30" stroke="#000" stroke-width="0.35"/>
<line x1="206.55" y1="442.30" x2="206.55" y2="443.30" stroke="#000" stroke-width="0.35"/>
<line x1="208.66" y1="442.30" x2="208.66" y2="443.30" stroke="#000" stroke-width="0.35"/>
<line x1="210.77" y1="442.30" x2="210.77" y2="443.30" stroke="#000" stroke-width="0.35"/>
<line x1="212.88" y1="442.30" x2="212.88" y2="443.30" stroke="#000" stroke-width="0.35"/>
<line x1="214.99" y1="442.30" x2="214.99" y2="443.30" stroke="#000" stroke-width="0.35"/>
<line x1="217.10" y1="442.30" x2="217.10" y2="443.30" stroke="#000" stroke-width="0.35"/>
<line x1="219.21" y1="442.30" x2="219.21" y2="443.30" stroke="#000" stroke-width="0.35"/>
<line x1="221.32" y1="442.30" x2="221.32" y2="443.30" stroke="#000" stroke-width="0.35"/>
<line x1="223.43" y1="442.30" x2="223.43" y2="443.30" stroke="#000" stroke-width="0.35"/>
<line x1="225.54" y1="442.30" x2="225.54" y2="443.30" stroke="#000" stroke-width="0.35"/>
<line x1="227.65" y1="442.30" x2="227.65" y2="443.30" stroke="#000" stroke-width="0.35"/>
<line x1="229.76" y1="442.30" x2="229.76" y2="443.30" stroke="#000" stroke-width="0.35"/>
<line x1="231.87" y1="442.30" x2="231.87" y2="443.30" stroke="#000" stroke-width="0.35"/>
<line x1="233.98" y1="442.30" x2="233.98" y2="443.30" stroke="#000" stroke-width="0.35"/>
<line x1="236.09" y1="442.30" x2="236.09" y2="443.30" stroke="#000" stroke-width="0.35"/>
<line x1="238.20" y1="442.30" x2="238.20" y2="443.30" stroke="#000" stroke-width="0.35"/>
<line x1="240.31" y1="442.30" x2="240.31" y2="443.30" stroke="#000" stroke-width="0.35"/>
<line x1="242.42" y1="442.30" x2="242.42" y2="443.30" stroke="#000" stroke-width="0.35"/>
<line x1="244.53" y1="442.30" x2="244.53" y2="443.30" stroke="#000" stroke-width="0.35"/>
<line x1="246.64" y1="442.30" x2="246.64" y2="443.30" stroke="#000" stroke-width="0.35"/>
<line x1="248.75" y1="442.30" x2="248.75" y2="443.30" stroke="#000" stroke-width="0.35"/>
<line x1="250.86" y1="442.30" x2="250.86" y2="443.30" stroke="#000" stroke-width="0.35"/>
<line x1="252.97" y1="442.30" x2="252.97" y2="443.30" stroke="#000" stroke-width="0.35"/>
<line x1="255.08" y1="442.30" x2="255.08" y2="443.30" stroke="#000" stroke-width="0.35"/>
<line x1="257.19" y1="442.30" x2="257.19" y2="443.30" stroke="#000" stroke-width="0.35"/>
<text font-size="6.4" fill="#1a1a1a" stroke="#1a1a1a" stroke-width="0.3" transform="translate(197.40 385.60)">Gate LSK</text>
<line x1="235.90" y1="382.40" x2="242.60" y2="382.40" stroke="#c8102e" stroke-width="1.4"/>
<text font-size="4.8" fill="#1a1a1a" stroke="#1a1a1a" stroke-width="0.3" transform="translate(244.00 384.10)">Ctrl</text>
<line x1="235.90" y1="387.70" x2="242.60" y2="387.70" stroke="#145389" stroke-width="1.4"/>
<text font-size="4.8" fill="#1a1a1a" stroke="#1a1a1a" stroke-width="0.3" transform="translate(244.00 389.40)">H-89</text>
<text font-size="8.64" text-anchor="middle" fill="#1a1a1a" stroke="#1a1a1a" stroke-width="0.3" transform="translate(185.90 410.85) rotate(-90) scale(0.664 1)">Count</text>
<line x1="195.60" y1="453.80" x2="205.40" y2="453.80" stroke="#000" stroke-width="0.9"/>
<path d="M208.00,453.80 L205.40,455.15 L205.40,452.45Z" fill="#000"/>
<text font-size="7.0" fill="#1a1a1a" stroke="#1a1a1a" stroke-width="0.3" transform="translate(209.60 456.30)">pERK</text>
<rect x="288.60" y="415.56" width="15.10" height="15.14" fill="#c8102e"/>
<rect x="288.60" y="437.30" width="15.10" height="5.00" fill="#c8102e"/>
<rect x="311.30" y="403.91" width="15.80" height="26.79" fill="#145389"/>
<rect x="311.30" y="437.30" width="15.80" height="5.00" fill="#145389"/>
<circle cx="296.15" cy="410.12" r="0.8" fill="#000"/>
<circle cx="293.65" cy="413.23" r="0.8" fill="#000"/>
<circle cx="298.65" cy="414.39" r="0.8" fill="#000"/>
<circle cx="296.15" cy="415.94" r="0.8" fill="#000"/>
<circle cx="294.15" cy="417.88" r="0.8" fill="#000"/>
<circle cx="297.15" cy="420.60" r="0.8" fill="#000"/>
<line x1="296.15" y1="413.61" x2="296.15" y2="417.50" stroke="#000" stroke-width="1.1"/>
<line x1="293.35" y1="413.61" x2="298.95" y2="413.61" stroke="#000" stroke-width="1.1"/>
<line x1="293.35" y1="417.50" x2="298.95" y2="417.50" stroke="#000" stroke-width="1.1"/>
<circle cx="319.20" cy="391.87" r="0.8" fill="#000"/>
<circle cx="316.70" cy="399.63" r="0.8" fill="#000"/>
<circle cx="321.70" cy="401.19" r="0.8" fill="#000"/>
<circle cx="319.20" cy="407.40" r="0.8" fill="#000"/>
<circle cx="317.70" cy="412.06" r="0.8" fill="#000"/>
<circle cx="319.20" cy="415.94" r="0.8" fill="#000"/>
<line x1="319.20" y1="400.80" x2="319.20" y2="407.01" stroke="#000" stroke-width="1.1"/>
<line x1="316.40" y1="400.80" x2="322.00" y2="400.80" stroke="#000" stroke-width="1.1"/>
<line x1="316.40" y1="407.01" x2="322.00" y2="407.01" stroke="#000" stroke-width="1.1"/>
<line x1="284.40" y1="376.80" x2="284.40" y2="430.70" stroke="#000" stroke-width="1"/>
<line x1="284.40" y1="436.90" x2="284.40" y2="442.30" stroke="#000" stroke-width="1"/>
<line x1="281.90" y1="430.70" x2="284.40" y2="430.70" stroke="#000" stroke-width="1"/>
<line x1="281.90" y1="436.90" x2="284.40" y2="436.90" stroke="#000" stroke-width="1"/>
<line x1="283.90" y1="442.30" x2="331.00" y2="442.30" stroke="#000" stroke-width="1"/>
<line x1="281.90" y1="430.70" x2="284.40" y2="430.70" stroke="#000" stroke-width="1"/>
<text font-size="7.2" text-anchor="end" fill="#1a1a1a" stroke="#1a1a1a" stroke-width="0.3" transform="translate(280.80 433.29) scale(0.87 1)">0.6</text>
<line x1="281.90" y1="419.05" x2="284.40" y2="419.05" stroke="#000" stroke-width="1"/>
<text font-size="7.2" text-anchor="end" fill="#1a1a1a" stroke="#1a1a1a" stroke-width="0.3" transform="translate(280.80 421.64) scale(0.87 1)">0.9</text>
<line x1="281.90" y1="407.40" x2="284.40" y2="407.40" stroke="#000" stroke-width="1"/>
<text font-size="7.2" text-anchor="end" fill="#1a1a1a" stroke="#1a1a1a" stroke-width="0.3" transform="translate(280.80 409.99) scale(0.87 1)">1.2</text>
<line x1="281.90" y1="395.75" x2="284.40" y2="395.75" stroke="#000" stroke-width="1"/>
<text font-size="7.2" text-anchor="end" fill="#1a1a1a" stroke="#1a1a1a" stroke-width="0.3" transform="translate(280.80 398.34) scale(0.87 1)">1.5</text>
<line x1="281.90" y1="384.10" x2="284.40" y2="384.10" stroke="#000" stroke-width="1"/>
<text font-size="7.2" text-anchor="end" fill="#1a1a1a" stroke="#1a1a1a" stroke-width="0.3" transform="translate(280.80 386.69) scale(0.87 1)">1.8</text>
<text font-size="7.2" text-anchor="end" fill="#1a1a1a" stroke="#1a1a1a" stroke-width="0.3" transform="translate(280.80 439.49) scale(0.87 1)">0.6</text>
<text font-size="7.2" text-anchor="end" fill="#1a1a1a" stroke="#1a1a1a" stroke-width="0.3" transform="translate(280.80 444.89) scale(0.87 1)">0.0</text>
<line x1="295.50" y1="383.80" x2="320.10" y2="383.80" stroke="#333" stroke-width="0.9"/>
<text font-size="7.0" text-anchor="middle" fill="#222" stroke="#222" stroke-width="0.3" transform="translate(307.20 382.00)"><tspan font-style="italic">p</tspan>=0.01</text>
<text font-size="8.1" text-anchor="middle" fill="#1a1a1a" stroke="#1a1a1a" stroke-width="0.3" transform="translate(266.90 409.15) rotate(-90) scale(0.628 1)">pERK nMFI in LSK</text>
<text font-size="6.8" text-anchor="middle" fill="#1a1a1a" stroke="#1a1a1a" stroke-width="0.3" transform="translate(273.30 454.50)">SCF</text>
<text font-size="6.2" text-anchor="middle" fill="#1a1a1a" stroke="#1a1a1a" stroke-width="0.3" transform="translate(295.00 454.60)">+</text>
<text font-size="6.2" text-anchor="middle" fill="#1a1a1a" stroke="#1a1a1a" stroke-width="0.3" transform="translate(319.50 454.60)">+</text>
<rect x="160.60" y="463.50" width="11.50" height="6.30" fill="#c8102e"/>
<text font-size="7.6" fill="#1a1a1a" stroke="#1a1a1a" stroke-width="0.3" transform="translate(176.00 469.20)">Vehicle</text>
<rect x="205.20" y="463.50" width="11.10" height="6.30" fill="#145389"/>
<text font-size="7.6" fill="#1a1a1a" stroke="#1a1a1a" stroke-width="0.3" transform="translate(220.20 469.20)">H-89</text>
<text font-size="10.5" font-weight="bold" fill="#000" transform="translate(344.60 383.00) scale(1.1 1)">N</text>
<rect x="382.80" y="391.86" width="15.20" height="41.74" fill="#c8102e"/>
<rect x="382.80" y="440.60" width="15.20" height="5.40" fill="#c8102e"/>
<rect x="405.50" y="414.52" width="14.50" height="19.08" fill="#145389"/>
<rect x="405.50" y="440.60" width="14.50" height="5.40" fill="#145389"/>
<circle cx="390.40" cy="385.90" r="0.8" fill="#000"/>
<circle cx="388.40" cy="391.86" r="0.8" fill="#000"/>
<circle cx="392.40" cy="393.06" r="0.8" fill="#000"/>
<circle cx="390.40" cy="394.84" r="0.8" fill="#000"/>
<line x1="390.40" y1="389.48" x2="390.40" y2="394.25" stroke="#000" stroke-width="1.1"/>
<line x1="387.60" y1="389.48" x2="393.20" y2="389.48" stroke="#000" stroke-width="1.1"/>
<line x1="387.60" y1="394.25" x2="393.20" y2="394.25" stroke="#000" stroke-width="1.1"/>
<circle cx="412.75" cy="397.82" r="0.8" fill="#000"/>
<circle cx="412.75" cy="418.69" r="0.8" fill="#000"/>
<circle cx="412.75" cy="422.87" r="0.8" fill="#000"/>
<line x1="412.75" y1="407.37" x2="412.75" y2="421.68" stroke="#000" stroke-width="1.1"/>
<line x1="409.95" y1="407.37" x2="415.55" y2="407.37" stroke="#000" stroke-width="1.1"/>
<line x1="409.95" y1="421.68" x2="415.55" y2="421.68" stroke="#000" stroke-width="1.1"/>
<line x1="378.60" y1="380.50" x2="378.60" y2="433.60" stroke="#000" stroke-width="1"/>
<line x1="378.60" y1="440.20" x2="378.60" y2="446.00" stroke="#000" stroke-width="1"/>
<line x1="376.10" y1="433.60" x2="378.60" y2="433.60" stroke="#000" stroke-width="1"/>
<line x1="376.10" y1="440.20" x2="378.60" y2="440.20" stroke="#000" stroke-width="1"/>
<line x1="378.10" y1="446.00" x2="423.00" y2="446.00" stroke="#000" stroke-width="1"/>
<line x1="376.10" y1="433.60" x2="378.60" y2="433.60" stroke="#000" stroke-width="1"/>
<text font-size="5.8" text-anchor="end" fill="#1a1a1a" stroke="#1a1a1a" stroke-width="0.3" transform="translate(375.00 435.69) scale(0.87 1)">0.3</text>
<line x1="376.10" y1="421.68" x2="378.60" y2="421.68" stroke="#000" stroke-width="1"/>
<text font-size="5.8" text-anchor="end" fill="#1a1a1a" stroke="#1a1a1a" stroke-width="0.3" transform="translate(375.00 423.76) scale(0.87 1)">0.5</text>
<line x1="376.10" y1="409.75" x2="378.60" y2="409.75" stroke="#000" stroke-width="1"/>
<text font-size="5.8" text-anchor="end" fill="#1a1a1a" stroke="#1a1a1a" stroke-width="0.3" transform="translate(375.00 411.84) scale(0.87 1)">0.7</text>
<line x1="376.10" y1="397.82" x2="378.60" y2="397.82" stroke="#000" stroke-width="1"/>
<text font-size="5.8" text-anchor="end" fill="#1a1a1a" stroke="#1a1a1a" stroke-width="0.3" transform="translate(375.00 399.91) scale(0.87 1)">0.9</text>
<line x1="376.10" y1="385.90" x2="378.60" y2="385.90" stroke="#000" stroke-width="1"/>
<text font-size="5.8" text-anchor="end" fill="#1a1a1a" stroke="#1a1a1a" stroke-width="0.3" transform="translate(375.00 387.99) scale(0.87 1)">1.1</text>
<text font-size="5.8" text-anchor="end" fill="#1a1a1a" stroke="#1a1a1a" stroke-width="0.3" transform="translate(375.00 442.29) scale(0.87 1)">0.3</text>
<text font-size="5.8" text-anchor="end" fill="#1a1a1a" stroke="#1a1a1a" stroke-width="0.3" transform="translate(375.00 448.09) scale(0.87 1)">0.0</text>
<line x1="389.10" y1="381.70" x2="414.40" y2="381.70" stroke="#333" stroke-width="0.9"/>
<text font-size="6.6" text-anchor="middle" fill="#222" stroke="#222" stroke-width="0.3" transform="translate(402.00 379.90)"><tspan font-style="italic">p</tspan>=0.02</text>
<text font-size="7.56" text-anchor="middle" fill="#1a1a1a" stroke="#1a1a1a" stroke-width="0.3" transform="translate(362.60 412.90) rotate(-90) scale(0.703 1)"><tspan font-style="italic">Lck</tspan> nMFI in LSK</text>
<text font-size="6.6" text-anchor="end" fill="#1a1a1a" stroke="#1a1a1a" stroke-width="0.3" transform="translate(393.80 450.60) rotate(-45) scale(0.9 1)">Ctrl</text>
<text font-size="6.6" text-anchor="end" fill="#1a1a1a" stroke="#1a1a1a" stroke-width="0.3" transform="translate(416.20 451.20) rotate(-45) scale(0.9 1)">Forskolin</text>
<rect x="460.00" y="403.11" width="15.50" height="31.39" fill="#c8102e"/>
<rect x="460.00" y="441.70" width="15.50" height="4.80" fill="#c8102e"/>
<rect x="483.20" y="420.43" width="15.60" height="14.07" fill="#145389"/>
<rect x="483.20" y="441.70" width="15.60" height="4.80" fill="#145389"/>
<circle cx="467.75" cy="393.37" r="0.8" fill="#000"/>
<circle cx="465.75" cy="402.02" r="0.8" fill="#000"/>
<circle cx="469.75" cy="404.19" r="0.8" fill="#000"/>
<circle cx="467.75" cy="406.36" r="0.8" fill="#000"/>
<line x1="467.75" y1="399.32" x2="467.75" y2="406.90" stroke="#000" stroke-width="1.1"/>
<line x1="464.95" y1="399.32" x2="470.55" y2="399.32" stroke="#000" stroke-width="1.1"/>
<line x1="464.95" y1="406.90" x2="470.55" y2="406.90" stroke="#000" stroke-width="1.1"/>
<circle cx="491.00" cy="409.60" r="0.8" fill="#000"/>
<circle cx="489.00" cy="423.68" r="0.8" fill="#000"/>
<circle cx="493.00" cy="423.68" r="0.8" fill="#000"/>
<circle cx="491.00" cy="425.84" r="0.8" fill="#000"/>
<line x1="491.00" y1="416.10" x2="491.00" y2="424.76" stroke="#000" stroke-width="1.1"/>
<line x1="488.20" y1="416.10" x2="493.80" y2="416.10" stroke="#000" stroke-width="1.1"/>
<line x1="488.20" y1="424.76" x2="493.80" y2="424.76" stroke="#000" stroke-width="1.1"/>
<line x1="456.90" y1="380.20" x2="456.90" y2="434.50" stroke="#000" stroke-width="1"/>
<line x1="456.90" y1="441.30" x2="456.90" y2="446.50" stroke="#000" stroke-width="1"/>
<line x1="454.40" y1="434.50" x2="456.90" y2="434.50" stroke="#000" stroke-width="1"/>
<line x1="454.40" y1="441.30" x2="456.90" y2="441.30" stroke="#000" stroke-width="1"/>
<line x1="456.40" y1="446.50" x2="500.60" y2="446.50" stroke="#000" stroke-width="1"/>
<line x1="454.40" y1="434.50" x2="456.90" y2="434.50" stroke="#000" stroke-width="1"/>
<text font-size="5.8" text-anchor="end" fill="#1a1a1a" stroke="#1a1a1a" stroke-width="0.3" transform="translate(453.30 436.59) scale(0.87 1)">0.7</text>
<line x1="454.40" y1="412.85" x2="456.90" y2="412.85" stroke="#000" stroke-width="1"/>
<text font-size="5.8" text-anchor="end" fill="#1a1a1a" stroke="#1a1a1a" stroke-width="0.3" transform="translate(453.30 414.94) scale(0.87 1)">0.9</text>
<line x1="454.40" y1="391.20" x2="456.90" y2="391.20" stroke="#000" stroke-width="1"/>
<text font-size="5.8" text-anchor="end" fill="#1a1a1a" stroke="#1a1a1a" stroke-width="0.3" transform="translate(453.30 393.29) scale(0.87 1)">1.1</text>
<text font-size="5.8" text-anchor="end" fill="#1a1a1a" stroke="#1a1a1a" stroke-width="0.3" transform="translate(453.30 443.39) scale(0.87 1)">0.7</text>
<text font-size="5.8" text-anchor="end" fill="#1a1a1a" stroke="#1a1a1a" stroke-width="0.3" transform="translate(453.30 448.59) scale(0.87 1)">0.0</text>
<line x1="465.60" y1="387.00" x2="491.50" y2="387.00" stroke="#333" stroke-width="0.9"/>
<text font-size="6.6" text-anchor="middle" fill="#222" stroke="#222" stroke-width="0.3" transform="translate(478.70 385.20)"><tspan font-style="italic">p</tspan>=0.01</text>
<text font-size="8.1" text-anchor="middle" fill="#1a1a1a" stroke="#1a1a1a" stroke-width="0.3" transform="translate(437.20 412.60) rotate(-90) scale(0.65 1)">pERK nMFI in LSK</text>
<text font-size="6.5" text-anchor="end" fill="#1a1a1a" stroke="#1a1a1a" stroke-width="0.3" transform="translate(452.10 458.50) scale(0.92 1)">Vehicle</text>
<text font-size="6.2" text-anchor="middle" fill="#1a1a1a" stroke="#1a1a1a" stroke-width="0.3" transform="translate(466.60 458.50)">+</text>
<text font-size="6.2" text-anchor="middle" fill="#1a1a1a" stroke="#1a1a1a" stroke-width="0.3" transform="translate(490.50 458.50)">-</text>
<text font-size="6.5" text-anchor="end" fill="#1a1a1a" stroke="#1a1a1a" stroke-width="0.3" transform="translate(452.10 466.40) scale(0.92 1)">SCF</text>
<text font-size="6.2" text-anchor="middle" fill="#1a1a1a" stroke="#1a1a1a" stroke-width="0.3" transform="translate(466.60 466.40)">+</text>
<text font-size="6.2" text-anchor="middle" fill="#1a1a1a" stroke="#1a1a1a" stroke-width="0.3" transform="translate(490.50 466.40)">+</text>
<text font-size="6.5" text-anchor="end" fill="#1a1a1a" stroke="#1a1a1a" stroke-width="0.3" transform="translate(452.10 474.30) scale(0.92 1)">Forskolin</text>
<text font-size="6.2" text-anchor="middle" fill="#1a1a1a" stroke="#1a1a1a" stroke-width="0.3" transform="translate(466.60 474.30)">-</text>
<text font-size="6.2" text-anchor="middle" fill="#1a1a1a" stroke="#1a1a1a" stroke-width="0.3" transform="translate(490.50 474.30)">+</text>
<rect x="0.5" y="0.75" width="518.75" height="481.5" fill="none" stroke="#000" stroke-width="1.5"/>
</svg></body></html>
